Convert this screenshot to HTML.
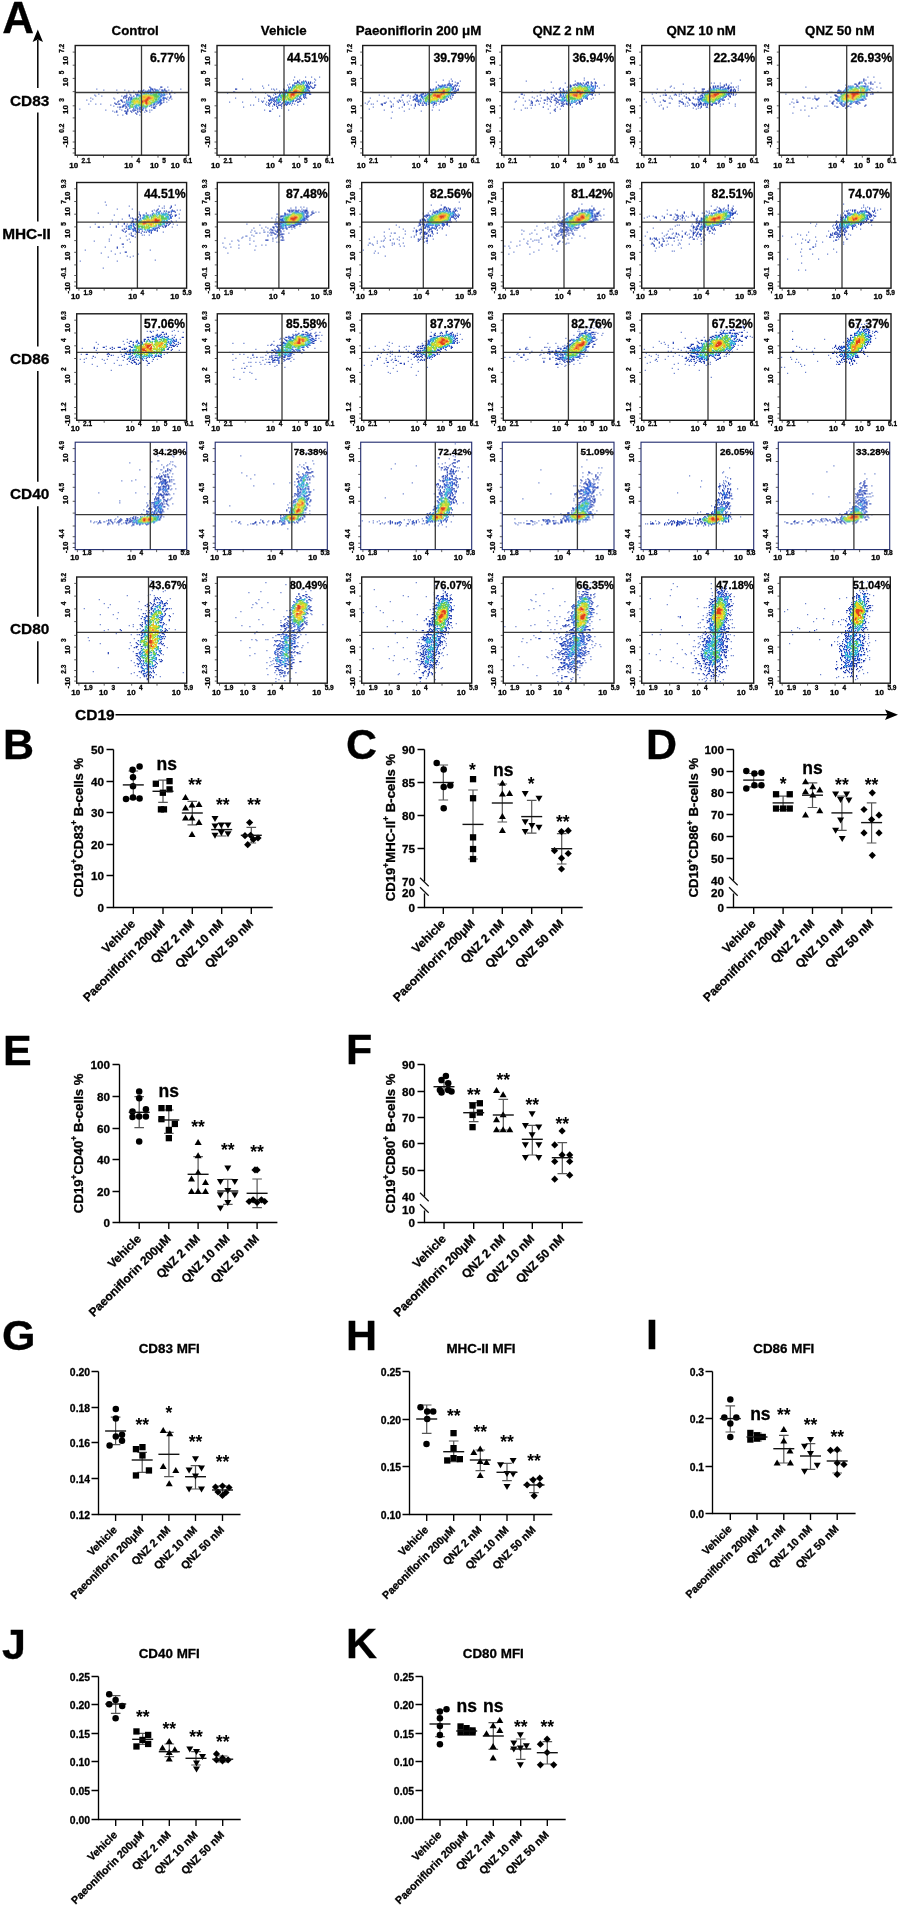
<!DOCTYPE html>
<html><head><meta charset="utf-8"><style>
html,body{margin:0;padding:0;background:#fff;}
svg{display:block;will-change:transform;font-family:"Liberation Sans",sans-serif;}
text{stroke:#000;stroke-width:0.3px;}
</style></head><body>
<svg width="901" height="1907" viewBox="0 0 901 1907">
<rect width="901" height="1907" fill="#fff"/>
<text x="2.3" y="32.8" font-size="44" font-weight="bold">A</text>
<text x="135.2" y="34.7" font-size="13.3" font-weight="bold" text-anchor="middle">Control</text>
<text x="283.7" y="34.7" font-size="13.3" font-weight="bold" text-anchor="middle">Vehicle</text>
<text x="418.5" y="34.7" font-size="13.3" font-weight="bold" text-anchor="middle">Paeoniflorin 200 μM</text>
<text x="563.5" y="34.7" font-size="13.3" font-weight="bold" text-anchor="middle">QNZ 2 nM</text>
<text x="701.2" y="34.7" font-size="13.3" font-weight="bold" text-anchor="middle">QNZ 10 nM</text>
<text x="839.8" y="34.7" font-size="13.3" font-weight="bold" text-anchor="middle">QNZ 50 nM</text>
<path d="M37.8 40.0V88.0M37.8 112.4V221.5M37.8 245.9V346.6M37.8 371.0V481.8M37.8 506.2V616.8M37.8 641.2V683.8" stroke="#000" stroke-width="1.5"/>
<path d="M37.8 29.5L32.6 42L37.8 39.5L43 42Z" fill="#000"/>
<text x="29.6" y="105.6" font-size="15.4" font-weight="bold" text-anchor="middle">CD83</text>
<text x="26.5" y="239.1" font-size="15.4" font-weight="bold" text-anchor="middle">MHC-II</text>
<text x="29.6" y="364.2" font-size="15.4" font-weight="bold" text-anchor="middle">CD86</text>
<text x="29.6" y="499.4" font-size="15.4" font-weight="bold" text-anchor="middle">CD40</text>
<text x="29.6" y="634.4" font-size="15.4" font-weight="bold" text-anchor="middle">CD80</text>
<text x="75" y="720" font-size="15.5" font-weight="bold">CD19</text>
<path d="M115.5 714.8H888" stroke="#000" stroke-width="1.4"/>
<path d="M898 714.8L885 709.6L887.5 714.8L885 720Z" fill="#000"/>
<g transform="translate(75.2 46.1)" stroke-width="1.2"><path stroke="#6b82cf" d="M92 41h1.2M21 43h1.2M84 43h1.2M105 43h1.2M28 44h1.2M41 44h1.2M49 44h1.2M93 44h1.2M53 45h1.2M58 45h1.2M96 45h1.2M42 47h1.2M51 47h1.2M99 47h1.2M23 48h1.2M54 48h1.2M91 48h1.2M19 49h1.2M20 50h1.2M26 50h1.2M46 50h1.2M92 51h1.2M15 52h1.2M38 52h1.2M17 53h1.2M39 53h1.2M96 53h1.2M11 54h1.2M93 54h1.2M15 55h1.2M91 56h1.2M13 58h1.2M20 58h1.2M25 58h1.2M35 59h1.2M38 60h1.2M42 61h1.2M4 63h1.2M44 63h1.2M30 64h1.2M46 64h1.2M74 64h1.2M76 64h1.2M37 65h1.2M39 66h1.2M69 66h1.2M74 66h1.2M42 69h1.2M47 69h1.2M64 69h1.2"/><path stroke="#1f3bb0" d="M74 41h1.2M85 41h1.2M86 41h1.2M75 42h1.2M76 43h1.2M77 43h1.2M79 43h1.2M89 43h1.2M68 44h1.2M73 44h1.2M77 44h1.2M80 44h1.2M86 44h1.2M87 44h1.2M89 44h1.2M63 45h1.2M65 45h1.2M66 45h1.2M67 45h1.2M78 45h1.2M90 45h1.2M91 45h1.2M63 46h1.2M66 46h1.2M65 47h1.2M94 47h1.2M60 48h1.2M62 48h1.2M94 48h1.2M51 49h1.2M55 49h1.2M61 49h1.2M49 50h1.2M50 50h1.2M58 50h1.2M95 50h1.2M48 51h1.2M51 51h1.2M54 51h1.2M56 51h1.2M95 51h1.2M48 52h1.2M50 52h1.2M53 52h1.2M90 52h1.2M94 52h1.2M53 53h1.2M91 53h1.2M45 54h1.2M46 54h1.2M51 54h1.2M53 54h1.2M86 54h1.2M88 54h1.2M43 55h1.2M46 55h1.2M42 56h1.2M47 56h1.2M49 56h1.2M88 56h1.2M39 57h1.2M85 57h1.2M86 57h1.2M40 58h1.2M41 58h1.2M43 58h1.2M44 58h1.2M50 58h1.2M79 58h1.2M81 58h1.2M85 58h1.2M48 59h1.2M78 59h1.2M84 59h1.2M47 60h1.2M48 60h1.2M50 60h1.2M74 60h1.2M80 60h1.2M44 61h1.2M45 61h1.2M47 61h1.2M51 61h1.2M76 61h1.2M78 61h1.2M50 62h1.2M54 62h1.2M78 62h1.2M79 62h1.2M52 63h1.2M62 63h1.2M64 63h1.2M52 64h1.2M57 64h1.2M59 64h1.2M60 64h1.2M66 64h1.2M67 64h1.2M70 64h1.2M41 65h1.2M49 65h1.2M50 65h1.2M52 65h1.2M55 65h1.2M58 65h1.2M62 65h1.2M64 65h1.2M71 65h1.2M41 66h1.2M51 66h1.2M56 66h1.2M62 66h1.2M65 66h1.2M50 67h1.2M51 67h1.2M60 67h1.2M51 68h1.2M61 68h1.2"/><path stroke="#2a60d8" d="M75 43h1.2M75 44h1.2M81 44h1.2M82 44h1.2M70 45h1.2M72 45h1.2M74 45h1.2M75 45h1.2M80 45h1.2M83 45h1.2M87 45h1.2M88 45h1.2M69 46h1.2M71 46h1.2M72 46h1.2M73 46h1.2M75 46h1.2M77 46h1.2M79 46h1.2M85 46h1.2M86 46h1.2M66 47h1.2M68 47h1.2M69 47h1.2M73 47h1.2M75 47h1.2M76 47h1.2M85 47h1.2M86 48h1.2M89 48h1.2M62 49h1.2M63 49h1.2M85 49h1.2M87 49h1.2M88 49h1.2M89 49h1.2M61 50h1.2M85 50h1.2M86 50h1.2M85 51h1.2M88 51h1.2M55 52h1.2M56 52h1.2M87 52h1.2M88 52h1.2M89 52h1.2M55 53h1.2M56 53h1.2M85 53h1.2M88 53h1.2M55 54h1.2M84 54h1.2M85 54h1.2M51 55h1.2M82 55h1.2M84 55h1.2M85 55h1.2M53 56h1.2M81 56h1.2M83 56h1.2M84 56h1.2M85 56h1.2M51 57h1.2M79 57h1.2M82 57h1.2M83 57h1.2M52 58h1.2M53 58h1.2M78 58h1.2M49 59h1.2M52 59h1.2M75 59h1.2M76 59h1.2M53 60h1.2M59 60h1.2M60 61h1.2M64 61h1.2M65 61h1.2M67 61h1.2M79 61h1.2M58 62h1.2M60 62h1.2M62 62h1.2M64 62h1.2M68 62h1.2M70 62h1.2M58 63h1.2M65 63h1.2M66 63h1.2M67 63h1.2"/><path stroke="#35b5d5" d="M81 45h1.2M82 45h1.2M80 46h1.2M83 46h1.2M88 46h1.2M71 47h1.2M72 47h1.2M78 47h1.2M80 47h1.2M82 47h1.2M83 47h1.2M84 47h1.2M88 47h1.2M66 48h1.2M68 48h1.2M69 48h1.2M73 48h1.2M75 48h1.2M77 48h1.2M83 48h1.2M84 48h1.2M88 48h1.2M64 49h1.2M65 49h1.2M82 49h1.2M83 49h1.2M84 49h1.2M63 50h1.2M64 50h1.2M61 51h1.2M83 51h1.2M84 51h1.2M58 52h1.2M59 52h1.2M83 52h1.2M84 52h1.2M57 53h1.2M82 53h1.2M83 53h1.2M83 54h1.2M55 55h1.2M80 55h1.2M81 55h1.2M51 56h1.2M52 56h1.2M54 56h1.2M55 56h1.2M79 56h1.2M80 56h1.2M54 57h1.2M55 57h1.2M78 57h1.2M54 58h1.2M76 58h1.2M54 59h1.2M60 59h1.2M61 59h1.2M62 59h1.2M63 59h1.2M54 60h1.2M60 60h1.2M61 60h1.2M63 60h1.2M66 60h1.2M69 60h1.2M72 60h1.2M54 61h1.2M58 61h1.2M61 61h1.2M69 61h1.2M71 61h1.2M61 62h1.2"/><path stroke="#5ac85c" d="M81 46h1.2M82 46h1.2M81 47h1.2M70 48h1.2M71 48h1.2M78 48h1.2M79 48h1.2M80 48h1.2M81 48h1.2M66 49h1.2M74 49h1.2M75 49h1.2M76 49h1.2M77 49h1.2M78 49h1.2M79 49h1.2M80 49h1.2M81 49h1.2M65 50h1.2M78 50h1.2M79 50h1.2M80 50h1.2M81 50h1.2M82 50h1.2M83 50h1.2M64 51h1.2M65 51h1.2M79 51h1.2M80 51h1.2M81 51h1.2M82 51h1.2M60 52h1.2M61 52h1.2M63 52h1.2M79 52h1.2M81 52h1.2M58 53h1.2M59 53h1.2M60 53h1.2M61 53h1.2M62 53h1.2M63 53h1.2M79 53h1.2M80 53h1.2M81 53h1.2M57 54h1.2M64 54h1.2M80 54h1.2M81 54h1.2M56 55h1.2M64 55h1.2M79 55h1.2M56 56h1.2M57 56h1.2M76 56h1.2M77 56h1.2M78 56h1.2M76 57h1.2M56 58h1.2M57 58h1.2M58 58h1.2M61 58h1.2M63 58h1.2M64 58h1.2M75 58h1.2M55 59h1.2M57 59h1.2M64 59h1.2M65 59h1.2M66 59h1.2M68 59h1.2M72 59h1.2M55 60h1.2M57 60h1.2M67 60h1.2M68 60h1.2M70 60h1.2M71 60h1.2M55 61h1.2M56 61h1.2M57 61h1.2M70 61h1.2"/><path stroke="#b5d935" d="M68 49h1.2M69 49h1.2M70 49h1.2M71 49h1.2M72 49h1.2M73 49h1.2M66 50h1.2M75 50h1.2M76 50h1.2M77 50h1.2M66 51h1.2M78 51h1.2M64 52h1.2M65 52h1.2M66 52h1.2M78 52h1.2M80 52h1.2M65 53h1.2M67 53h1.2M78 53h1.2M58 54h1.2M59 54h1.2M61 54h1.2M62 54h1.2M65 54h1.2M75 54h1.2M76 54h1.2M77 54h1.2M78 54h1.2M57 55h1.2M58 55h1.2M59 55h1.2M60 55h1.2M63 55h1.2M73 55h1.2M74 55h1.2M77 55h1.2M78 55h1.2M58 56h1.2M63 56h1.2M64 56h1.2M73 56h1.2M74 56h1.2M75 56h1.2M58 57h1.2M60 57h1.2M62 57h1.2M63 57h1.2M64 57h1.2M75 57h1.2M59 58h1.2M65 58h1.2M67 58h1.2M68 58h1.2M73 58h1.2M74 58h1.2M67 59h1.2M71 59h1.2M56 60h1.2"/><path stroke="#f2d21e" d="M67 50h1.2M68 50h1.2M69 50h1.2M70 50h1.2M71 50h1.2M72 50h1.2M73 50h1.2M74 50h1.2M67 51h1.2M70 51h1.2M71 51h1.2M75 51h1.2M76 51h1.2M77 51h1.2M67 52h1.2M68 52h1.2M69 52h1.2M70 52h1.2M77 52h1.2M68 53h1.2M69 53h1.2M75 53h1.2M76 53h1.2M77 53h1.2M66 54h1.2M67 54h1.2M73 54h1.2M61 55h1.2M62 55h1.2M65 55h1.2M72 55h1.2M59 56h1.2M60 56h1.2M61 56h1.2M62 56h1.2M65 56h1.2M68 56h1.2M69 56h1.2M72 56h1.2M59 57h1.2M65 57h1.2M67 57h1.2M68 57h1.2M69 57h1.2M73 57h1.2M74 57h1.2M66 58h1.2M70 58h1.2M72 58h1.2"/><path stroke="#f0862a" d="M68 51h1.2M69 51h1.2M72 51h1.2M74 51h1.2M71 52h1.2M75 52h1.2M76 52h1.2M70 53h1.2M73 53h1.2M74 53h1.2M68 54h1.2M69 54h1.2M68 55h1.2M66 57h1.2M72 57h1.2"/><path stroke="#e0401a" d="M73 51h1.2M72 52h1.2M73 52h1.2M74 52h1.2M71 53h1.2M72 53h1.2M70 54h1.2M71 54h1.2M72 54h1.2M66 55h1.2M67 55h1.2M69 55h1.2M70 55h1.2M71 55h1.2M66 56h1.2M67 56h1.2M70 56h1.2M71 56h1.2M70 57h1.2M71 57h1.2M71 58h1.2"/></g>
<g transform="translate(217.0 46.1)" stroke-width="1.2"><path stroke="#6b82cf" d="M77 31h1.2M88 31h1.2M94 31h1.2M102 31h1.2M25 33h1.2M97 33h1.2M76 34h1.2M82 34h1.2M98 34h1.2M97 36h1.2M95 37h1.2M72 38h1.2M51 39h1.2M70 39h1.2M45 40h1.2M46 42h1.2M33 43h1.2M54 43h1.2M56 43h1.2M59 43h1.2M57 44h1.2M62 45h1.2M35 46h1.2M10 47h1.2M48 47h1.2M57 47h1.2M60 47h1.2M50 49h1.2M56 49h1.2M38 51h1.2M18 52h1.2M47 52h1.2M89 52h1.2M41 53h1.2M41 55h1.2M44 55h1.2M46 55h1.2M12 56h1.2M25 56h1.2M49 56h1.2M48 58h1.2M77 58h1.2M86 58h1.2M33 59h1.2M36 59h1.2M49 59h1.2M74 59h1.2M80 59h1.2M52 60h1.2M55 60h1.2M26 61h1.2M64 62h1.2M55 63h1.2M47 64h1.2M71 64h1.2M62 70h1.2"/><path stroke="#1f3bb0" d="M80 35h1.2M86 35h1.2M88 35h1.2M80 36h1.2M81 36h1.2M84 36h1.2M91 36h1.2M93 36h1.2M77 37h1.2M78 37h1.2M79 37h1.2M82 37h1.2M91 37h1.2M93 37h1.2M90 38h1.2M92 38h1.2M75 39h1.2M97 39h1.2M98 39h1.2M93 40h1.2M71 41h1.2M73 41h1.2M94 41h1.2M97 41h1.2M92 42h1.2M95 42h1.2M96 42h1.2M18 43h1.2M19 43h1.2M66 43h1.2M67 44h1.2M69 44h1.2M91 44h1.2M68 45h1.2M92 45h1.2M16 46h1.2M17 46h1.2M64 46h1.2M63 47h1.2M58 48h1.2M62 48h1.2M92 48h1.2M93 48h1.2M88 49h1.2M51 50h1.2M52 50h1.2M53 51h1.2M58 51h1.2M59 51h1.2M82 51h1.2M86 51h1.2M88 51h1.2M55 52h1.2M57 52h1.2M83 52h1.2M87 52h1.2M53 53h1.2M56 53h1.2M80 53h1.2M81 53h1.2M82 53h1.2M84 53h1.2M51 54h1.2M52 54h1.2M57 54h1.2M79 54h1.2M52 55h1.2M56 55h1.2M58 55h1.2M76 55h1.2M78 55h1.2M82 55h1.2M83 55h1.2M45 56h1.2M54 56h1.2M57 56h1.2M80 56h1.2M81 56h1.2M51 57h1.2M53 57h1.2M61 57h1.2M65 57h1.2M75 57h1.2M52 58h1.2M56 58h1.2M57 58h1.2M59 58h1.2M64 58h1.2M68 58h1.2M70 58h1.2M72 58h1.2M51 59h1.2M57 59h1.2M61 59h1.2M62 59h1.2M63 59h1.2M67 59h1.2M69 59h1.2M59 60h1.2M64 60h1.2M60 61h1.2M60 62h1.2M52 65h1.2M53 65h1.2"/><path stroke="#2a60d8" d="M85 36h1.2M87 36h1.2M89 36h1.2M89 37h1.2M83 38h1.2M84 38h1.2M76 39h1.2M77 39h1.2M88 39h1.2M89 39h1.2M90 39h1.2M75 40h1.2M89 40h1.2M90 40h1.2M91 40h1.2M89 41h1.2M90 41h1.2M91 41h1.2M92 41h1.2M72 42h1.2M89 42h1.2M91 42h1.2M71 43h1.2M90 43h1.2M89 44h1.2M90 44h1.2M69 45h1.2M69 46h1.2M89 46h1.2M90 46h1.2M91 46h1.2M65 47h1.2M67 47h1.2M88 47h1.2M89 47h1.2M90 47h1.2M91 47h1.2M92 47h1.2M86 48h1.2M87 48h1.2M88 48h1.2M62 49h1.2M86 49h1.2M61 50h1.2M62 50h1.2M83 50h1.2M86 50h1.2M87 50h1.2M60 51h1.2M63 51h1.2M54 53h1.2M59 53h1.2M53 54h1.2M54 54h1.2M55 54h1.2M59 54h1.2M76 54h1.2M75 55h1.2M59 56h1.2M61 56h1.2M62 56h1.2M63 56h1.2M69 56h1.2M70 56h1.2M71 56h1.2M60 57h1.2M68 57h1.2M70 57h1.2M71 57h1.2M73 57h1.2M69 58h1.2"/><path stroke="#35b5d5" d="M86 36h1.2M85 37h1.2M86 37h1.2M87 37h1.2M80 38h1.2M81 38h1.2M86 38h1.2M76 40h1.2M77 40h1.2M87 40h1.2M75 41h1.2M74 42h1.2M75 42h1.2M88 42h1.2M72 43h1.2M74 43h1.2M87 43h1.2M88 43h1.2M71 44h1.2M74 44h1.2M88 44h1.2M71 45h1.2M87 45h1.2M88 45h1.2M89 45h1.2M70 46h1.2M87 46h1.2M88 46h1.2M68 47h1.2M69 47h1.2M65 48h1.2M66 48h1.2M67 48h1.2M68 48h1.2M85 48h1.2M63 49h1.2M68 49h1.2M83 49h1.2M84 49h1.2M63 50h1.2M81 50h1.2M61 51h1.2M64 51h1.2M80 51h1.2M61 52h1.2M64 52h1.2M78 52h1.2M79 52h1.2M60 53h1.2M63 53h1.2M60 54h1.2M62 54h1.2M64 54h1.2M75 54h1.2M60 55h1.2M61 55h1.2M62 55h1.2M68 55h1.2M69 55h1.2M73 55h1.2M74 55h1.2M66 56h1.2M67 56h1.2M68 56h1.2M72 56h1.2M73 56h1.2"/><path stroke="#5ac85c" d="M79 39h1.2M80 39h1.2M81 39h1.2M82 39h1.2M83 39h1.2M85 39h1.2M86 39h1.2M78 40h1.2M77 41h1.2M78 41h1.2M87 41h1.2M76 42h1.2M77 42h1.2M87 42h1.2M86 43h1.2M72 44h1.2M73 44h1.2M75 44h1.2M85 44h1.2M86 44h1.2M72 45h1.2M73 45h1.2M85 45h1.2M86 45h1.2M71 46h1.2M85 46h1.2M86 46h1.2M70 47h1.2M84 47h1.2M85 47h1.2M70 48h1.2M83 48h1.2M84 48h1.2M64 49h1.2M65 49h1.2M66 49h1.2M67 49h1.2M70 49h1.2M80 49h1.2M81 49h1.2M64 50h1.2M65 50h1.2M67 50h1.2M68 50h1.2M69 50h1.2M70 50h1.2M79 50h1.2M80 50h1.2M65 51h1.2M68 51h1.2M78 51h1.2M68 52h1.2M71 52h1.2M77 52h1.2M61 53h1.2M62 53h1.2M71 53h1.2M72 53h1.2M73 53h1.2M76 53h1.2M61 54h1.2M69 54h1.2M71 54h1.2M72 54h1.2M73 54h1.2M74 54h1.2M66 55h1.2M67 55h1.2"/><path stroke="#b5d935" d="M79 40h1.2M81 40h1.2M82 40h1.2M83 40h1.2M84 40h1.2M85 40h1.2M86 40h1.2M79 41h1.2M80 41h1.2M81 41h1.2M82 41h1.2M83 41h1.2M84 41h1.2M86 41h1.2M79 42h1.2M80 42h1.2M81 42h1.2M82 42h1.2M84 42h1.2M85 42h1.2M86 42h1.2M76 43h1.2M77 43h1.2M79 43h1.2M82 43h1.2M83 43h1.2M84 43h1.2M85 43h1.2M83 44h1.2M84 44h1.2M84 45h1.2M72 46h1.2M73 46h1.2M74 46h1.2M84 46h1.2M71 47h1.2M83 47h1.2M71 48h1.2M81 48h1.2M82 48h1.2M71 49h1.2M78 49h1.2M79 49h1.2M66 50h1.2M71 50h1.2M66 51h1.2M67 51h1.2M69 51h1.2M70 51h1.2M72 51h1.2M77 51h1.2M65 52h1.2M70 52h1.2M72 52h1.2M73 52h1.2M75 52h1.2M76 52h1.2M65 53h1.2M67 53h1.2M68 53h1.2M69 53h1.2M70 53h1.2M74 53h1.2M75 53h1.2M65 54h1.2M66 54h1.2"/><path stroke="#f2d21e" d="M78 43h1.2M76 44h1.2M77 44h1.2M80 44h1.2M81 44h1.2M76 45h1.2M83 45h1.2M75 46h1.2M80 46h1.2M81 46h1.2M83 46h1.2M72 47h1.2M73 47h1.2M79 47h1.2M80 47h1.2M81 47h1.2M82 47h1.2M72 48h1.2M78 48h1.2M79 48h1.2M72 49h1.2M72 50h1.2M77 50h1.2M75 51h1.2M76 51h1.2M66 52h1.2M74 52h1.2M66 53h1.2"/><path stroke="#f0862a" d="M78 44h1.2M79 44h1.2M80 45h1.2M81 45h1.2M82 45h1.2M82 46h1.2M74 47h1.2M78 47h1.2M73 48h1.2M77 48h1.2M73 49h1.2M77 49h1.2M73 50h1.2M74 50h1.2M76 50h1.2M73 51h1.2M74 51h1.2"/><path stroke="#e0401a" d="M77 45h1.2M78 45h1.2M79 45h1.2M76 46h1.2M77 46h1.2M78 46h1.2M79 46h1.2M75 47h1.2M76 47h1.2M77 47h1.2M74 48h1.2M75 48h1.2M76 48h1.2M74 49h1.2M75 49h1.2M76 49h1.2"/></g>
<g transform="translate(362.7 46.1)" stroke-width="1.2"><path stroke="#6b82cf" d="M88 33h1.2M80 34h1.2M86 35h1.2M97 35h1.2M73 36h1.2M92 36h1.2M96 40h1.2M16 49h1.2M45 49h1.2M21 50h1.2M44 50h1.2M47 50h1.2M38 51h1.2M89 51h1.2M7 52h1.2M25 52h1.2M31 52h1.2M47 52h1.2M88 53h1.2M39 54h1.2M6 55h1.2M14 55h1.2M27 55h1.2M34 55h1.2M46 55h1.2M5 56h1.2M23 56h1.2M28 56h1.2M40 56h1.2M44 56h1.2M2 57h1.2M4 58h1.2M8 58h1.2M10 58h1.2M30 58h1.2M45 58h1.2M76 58h1.2M48 59h1.2M73 59h1.2M30 60h1.2M10 61h1.2M39 61h1.2M70 61h1.2M36 62h1.2M51 62h1.2M6 63h1.2M46 63h1.2M21 64h1.2M69 64h1.2M76 64h1.2M41 65h1.2M58 65h1.2M29 66h1.2M28 72h1.2"/><path stroke="#1f3bb0" d="M89 35h1.2M86 37h1.2M94 37h1.2M95 37h1.2M85 38h1.2M87 38h1.2M89 38h1.2M75 39h1.2M79 39h1.2M82 39h1.2M84 39h1.2M92 39h1.2M94 39h1.2M76 40h1.2M91 40h1.2M93 40h1.2M73 41h1.2M90 41h1.2M90 42h1.2M92 42h1.2M67 43h1.2M70 43h1.2M90 43h1.2M92 43h1.2M95 43h1.2M67 44h1.2M68 44h1.2M94 44h1.2M95 44h1.2M91 45h1.2M93 45h1.2M66 46h1.2M92 46h1.2M60 47h1.2M62 47h1.2M91 47h1.2M92 47h1.2M52 48h1.2M58 48h1.2M59 48h1.2M60 48h1.2M39 49h1.2M40 49h1.2M53 49h1.2M54 49h1.2M62 49h1.2M89 49h1.2M90 49h1.2M51 50h1.2M54 50h1.2M56 50h1.2M87 50h1.2M50 51h1.2M85 51h1.2M87 52h1.2M51 53h1.2M52 53h1.2M57 53h1.2M84 53h1.2M36 54h1.2M50 54h1.2M52 54h1.2M55 54h1.2M83 54h1.2M84 54h1.2M37 55h1.2M53 55h1.2M54 55h1.2M77 55h1.2M81 55h1.2M35 56h1.2M55 56h1.2M77 56h1.2M79 56h1.2M80 56h1.2M21 57h1.2M22 57h1.2M57 57h1.2M59 57h1.2M61 57h1.2M71 57h1.2M73 57h1.2M18 58h1.2M19 58h1.2M41 58h1.2M52 58h1.2M55 58h1.2M66 58h1.2M71 58h1.2M19 59h1.2M41 59h1.2M52 59h1.2M56 59h1.2M59 59h1.2M60 59h1.2M63 59h1.2M70 59h1.2M28 60h1.2M52 60h1.2M28 61h1.2"/><path stroke="#2a60d8" d="M81 39h1.2M85 39h1.2M86 39h1.2M87 39h1.2M88 39h1.2M77 40h1.2M78 40h1.2M79 40h1.2M80 40h1.2M81 40h1.2M87 40h1.2M88 40h1.2M77 41h1.2M78 41h1.2M82 41h1.2M83 41h1.2M84 41h1.2M89 41h1.2M73 42h1.2M75 42h1.2M72 43h1.2M89 43h1.2M69 44h1.2M70 44h1.2M89 44h1.2M92 45h1.2M68 46h1.2M90 46h1.2M65 47h1.2M66 47h1.2M88 47h1.2M89 47h1.2M90 47h1.2M64 48h1.2M88 48h1.2M57 49h1.2M58 49h1.2M63 49h1.2M58 50h1.2M59 50h1.2M61 50h1.2M62 50h1.2M53 51h1.2M54 51h1.2M58 51h1.2M59 51h1.2M53 52h1.2M54 52h1.2M59 52h1.2M53 53h1.2M54 53h1.2M60 53h1.2M83 53h1.2M57 54h1.2M58 54h1.2M55 55h1.2M56 55h1.2M60 55h1.2M75 55h1.2M78 55h1.2M57 56h1.2M61 56h1.2M65 56h1.2M70 56h1.2M71 56h1.2M62 57h1.2M63 57h1.2M68 57h1.2M69 57h1.2M72 57h1.2M63 58h1.2M65 58h1.2"/><path stroke="#35b5d5" d="M80 41h1.2M81 41h1.2M86 41h1.2M87 41h1.2M76 42h1.2M77 42h1.2M79 42h1.2M88 42h1.2M73 43h1.2M74 43h1.2M88 43h1.2M72 44h1.2M88 44h1.2M87 45h1.2M69 46h1.2M86 46h1.2M87 46h1.2M87 47h1.2M65 48h1.2M66 48h1.2M67 48h1.2M68 48h1.2M86 49h1.2M87 49h1.2M83 50h1.2M84 50h1.2M85 50h1.2M60 51h1.2M83 51h1.2M61 52h1.2M82 52h1.2M80 53h1.2M81 53h1.2M65 54h1.2M78 54h1.2M57 55h1.2M58 55h1.2M64 55h1.2M69 55h1.2M71 55h1.2M72 55h1.2M74 55h1.2M63 56h1.2M66 56h1.2M68 56h1.2M69 56h1.2"/><path stroke="#5ac85c" d="M80 42h1.2M84 42h1.2M85 42h1.2M86 42h1.2M75 43h1.2M78 43h1.2M79 43h1.2M87 43h1.2M74 44h1.2M86 44h1.2M72 45h1.2M85 45h1.2M70 46h1.2M85 46h1.2M69 47h1.2M85 47h1.2M86 47h1.2M69 48h1.2M85 48h1.2M86 48h1.2M65 49h1.2M66 49h1.2M67 49h1.2M68 49h1.2M84 49h1.2M64 50h1.2M65 50h1.2M67 50h1.2M81 50h1.2M82 50h1.2M63 51h1.2M64 51h1.2M80 51h1.2M81 51h1.2M82 51h1.2M62 52h1.2M63 52h1.2M64 52h1.2M80 52h1.2M81 52h1.2M62 53h1.2M63 53h1.2M64 53h1.2M65 53h1.2M75 53h1.2M77 53h1.2M78 53h1.2M79 53h1.2M62 54h1.2M66 54h1.2M74 54h1.2M62 55h1.2M63 55h1.2M66 55h1.2M68 55h1.2M73 55h1.2M67 56h1.2"/><path stroke="#b5d935" d="M76 43h1.2M80 43h1.2M81 43h1.2M82 43h1.2M83 43h1.2M84 43h1.2M85 43h1.2M86 43h1.2M77 44h1.2M78 44h1.2M79 44h1.2M83 44h1.2M84 44h1.2M85 44h1.2M73 45h1.2M74 45h1.2M75 45h1.2M83 45h1.2M84 45h1.2M71 46h1.2M72 46h1.2M73 46h1.2M74 46h1.2M75 46h1.2M76 46h1.2M84 46h1.2M70 47h1.2M75 47h1.2M76 47h1.2M83 48h1.2M84 48h1.2M69 49h1.2M81 49h1.2M66 50h1.2M68 50h1.2M79 50h1.2M80 50h1.2M65 51h1.2M66 51h1.2M67 51h1.2M68 51h1.2M69 51h1.2M79 51h1.2M65 52h1.2M66 52h1.2M67 52h1.2M69 52h1.2M76 52h1.2M79 52h1.2M67 53h1.2M74 53h1.2M63 54h1.2M67 54h1.2M68 54h1.2M69 54h1.2M70 54h1.2M71 54h1.2M73 54h1.2M67 55h1.2"/><path stroke="#f2d21e" d="M76 44h1.2M82 44h1.2M76 45h1.2M77 45h1.2M78 45h1.2M79 45h1.2M82 45h1.2M77 46h1.2M78 46h1.2M82 46h1.2M83 46h1.2M71 47h1.2M72 47h1.2M73 47h1.2M74 47h1.2M77 47h1.2M82 47h1.2M83 47h1.2M84 47h1.2M70 48h1.2M73 48h1.2M74 48h1.2M75 48h1.2M76 48h1.2M82 48h1.2M79 49h1.2M80 49h1.2M69 50h1.2M78 50h1.2M71 51h1.2M72 51h1.2M73 51h1.2M78 51h1.2M70 52h1.2M71 52h1.2M72 52h1.2M73 52h1.2M74 52h1.2M77 52h1.2M78 52h1.2M68 53h1.2M69 53h1.2M70 53h1.2M71 53h1.2M72 53h1.2M73 53h1.2"/><path stroke="#f0862a" d="M80 44h1.2M81 44h1.2M79 46h1.2M81 46h1.2M78 47h1.2M81 47h1.2M71 48h1.2M72 48h1.2M77 48h1.2M79 48h1.2M80 48h1.2M81 48h1.2M70 49h1.2M73 49h1.2M77 49h1.2M78 49h1.2M70 50h1.2M71 50h1.2M72 50h1.2M77 50h1.2M77 51h1.2"/><path stroke="#e0401a" d="M80 45h1.2M81 45h1.2M80 46h1.2M79 47h1.2M80 47h1.2M78 48h1.2M71 49h1.2M72 49h1.2M74 49h1.2M75 49h1.2M76 49h1.2M73 50h1.2M74 50h1.2M75 50h1.2M76 50h1.2M74 51h1.2M75 51h1.2M76 51h1.2"/></g>
<g transform="translate(501.7 46.1)" stroke-width="1.2"><path stroke="#6b82cf" d="M82 32h1.2M92 33h1.2M82 34h1.2M24 35h1.2M73 35h1.2M49 36h1.2M63 37h1.2M102 39h1.2M65 41h1.2M51 42h1.2M97 42h1.2M42 44h1.2M30 46h1.2M52 46h1.2M45 47h1.2M49 48h1.2M97 48h1.2M22 49h1.2M38 49h1.2M93 49h1.2M35 50h1.2M17 51h1.2M30 51h1.2M21 52h1.2M32 52h1.2M39 52h1.2M91 52h1.2M89 53h1.2M27 54h1.2M14 55h1.2M23 55h1.2M38 55h1.2M45 55h1.2M13 56h1.2M37 58h1.2M45 58h1.2M21 59h1.2M28 59h1.2M33 59h1.2M53 59h1.2M48 60h1.2M55 61h1.2M70 61h1.2M23 62h1.2M25 62h1.2M29 62h1.2M12 63h1.2M46 63h1.2M58 63h1.2M19 64h1.2M48 67h1.2"/><path stroke="#1f3bb0" d="M85 36h1.2M86 36h1.2M89 36h1.2M93 36h1.2M75 37h1.2M76 37h1.2M78 37h1.2M81 37h1.2M84 37h1.2M86 37h1.2M90 37h1.2M93 37h1.2M94 37h1.2M73 38h1.2M79 38h1.2M84 38h1.2M89 38h1.2M68 39h1.2M71 39h1.2M72 39h1.2M74 39h1.2M75 39h1.2M80 39h1.2M93 39h1.2M68 40h1.2M69 40h1.2M95 40h1.2M68 41h1.2M58 42h1.2M57 43h1.2M61 43h1.2M61 44h1.2M58 45h1.2M62 45h1.2M64 45h1.2M92 45h1.2M38 46h1.2M39 46h1.2M59 46h1.2M92 46h1.2M54 47h1.2M58 47h1.2M91 47h1.2M19 48h1.2M20 48h1.2M54 48h1.2M89 48h1.2M90 48h1.2M51 49h1.2M90 49h1.2M52 50h1.2M45 51h1.2M49 51h1.2M50 51h1.2M57 51h1.2M46 52h1.2M53 52h1.2M54 52h1.2M85 52h1.2M45 53h1.2M47 53h1.2M49 53h1.2M55 53h1.2M85 53h1.2M35 54h1.2M42 54h1.2M43 54h1.2M52 54h1.2M53 54h1.2M56 54h1.2M57 54h1.2M80 54h1.2M29 55h1.2M34 55h1.2M36 55h1.2M48 55h1.2M54 55h1.2M77 55h1.2M79 55h1.2M80 55h1.2M30 56h1.2M49 56h1.2M55 56h1.2M56 56h1.2M61 56h1.2M77 56h1.2M78 56h1.2M29 57h1.2M30 57h1.2M42 57h1.2M54 57h1.2M59 57h1.2M60 57h1.2M64 57h1.2M75 57h1.2M77 57h1.2M57 58h1.2M61 58h1.2M62 58h1.2M64 58h1.2M65 58h1.2M68 58h1.2M74 58h1.2M78 58h1.2M30 59h1.2M60 59h1.2M66 59h1.2M68 59h1.2M59 60h1.2M61 60h1.2M41 61h1.2M53 63h1.2M52 64h1.2M53 65h1.2"/><path stroke="#2a60d8" d="M76 38h1.2M77 38h1.2M78 38h1.2M83 38h1.2M82 39h1.2M85 39h1.2M86 39h1.2M89 39h1.2M83 40h1.2M85 40h1.2M89 40h1.2M90 40h1.2M91 40h1.2M93 40h1.2M91 41h1.2M93 41h1.2M90 42h1.2M93 42h1.2M88 43h1.2M89 43h1.2M92 43h1.2M66 44h1.2M90 44h1.2M91 44h1.2M89 45h1.2M90 45h1.2M60 46h1.2M61 46h1.2M91 46h1.2M60 47h1.2M62 47h1.2M64 47h1.2M58 48h1.2M87 48h1.2M88 48h1.2M58 49h1.2M59 49h1.2M61 49h1.2M63 49h1.2M86 49h1.2M58 50h1.2M61 50h1.2M85 50h1.2M59 51h1.2M60 51h1.2M62 51h1.2M63 51h1.2M84 51h1.2M62 52h1.2M81 52h1.2M83 52h1.2M84 52h1.2M79 53h1.2M58 54h1.2M62 54h1.2M63 54h1.2M76 54h1.2M59 55h1.2M60 55h1.2M62 55h1.2M64 55h1.2M74 55h1.2M72 56h1.2M73 56h1.2M66 57h1.2M67 57h1.2M69 57h1.2M70 57h1.2"/><path stroke="#35b5d5" d="M77 39h1.2M78 39h1.2M76 40h1.2M79 40h1.2M81 40h1.2M82 40h1.2M87 40h1.2M80 41h1.2M85 41h1.2M86 41h1.2M87 41h1.2M88 41h1.2M69 42h1.2M87 42h1.2M91 42h1.2M68 43h1.2M86 43h1.2M90 43h1.2M67 44h1.2M68 44h1.2M69 44h1.2M86 44h1.2M87 44h1.2M66 45h1.2M88 45h1.2M65 46h1.2M84 46h1.2M88 46h1.2M61 47h1.2M65 47h1.2M84 47h1.2M85 47h1.2M88 47h1.2M61 48h1.2M85 48h1.2M64 49h1.2M83 49h1.2M84 49h1.2M82 50h1.2M83 50h1.2M84 50h1.2M81 51h1.2M82 51h1.2M83 51h1.2M60 52h1.2M61 52h1.2M64 52h1.2M60 53h1.2M61 53h1.2M64 53h1.2M78 53h1.2M59 54h1.2M60 54h1.2M61 54h1.2M64 54h1.2M70 54h1.2M72 54h1.2M73 54h1.2M74 54h1.2M75 54h1.2M65 55h1.2M69 55h1.2M70 55h1.2M72 55h1.2M66 56h1.2M67 56h1.2M69 56h1.2M71 56h1.2"/><path stroke="#5ac85c" d="M77 40h1.2M78 40h1.2M72 41h1.2M73 41h1.2M75 41h1.2M76 41h1.2M79 41h1.2M82 41h1.2M83 41h1.2M84 41h1.2M70 42h1.2M84 42h1.2M85 42h1.2M70 43h1.2M85 43h1.2M82 44h1.2M83 44h1.2M84 44h1.2M85 44h1.2M67 45h1.2M69 45h1.2M82 45h1.2M83 45h1.2M84 45h1.2M85 45h1.2M86 45h1.2M87 45h1.2M83 46h1.2M86 46h1.2M87 46h1.2M83 47h1.2M87 47h1.2M82 48h1.2M81 49h1.2M64 50h1.2M67 50h1.2M80 50h1.2M81 50h1.2M64 51h1.2M67 51h1.2M68 51h1.2M69 51h1.2M70 51h1.2M68 52h1.2M69 52h1.2M70 52h1.2M71 52h1.2M72 52h1.2M73 52h1.2M79 52h1.2M67 53h1.2M68 53h1.2M69 53h1.2M70 53h1.2M71 53h1.2M72 53h1.2M73 53h1.2M75 53h1.2M77 53h1.2M65 54h1.2M67 54h1.2M66 55h1.2M67 55h1.2"/><path stroke="#b5d935" d="M77 41h1.2M78 41h1.2M71 42h1.2M73 42h1.2M74 42h1.2M75 42h1.2M76 42h1.2M77 42h1.2M79 42h1.2M80 42h1.2M81 42h1.2M82 42h1.2M83 42h1.2M73 43h1.2M74 43h1.2M76 43h1.2M77 43h1.2M78 43h1.2M79 43h1.2M81 43h1.2M82 43h1.2M83 43h1.2M84 43h1.2M73 44h1.2M79 44h1.2M81 44h1.2M70 45h1.2M72 45h1.2M73 45h1.2M66 46h1.2M68 46h1.2M69 46h1.2M70 46h1.2M72 46h1.2M73 46h1.2M82 46h1.2M66 47h1.2M82 47h1.2M66 48h1.2M65 49h1.2M66 49h1.2M67 49h1.2M68 49h1.2M80 49h1.2M65 50h1.2M68 50h1.2M69 50h1.2M65 51h1.2M66 51h1.2M71 51h1.2M72 51h1.2M79 51h1.2M65 52h1.2M66 52h1.2M74 52h1.2M75 52h1.2M77 52h1.2M78 52h1.2M66 53h1.2M66 54h1.2"/><path stroke="#f2d21e" d="M78 42h1.2M71 43h1.2M72 43h1.2M75 43h1.2M80 43h1.2M71 44h1.2M72 44h1.2M74 44h1.2M76 44h1.2M77 44h1.2M78 44h1.2M80 44h1.2M71 45h1.2M74 45h1.2M81 45h1.2M67 46h1.2M71 46h1.2M74 46h1.2M81 46h1.2M67 47h1.2M68 47h1.2M69 47h1.2M70 47h1.2M71 47h1.2M72 47h1.2M73 47h1.2M81 47h1.2M67 48h1.2M68 48h1.2M69 48h1.2M70 48h1.2M76 48h1.2M80 48h1.2M69 49h1.2M76 49h1.2M77 49h1.2M79 49h1.2M71 50h1.2M76 50h1.2M77 50h1.2M79 50h1.2M74 51h1.2M75 51h1.2M76 51h1.2M77 51h1.2M78 51h1.2M76 52h1.2"/><path stroke="#f0862a" d="M75 44h1.2M78 45h1.2M80 45h1.2M74 47h1.2M75 47h1.2M77 47h1.2M80 47h1.2M71 48h1.2M72 48h1.2M73 48h1.2M74 48h1.2M75 48h1.2M77 48h1.2M79 48h1.2M70 49h1.2M71 49h1.2M75 49h1.2M78 49h1.2M72 50h1.2M73 50h1.2M75 50h1.2M78 50h1.2"/><path stroke="#e0401a" d="M75 45h1.2M76 45h1.2M77 45h1.2M75 46h1.2M76 46h1.2M77 46h1.2M78 46h1.2M79 46h1.2M80 46h1.2M78 47h1.2M79 47h1.2M78 48h1.2M72 49h1.2M73 49h1.2M74 49h1.2M74 50h1.2"/></g>
<g transform="translate(641.7 46.1)" stroke-width="1.2"><path stroke="#6b82cf" d="M98 34h1.2M69 37h1.2M72 37h1.2M78 37h1.2M89 37h1.2M41 38h1.2M78 39h1.2M87 39h1.2M29 40h1.2M96 40h1.2M28 41h1.2M94 41h1.2M32 42h1.2M52 42h1.2M96 42h1.2M15 43h1.2M23 44h1.2M96 44h1.2M39 45h1.2M53 45h1.2M54 45h1.2M30 46h1.2M14 47h1.2M23 47h1.2M41 47h1.2M47 47h1.2M56 47h1.2M57 47h1.2M10 48h1.2M37 48h1.2M39 48h1.2M44 48h1.2M53 48h1.2M94 48h1.2M21 49h1.2M32 49h1.2M93 49h1.2M18 50h1.2M28 50h1.2M37 50h1.2M42 50h1.2M51 51h1.2M11 52h1.2M27 52h1.2M29 52h1.2M2 53h1.2M30 53h1.2M40 53h1.2M53 53h1.2M86 53h1.2M12 54h1.2M4 56h1.2M13 56h1.2M18 56h1.2M45 56h1.2M27 57h1.2M28 57h1.2M37 57h1.2M46 57h1.2M87 57h1.2M43 58h1.2M78 58h1.2M81 58h1.2M93 58h1.2M19 59h1.2M47 59h1.2M17 60h1.2M37 60h1.2M43 60h1.2M45 60h1.2M78 60h1.2M93 60h1.2M25 61h1.2M21 62h1.2M51 62h1.2M56 62h1.2M58 62h1.2M67 62h1.2M21 63h1.2M54 63h1.2"/><path stroke="#1f3bb0" d="M84 38h1.2M82 39h1.2M84 39h1.2M71 40h1.2M73 40h1.2M75 40h1.2M76 40h1.2M82 40h1.2M86 40h1.2M68 41h1.2M71 41h1.2M73 41h1.2M78 41h1.2M79 41h1.2M80 41h1.2M81 41h1.2M86 41h1.2M88 41h1.2M89 41h1.2M91 41h1.2M68 42h1.2M71 42h1.2M83 42h1.2M85 42h1.2M86 42h1.2M87 42h1.2M60 43h1.2M61 43h1.2M62 43h1.2M67 43h1.2M86 43h1.2M89 43h1.2M92 43h1.2M88 44h1.2M89 44h1.2M91 44h1.2M93 44h1.2M60 45h1.2M61 45h1.2M65 45h1.2M66 45h1.2M88 45h1.2M89 45h1.2M91 45h1.2M93 45h1.2M63 46h1.2M88 46h1.2M92 46h1.2M93 46h1.2M60 47h1.2M61 47h1.2M89 47h1.2M91 47h1.2M33 48h1.2M89 48h1.2M91 48h1.2M23 49h1.2M24 49h1.2M34 49h1.2M59 49h1.2M60 49h1.2M86 49h1.2M91 49h1.2M58 50h1.2M60 50h1.2M84 50h1.2M87 50h1.2M88 50h1.2M44 51h1.2M56 51h1.2M83 51h1.2M88 51h1.2M44 52h1.2M46 52h1.2M51 52h1.2M47 53h1.2M55 53h1.2M21 54h1.2M47 54h1.2M48 54h1.2M80 54h1.2M81 54h1.2M82 54h1.2M22 55h1.2M23 55h1.2M37 55h1.2M38 55h1.2M39 56h1.2M40 56h1.2M56 56h1.2M58 56h1.2M77 56h1.2M41 57h1.2M50 57h1.2M58 57h1.2M59 57h1.2M62 57h1.2M73 57h1.2M74 57h1.2M76 57h1.2M41 58h1.2M51 58h1.2M52 58h1.2M54 58h1.2M56 58h1.2M57 58h1.2M58 58h1.2M59 58h1.2M61 58h1.2M65 58h1.2M68 58h1.2M70 58h1.2M74 58h1.2M52 59h1.2M54 59h1.2M57 59h1.2M61 59h1.2M63 59h1.2M65 59h1.2M69 59h1.2M70 59h1.2M53 60h1.2M56 60h1.2M59 60h1.2M59 61h1.2M64 61h1.2M65 61h1.2"/><path stroke="#2a60d8" d="M72 42h1.2M74 42h1.2M75 42h1.2M76 42h1.2M78 42h1.2M69 43h1.2M71 43h1.2M78 43h1.2M80 43h1.2M81 43h1.2M82 43h1.2M83 43h1.2M84 43h1.2M68 44h1.2M67 45h1.2M86 45h1.2M64 46h1.2M66 46h1.2M86 46h1.2M63 47h1.2M65 47h1.2M86 47h1.2M87 47h1.2M88 47h1.2M62 48h1.2M85 48h1.2M86 48h1.2M87 48h1.2M62 49h1.2M60 51h1.2M61 51h1.2M82 51h1.2M58 52h1.2M59 52h1.2M60 52h1.2M81 52h1.2M56 53h1.2M57 53h1.2M58 53h1.2M59 53h1.2M78 53h1.2M79 53h1.2M80 53h1.2M56 54h1.2M57 54h1.2M59 54h1.2M77 54h1.2M57 55h1.2M76 55h1.2M77 55h1.2M78 55h1.2M63 57h1.2M64 57h1.2M65 57h1.2M71 57h1.2M72 57h1.2M63 58h1.2M67 58h1.2"/><path stroke="#35b5d5" d="M72 43h1.2M74 43h1.2M76 43h1.2M77 43h1.2M69 44h1.2M70 44h1.2M71 44h1.2M72 44h1.2M73 44h1.2M78 44h1.2M79 44h1.2M80 44h1.2M81 44h1.2M82 44h1.2M83 44h1.2M84 44h1.2M85 44h1.2M68 45h1.2M67 46h1.2M68 46h1.2M84 46h1.2M85 46h1.2M66 47h1.2M67 47h1.2M84 47h1.2M63 48h1.2M64 48h1.2M65 48h1.2M84 48h1.2M83 49h1.2M84 49h1.2M82 50h1.2M62 51h1.2M81 51h1.2M62 52h1.2M78 52h1.2M80 52h1.2M60 53h1.2M61 53h1.2M77 53h1.2M60 54h1.2M63 54h1.2M74 54h1.2M75 54h1.2M60 55h1.2M61 55h1.2M62 55h1.2M63 55h1.2M64 55h1.2M73 55h1.2M63 56h1.2M64 56h1.2M65 56h1.2M68 56h1.2M72 56h1.2M66 57h1.2M67 57h1.2"/><path stroke="#5ac85c" d="M74 44h1.2M75 44h1.2M76 44h1.2M77 44h1.2M69 45h1.2M70 45h1.2M71 45h1.2M72 45h1.2M74 45h1.2M78 45h1.2M79 45h1.2M80 45h1.2M81 45h1.2M82 45h1.2M83 45h1.2M84 45h1.2M69 46h1.2M81 46h1.2M83 46h1.2M68 47h1.2M82 47h1.2M66 48h1.2M67 48h1.2M82 48h1.2M83 48h1.2M63 49h1.2M64 49h1.2M65 49h1.2M81 49h1.2M82 49h1.2M63 50h1.2M79 50h1.2M80 50h1.2M81 50h1.2M63 51h1.2M64 51h1.2M78 51h1.2M64 52h1.2M74 52h1.2M76 52h1.2M77 52h1.2M62 53h1.2M63 53h1.2M64 53h1.2M73 53h1.2M74 53h1.2M75 53h1.2M76 53h1.2M61 54h1.2M62 54h1.2M64 54h1.2M73 54h1.2M65 55h1.2M68 55h1.2M69 55h1.2M70 55h1.2M72 55h1.2M66 56h1.2M67 56h1.2M70 56h1.2M71 56h1.2"/><path stroke="#b5d935" d="M75 45h1.2M76 45h1.2M77 45h1.2M70 46h1.2M71 46h1.2M73 46h1.2M74 46h1.2M78 46h1.2M79 46h1.2M69 47h1.2M80 47h1.2M81 47h1.2M68 48h1.2M80 48h1.2M81 48h1.2M66 49h1.2M77 49h1.2M78 49h1.2M79 49h1.2M80 49h1.2M64 50h1.2M65 50h1.2M75 50h1.2M76 50h1.2M77 50h1.2M78 50h1.2M65 51h1.2M74 51h1.2M75 51h1.2M76 51h1.2M77 51h1.2M65 52h1.2M69 52h1.2M73 52h1.2M75 52h1.2M65 53h1.2M68 53h1.2M69 53h1.2M70 53h1.2M71 53h1.2M72 53h1.2M65 54h1.2M67 54h1.2M68 54h1.2M70 54h1.2M71 54h1.2M72 54h1.2M66 55h1.2M67 55h1.2M71 55h1.2"/><path stroke="#f2d21e" d="M75 46h1.2M76 46h1.2M77 46h1.2M70 47h1.2M71 47h1.2M72 47h1.2M78 47h1.2M79 47h1.2M69 48h1.2M70 48h1.2M77 48h1.2M78 48h1.2M79 48h1.2M67 49h1.2M76 49h1.2M66 50h1.2M74 50h1.2M66 51h1.2M69 51h1.2M66 52h1.2M67 52h1.2M68 52h1.2M70 52h1.2M71 52h1.2M72 52h1.2M66 53h1.2M67 53h1.2M66 54h1.2"/><path stroke="#f0862a" d="M73 47h1.2M74 47h1.2M77 47h1.2M71 48h1.2M68 49h1.2M69 49h1.2M70 49h1.2M71 49h1.2M75 49h1.2M67 50h1.2M69 50h1.2M70 50h1.2M71 50h1.2M72 50h1.2M67 51h1.2M68 51h1.2M70 51h1.2M71 51h1.2M72 51h1.2"/><path stroke="#e0401a" d="M75 47h1.2M76 47h1.2M72 48h1.2M73 48h1.2M74 48h1.2M75 48h1.2M76 48h1.2M72 49h1.2M73 49h1.2M74 49h1.2M68 50h1.2M73 50h1.2"/></g>
<g transform="translate(779.3 46.1)" stroke-width="1.2"><path stroke="#6b82cf" d="M88 31h1.2M94 31h1.2M86 34h1.2M95 36h1.2M89 37h1.2M100 37h1.2M66 39h1.2M26 41h1.2M97 41h1.2M101 42h1.2M93 43h1.2M50 46h1.2M52 46h1.2M98 46h1.2M6 48h1.2M47 48h1.2M35 50h1.2M51 51h1.2M28 52h1.2M30 52h1.2M13 53h1.2M33 53h1.2M17 54h1.2M50 55h1.2M12 56h1.2M14 57h1.2M57 57h1.2M10 58h1.2M25 60h1.2M38 60h1.2M45 60h1.2M47 60h1.2M55 60h1.2M14 61h1.2M71 61h1.2M36 62h1.2M21 64h1.2M25 64h1.2M13 67h1.2M29 70h1.2"/><path stroke="#1f3bb0" d="M84 33h1.2M84 34h1.2M84 35h1.2M80 36h1.2M91 36h1.2M79 37h1.2M80 37h1.2M85 37h1.2M91 37h1.2M75 38h1.2M76 38h1.2M79 38h1.2M86 38h1.2M91 38h1.2M93 38h1.2M77 39h1.2M69 40h1.2M71 40h1.2M77 40h1.2M78 40h1.2M86 40h1.2M67 41h1.2M66 42h1.2M91 42h1.2M59 44h1.2M58 45h1.2M60 45h1.2M61 45h1.2M64 45h1.2M63 46h1.2M92 46h1.2M58 47h1.2M87 47h1.2M93 47h1.2M87 48h1.2M91 48h1.2M93 48h1.2M55 49h1.2M56 49h1.2M87 49h1.2M56 50h1.2M57 50h1.2M87 50h1.2M23 51h1.2M58 51h1.2M24 52h1.2M35 52h1.2M39 52h1.2M36 53h1.2M37 53h1.2M38 53h1.2M56 53h1.2M57 53h1.2M86 53h1.2M37 54h1.2M57 54h1.2M84 54h1.2M54 55h1.2M17 56h1.2M18 56h1.2M53 56h1.2M74 56h1.2M79 56h1.2M52 57h1.2M53 57h1.2M60 57h1.2M76 57h1.2M77 57h1.2M80 57h1.2M53 58h1.2M61 58h1.2M64 58h1.2M70 58h1.2M71 58h1.2M78 58h1.2M62 59h1.2M65 59h1.2M86 59h1.2M63 60h1.2M64 60h1.2M68 60h1.2M69 60h1.2M85 60h1.2M57 61h1.2M58 61h1.2M67 61h1.2M32 62h1.2M66 62h1.2"/><path stroke="#2a60d8" d="M82 36h1.2M73 40h1.2M83 40h1.2M84 40h1.2M85 40h1.2M88 40h1.2M69 41h1.2M76 41h1.2M79 41h1.2M85 41h1.2M88 41h1.2M66 43h1.2M68 43h1.2M89 43h1.2M65 44h1.2M90 44h1.2M59 46h1.2M59 47h1.2M60 47h1.2M62 47h1.2M61 48h1.2M62 48h1.2M59 51h1.2M85 52h1.2M58 53h1.2M82 53h1.2M83 53h1.2M58 54h1.2M80 54h1.2M81 54h1.2M82 54h1.2M83 54h1.2M58 55h1.2M59 55h1.2M75 55h1.2M77 55h1.2M78 55h1.2M61 56h1.2M62 56h1.2M68 56h1.2M76 56h1.2M77 56h1.2M62 57h1.2M66 57h1.2M71 57h1.2M72 57h1.2M62 58h1.2M65 58h1.2"/><path stroke="#35b5d5" d="M82 37h1.2M81 40h1.2M82 40h1.2M70 41h1.2M71 41h1.2M72 41h1.2M73 41h1.2M74 41h1.2M87 41h1.2M70 42h1.2M71 42h1.2M72 42h1.2M77 42h1.2M79 42h1.2M85 42h1.2M87 42h1.2M69 43h1.2M71 43h1.2M87 43h1.2M88 43h1.2M66 44h1.2M68 44h1.2M86 44h1.2M87 44h1.2M88 44h1.2M66 45h1.2M67 45h1.2M86 45h1.2M87 45h1.2M65 46h1.2M66 46h1.2M68 46h1.2M64 47h1.2M65 47h1.2M85 47h1.2M85 48h1.2M85 49h1.2M61 50h1.2M82 50h1.2M83 50h1.2M84 50h1.2M85 50h1.2M60 51h1.2M82 51h1.2M84 51h1.2M85 51h1.2M59 52h1.2M60 52h1.2M84 52h1.2M60 53h1.2M78 53h1.2M80 53h1.2M81 53h1.2M59 54h1.2M60 54h1.2M62 54h1.2M78 54h1.2M79 54h1.2M60 55h1.2M62 55h1.2M63 55h1.2M69 55h1.2M70 55h1.2M71 55h1.2M72 55h1.2M73 55h1.2M65 56h1.2M66 56h1.2M71 56h1.2M72 56h1.2"/><path stroke="#5ac85c" d="M80 41h1.2M82 41h1.2M75 42h1.2M76 42h1.2M80 42h1.2M82 42h1.2M83 42h1.2M84 42h1.2M72 43h1.2M73 43h1.2M77 43h1.2M78 43h1.2M81 43h1.2M85 43h1.2M69 44h1.2M71 44h1.2M81 44h1.2M81 45h1.2M85 45h1.2M69 46h1.2M81 46h1.2M85 46h1.2M67 47h1.2M68 47h1.2M82 47h1.2M64 48h1.2M65 48h1.2M81 48h1.2M82 48h1.2M62 49h1.2M63 49h1.2M64 49h1.2M81 49h1.2M82 49h1.2M84 49h1.2M62 50h1.2M81 50h1.2M61 51h1.2M63 51h1.2M80 51h1.2M81 51h1.2M62 52h1.2M77 52h1.2M79 52h1.2M62 53h1.2M76 53h1.2M77 53h1.2M68 54h1.2M69 54h1.2M71 54h1.2M64 55h1.2M67 55h1.2M68 55h1.2"/><path stroke="#b5d935" d="M81 42h1.2M74 43h1.2M75 43h1.2M76 43h1.2M84 43h1.2M73 44h1.2M74 44h1.2M75 44h1.2M76 44h1.2M79 44h1.2M82 44h1.2M70 45h1.2M71 45h1.2M72 45h1.2M73 45h1.2M74 45h1.2M75 45h1.2M82 45h1.2M70 46h1.2M82 46h1.2M83 46h1.2M84 46h1.2M69 47h1.2M80 47h1.2M81 47h1.2M83 47h1.2M84 47h1.2M66 48h1.2M67 48h1.2M80 48h1.2M83 48h1.2M84 48h1.2M65 49h1.2M80 49h1.2M63 50h1.2M64 50h1.2M78 50h1.2M79 50h1.2M77 51h1.2M78 51h1.2M79 51h1.2M63 52h1.2M64 52h1.2M76 52h1.2M63 53h1.2M68 53h1.2M69 53h1.2M71 53h1.2M75 53h1.2M64 54h1.2M66 54h1.2M67 54h1.2M73 54h1.2M74 54h1.2"/><path stroke="#f2d21e" d="M83 43h1.2M77 44h1.2M78 44h1.2M84 44h1.2M76 45h1.2M77 45h1.2M79 45h1.2M83 45h1.2M84 45h1.2M71 46h1.2M72 46h1.2M74 46h1.2M75 46h1.2M70 47h1.2M68 48h1.2M70 48h1.2M70 49h1.2M71 49h1.2M77 49h1.2M78 49h1.2M79 49h1.2M65 50h1.2M70 50h1.2M71 50h1.2M76 50h1.2M77 50h1.2M65 51h1.2M70 51h1.2M71 51h1.2M75 51h1.2M76 51h1.2M65 52h1.2M66 52h1.2M67 52h1.2M68 52h1.2M69 52h1.2M70 52h1.2M71 52h1.2M75 52h1.2M64 53h1.2M65 53h1.2M66 53h1.2M67 53h1.2M72 53h1.2"/><path stroke="#f0862a" d="M83 44h1.2M78 45h1.2M73 46h1.2M76 46h1.2M79 46h1.2M71 47h1.2M79 47h1.2M71 48h1.2M79 48h1.2M66 49h1.2M69 49h1.2M72 49h1.2M76 49h1.2M66 50h1.2M69 50h1.2M72 50h1.2M75 50h1.2M66 51h1.2M68 51h1.2M69 51h1.2M72 51h1.2M74 51h1.2M72 52h1.2M73 53h1.2M74 53h1.2"/><path stroke="#e0401a" d="M77 46h1.2M78 46h1.2M72 47h1.2M73 47h1.2M74 47h1.2M75 47h1.2M76 47h1.2M77 47h1.2M78 47h1.2M72 48h1.2M73 48h1.2M74 48h1.2M75 48h1.2M76 48h1.2M77 48h1.2M78 48h1.2M67 49h1.2M68 49h1.2M73 49h1.2M74 49h1.2M75 49h1.2M67 50h1.2M68 50h1.2M73 50h1.2M74 50h1.2M67 51h1.2M73 51h1.2M73 52h1.2"/></g>
<g transform="translate(76.7 183.1)" stroke-width="1.2"><path stroke="#6b82cf" d="M28 19h1.2M29 22h1.2M98 22h1.2M52 23h1.2M82 23h1.2M87 23h1.2M85 25h1.2M87 25h1.2M40 26h1.2M55 26h1.2M77 27h1.2M100 27h1.2M103 27h1.2M62 29h1.2M21 30h1.2M102 31h1.2M37 32h1.2M53 35h1.2M102 35h1.2M45 36h1.2M35 37h1.2M99 38h1.2M41 39h1.2M18 41h1.2M33 41h1.2M41 41h1.2M50 41h1.2M96 41h1.2M100 42h1.2M45 43h1.2M13 44h1.2M26 44h1.2M95 44h1.2M86 49h1.2M52 51h1.2M58 51h1.2M34 52h1.2M65 52h1.2M67 52h1.2M72 52h1.2M49 53h1.2M58 54h1.2M43 55h1.2M32 56h1.2M52 56h1.2M50 57h1.2M17 58h1.2M32 58h1.2M53 59h1.2M28 64h1.2M46 64h1.2M8 67h1.2M73 67h1.2M34 68h1.2M24 70h1.2M43 70h1.2M38 71h1.2M61 71h1.2M50 73h1.2M56 73h1.2M31 74h1.2M53 74h1.2M78 77h1.2M3 78h1.2M40 78h1.2M26 85h1.2"/><path stroke="#1f3bb0" d="M94 23h1.2M94 24h1.2M93 25h1.2M81 26h1.2M80 27h1.2M95 27h1.2M75 28h1.2M79 28h1.2M83 28h1.2M87 28h1.2M89 28h1.2M96 28h1.2M97 28h1.2M91 29h1.2M92 29h1.2M94 29h1.2M98 29h1.2M69 30h1.2M62 31h1.2M94 31h1.2M52 32h1.2M63 32h1.2M66 32h1.2M93 32h1.2M98 32h1.2M99 32h1.2M52 33h1.2M63 33h1.2M95 33h1.2M98 33h1.2M61 34h1.2M55 35h1.2M63 35h1.2M94 35h1.2M56 36h1.2M58 36h1.2M59 36h1.2M55 38h1.2M56 38h1.2M59 38h1.2M94 38h1.2M55 39h1.2M91 39h1.2M92 39h1.2M95 39h1.2M47 40h1.2M54 40h1.2M89 40h1.2M90 40h1.2M93 40h1.2M47 41h1.2M92 41h1.2M89 42h1.2M91 42h1.2M39 43h1.2M49 43h1.2M56 43h1.2M85 43h1.2M88 43h1.2M89 43h1.2M21 44h1.2M22 44h1.2M39 44h1.2M57 44h1.2M81 44h1.2M86 44h1.2M88 44h1.2M49 45h1.2M57 45h1.2M58 45h1.2M79 45h1.2M80 45h1.2M82 45h1.2M47 46h1.2M51 46h1.2M52 46h1.2M58 46h1.2M45 47h1.2M62 47h1.2M75 47h1.2M77 47h1.2M78 47h1.2M80 47h1.2M46 48h1.2M49 48h1.2M56 48h1.2M65 48h1.2M80 48h1.2M48 49h1.2M59 49h1.2M60 49h1.2M61 49h1.2M62 49h1.2M67 49h1.2M69 49h1.2M72 49h1.2M74 49h1.2M54 50h1.2M64 50h1.2M74 50h1.2M54 52h1.2M55 53h1.2M56 53h1.2M45 61h1.2M46 61h1.2M40 64h1.2M40 65h1.2M48 69h1.2M49 69h1.2"/><path stroke="#2a60d8" d="M94 28h1.2M95 28h1.2M81 29h1.2M82 29h1.2M76 30h1.2M79 30h1.2M84 30h1.2M86 30h1.2M88 30h1.2M75 31h1.2M91 31h1.2M67 32h1.2M70 32h1.2M71 32h1.2M73 32h1.2M75 32h1.2M92 32h1.2M93 33h1.2M66 34h1.2M93 34h1.2M94 34h1.2M65 35h1.2M93 35h1.2M63 36h1.2M92 36h1.2M62 37h1.2M61 38h1.2M90 38h1.2M60 39h1.2M88 39h1.2M56 40h1.2M56 41h1.2M57 41h1.2M53 42h1.2M54 42h1.2M56 42h1.2M58 42h1.2M81 42h1.2M87 42h1.2M51 43h1.2M52 43h1.2M54 43h1.2M82 43h1.2M83 43h1.2M51 44h1.2M52 45h1.2M60 45h1.2M76 45h1.2M78 45h1.2M53 46h1.2M55 46h1.2M56 46h1.2M61 46h1.2M63 46h1.2M64 46h1.2M76 46h1.2M77 46h1.2M78 46h1.2M56 47h1.2M57 47h1.2M58 47h1.2M70 47h1.2M72 47h1.2M73 47h1.2M74 47h1.2M58 48h1.2M59 48h1.2M71 48h1.2M72 48h1.2M74 48h1.2"/><path stroke="#35b5d5" d="M80 29h1.2M81 30h1.2M82 30h1.2M89 30h1.2M77 31h1.2M79 31h1.2M81 31h1.2M82 31h1.2M85 31h1.2M86 31h1.2M87 31h1.2M88 31h1.2M89 31h1.2M90 31h1.2M69 32h1.2M80 32h1.2M84 32h1.2M85 32h1.2M86 32h1.2M87 32h1.2M88 32h1.2M67 33h1.2M68 33h1.2M73 33h1.2M74 33h1.2M89 33h1.2M90 33h1.2M91 33h1.2M67 34h1.2M72 34h1.2M88 34h1.2M89 34h1.2M90 34h1.2M91 34h1.2M66 35h1.2M67 35h1.2M68 35h1.2M90 35h1.2M91 35h1.2M66 36h1.2M91 36h1.2M64 37h1.2M85 37h1.2M87 37h1.2M89 37h1.2M90 37h1.2M62 38h1.2M63 38h1.2M86 38h1.2M87 38h1.2M89 38h1.2M61 39h1.2M85 39h1.2M86 39h1.2M87 39h1.2M59 40h1.2M86 40h1.2M87 40h1.2M85 41h1.2M86 41h1.2M87 41h1.2M82 42h1.2M84 42h1.2M60 43h1.2M79 43h1.2M52 44h1.2M53 44h1.2M54 44h1.2M77 44h1.2M54 45h1.2M61 45h1.2M62 45h1.2M75 45h1.2M65 46h1.2M67 46h1.2M70 46h1.2M71 46h1.2M72 46h1.2M68 47h1.2"/><path stroke="#5ac85c" d="M76 32h1.2M77 32h1.2M78 32h1.2M82 32h1.2M83 32h1.2M90 32h1.2M69 33h1.2M70 33h1.2M76 33h1.2M79 33h1.2M84 33h1.2M85 33h1.2M86 33h1.2M69 34h1.2M70 34h1.2M71 34h1.2M74 34h1.2M75 34h1.2M76 34h1.2M80 34h1.2M81 34h1.2M84 34h1.2M85 34h1.2M86 34h1.2M70 35h1.2M74 35h1.2M84 35h1.2M85 35h1.2M86 35h1.2M87 35h1.2M88 35h1.2M89 35h1.2M67 36h1.2M68 36h1.2M69 36h1.2M72 36h1.2M74 36h1.2M84 36h1.2M85 36h1.2M86 36h1.2M87 36h1.2M88 36h1.2M89 36h1.2M64 38h1.2M84 38h1.2M62 39h1.2M63 39h1.2M84 39h1.2M83 40h1.2M59 41h1.2M60 41h1.2M81 41h1.2M82 41h1.2M83 41h1.2M84 41h1.2M60 42h1.2M61 42h1.2M69 42h1.2M71 42h1.2M79 42h1.2M83 42h1.2M61 43h1.2M62 43h1.2M63 43h1.2M64 43h1.2M65 43h1.2M67 43h1.2M71 43h1.2M78 43h1.2M61 44h1.2M62 44h1.2M64 44h1.2M65 44h1.2M66 44h1.2M67 44h1.2M72 44h1.2M73 44h1.2M74 44h1.2M65 45h1.2M67 45h1.2M71 45h1.2M72 45h1.2M68 46h1.2"/><path stroke="#b5d935" d="M77 33h1.2M78 33h1.2M82 33h1.2M83 33h1.2M77 34h1.2M78 34h1.2M82 34h1.2M71 35h1.2M76 35h1.2M80 35h1.2M81 35h1.2M82 35h1.2M83 35h1.2M70 36h1.2M71 36h1.2M75 36h1.2M76 36h1.2M67 37h1.2M69 37h1.2M73 37h1.2M84 37h1.2M65 38h1.2M64 39h1.2M82 39h1.2M83 39h1.2M62 40h1.2M63 40h1.2M64 40h1.2M76 40h1.2M77 40h1.2M81 40h1.2M82 40h1.2M61 41h1.2M62 41h1.2M63 41h1.2M64 41h1.2M69 41h1.2M70 41h1.2M71 41h1.2M76 41h1.2M79 41h1.2M65 42h1.2M66 42h1.2M67 42h1.2M72 42h1.2M78 42h1.2M69 43h1.2M70 43h1.2M73 43h1.2M76 43h1.2M77 43h1.2M68 44h1.2M69 44h1.2M70 44h1.2M71 44h1.2M68 45h1.2M69 45h1.2M70 45h1.2"/><path stroke="#f2d21e" d="M77 35h1.2M78 35h1.2M79 35h1.2M77 36h1.2M80 36h1.2M81 36h1.2M82 36h1.2M83 36h1.2M70 37h1.2M71 37h1.2M72 37h1.2M74 37h1.2M75 37h1.2M76 37h1.2M83 37h1.2M66 38h1.2M67 38h1.2M68 38h1.2M69 38h1.2M73 38h1.2M74 38h1.2M83 38h1.2M65 39h1.2M73 39h1.2M74 39h1.2M76 39h1.2M81 39h1.2M65 40h1.2M70 40h1.2M71 40h1.2M72 40h1.2M73 40h1.2M74 40h1.2M75 40h1.2M78 40h1.2M79 40h1.2M80 40h1.2M65 41h1.2M68 41h1.2M72 41h1.2M75 41h1.2M78 41h1.2M73 42h1.2M76 42h1.2M74 43h1.2M75 43h1.2"/><path stroke="#f0862a" d="M77 37h1.2M70 38h1.2M71 38h1.2M72 38h1.2M75 38h1.2M76 38h1.2M77 38h1.2M82 38h1.2M66 39h1.2M69 39h1.2M70 39h1.2M71 39h1.2M72 39h1.2M75 39h1.2M77 39h1.2M69 40h1.2M66 41h1.2M67 41h1.2M73 41h1.2M74 41h1.2M74 42h1.2"/><path stroke="#e0401a" d="M78 36h1.2M79 36h1.2M78 37h1.2M79 37h1.2M80 37h1.2M81 37h1.2M82 37h1.2M78 38h1.2M79 38h1.2M80 38h1.2M81 38h1.2M67 39h1.2M68 39h1.2M78 39h1.2M79 39h1.2M80 39h1.2M66 40h1.2M67 40h1.2M68 40h1.2"/></g>
<g transform="translate(217.3 183.1)" stroke-width="1.2"><path stroke="#6b82cf" d="M78 24h1.2M83 24h1.2M86 24h1.2M73 25h1.2M78 25h1.2M89 25h1.2M84 26h1.2M95 28h1.2M98 29h1.2M101 29h1.2M59 31h1.2M60 31h1.2M59 34h1.2M54 35h1.2M58 36h1.2M90 37h1.2M58 38h1.2M88 40h1.2M29 41h1.2M42 42h1.2M82 43h1.2M48 44h1.2M36 45h1.2M44 45h1.2M50 45h1.2M77 45h1.2M74 46h1.2M34 47h1.2M46 47h1.2M52 47h1.2M57 47h1.2M37 48h1.2M66 48h1.2M33 49h1.2M46 49h1.2M47 49h1.2M50 49h1.2M38 50h1.2M39 50h1.2M42 50h1.2M52 50h1.2M71 50h1.2M66 51h1.2M34 52h1.2M50 52h1.2M53 52h1.2M54 52h1.2M28 53h1.2M29 53h1.2M36 53h1.2M50 53h1.2M25 54h1.2M59 54h1.2M63 54h1.2M7 55h1.2M24 55h1.2M32 55h1.2M55 55h1.2M58 55h1.2M55 56h1.2M20 57h1.2M32 57h1.2M63 57h1.2M66 57h1.2M14 58h1.2M21 58h1.2M36 58h1.2M55 58h1.2M59 59h1.2M61 59h1.2M5 60h1.2M12 61h1.2M32 61h1.2M21 62h1.2M44 62h1.2M48 62h1.2M38 63h1.2M6 64h1.2M13 64h1.2M8 65h1.2M21 65h1.2M37 67h1.2M10 70h1.2"/><path stroke="#1f3bb0" d="M70 27h1.2M72 27h1.2M74 27h1.2M76 27h1.2M78 27h1.2M81 27h1.2M86 27h1.2M88 27h1.2M89 27h1.2M71 28h1.2M72 28h1.2M74 28h1.2M75 28h1.2M78 28h1.2M79 28h1.2M80 28h1.2M83 28h1.2M87 28h1.2M88 28h1.2M89 28h1.2M72 29h1.2M87 29h1.2M90 29h1.2M94 29h1.2M67 30h1.2M88 30h1.2M90 30h1.2M95 30h1.2M96 30h1.2M67 31h1.2M68 31h1.2M70 31h1.2M89 31h1.2M94 31h1.2M93 32h1.2M63 33h1.2M64 33h1.2M65 33h1.2M88 33h1.2M89 33h1.2M91 33h1.2M63 34h1.2M89 34h1.2M90 34h1.2M61 35h1.2M88 35h1.2M89 36h1.2M87 37h1.2M61 38h1.2M86 38h1.2M83 39h1.2M84 39h1.2M86 39h1.2M59 40h1.2M61 40h1.2M57 41h1.2M58 41h1.2M60 41h1.2M61 41h1.2M62 41h1.2M80 41h1.2M81 41h1.2M82 41h1.2M83 41h1.2M61 42h1.2M74 42h1.2M75 42h1.2M76 42h1.2M79 42h1.2M58 43h1.2M61 43h1.2M63 43h1.2M73 43h1.2M76 43h1.2M77 43h1.2M55 44h1.2M56 44h1.2M59 44h1.2M60 44h1.2M62 44h1.2M71 44h1.2M72 44h1.2M74 44h1.2M76 44h1.2M56 45h1.2M63 45h1.2M69 45h1.2M53 46h1.2M60 46h1.2M61 46h1.2M62 46h1.2M65 46h1.2M69 46h1.2M54 47h1.2M55 47h1.2M60 47h1.2M61 47h1.2M62 47h1.2M58 48h1.2M60 48h1.2M63 48h1.2M53 49h1.2M55 49h1.2M59 49h1.2M60 49h1.2M63 49h1.2M54 50h1.2M56 50h1.2M61 50h1.2M57 51h1.2M58 51h1.2M63 51h1.2M64 51h1.2M65 51h1.2M60 52h1.2M62 52h1.2M60 53h1.2M64 53h1.2M65 54h1.2M65 55h1.2M48 57h1.2M49 57h1.2M50 57h1.2M64 57h1.2M65 57h1.2"/><path stroke="#2a60d8" d="M85 28h1.2M74 29h1.2M77 29h1.2M78 29h1.2M79 29h1.2M80 29h1.2M81 29h1.2M84 29h1.2M85 29h1.2M88 29h1.2M86 30h1.2M72 31h1.2M86 31h1.2M67 32h1.2M68 32h1.2M70 32h1.2M86 32h1.2M89 32h1.2M90 32h1.2M66 33h1.2M86 33h1.2M86 34h1.2M65 35h1.2M86 35h1.2M87 35h1.2M62 36h1.2M63 36h1.2M64 36h1.2M65 36h1.2M85 36h1.2M86 36h1.2M87 36h1.2M62 37h1.2M63 37h1.2M64 37h1.2M65 37h1.2M83 37h1.2M84 37h1.2M85 37h1.2M86 37h1.2M64 38h1.2M65 38h1.2M66 38h1.2M83 38h1.2M63 39h1.2M66 39h1.2M63 40h1.2M64 40h1.2M65 40h1.2M80 40h1.2M81 40h1.2M82 40h1.2M63 41h1.2M77 41h1.2M78 41h1.2M79 41h1.2M63 42h1.2M67 42h1.2M68 42h1.2M72 42h1.2M78 42h1.2M64 43h1.2M68 43h1.2M64 44h1.2M68 44h1.2M64 45h1.2M65 45h1.2M66 45h1.2M68 45h1.2M61 51h1.2"/><path stroke="#35b5d5" d="M76 29h1.2M77 30h1.2M78 30h1.2M79 30h1.2M81 30h1.2M82 30h1.2M83 30h1.2M84 30h1.2M85 30h1.2M84 31h1.2M85 31h1.2M71 32h1.2M72 32h1.2M85 32h1.2M67 33h1.2M68 33h1.2M70 33h1.2M85 33h1.2M66 34h1.2M66 35h1.2M84 35h1.2M85 35h1.2M66 36h1.2M67 36h1.2M83 36h1.2M67 37h1.2M82 37h1.2M81 38h1.2M67 39h1.2M80 39h1.2M81 39h1.2M67 40h1.2M68 40h1.2M78 40h1.2M79 40h1.2M65 41h1.2M66 41h1.2M68 41h1.2M73 41h1.2M64 42h1.2M65 42h1.2M66 42h1.2M69 42h1.2M70 42h1.2M71 42h1.2M65 43h1.2M66 43h1.2M65 44h1.2"/><path stroke="#5ac85c" d="M75 30h1.2M76 30h1.2M74 31h1.2M77 31h1.2M79 31h1.2M80 31h1.2M81 31h1.2M82 31h1.2M83 31h1.2M73 32h1.2M84 32h1.2M71 33h1.2M84 33h1.2M68 34h1.2M69 34h1.2M70 34h1.2M71 34h1.2M83 34h1.2M84 34h1.2M67 35h1.2M68 35h1.2M69 35h1.2M70 35h1.2M82 35h1.2M83 35h1.2M68 36h1.2M69 36h1.2M82 36h1.2M68 37h1.2M69 37h1.2M81 37h1.2M68 38h1.2M80 38h1.2M68 39h1.2M69 39h1.2M78 39h1.2M79 39h1.2M74 40h1.2M77 40h1.2M69 41h1.2M70 41h1.2M71 41h1.2M72 41h1.2"/><path stroke="#b5d935" d="M75 31h1.2M76 31h1.2M74 32h1.2M77 32h1.2M78 32h1.2M79 32h1.2M80 32h1.2M81 32h1.2M82 32h1.2M83 32h1.2M73 33h1.2M81 33h1.2M82 33h1.2M83 33h1.2M72 34h1.2M81 34h1.2M82 34h1.2M71 35h1.2M81 35h1.2M70 36h1.2M71 36h1.2M80 36h1.2M81 36h1.2M70 37h1.2M79 37h1.2M80 37h1.2M69 38h1.2M70 38h1.2M79 38h1.2M70 39h1.2M73 39h1.2M74 39h1.2M77 39h1.2M70 40h1.2M71 40h1.2M72 40h1.2M75 40h1.2M76 40h1.2"/><path stroke="#f2d21e" d="M75 32h1.2M76 32h1.2M74 33h1.2M75 33h1.2M76 33h1.2M78 33h1.2M79 33h1.2M73 34h1.2M80 34h1.2M72 35h1.2M80 35h1.2M72 36h1.2M79 36h1.2M71 37h1.2M72 37h1.2M73 37h1.2M78 37h1.2M71 38h1.2M72 38h1.2M73 38h1.2M74 38h1.2M75 38h1.2M77 38h1.2M78 38h1.2M71 39h1.2M72 39h1.2M75 39h1.2M76 39h1.2"/><path stroke="#f0862a" d="M77 33h1.2M74 34h1.2M75 34h1.2M76 34h1.2M79 35h1.2M78 36h1.2M74 37h1.2M77 37h1.2M76 38h1.2"/><path stroke="#e0401a" d="M77 34h1.2M78 34h1.2M79 34h1.2M73 35h1.2M74 35h1.2M75 35h1.2M76 35h1.2M77 35h1.2M78 35h1.2M73 36h1.2M74 36h1.2M75 36h1.2M76 36h1.2M77 36h1.2M75 37h1.2M76 37h1.2"/></g>
<g transform="translate(361.7 183.1)" stroke-width="1.2"><path stroke="#6b82cf" d="M97 19h1.2M69 22h1.2M79 22h1.2M93 25h1.2M96 25h1.2M98 25h1.2M98 26h1.2M71 27h1.2M68 28h1.2M95 28h1.2M61 30h1.2M66 30h1.2M61 31h1.2M96 31h1.2M94 38h1.2M34 42h1.2M56 43h1.2M87 43h1.2M37 44h1.2M59 44h1.2M78 44h1.2M52 45h1.2M77 45h1.2M27 46h1.2M41 46h1.2M65 46h1.2M80 46h1.2M43 48h1.2M51 48h1.2M22 49h1.2M67 49h1.2M29 50h1.2M32 50h1.2M33 50h1.2M43 51h1.2M54 51h1.2M58 51h1.2M71 51h1.2M54 52h1.2M84 52h1.2M22 53h1.2M28 53h1.2M52 53h1.2M70 53h1.2M12 54h1.2M37 54h1.2M49 54h1.2M52 54h1.2M59 54h1.2M23 55h1.2M41 55h1.2M7 56h1.2M31 56h1.2M35 56h1.2M60 56h1.2M71 56h1.2M22 57h1.2M37 57h1.2M15 58h1.2M19 58h1.2M21 58h1.2M62 59h1.2M7 60h1.2M8 60h1.2M15 60h1.2M30 60h1.2M32 60h1.2M41 60h1.2M65 60h1.2M10 61h1.2M32 61h1.2M37 61h1.2M6 62h1.2M11 62h1.2M30 62h1.2M21 63h1.2M38 63h1.2M42 63h1.2M18 64h1.2M22 64h1.2M1 67h1.2M13 68h1.2M12 70h1.2M16 70h1.2M23 73h1.2"/><path stroke="#1f3bb0" d="M82 24h1.2M83 24h1.2M82 25h1.2M84 25h1.2M86 25h1.2M78 26h1.2M79 26h1.2M81 26h1.2M84 26h1.2M87 26h1.2M88 26h1.2M92 26h1.2M77 27h1.2M82 27h1.2M85 27h1.2M87 27h1.2M93 27h1.2M94 27h1.2M74 28h1.2M75 28h1.2M91 28h1.2M93 28h1.2M71 29h1.2M72 29h1.2M73 29h1.2M75 29h1.2M92 29h1.2M70 31h1.2M93 31h1.2M64 32h1.2M65 32h1.2M66 32h1.2M67 32h1.2M94 32h1.2M97 32h1.2M62 33h1.2M63 33h1.2M65 33h1.2M91 33h1.2M93 33h1.2M95 33h1.2M96 33h1.2M64 34h1.2M89 34h1.2M90 34h1.2M91 34h1.2M96 34h1.2M92 35h1.2M94 35h1.2M60 36h1.2M61 36h1.2M62 36h1.2M93 36h1.2M58 37h1.2M60 37h1.2M61 37h1.2M62 37h1.2M63 37h1.2M88 37h1.2M58 38h1.2M63 38h1.2M65 38h1.2M58 39h1.2M60 39h1.2M83 39h1.2M84 39h1.2M85 39h1.2M86 39h1.2M87 39h1.2M88 39h1.2M89 39h1.2M57 40h1.2M61 40h1.2M85 40h1.2M58 41h1.2M60 41h1.2M61 41h1.2M62 41h1.2M82 41h1.2M84 41h1.2M85 41h1.2M57 42h1.2M58 42h1.2M62 42h1.2M77 42h1.2M80 42h1.2M82 42h1.2M85 42h1.2M61 43h1.2M75 43h1.2M81 43h1.2M63 44h1.2M67 44h1.2M74 44h1.2M62 45h1.2M63 45h1.2M72 45h1.2M74 45h1.2M80 45h1.2M58 46h1.2M59 46h1.2M67 46h1.2M68 46h1.2M69 46h1.2M73 46h1.2M54 47h1.2M57 47h1.2M59 47h1.2M67 47h1.2M75 47h1.2M54 48h1.2M55 48h1.2M66 48h1.2M69 48h1.2M70 48h1.2M54 49h1.2M59 49h1.2M62 49h1.2M63 49h1.2M70 49h1.2M58 50h1.2M62 50h1.2M64 50h1.2M65 50h1.2M70 50h1.2M75 50h1.2M62 51h1.2M63 51h1.2M64 51h1.2M66 52h1.2M68 52h1.2M62 53h1.2M66 53h1.2M68 53h1.2M61 54h1.2M62 55h1.2M64 55h1.2M65 55h1.2M56 56h1.2M58 56h1.2M28 57h1.2M57 57h1.2M65 57h1.2M56 58h1.2M64 58h1.2M65 58h1.2"/><path stroke="#2a60d8" d="M84 27h1.2M77 28h1.2M78 28h1.2M80 28h1.2M81 28h1.2M84 28h1.2M85 28h1.2M87 28h1.2M88 28h1.2M76 29h1.2M86 29h1.2M88 29h1.2M90 29h1.2M91 29h1.2M72 30h1.2M73 30h1.2M75 30h1.2M92 30h1.2M91 31h1.2M91 32h1.2M92 32h1.2M68 33h1.2M89 33h1.2M90 33h1.2M67 34h1.2M88 35h1.2M65 36h1.2M88 36h1.2M87 37h1.2M66 38h1.2M85 38h1.2M66 39h1.2M66 40h1.2M80 40h1.2M81 40h1.2M64 41h1.2M65 41h1.2M80 41h1.2M81 41h1.2M64 42h1.2M66 42h1.2M67 42h1.2M68 42h1.2M69 42h1.2M70 42h1.2M71 42h1.2M73 42h1.2M76 42h1.2M81 42h1.2M63 43h1.2M64 43h1.2M65 43h1.2M66 43h1.2M73 43h1.2M74 43h1.2M65 44h1.2M66 44h1.2M70 44h1.2M69 45h1.2M70 45h1.2M71 45h1.2"/><path stroke="#35b5d5" d="M83 28h1.2M77 29h1.2M78 29h1.2M79 29h1.2M80 29h1.2M81 29h1.2M82 29h1.2M83 29h1.2M87 29h1.2M77 30h1.2M85 30h1.2M86 30h1.2M88 30h1.2M89 30h1.2M90 30h1.2M91 30h1.2M74 31h1.2M75 31h1.2M76 31h1.2M88 31h1.2M90 31h1.2M71 32h1.2M72 32h1.2M88 32h1.2M89 32h1.2M69 33h1.2M70 33h1.2M68 34h1.2M87 34h1.2M67 35h1.2M68 35h1.2M66 36h1.2M67 36h1.2M87 36h1.2M66 37h1.2M86 37h1.2M67 38h1.2M82 38h1.2M67 39h1.2M68 39h1.2M67 40h1.2M68 40h1.2M69 40h1.2M78 40h1.2M79 40h1.2M66 41h1.2M67 41h1.2M68 41h1.2M70 41h1.2M71 41h1.2M73 41h1.2M74 41h1.2M75 41h1.2M76 41h1.2M74 42h1.2"/><path stroke="#5ac85c" d="M78 30h1.2M79 30h1.2M82 30h1.2M83 30h1.2M84 30h1.2M77 31h1.2M78 31h1.2M86 31h1.2M87 31h1.2M73 32h1.2M74 32h1.2M87 32h1.2M71 33h1.2M72 33h1.2M87 33h1.2M69 34h1.2M70 34h1.2M71 34h1.2M86 34h1.2M69 35h1.2M70 35h1.2M86 35h1.2M68 36h1.2M69 36h1.2M70 36h1.2M71 36h1.2M86 36h1.2M67 37h1.2M68 37h1.2M69 37h1.2M70 37h1.2M71 37h1.2M82 37h1.2M83 37h1.2M84 37h1.2M85 37h1.2M68 38h1.2M69 38h1.2M70 38h1.2M71 38h1.2M80 38h1.2M81 38h1.2M69 39h1.2M74 39h1.2M75 39h1.2M79 39h1.2M70 40h1.2M71 40h1.2M72 40h1.2M73 40h1.2M74 40h1.2M75 40h1.2M76 40h1.2M77 40h1.2"/><path stroke="#b5d935" d="M80 30h1.2M81 30h1.2M79 31h1.2M81 31h1.2M85 31h1.2M76 32h1.2M86 32h1.2M73 33h1.2M74 33h1.2M75 33h1.2M85 33h1.2M86 33h1.2M72 34h1.2M73 34h1.2M74 34h1.2M75 34h1.2M85 34h1.2M71 35h1.2M72 35h1.2M73 35h1.2M74 35h1.2M75 35h1.2M85 35h1.2M72 36h1.2M73 36h1.2M83 36h1.2M84 36h1.2M85 36h1.2M72 37h1.2M80 37h1.2M81 37h1.2M72 38h1.2M73 38h1.2M75 38h1.2M76 38h1.2M78 38h1.2M79 38h1.2M70 39h1.2M71 39h1.2M72 39h1.2M73 39h1.2M76 39h1.2M77 39h1.2M78 39h1.2"/><path stroke="#f2d21e" d="M80 31h1.2M82 31h1.2M83 31h1.2M84 31h1.2M77 32h1.2M78 32h1.2M84 32h1.2M85 32h1.2M76 33h1.2M84 33h1.2M76 34h1.2M83 34h1.2M84 34h1.2M76 35h1.2M77 35h1.2M82 35h1.2M83 35h1.2M84 35h1.2M74 36h1.2M75 36h1.2M76 36h1.2M77 36h1.2M79 36h1.2M80 36h1.2M81 36h1.2M82 36h1.2M73 37h1.2M74 37h1.2M75 37h1.2M76 37h1.2M77 37h1.2M78 37h1.2M79 37h1.2M74 38h1.2M77 38h1.2"/><path stroke="#f0862a" d="M79 32h1.2M80 32h1.2M81 32h1.2M82 32h1.2M83 32h1.2M77 33h1.2M82 33h1.2M83 33h1.2M77 34h1.2M82 34h1.2M78 35h1.2M80 35h1.2M81 35h1.2M78 36h1.2"/><path stroke="#e0401a" d="M78 33h1.2M79 33h1.2M80 33h1.2M81 33h1.2M78 34h1.2M79 34h1.2M80 34h1.2M81 34h1.2M79 35h1.2"/></g>
<g transform="translate(503.3 183.1)" stroke-width="1.2"><path stroke="#6b82cf" d="M78 21h1.2M88 23h1.2M75 25h1.2M100 26h1.2M70 28h1.2M96 28h1.2M100 32h1.2M55 33h1.2M61 33h1.2M97 33h1.2M59 34h1.2M56 35h1.2M53 36h1.2M97 36h1.2M94 37h1.2M55 38h1.2M49 39h1.2M54 39h1.2M41 40h1.2M54 41h1.2M33 43h1.2M51 43h1.2M44 44h1.2M49 44h1.2M42 45h1.2M51 45h1.2M80 45h1.2M44 46h1.2M18 47h1.2M31 47h1.2M39 47h1.2M73 47h1.2M20 48h1.2M28 50h1.2M51 50h1.2M67 50h1.2M18 51h1.2M26 51h1.2M33 51h1.2M48 51h1.2M48 52h1.2M70 52h1.2M45 53h1.2M55 53h1.2M76 53h1.2M45 54h1.2M50 54h1.2M68 55h1.2M81 55h1.2M20 56h1.2M27 56h1.2M52 56h1.2M64 56h1.2M31 57h1.2M33 57h1.2M35 57h1.2M16 58h1.2M24 58h1.2M29 58h1.2M7 59h1.2M35 59h1.2M59 59h1.2M23 60h1.2M63 60h1.2M65 60h1.2M24 61h1.2M38 61h1.2M62 61h1.2M16 62h1.2M48 62h1.2M1 63h1.2M5 63h1.2M13 63h1.2M26 64h1.2M6 65h1.2M49 66h1.2M35 67h1.2M53 68h1.2M10 69h1.2M30 69h1.2M5 71h1.2M26 71h1.2"/><path stroke="#1f3bb0" d="M90 25h1.2M75 26h1.2M86 26h1.2M90 26h1.2M78 27h1.2M79 27h1.2M81 27h1.2M83 27h1.2M89 27h1.2M91 27h1.2M74 28h1.2M76 28h1.2M78 28h1.2M73 29h1.2M95 29h1.2M64 30h1.2M68 30h1.2M69 30h1.2M71 30h1.2M72 30h1.2M93 30h1.2M94 30h1.2M95 30h1.2M63 31h1.2M70 31h1.2M71 31h1.2M91 31h1.2M93 31h1.2M94 31h1.2M63 32h1.2M68 32h1.2M91 32h1.2M96 32h1.2M66 33h1.2M91 33h1.2M92 33h1.2M93 33h1.2M94 33h1.2M89 34h1.2M91 34h1.2M92 35h1.2M61 36h1.2M89 36h1.2M91 36h1.2M93 36h1.2M59 37h1.2M90 37h1.2M92 37h1.2M58 38h1.2M86 38h1.2M87 38h1.2M88 38h1.2M89 38h1.2M90 38h1.2M59 39h1.2M85 39h1.2M87 39h1.2M88 39h1.2M56 40h1.2M57 40h1.2M58 40h1.2M61 40h1.2M58 41h1.2M59 41h1.2M60 41h1.2M61 41h1.2M81 41h1.2M82 41h1.2M55 42h1.2M57 42h1.2M60 42h1.2M78 42h1.2M80 42h1.2M56 43h1.2M58 43h1.2M59 43h1.2M61 43h1.2M79 43h1.2M60 44h1.2M62 44h1.2M63 44h1.2M71 44h1.2M75 44h1.2M57 45h1.2M63 45h1.2M66 45h1.2M72 45h1.2M73 45h1.2M74 45h1.2M57 46h1.2M59 46h1.2M62 46h1.2M64 46h1.2M47 47h1.2M56 47h1.2M58 47h1.2M59 47h1.2M61 47h1.2M62 47h1.2M63 47h1.2M65 47h1.2M67 47h1.2M71 47h1.2M47 48h1.2M55 48h1.2M60 48h1.2M64 48h1.2M68 48h1.2M57 49h1.2M58 49h1.2M59 49h1.2M61 49h1.2M63 49h1.2M55 50h1.2M65 50h1.2M69 50h1.2M53 51h1.2M54 51h1.2M58 51h1.2M63 51h1.2M69 51h1.2M52 52h1.2M57 52h1.2M61 52h1.2M65 52h1.2M53 53h1.2M59 53h1.2M62 53h1.2M59 54h1.2M37 55h1.2M51 55h1.2M59 55h1.2M56 58h1.2M55 59h1.2M54 60h1.2M54 61h1.2"/><path stroke="#2a60d8" d="M85 27h1.2M86 27h1.2M87 27h1.2M88 27h1.2M82 28h1.2M83 28h1.2M85 28h1.2M86 28h1.2M88 28h1.2M89 28h1.2M78 29h1.2M79 29h1.2M81 29h1.2M86 29h1.2M88 29h1.2M87 30h1.2M88 30h1.2M89 30h1.2M88 31h1.2M69 32h1.2M88 32h1.2M89 32h1.2M67 33h1.2M69 33h1.2M88 33h1.2M89 33h1.2M65 34h1.2M66 34h1.2M88 34h1.2M63 35h1.2M87 35h1.2M62 36h1.2M90 36h1.2M61 37h1.2M84 39h1.2M80 40h1.2M63 41h1.2M78 41h1.2M79 41h1.2M80 41h1.2M64 42h1.2M73 42h1.2M75 42h1.2M64 44h1.2M65 44h1.2M67 45h1.2M70 45h1.2M67 46h1.2M69 46h1.2M57 48h1.2M58 48h1.2"/><path stroke="#35b5d5" d="M83 29h1.2M84 29h1.2M85 29h1.2M75 30h1.2M84 30h1.2M85 30h1.2M86 30h1.2M87 31h1.2M72 32h1.2M73 32h1.2M87 33h1.2M67 34h1.2M68 34h1.2M69 34h1.2M86 34h1.2M64 35h1.2M66 35h1.2M67 35h1.2M68 35h1.2M86 35h1.2M63 36h1.2M64 36h1.2M66 36h1.2M67 36h1.2M68 36h1.2M86 36h1.2M63 37h1.2M64 37h1.2M85 37h1.2M62 38h1.2M65 38h1.2M62 39h1.2M63 39h1.2M64 39h1.2M80 39h1.2M81 39h1.2M82 39h1.2M83 39h1.2M63 40h1.2M64 40h1.2M77 40h1.2M79 40h1.2M64 41h1.2M66 41h1.2M74 41h1.2M75 41h1.2M76 41h1.2M65 42h1.2M68 42h1.2M69 42h1.2M72 42h1.2M65 43h1.2M67 43h1.2M68 43h1.2M69 43h1.2M70 43h1.2M68 44h1.2M69 44h1.2M68 46h1.2"/><path stroke="#5ac85c" d="M76 30h1.2M77 30h1.2M78 30h1.2M79 30h1.2M80 30h1.2M81 30h1.2M75 31h1.2M82 31h1.2M84 31h1.2M85 31h1.2M74 32h1.2M83 32h1.2M84 32h1.2M86 32h1.2M71 33h1.2M82 33h1.2M83 33h1.2M86 33h1.2M69 35h1.2M69 36h1.2M85 36h1.2M66 37h1.2M67 37h1.2M68 37h1.2M84 37h1.2M80 38h1.2M81 38h1.2M82 38h1.2M83 38h1.2M65 39h1.2M77 39h1.2M78 39h1.2M79 39h1.2M65 40h1.2M66 40h1.2M67 40h1.2M75 40h1.2M76 40h1.2M67 41h1.2M68 41h1.2M69 41h1.2M70 41h1.2M71 41h1.2M72 41h1.2M73 41h1.2M66 42h1.2M70 42h1.2M71 42h1.2M66 43h1.2"/><path stroke="#b5d935" d="M76 31h1.2M77 31h1.2M81 31h1.2M75 32h1.2M76 32h1.2M81 32h1.2M85 32h1.2M72 33h1.2M73 33h1.2M75 33h1.2M81 33h1.2M84 33h1.2M85 33h1.2M71 34h1.2M82 34h1.2M83 34h1.2M84 34h1.2M70 35h1.2M71 35h1.2M82 35h1.2M85 35h1.2M70 36h1.2M82 36h1.2M83 36h1.2M84 36h1.2M69 37h1.2M70 37h1.2M81 37h1.2M82 37h1.2M66 38h1.2M67 38h1.2M69 38h1.2M70 38h1.2M78 38h1.2M79 38h1.2M66 39h1.2M67 39h1.2M69 39h1.2M70 39h1.2M71 39h1.2M72 39h1.2M76 39h1.2M68 40h1.2M69 40h1.2M70 40h1.2M71 40h1.2M72 40h1.2M73 40h1.2M74 40h1.2"/><path stroke="#f2d21e" d="M78 31h1.2M79 31h1.2M80 31h1.2M77 32h1.2M80 32h1.2M76 33h1.2M72 34h1.2M73 34h1.2M74 34h1.2M75 34h1.2M76 34h1.2M81 34h1.2M72 35h1.2M81 35h1.2M83 35h1.2M84 35h1.2M71 36h1.2M72 36h1.2M80 36h1.2M81 36h1.2M71 37h1.2M78 37h1.2M79 37h1.2M68 38h1.2M71 38h1.2M72 38h1.2M76 38h1.2M77 38h1.2M68 39h1.2M73 39h1.2M74 39h1.2M75 39h1.2"/><path stroke="#f0862a" d="M78 32h1.2M79 32h1.2M77 33h1.2M80 33h1.2M73 35h1.2M74 35h1.2M75 35h1.2M76 35h1.2M77 35h1.2M73 36h1.2M77 36h1.2M78 36h1.2M79 36h1.2M72 37h1.2M73 37h1.2M77 37h1.2M73 38h1.2M74 38h1.2M75 38h1.2"/><path stroke="#e0401a" d="M78 33h1.2M79 33h1.2M77 34h1.2M78 34h1.2M79 34h1.2M80 34h1.2M78 35h1.2M79 35h1.2M80 35h1.2M74 36h1.2M75 36h1.2M76 36h1.2M74 37h1.2M75 37h1.2M76 37h1.2"/></g>
<g transform="translate(641.7 183.1)" stroke-width="1.2"><path stroke="#6b82cf" d="M69 23h1.2M91 23h1.2M75 24h1.2M82 25h1.2M74 26h1.2M25 27h1.2M35 27h1.2M64 28h1.2M67 28h1.2M94 28h1.2M50 29h1.2M65 29h1.2M60 30h1.2M25 31h1.2M33 31h1.2M95 31h1.2M7 33h1.2M11 33h1.2M20 33h1.2M38 33h1.2M44 33h1.2M49 33h1.2M56 33h1.2M5 34h1.2M32 34h1.2M46 34h1.2M2 35h1.2M42 35h1.2M31 36h1.2M38 36h1.2M18 37h1.2M40 37h1.2M43 37h1.2M88 37h1.2M89 39h1.2M50 41h1.2M87 41h1.2M35 42h1.2M37 42h1.2M33 43h1.2M49 43h1.2M11 45h1.2M28 46h1.2M30 46h1.2M48 47h1.2M51 47h1.2M26 48h1.2M40 48h1.2M49 48h1.2M5 49h1.2M44 49h1.2M20 50h1.2M31 50h1.2M67 50h1.2M25 51h1.2M30 51h1.2M47 51h1.2M62 51h1.2M72 51h1.2M24 52h1.2M37 52h1.2M45 52h1.2M63 52h1.2M3 53h1.2M22 53h1.2M33 53h1.2M35 54h1.2M56 54h1.2M61 54h1.2M20 55h1.2M24 55h1.2M47 55h1.2M59 55h1.2M10 56h1.2M17 56h1.2M55 56h1.2M36 57h1.2M39 57h1.2M12 58h1.2M25 58h1.2M32 58h1.2M59 58h1.2M37 60h1.2M9 61h1.2M26 61h1.2M38 61h1.2M47 61h1.2M59 61h1.2M1 62h1.2M24 62h1.2M30 62h1.2M36 62h1.2M17 64h1.2M14 65h1.2M39 65h1.2M13 68h1.2M30 68h1.2M32 68h1.2"/><path stroke="#1f3bb0" d="M86 22h1.2M86 23h1.2M77 25h1.2M86 25h1.2M90 25h1.2M78 26h1.2M81 26h1.2M91 26h1.2M72 27h1.2M73 27h1.2M78 27h1.2M79 27h1.2M86 27h1.2M89 27h1.2M90 27h1.2M76 28h1.2M90 28h1.2M42 29h1.2M93 29h1.2M42 30h1.2M62 30h1.2M67 30h1.2M69 30h1.2M90 30h1.2M91 30h1.2M92 30h1.2M93 30h1.2M50 31h1.2M90 31h1.2M91 31h1.2M28 32h1.2M29 32h1.2M34 32h1.2M35 32h1.2M40 32h1.2M51 32h1.2M52 32h1.2M90 32h1.2M36 33h1.2M41 33h1.2M52 33h1.2M13 34h1.2M14 34h1.2M22 34h1.2M35 34h1.2M40 34h1.2M88 34h1.2M14 35h1.2M22 35h1.2M36 35h1.2M40 35h1.2M55 35h1.2M59 35h1.2M91 35h1.2M35 36h1.2M54 36h1.2M59 36h1.2M85 36h1.2M86 36h1.2M87 36h1.2M33 37h1.2M34 37h1.2M55 37h1.2M54 38h1.2M57 38h1.2M55 39h1.2M57 39h1.2M82 39h1.2M54 40h1.2M56 40h1.2M57 40h1.2M81 40h1.2M57 41h1.2M59 41h1.2M83 41h1.2M56 42h1.2M76 42h1.2M79 42h1.2M51 43h1.2M55 43h1.2M56 43h1.2M78 43h1.2M79 43h1.2M51 44h1.2M52 44h1.2M54 44h1.2M58 44h1.2M63 44h1.2M65 44h1.2M66 44h1.2M51 45h1.2M55 45h1.2M66 45h1.2M69 45h1.2M72 45h1.2M53 46h1.2M54 46h1.2M55 46h1.2M57 46h1.2M65 46h1.2M66 46h1.2M70 46h1.2M72 46h1.2M54 47h1.2M65 47h1.2M71 47h1.2M73 47h1.2M59 48h1.2M62 48h1.2M67 48h1.2M68 48h1.2M51 49h1.2M53 49h1.2M56 49h1.2M34 50h1.2M43 50h1.2M51 50h1.2M52 50h1.2M55 50h1.2M70 50h1.2M34 51h1.2M36 51h1.2M43 51h1.2M51 51h1.2M55 51h1.2M57 51h1.2M58 51h1.2M59 51h1.2M51 52h1.2M54 52h1.2M58 52h1.2M40 53h1.2M54 53h1.2M58 53h1.2M27 54h1.2M40 54h1.2M48 54h1.2M50 54h1.2M8 55h1.2M12 55h1.2M14 55h1.2M26 55h1.2M28 55h1.2M29 55h1.2M31 55h1.2M32 55h1.2M8 56h1.2M13 56h1.2M14 56h1.2M21 56h1.2M51 56h1.2M52 56h1.2M62 56h1.2M15 57h1.2M62 57h1.2M21 58h1.2M22 58h1.2M17 59h1.2M10 60h1.2M17 60h1.2M11 61h1.2M20 61h1.2M12 62h1.2M19 62h1.2M12 63h1.2M20 63h1.2"/><path stroke="#2a60d8" d="M83 27h1.2M84 27h1.2M77 28h1.2M78 28h1.2M79 28h1.2M81 28h1.2M74 29h1.2M76 29h1.2M77 29h1.2M79 29h1.2M86 29h1.2M87 29h1.2M88 29h1.2M71 30h1.2M72 30h1.2M87 30h1.2M88 30h1.2M89 30h1.2M70 31h1.2M88 31h1.2M64 32h1.2M66 32h1.2M88 32h1.2M89 32h1.2M62 33h1.2M88 33h1.2M87 34h1.2M61 35h1.2M60 36h1.2M84 36h1.2M59 37h1.2M83 37h1.2M58 38h1.2M59 38h1.2M80 38h1.2M81 38h1.2M59 39h1.2M80 40h1.2M61 41h1.2M77 41h1.2M78 41h1.2M62 42h1.2M72 42h1.2M73 42h1.2M74 42h1.2M75 42h1.2M59 43h1.2M60 43h1.2M62 43h1.2M63 43h1.2M67 43h1.2M68 43h1.2M71 43h1.2M59 44h1.2M62 44h1.2M69 44h1.2M70 44h1.2M61 45h1.2M58 46h1.2M60 46h1.2M58 47h1.2M59 47h1.2"/><path stroke="#35b5d5" d="M83 28h1.2M85 28h1.2M80 29h1.2M81 29h1.2M82 29h1.2M84 29h1.2M85 29h1.2M73 30h1.2M74 30h1.2M76 30h1.2M77 30h1.2M78 30h1.2M85 30h1.2M68 32h1.2M69 32h1.2M70 32h1.2M85 32h1.2M86 32h1.2M87 32h1.2M63 33h1.2M64 33h1.2M65 33h1.2M85 33h1.2M86 33h1.2M87 33h1.2M63 34h1.2M84 34h1.2M85 34h1.2M86 34h1.2M63 35h1.2M84 35h1.2M61 36h1.2M62 36h1.2M83 36h1.2M61 37h1.2M80 37h1.2M82 37h1.2M60 38h1.2M61 39h1.2M79 39h1.2M61 40h1.2M62 40h1.2M77 40h1.2M78 40h1.2M79 40h1.2M63 41h1.2M70 41h1.2M72 41h1.2M74 41h1.2M75 41h1.2M63 42h1.2M64 42h1.2M68 42h1.2M70 42h1.2M71 42h1.2M61 43h1.2M69 43h1.2M60 44h1.2M61 44h1.2M60 45h1.2M59 46h1.2"/><path stroke="#5ac85c" d="M81 30h1.2M82 30h1.2M83 30h1.2M84 30h1.2M73 31h1.2M74 31h1.2M83 31h1.2M84 31h1.2M72 32h1.2M83 32h1.2M84 32h1.2M69 33h1.2M70 33h1.2M82 33h1.2M83 33h1.2M84 33h1.2M64 34h1.2M65 34h1.2M81 34h1.2M64 35h1.2M65 35h1.2M82 35h1.2M83 35h1.2M63 36h1.2M82 36h1.2M62 37h1.2M64 37h1.2M78 37h1.2M79 37h1.2M61 38h1.2M62 38h1.2M63 38h1.2M64 38h1.2M78 38h1.2M62 39h1.2M64 39h1.2M78 39h1.2M63 40h1.2M64 40h1.2M70 40h1.2M74 40h1.2M75 40h1.2M76 40h1.2M64 41h1.2M71 41h1.2M65 42h1.2M66 42h1.2M67 42h1.2"/><path stroke="#b5d935" d="M75 31h1.2M76 31h1.2M77 31h1.2M78 31h1.2M79 31h1.2M80 31h1.2M81 31h1.2M82 31h1.2M73 32h1.2M74 32h1.2M75 32h1.2M81 32h1.2M82 32h1.2M67 33h1.2M68 33h1.2M71 33h1.2M72 33h1.2M74 33h1.2M80 33h1.2M81 33h1.2M69 34h1.2M70 34h1.2M80 34h1.2M66 35h1.2M80 35h1.2M81 35h1.2M64 36h1.2M65 36h1.2M79 36h1.2M80 36h1.2M81 36h1.2M65 37h1.2M66 37h1.2M67 37h1.2M77 37h1.2M65 38h1.2M66 38h1.2M67 38h1.2M75 38h1.2M76 38h1.2M77 38h1.2M65 39h1.2M66 39h1.2M67 39h1.2M70 39h1.2M74 39h1.2M75 39h1.2M76 39h1.2M65 40h1.2M66 40h1.2M67 40h1.2M68 40h1.2M69 40h1.2M71 40h1.2M72 40h1.2M73 40h1.2M65 41h1.2M66 41h1.2M67 41h1.2M68 41h1.2"/><path stroke="#f2d21e" d="M76 32h1.2M77 32h1.2M78 32h1.2M79 32h1.2M80 32h1.2M75 33h1.2M76 33h1.2M78 33h1.2M79 33h1.2M67 34h1.2M68 34h1.2M71 34h1.2M72 34h1.2M73 34h1.2M74 34h1.2M79 34h1.2M67 35h1.2M68 35h1.2M69 35h1.2M70 35h1.2M79 35h1.2M66 36h1.2M67 36h1.2M68 36h1.2M78 36h1.2M68 37h1.2M74 37h1.2M75 37h1.2M76 37h1.2M68 38h1.2M69 38h1.2M70 38h1.2M71 38h1.2M74 38h1.2M68 39h1.2M69 39h1.2M71 39h1.2M73 39h1.2"/><path stroke="#f0862a" d="M77 33h1.2M75 34h1.2M78 34h1.2M78 35h1.2M69 36h1.2M74 36h1.2M75 36h1.2M76 36h1.2M77 36h1.2M69 37h1.2M70 37h1.2M71 37h1.2M73 37h1.2M73 38h1.2M72 39h1.2"/><path stroke="#e0401a" d="M76 34h1.2M77 34h1.2M71 35h1.2M72 35h1.2M73 35h1.2M74 35h1.2M75 35h1.2M76 35h1.2M77 35h1.2M70 36h1.2M71 36h1.2M72 36h1.2M73 36h1.2M72 37h1.2M72 38h1.2"/></g>
<g transform="translate(780.0 183.1)" stroke-width="1.2"><path stroke="#6b82cf" d="M63 21h1.2M83 22h1.2M83 24h1.2M87 24h1.2M81 25h1.2M85 25h1.2M94 25h1.2M89 26h1.2M100 26h1.2M68 27h1.2M70 27h1.2M97 27h1.2M64 28h1.2M63 30h1.2M95 30h1.2M57 32h1.2M60 32h1.2M93 35h1.2M30 40h1.2M88 40h1.2M36 41h1.2M53 42h1.2M91 42h1.2M35 43h1.2M52 43h1.2M76 44h1.2M53 45h1.2M54 46h1.2M80 46h1.2M48 48h1.2M28 49h1.2M17 51h1.2M68 51h1.2M20 52h1.2M26 52h1.2M70 52h1.2M2 53h1.2M46 53h1.2M11 54h1.2M35 54h1.2M53 54h1.2M65 54h1.2M22 56h1.2M58 56h1.2M67 56h1.2M25 57h1.2M29 57h1.2M36 58h1.2M53 58h1.2M27 59h1.2M42 59h1.2M63 59h1.2M21 60h1.2M15 61h1.2M35 61h1.2M63 61h1.2M35 63h1.2M32 64h1.2M21 66h1.2M29 66h1.2M30 66h1.2M53 66h1.2M20 69h1.2M56 69h1.2M32 71h1.2M47 71h1.2M21 73h1.2M7 76h1.2M38 76h1.2M21 80h1.2M18 87h1.2M25 87h1.2"/><path stroke="#1f3bb0" d="M89 25h1.2M72 27h1.2M74 27h1.2M75 27h1.2M85 27h1.2M94 27h1.2M66 28h1.2M67 28h1.2M72 28h1.2M74 28h1.2M80 28h1.2M81 28h1.2M82 28h1.2M86 28h1.2M92 28h1.2M94 28h1.2M77 29h1.2M79 29h1.2M86 29h1.2M87 29h1.2M88 29h1.2M93 29h1.2M67 30h1.2M68 30h1.2M69 30h1.2M88 30h1.2M89 30h1.2M89 31h1.2M90 31h1.2M64 32h1.2M65 32h1.2M88 32h1.2M90 32h1.2M91 32h1.2M93 32h1.2M65 33h1.2M89 33h1.2M91 33h1.2M94 33h1.2M95 33h1.2M60 34h1.2M61 34h1.2M63 34h1.2M89 34h1.2M90 34h1.2M61 35h1.2M62 35h1.2M60 36h1.2M61 36h1.2M88 36h1.2M86 37h1.2M90 37h1.2M91 37h1.2M92 37h1.2M56 38h1.2M60 38h1.2M86 38h1.2M91 38h1.2M55 39h1.2M57 39h1.2M58 39h1.2M85 39h1.2M90 39h1.2M56 40h1.2M81 40h1.2M83 40h1.2M56 41h1.2M78 41h1.2M80 41h1.2M81 41h1.2M55 42h1.2M75 42h1.2M80 42h1.2M57 43h1.2M73 43h1.2M74 43h1.2M56 44h1.2M57 44h1.2M72 44h1.2M56 45h1.2M58 45h1.2M72 45h1.2M57 46h1.2M72 46h1.2M57 47h1.2M58 47h1.2M60 47h1.2M63 47h1.2M65 47h1.2M59 48h1.2M62 48h1.2M63 48h1.2M66 48h1.2M55 49h1.2M56 49h1.2M60 49h1.2M64 49h1.2M65 49h1.2M52 50h1.2M54 50h1.2M57 50h1.2M50 51h1.2M54 51h1.2M55 51h1.2M56 51h1.2M58 51h1.2M59 51h1.2M61 51h1.2M62 51h1.2M64 51h1.2M50 52h1.2M51 52h1.2M52 52h1.2M57 52h1.2M60 52h1.2M62 52h1.2M64 52h1.2M58 53h1.2M60 53h1.2M49 54h1.2M50 54h1.2M56 54h1.2M57 54h1.2M59 54h1.2M66 56h1.2M55 57h1.2M56 57h1.2M28 59h1.2M33 64h1.2"/><path stroke="#2a60d8" d="M83 28h1.2M84 28h1.2M85 28h1.2M74 29h1.2M75 29h1.2M81 29h1.2M82 29h1.2M77 30h1.2M78 30h1.2M68 31h1.2M70 31h1.2M71 31h1.2M67 32h1.2M69 32h1.2M86 32h1.2M87 32h1.2M66 33h1.2M87 33h1.2M65 34h1.2M66 34h1.2M87 34h1.2M65 35h1.2M86 35h1.2M87 35h1.2M85 36h1.2M87 36h1.2M61 37h1.2M62 37h1.2M61 38h1.2M83 38h1.2M84 38h1.2M81 39h1.2M82 39h1.2M78 40h1.2M80 40h1.2M59 41h1.2M74 41h1.2M59 42h1.2M66 42h1.2M68 42h1.2M72 42h1.2M73 42h1.2M59 43h1.2M67 43h1.2M71 43h1.2M72 43h1.2M60 44h1.2M62 44h1.2M63 44h1.2M66 44h1.2M67 44h1.2M68 44h1.2M59 45h1.2M60 45h1.2M61 45h1.2M64 45h1.2M65 45h1.2M67 45h1.2M61 46h1.2M63 46h1.2M64 46h1.2M59 49h1.2"/><path stroke="#35b5d5" d="M84 29h1.2M85 29h1.2M74 30h1.2M80 30h1.2M81 30h1.2M82 30h1.2M83 30h1.2M84 30h1.2M72 31h1.2M78 31h1.2M79 31h1.2M84 31h1.2M70 32h1.2M85 32h1.2M67 33h1.2M68 33h1.2M86 33h1.2M85 34h1.2M86 34h1.2M85 35h1.2M63 36h1.2M64 36h1.2M65 36h1.2M84 36h1.2M65 37h1.2M82 37h1.2M83 37h1.2M62 38h1.2M66 38h1.2M81 38h1.2M82 38h1.2M61 39h1.2M79 39h1.2M60 40h1.2M63 40h1.2M68 40h1.2M69 40h1.2M75 40h1.2M76 40h1.2M77 40h1.2M60 41h1.2M63 41h1.2M64 41h1.2M66 41h1.2M67 41h1.2M68 41h1.2M69 41h1.2M60 42h1.2M61 42h1.2M62 42h1.2M64 42h1.2M69 42h1.2M70 42h1.2M71 42h1.2M60 43h1.2M61 43h1.2M62 43h1.2M63 43h1.2M64 43h1.2M65 43h1.2M66 43h1.2M61 44h1.2M65 44h1.2"/><path stroke="#5ac85c" d="M75 30h1.2M73 31h1.2M76 31h1.2M81 31h1.2M82 31h1.2M83 31h1.2M72 32h1.2M73 32h1.2M78 32h1.2M79 32h1.2M82 32h1.2M83 32h1.2M84 32h1.2M83 33h1.2M84 33h1.2M67 34h1.2M84 34h1.2M67 35h1.2M82 35h1.2M83 35h1.2M84 35h1.2M67 36h1.2M81 36h1.2M82 36h1.2M83 36h1.2M64 37h1.2M67 37h1.2M80 37h1.2M81 37h1.2M63 38h1.2M64 38h1.2M65 38h1.2M68 38h1.2M79 38h1.2M80 38h1.2M62 39h1.2M63 39h1.2M64 39h1.2M65 39h1.2M66 39h1.2M67 39h1.2M68 39h1.2M69 39h1.2M70 39h1.2M75 39h1.2M76 39h1.2M77 39h1.2M78 39h1.2M61 40h1.2M62 40h1.2M64 40h1.2M65 40h1.2M66 40h1.2M67 40h1.2M71 40h1.2M72 40h1.2M73 40h1.2M74 40h1.2M61 41h1.2M62 41h1.2M70 41h1.2M71 41h1.2"/><path stroke="#b5d935" d="M74 31h1.2M75 31h1.2M74 32h1.2M77 32h1.2M80 32h1.2M81 32h1.2M71 33h1.2M73 33h1.2M74 33h1.2M78 33h1.2M79 33h1.2M81 33h1.2M82 33h1.2M68 34h1.2M69 34h1.2M70 34h1.2M81 34h1.2M82 34h1.2M83 34h1.2M68 35h1.2M80 35h1.2M81 35h1.2M68 36h1.2M78 36h1.2M79 36h1.2M80 36h1.2M68 37h1.2M71 37h1.2M77 37h1.2M78 37h1.2M69 38h1.2M70 38h1.2M71 38h1.2M76 38h1.2M77 38h1.2M78 38h1.2M71 39h1.2M72 39h1.2M73 39h1.2M74 39h1.2"/><path stroke="#f2d21e" d="M75 32h1.2M76 32h1.2M72 33h1.2M75 33h1.2M76 33h1.2M77 33h1.2M80 33h1.2M71 34h1.2M73 34h1.2M74 34h1.2M75 34h1.2M77 34h1.2M78 34h1.2M79 34h1.2M80 34h1.2M69 35h1.2M70 35h1.2M71 35h1.2M78 35h1.2M79 35h1.2M69 36h1.2M70 36h1.2M71 36h1.2M77 36h1.2M69 37h1.2M70 37h1.2M72 37h1.2M76 37h1.2M72 38h1.2M73 38h1.2M74 38h1.2"/><path stroke="#f0862a" d="M72 34h1.2M76 34h1.2M72 35h1.2M73 35h1.2M74 35h1.2M77 35h1.2M72 36h1.2M74 37h1.2M75 37h1.2"/><path stroke="#e0401a" d="M75 35h1.2M76 35h1.2M73 36h1.2M74 36h1.2M75 36h1.2M76 36h1.2M73 37h1.2"/></g>
<g transform="translate(76.7 314.4)" stroke-width="1.2"><path stroke="#6b82cf" d="M80 16h1.2M97 16h1.2M70 17h1.2M76 17h1.2M95 17h1.2M101 17h1.2M106 18h1.2M95 21h1.2M98 21h1.2M50 25h1.2M103 25h1.2M46 27h1.2M19 28h1.2M50 28h1.2M21 30h1.2M47 30h1.2M29 32h1.2M5 34h1.2M20 34h1.2M29 35h1.2M19 36h1.2M102 36h1.2M43 37h1.2M20 39h1.2M90 39h1.2M4 40h1.2M44 40h1.2M87 40h1.2M36 41h1.2M18 43h1.2M41 43h1.2M9 44h1.2M15 44h1.2M3 45h1.2M7 45h1.2M25 45h1.2M30 45h1.2M80 45h1.2M27 46h1.2M40 46h1.2M46 46h1.2M75 47h1.2M7 48h1.2M28 49h1.2M37 49h1.2M15 50h1.2M50 50h1.2M42 51h1.2M44 51h1.2M70 51h1.2M20 52h1.2M34 56h1.2"/><path stroke="#1f3bb0" d="M73 17h1.2M74 18h1.2M85 18h1.2M86 18h1.2M89 19h1.2M80 20h1.2M84 20h1.2M87 20h1.2M89 20h1.2M79 21h1.2M83 21h1.2M75 22h1.2M76 22h1.2M87 22h1.2M91 22h1.2M70 23h1.2M71 23h1.2M73 23h1.2M97 23h1.2M105 23h1.2M106 23h1.2M95 24h1.2M67 25h1.2M68 25h1.2M71 25h1.2M99 25h1.2M60 26h1.2M67 26h1.2M53 27h1.2M54 27h1.2M64 27h1.2M67 27h1.2M56 28h1.2M59 28h1.2M64 28h1.2M96 28h1.2M101 28h1.2M52 29h1.2M97 29h1.2M103 29h1.2M56 30h1.2M99 30h1.2M101 30h1.2M93 31h1.2M95 31h1.2M96 31h1.2M98 31h1.2M52 32h1.2M53 32h1.2M96 32h1.2M97 32h1.2M100 32h1.2M17 33h1.2M26 33h1.2M27 33h1.2M35 33h1.2M41 33h1.2M42 33h1.2M43 33h1.2M54 33h1.2M55 33h1.2M92 33h1.2M94 33h1.2M17 34h1.2M33 34h1.2M37 34h1.2M47 34h1.2M49 34h1.2M91 34h1.2M35 35h1.2M45 35h1.2M47 35h1.2M48 35h1.2M53 35h1.2M90 35h1.2M91 35h1.2M95 35h1.2M94 36h1.2M50 37h1.2M47 38h1.2M31 39h1.2M53 39h1.2M55 39h1.2M9 40h1.2M10 40h1.2M30 40h1.2M32 40h1.2M51 40h1.2M34 41h1.2M47 41h1.2M55 41h1.2M81 41h1.2M16 42h1.2M31 42h1.2M45 42h1.2M81 42h1.2M82 42h1.2M83 42h1.2M47 43h1.2M56 43h1.2M72 43h1.2M77 43h1.2M84 43h1.2M51 44h1.2M69 44h1.2M50 45h1.2M53 45h1.2M57 45h1.2M59 45h1.2M76 45h1.2M55 46h1.2M56 46h1.2M61 46h1.2M66 46h1.2M69 46h1.2M52 47h1.2M57 47h1.2M70 47h1.2M54 48h1.2M57 48h1.2M58 48h1.2M63 48h1.2M55 49h1.2M59 49h1.2M63 49h1.2M71 49h1.2M72 49h1.2M59 50h1.2M61 50h1.2"/><path stroke="#2a60d8" d="M80 21h1.2M82 21h1.2M80 22h1.2M81 22h1.2M82 22h1.2M85 22h1.2M78 23h1.2M79 23h1.2M81 23h1.2M83 23h1.2M84 23h1.2M88 23h1.2M89 23h1.2M90 23h1.2M75 24h1.2M76 24h1.2M91 24h1.2M75 25h1.2M76 25h1.2M77 25h1.2M82 25h1.2M96 25h1.2M72 26h1.2M96 26h1.2M97 26h1.2M99 26h1.2M59 27h1.2M60 27h1.2M91 27h1.2M93 27h1.2M95 27h1.2M97 27h1.2M98 27h1.2M99 27h1.2M61 28h1.2M65 28h1.2M91 28h1.2M61 29h1.2M62 29h1.2M65 29h1.2M92 29h1.2M94 29h1.2M90 30h1.2M93 30h1.2M56 31h1.2M94 31h1.2M90 32h1.2M52 36h1.2M53 36h1.2M55 36h1.2M87 36h1.2M52 37h1.2M53 37h1.2M56 37h1.2M48 38h1.2M48 39h1.2M49 39h1.2M49 40h1.2M52 40h1.2M53 40h1.2M75 41h1.2M78 41h1.2M84 41h1.2M54 42h1.2M58 42h1.2M74 42h1.2M78 42h1.2M79 42h1.2M58 43h1.2M70 43h1.2M53 44h1.2M55 44h1.2M65 44h1.2M65 45h1.2M62 49h1.2"/><path stroke="#35b5d5" d="M85 23h1.2M78 24h1.2M79 24h1.2M85 24h1.2M86 24h1.2M87 24h1.2M90 24h1.2M78 25h1.2M90 25h1.2M91 25h1.2M92 25h1.2M93 25h1.2M94 25h1.2M70 26h1.2M80 26h1.2M90 26h1.2M94 26h1.2M69 27h1.2M72 27h1.2M73 27h1.2M75 27h1.2M77 27h1.2M82 27h1.2M90 28h1.2M93 28h1.2M94 28h1.2M93 29h1.2M60 30h1.2M64 30h1.2M65 30h1.2M89 30h1.2M60 31h1.2M62 31h1.2M89 31h1.2M57 32h1.2M57 33h1.2M58 33h1.2M89 33h1.2M56 35h1.2M57 35h1.2M58 35h1.2M56 36h1.2M57 36h1.2M86 36h1.2M85 38h1.2M56 39h1.2M72 39h1.2M73 39h1.2M82 39h1.2M59 40h1.2M72 40h1.2M74 40h1.2M79 40h1.2M83 40h1.2M84 40h1.2M59 41h1.2M60 41h1.2M61 41h1.2M63 41h1.2M64 41h1.2M71 41h1.2M72 41h1.2M73 41h1.2M74 41h1.2M79 41h1.2M52 42h1.2M53 42h1.2M59 42h1.2M62 42h1.2M65 42h1.2M66 42h1.2M67 42h1.2M68 42h1.2M69 42h1.2M71 42h1.2M72 42h1.2M52 43h1.2M53 43h1.2M60 43h1.2M62 43h1.2M63 43h1.2M66 43h1.2M75 43h1.2M63 44h1.2M64 44h1.2M67 44h1.2"/><path stroke="#5ac85c" d="M79 25h1.2M83 25h1.2M84 25h1.2M86 25h1.2M87 25h1.2M88 25h1.2M89 25h1.2M78 26h1.2M79 26h1.2M84 26h1.2M86 26h1.2M87 26h1.2M89 26h1.2M70 27h1.2M78 27h1.2M79 27h1.2M80 27h1.2M83 27h1.2M85 27h1.2M86 27h1.2M69 28h1.2M73 28h1.2M75 28h1.2M78 28h1.2M89 28h1.2M89 29h1.2M66 30h1.2M77 30h1.2M87 30h1.2M88 30h1.2M58 31h1.2M63 31h1.2M58 32h1.2M59 32h1.2M60 32h1.2M61 32h1.2M89 32h1.2M59 33h1.2M59 34h1.2M82 34h1.2M84 34h1.2M86 34h1.2M87 34h1.2M59 35h1.2M61 35h1.2M84 35h1.2M85 35h1.2M86 35h1.2M87 35h1.2M58 36h1.2M59 36h1.2M61 36h1.2M62 36h1.2M79 36h1.2M84 36h1.2M85 36h1.2M58 37h1.2M60 37h1.2M61 37h1.2M77 37h1.2M79 37h1.2M84 37h1.2M57 38h1.2M58 38h1.2M59 38h1.2M60 38h1.2M72 38h1.2M78 38h1.2M84 38h1.2M57 39h1.2M58 39h1.2M60 39h1.2M61 39h1.2M71 39h1.2M74 39h1.2M75 39h1.2M77 39h1.2M79 39h1.2M80 39h1.2M83 39h1.2M84 39h1.2M57 40h1.2M61 40h1.2M62 40h1.2M63 40h1.2M64 40h1.2M65 40h1.2M67 40h1.2M67 41h1.2M69 41h1.2M70 41h1.2"/><path stroke="#b5d935" d="M88 26h1.2M87 27h1.2M88 27h1.2M89 27h1.2M74 28h1.2M79 28h1.2M80 28h1.2M81 28h1.2M82 28h1.2M83 28h1.2M87 28h1.2M88 28h1.2M68 29h1.2M69 29h1.2M71 29h1.2M72 29h1.2M75 29h1.2M78 29h1.2M79 29h1.2M81 29h1.2M82 29h1.2M67 30h1.2M78 30h1.2M79 30h1.2M80 30h1.2M81 30h1.2M64 31h1.2M66 31h1.2M76 31h1.2M78 31h1.2M79 31h1.2M80 31h1.2M85 31h1.2M87 31h1.2M88 31h1.2M62 32h1.2M63 32h1.2M65 32h1.2M66 32h1.2M76 32h1.2M77 32h1.2M79 32h1.2M86 32h1.2M88 32h1.2M60 33h1.2M61 33h1.2M62 33h1.2M77 33h1.2M82 33h1.2M83 33h1.2M84 33h1.2M85 33h1.2M86 33h1.2M88 33h1.2M60 34h1.2M61 34h1.2M62 34h1.2M63 34h1.2M76 34h1.2M77 34h1.2M78 34h1.2M80 34h1.2M62 35h1.2M63 35h1.2M76 35h1.2M77 35h1.2M78 35h1.2M79 35h1.2M80 35h1.2M81 35h1.2M82 35h1.2M83 35h1.2M63 36h1.2M75 36h1.2M80 36h1.2M82 36h1.2M62 37h1.2M63 37h1.2M71 37h1.2M72 37h1.2M76 37h1.2M80 37h1.2M81 37h1.2M82 37h1.2M83 37h1.2M61 38h1.2M62 38h1.2M67 38h1.2M73 38h1.2M77 38h1.2M79 38h1.2M80 38h1.2M81 38h1.2M82 38h1.2M83 38h1.2M63 39h1.2M66 39h1.2M67 39h1.2M70 39h1.2M76 39h1.2M68 40h1.2M69 40h1.2M70 40h1.2"/><path stroke="#f2d21e" d="M84 28h1.2M85 28h1.2M70 29h1.2M80 29h1.2M83 29h1.2M86 29h1.2M70 30h1.2M71 30h1.2M72 30h1.2M75 30h1.2M82 30h1.2M83 30h1.2M85 30h1.2M75 31h1.2M81 31h1.2M84 31h1.2M64 32h1.2M67 32h1.2M68 32h1.2M80 32h1.2M81 32h1.2M83 32h1.2M84 32h1.2M87 32h1.2M63 33h1.2M64 33h1.2M65 33h1.2M66 33h1.2M67 33h1.2M68 33h1.2M79 33h1.2M80 33h1.2M87 33h1.2M64 34h1.2M69 34h1.2M75 34h1.2M79 34h1.2M64 35h1.2M69 35h1.2M70 35h1.2M71 35h1.2M70 36h1.2M71 36h1.2M72 36h1.2M64 37h1.2M65 37h1.2M66 37h1.2M70 37h1.2M73 37h1.2M75 37h1.2M63 38h1.2M64 38h1.2M65 38h1.2M66 38h1.2M68 38h1.2M69 38h1.2M75 38h1.2M76 38h1.2M64 39h1.2M65 39h1.2M69 39h1.2"/><path stroke="#f0862a" d="M84 29h1.2M85 29h1.2M68 30h1.2M69 30h1.2M73 30h1.2M74 30h1.2M84 30h1.2M68 31h1.2M69 31h1.2M82 31h1.2M83 31h1.2M69 32h1.2M82 32h1.2M69 33h1.2M73 33h1.2M65 34h1.2M66 34h1.2M67 34h1.2M68 34h1.2M70 34h1.2M71 34h1.2M72 34h1.2M72 35h1.2M74 35h1.2M65 36h1.2M69 36h1.2M73 36h1.2M74 36h1.2M68 37h1.2M69 37h1.2M74 37h1.2"/><path stroke="#e0401a" d="M70 31h1.2M71 31h1.2M72 31h1.2M73 31h1.2M70 32h1.2M71 32h1.2M72 32h1.2M74 32h1.2M70 33h1.2M71 33h1.2M74 33h1.2M73 34h1.2M74 34h1.2M65 35h1.2M66 35h1.2M67 35h1.2M73 35h1.2M66 36h1.2M67 36h1.2M68 36h1.2"/></g>
<g transform="translate(217.3 314.4)" stroke-width="1.2"><path stroke="#6b82cf" d="M94 15h1.2M92 16h1.2M78 17h1.2M98 18h1.2M102 18h1.2M97 19h1.2M75 20h1.2M101 21h1.2M104 21h1.2M63 24h1.2M66 24h1.2M101 24h1.2M62 25h1.2M56 27h1.2M103 27h1.2M63 28h1.2M15 29h1.2M26 29h1.2M50 31h1.2M56 31h1.2M97 34h1.2M38 35h1.2M49 37h1.2M12 38h1.2M52 38h1.2M50 39h1.2M54 39h1.2M84 39h1.2M15 40h1.2M22 40h1.2M26 40h1.2M35 40h1.2M76 40h1.2M48 41h1.2M56 41h1.2M30 43h1.2M36 43h1.2M43 43h1.2M45 43h1.2M74 43h1.2M18 44h1.2M33 44h1.2M48 45h1.2M51 45h1.2M76 45h1.2M15 46h1.2M45 46h1.2M66 47h1.2M73 47h1.2M31 48h1.2M33 48h1.2M38 48h1.2M42 48h1.2M49 48h1.2M57 48h1.2M26 49h1.2M64 49h1.2M43 50h1.2M47 50h1.2M52 50h1.2M59 51h1.2M29 52h1.2M33 52h1.2M57 52h1.2M67 53h1.2M24 54h1.2M16 55h1.2M26 58h1.2M32 58h1.2M34 59h1.2M16 63h1.2M22 65h1.2M38 65h1.2"/><path stroke="#1f3bb0" d="M85 17h1.2M88 18h1.2M89 18h1.2M81 19h1.2M90 19h1.2M93 19h1.2M78 20h1.2M80 20h1.2M85 20h1.2M86 20h1.2M88 20h1.2M92 20h1.2M76 21h1.2M93 21h1.2M98 21h1.2M99 21h1.2M71 22h1.2M75 22h1.2M94 22h1.2M98 22h1.2M68 23h1.2M69 23h1.2M74 23h1.2M75 23h1.2M92 23h1.2M71 24h1.2M94 24h1.2M95 24h1.2M98 24h1.2M67 25h1.2M68 26h1.2M69 26h1.2M97 26h1.2M98 26h1.2M95 27h1.2M96 27h1.2M65 28h1.2M66 28h1.2M94 28h1.2M65 29h1.2M95 29h1.2M96 29h1.2M54 30h1.2M64 30h1.2M53 31h1.2M60 31h1.2M62 31h1.2M63 31h1.2M92 31h1.2M59 32h1.2M89 32h1.2M60 33h1.2M90 33h1.2M61 34h1.2M57 35h1.2M61 35h1.2M85 35h1.2M54 36h1.2M55 36h1.2M58 36h1.2M76 36h1.2M82 36h1.2M86 36h1.2M56 37h1.2M75 37h1.2M77 37h1.2M82 37h1.2M57 38h1.2M58 38h1.2M74 38h1.2M76 38h1.2M77 38h1.2M79 38h1.2M80 38h1.2M58 39h1.2M74 39h1.2M73 40h1.2M35 41h1.2M54 41h1.2M58 41h1.2M73 41h1.2M52 42h1.2M54 42h1.2M67 42h1.2M72 42h1.2M39 43h1.2M52 43h1.2M54 43h1.2M57 43h1.2M58 43h1.2M59 43h1.2M62 43h1.2M66 43h1.2M67 43h1.2M55 44h1.2M61 44h1.2M64 44h1.2M70 44h1.2M72 44h1.2M54 45h1.2M57 45h1.2M66 45h1.2M69 45h1.2M71 45h1.2M55 46h1.2M56 46h1.2M57 46h1.2M59 46h1.2M61 46h1.2M67 46h1.2M55 47h1.2M61 47h1.2M51 48h1.2M52 48h1.2M55 48h1.2M61 48h1.2M61 49h1.2M27 54h1.2"/><path stroke="#2a60d8" d="M84 20h1.2M90 20h1.2M78 21h1.2M79 21h1.2M85 21h1.2M89 21h1.2M90 21h1.2M91 21h1.2M92 21h1.2M87 22h1.2M91 22h1.2M71 23h1.2M72 23h1.2M73 23h1.2M91 23h1.2M73 24h1.2M75 24h1.2M76 24h1.2M72 25h1.2M73 25h1.2M92 25h1.2M93 25h1.2M95 25h1.2M96 25h1.2M93 26h1.2M94 26h1.2M69 27h1.2M93 28h1.2M66 29h1.2M67 29h1.2M68 29h1.2M93 29h1.2M90 30h1.2M91 30h1.2M66 31h1.2M90 31h1.2M75 33h1.2M84 33h1.2M85 33h1.2M86 33h1.2M74 35h1.2M75 35h1.2M78 35h1.2M60 36h1.2M61 36h1.2M62 36h1.2M79 36h1.2M81 36h1.2M59 37h1.2M80 37h1.2M73 38h1.2M59 39h1.2M72 39h1.2M73 39h1.2M66 40h1.2M71 40h1.2M60 41h1.2M64 41h1.2M67 41h1.2M68 41h1.2M70 41h1.2M72 41h1.2M62 42h1.2M64 42h1.2M65 42h1.2M70 42h1.2M71 42h1.2M60 43h1.2M60 44h1.2M60 45h1.2M60 46h1.2"/><path stroke="#35b5d5" d="M82 21h1.2M83 21h1.2M84 21h1.2M78 22h1.2M85 22h1.2M88 22h1.2M89 22h1.2M90 22h1.2M78 23h1.2M90 23h1.2M90 24h1.2M91 25h1.2M71 26h1.2M72 26h1.2M73 26h1.2M74 26h1.2M75 26h1.2M91 26h1.2M70 27h1.2M90 27h1.2M91 27h1.2M92 27h1.2M70 28h1.2M88 28h1.2M90 28h1.2M92 28h1.2M69 29h1.2M88 29h1.2M90 29h1.2M91 29h1.2M92 29h1.2M67 30h1.2M68 30h1.2M88 30h1.2M89 30h1.2M65 31h1.2M67 31h1.2M68 31h1.2M87 31h1.2M88 31h1.2M89 31h1.2M64 32h1.2M65 32h1.2M74 32h1.2M76 32h1.2M83 32h1.2M85 32h1.2M86 32h1.2M64 33h1.2M66 33h1.2M67 33h1.2M77 33h1.2M82 33h1.2M68 34h1.2M70 34h1.2M71 34h1.2M74 34h1.2M82 34h1.2M63 35h1.2M66 35h1.2M68 35h1.2M70 35h1.2M72 35h1.2M79 35h1.2M80 35h1.2M81 35h1.2M63 36h1.2M66 36h1.2M67 36h1.2M68 36h1.2M70 36h1.2M72 36h1.2M73 36h1.2M60 37h1.2M61 37h1.2M62 37h1.2M63 37h1.2M64 37h1.2M68 37h1.2M69 37h1.2M70 37h1.2M71 37h1.2M72 37h1.2M73 37h1.2M60 38h1.2M61 38h1.2M62 38h1.2M63 38h1.2M65 38h1.2M66 38h1.2M67 38h1.2M68 38h1.2M69 38h1.2M70 38h1.2M72 38h1.2M60 39h1.2M64 39h1.2M65 39h1.2M67 39h1.2M68 39h1.2M70 39h1.2M67 40h1.2M68 40h1.2M69 40h1.2M63 41h1.2"/><path stroke="#5ac85c" d="M79 22h1.2M83 22h1.2M84 23h1.2M85 23h1.2M86 23h1.2M87 23h1.2M88 23h1.2M78 24h1.2M89 24h1.2M76 25h1.2M77 25h1.2M78 25h1.2M90 25h1.2M76 26h1.2M89 26h1.2M90 26h1.2M71 27h1.2M72 27h1.2M73 27h1.2M74 27h1.2M75 27h1.2M88 27h1.2M71 28h1.2M75 28h1.2M91 28h1.2M70 29h1.2M71 29h1.2M72 29h1.2M69 30h1.2M70 30h1.2M71 30h1.2M72 30h1.2M73 30h1.2M87 30h1.2M69 31h1.2M70 31h1.2M71 31h1.2M72 31h1.2M73 31h1.2M74 31h1.2M83 31h1.2M84 31h1.2M85 31h1.2M86 31h1.2M68 32h1.2M69 32h1.2M70 32h1.2M72 32h1.2M73 32h1.2M77 32h1.2M80 32h1.2M81 32h1.2M82 32h1.2M65 33h1.2M68 33h1.2M69 33h1.2M70 33h1.2M71 33h1.2M72 33h1.2M73 33h1.2M78 33h1.2M80 33h1.2M81 33h1.2M64 34h1.2M65 34h1.2M72 34h1.2M73 34h1.2M80 34h1.2M81 34h1.2M64 35h1.2M65 35h1.2M69 35h1.2M64 36h1.2M65 36h1.2M69 36h1.2M65 37h1.2M66 37h1.2M71 38h1.2M61 39h1.2M62 39h1.2M61 40h1.2M62 40h1.2M61 41h1.2M62 41h1.2"/><path stroke="#b5d935" d="M80 22h1.2M81 22h1.2M82 22h1.2M79 23h1.2M79 24h1.2M87 24h1.2M88 24h1.2M79 25h1.2M88 25h1.2M89 25h1.2M77 26h1.2M78 26h1.2M79 26h1.2M88 26h1.2M77 27h1.2M87 27h1.2M72 28h1.2M73 28h1.2M74 28h1.2M76 28h1.2M84 28h1.2M86 28h1.2M73 29h1.2M74 29h1.2M75 29h1.2M84 29h1.2M86 29h1.2M74 30h1.2M75 30h1.2M79 30h1.2M83 30h1.2M84 30h1.2M85 30h1.2M86 30h1.2M76 31h1.2M77 31h1.2M78 31h1.2M79 31h1.2M80 31h1.2M81 31h1.2M82 31h1.2M78 32h1.2M79 32h1.2"/><path stroke="#f2d21e" d="M80 23h1.2M81 23h1.2M82 23h1.2M80 24h1.2M83 24h1.2M84 24h1.2M85 24h1.2M86 24h1.2M80 25h1.2M87 25h1.2M80 26h1.2M83 26h1.2M87 26h1.2M78 27h1.2M79 27h1.2M84 27h1.2M77 28h1.2M78 28h1.2M83 28h1.2M85 28h1.2M76 29h1.2M78 29h1.2M83 29h1.2M85 29h1.2M76 30h1.2M77 30h1.2M78 30h1.2M80 30h1.2M81 30h1.2M82 30h1.2"/><path stroke="#f0862a" d="M81 24h1.2M82 24h1.2M83 25h1.2M84 25h1.2M86 25h1.2M84 26h1.2M86 26h1.2M80 27h1.2M86 27h1.2M79 28h1.2M77 29h1.2M79 29h1.2"/><path stroke="#e0401a" d="M81 25h1.2M82 25h1.2M85 25h1.2M81 26h1.2M82 26h1.2M85 26h1.2M81 27h1.2M82 27h1.2M85 27h1.2M80 28h1.2M81 28h1.2M82 28h1.2M80 29h1.2M81 29h1.2M82 29h1.2"/></g>
<g transform="translate(361.7 314.4)" stroke-width="1.2"><path stroke="#6b82cf" d="M69 18h1.2M95 19h1.2M98 20h1.2M100 25h1.2M63 27h1.2M27 28h1.2M97 28h1.2M30 29h1.2M60 29h1.2M25 31h1.2M13 32h1.2M27 32h1.2M37 32h1.2M44 32h1.2M47 32h1.2M42 33h1.2M7 34h1.2M21 35h1.2M26 35h1.2M44 35h1.2M22 36h1.2M84 36h1.2M28 37h1.2M30 37h1.2M46 37h1.2M51 37h1.2M3 38h1.2M12 38h1.2M21 38h1.2M26 38h1.2M39 38h1.2M41 38h1.2M19 39h1.2M28 39h1.2M25 40h1.2M30 40h1.2M77 40h1.2M16 41h1.2M28 42h1.2M33 42h1.2M36 42h1.2M38 42h1.2M18 43h1.2M46 43h1.2M24 44h1.2M33 44h1.2M30 45h1.2M49 45h1.2M69 45h1.2M24 46h1.2M29 46h1.2M55 46h1.2M10 47h1.2M36 47h1.2M46 47h1.2M64 47h1.2M31 48h1.2M56 48h1.2M22 49h1.2M50 50h1.2M2 51h1.2M9 51h1.2M34 51h1.2M25 52h1.2M49 53h1.2M65 53h1.2M31 54h1.2M35 57h1.2M56 57h1.2M26 58h1.2M28 59h1.2M54 61h1.2"/><path stroke="#1f3bb0" d="M84 17h1.2M85 17h1.2M79 18h1.2M84 18h1.2M90 18h1.2M73 19h1.2M78 19h1.2M80 19h1.2M88 19h1.2M89 19h1.2M72 20h1.2M91 20h1.2M72 21h1.2M73 21h1.2M78 21h1.2M80 21h1.2M93 21h1.2M95 21h1.2M68 22h1.2M69 22h1.2M75 22h1.2M93 22h1.2M94 24h1.2M95 24h1.2M93 25h1.2M66 26h1.2M95 26h1.2M66 27h1.2M93 27h1.2M92 28h1.2M95 28h1.2M64 29h1.2M92 29h1.2M95 29h1.2M60 31h1.2M61 31h1.2M63 31h1.2M56 32h1.2M58 32h1.2M60 32h1.2M89 32h1.2M55 33h1.2M62 33h1.2M89 33h1.2M90 33h1.2M56 34h1.2M58 34h1.2M59 34h1.2M60 34h1.2M81 34h1.2M89 34h1.2M79 35h1.2M83 35h1.2M37 36h1.2M54 36h1.2M56 36h1.2M58 36h1.2M76 36h1.2M77 36h1.2M37 37h1.2M55 37h1.2M78 37h1.2M49 38h1.2M56 38h1.2M49 39h1.2M52 39h1.2M55 39h1.2M57 39h1.2M75 39h1.2M51 40h1.2M52 40h1.2M55 40h1.2M56 40h1.2M59 40h1.2M75 40h1.2M54 41h1.2M60 41h1.2M73 41h1.2M53 42h1.2M54 42h1.2M56 42h1.2M58 42h1.2M59 42h1.2M72 42h1.2M52 43h1.2M55 43h1.2M57 43h1.2M60 43h1.2M64 43h1.2M70 43h1.2M15 44h1.2M65 44h1.2M67 44h1.2M15 45h1.2M56 45h1.2M59 45h1.2M62 45h1.2M64 45h1.2M33 46h1.2M34 46h1.2M58 46h1.2M60 46h1.2M62 46h1.2M25 48h1.2M26 48h1.2M38 49h1.2M39 49h1.2M42 49h1.2M42 50h1.2"/><path stroke="#2a60d8" d="M84 19h1.2M86 20h1.2M87 20h1.2M89 20h1.2M82 21h1.2M88 21h1.2M89 21h1.2M91 21h1.2M76 22h1.2M77 22h1.2M81 22h1.2M91 22h1.2M71 23h1.2M72 23h1.2M73 23h1.2M92 23h1.2M69 24h1.2M92 24h1.2M68 25h1.2M68 26h1.2M71 26h1.2M91 26h1.2M92 26h1.2M67 27h1.2M68 27h1.2M91 27h1.2M66 28h1.2M67 28h1.2M91 28h1.2M66 29h1.2M67 29h1.2M90 29h1.2M91 29h1.2M65 30h1.2M66 30h1.2M67 30h1.2M64 31h1.2M87 31h1.2M64 32h1.2M85 32h1.2M87 32h1.2M63 33h1.2M81 33h1.2M83 33h1.2M84 33h1.2M62 34h1.2M63 34h1.2M78 34h1.2M79 34h1.2M62 35h1.2M75 35h1.2M76 35h1.2M78 35h1.2M60 36h1.2M61 36h1.2M75 36h1.2M57 37h1.2M58 37h1.2M74 37h1.2M57 38h1.2M59 38h1.2M73 38h1.2M58 39h1.2M61 40h1.2M62 40h1.2M64 40h1.2M71 40h1.2M72 40h1.2M63 41h1.2M64 41h1.2M70 41h1.2M72 41h1.2M63 42h1.2M64 42h1.2M69 42h1.2M65 43h1.2M67 43h1.2M68 43h1.2"/><path stroke="#35b5d5" d="M84 20h1.2M85 20h1.2M83 21h1.2M84 21h1.2M85 21h1.2M86 21h1.2M79 22h1.2M80 22h1.2M83 22h1.2M86 22h1.2M87 22h1.2M88 22h1.2M89 22h1.2M90 22h1.2M74 23h1.2M75 23h1.2M88 23h1.2M90 23h1.2M70 24h1.2M71 24h1.2M72 24h1.2M73 24h1.2M88 24h1.2M89 24h1.2M91 24h1.2M69 25h1.2M70 25h1.2M71 25h1.2M72 25h1.2M89 25h1.2M90 25h1.2M69 26h1.2M70 26h1.2M70 27h1.2M71 27h1.2M90 27h1.2M69 28h1.2M90 28h1.2M88 29h1.2M89 29h1.2M68 30h1.2M65 31h1.2M67 31h1.2M68 31h1.2M85 31h1.2M86 31h1.2M81 32h1.2M82 32h1.2M83 32h1.2M84 32h1.2M64 33h1.2M80 33h1.2M64 35h1.2M62 36h1.2M63 36h1.2M64 36h1.2M70 36h1.2M70 37h1.2M71 37h1.2M72 37h1.2M73 37h1.2M60 38h1.2M70 38h1.2M60 39h1.2M64 39h1.2M63 40h1.2M70 40h1.2M66 41h1.2M66 42h1.2M67 42h1.2M68 42h1.2"/><path stroke="#5ac85c" d="M82 23h1.2M83 23h1.2M84 23h1.2M86 23h1.2M87 23h1.2M74 24h1.2M75 24h1.2M86 24h1.2M87 24h1.2M73 25h1.2M87 25h1.2M88 25h1.2M73 26h1.2M88 26h1.2M89 26h1.2M73 27h1.2M88 27h1.2M89 27h1.2M70 28h1.2M72 28h1.2M88 28h1.2M89 28h1.2M69 29h1.2M87 29h1.2M69 30h1.2M84 30h1.2M85 30h1.2M86 30h1.2M69 31h1.2M82 31h1.2M83 31h1.2M66 32h1.2M69 32h1.2M71 32h1.2M80 32h1.2M65 33h1.2M70 33h1.2M71 33h1.2M74 33h1.2M76 33h1.2M77 33h1.2M78 33h1.2M79 33h1.2M64 34h1.2M71 34h1.2M74 34h1.2M65 35h1.2M65 36h1.2M68 36h1.2M69 36h1.2M72 36h1.2M73 36h1.2M62 37h1.2M63 37h1.2M64 37h1.2M65 37h1.2M66 37h1.2M67 37h1.2M68 37h1.2M69 37h1.2M61 38h1.2M62 38h1.2M63 38h1.2M64 38h1.2M66 38h1.2M67 38h1.2M69 38h1.2M61 39h1.2M66 39h1.2M68 39h1.2M69 39h1.2M67 40h1.2M68 40h1.2M69 40h1.2M67 41h1.2"/><path stroke="#b5d935" d="M78 23h1.2M79 23h1.2M80 23h1.2M76 24h1.2M83 24h1.2M84 24h1.2M85 24h1.2M75 25h1.2M76 25h1.2M86 25h1.2M74 26h1.2M75 26h1.2M87 26h1.2M74 27h1.2M87 27h1.2M73 28h1.2M74 28h1.2M70 29h1.2M71 29h1.2M72 29h1.2M74 29h1.2M85 29h1.2M86 29h1.2M72 30h1.2M73 30h1.2M74 30h1.2M83 30h1.2M70 31h1.2M71 31h1.2M72 31h1.2M73 31h1.2M74 31h1.2M73 32h1.2M74 32h1.2M75 32h1.2M77 32h1.2M78 32h1.2M79 32h1.2M66 33h1.2M67 33h1.2M68 33h1.2M69 33h1.2M72 33h1.2M73 33h1.2M65 34h1.2M66 34h1.2M68 34h1.2M69 34h1.2M72 34h1.2M73 34h1.2M66 35h1.2M67 35h1.2M68 35h1.2M69 35h1.2M72 35h1.2M73 35h1.2M66 36h1.2M67 36h1.2M67 39h1.2"/><path stroke="#f2d21e" d="M77 24h1.2M78 24h1.2M82 24h1.2M77 25h1.2M78 25h1.2M83 25h1.2M84 25h1.2M85 25h1.2M76 26h1.2M77 26h1.2M78 26h1.2M75 27h1.2M76 27h1.2M75 28h1.2M85 28h1.2M86 28h1.2M75 29h1.2M76 29h1.2M77 29h1.2M83 29h1.2M70 30h1.2M71 30h1.2M75 30h1.2M76 30h1.2M77 30h1.2M78 30h1.2M75 31h1.2M76 31h1.2M78 31h1.2M79 31h1.2M80 31h1.2M76 32h1.2M67 34h1.2"/><path stroke="#f0862a" d="M79 24h1.2M80 24h1.2M81 24h1.2M79 25h1.2M79 26h1.2M83 26h1.2M84 26h1.2M85 26h1.2M77 27h1.2M78 27h1.2M81 27h1.2M82 27h1.2M83 27h1.2M86 27h1.2M76 28h1.2M77 28h1.2M81 28h1.2M82 28h1.2M83 28h1.2M84 28h1.2M78 29h1.2M79 30h1.2M82 30h1.2"/><path stroke="#e0401a" d="M80 25h1.2M81 25h1.2M82 25h1.2M80 26h1.2M81 26h1.2M82 26h1.2M79 27h1.2M80 27h1.2M84 27h1.2M85 27h1.2M78 28h1.2M79 28h1.2M80 28h1.2M79 29h1.2M80 29h1.2M81 29h1.2M82 29h1.2M80 30h1.2M81 30h1.2"/></g>
<g transform="translate(503.3 314.4)" stroke-width="1.2"><path stroke="#6b82cf" d="M91 5h1.2M91 8h1.2M82 12h1.2M92 12h1.2M94 12h1.2M84 13h1.2M88 13h1.2M86 14h1.2M90 14h1.2M95 14h1.2M97 14h1.2M75 15h1.2M74 17h1.2M76 17h1.2M92 18h1.2M94 19h1.2M99 19h1.2M70 21h1.2M98 21h1.2M26 23h1.2M62 24h1.2M93 25h1.2M92 26h1.2M44 29h1.2M52 29h1.2M61 31h1.2M54 32h1.2M59 32h1.2M23 33h1.2M43 33h1.2M46 33h1.2M24 35h1.2M38 36h1.2M28 37h1.2M84 37h1.2M14 39h1.2M26 39h1.2M40 39h1.2M13 40h1.2M37 40h1.2M15 41h1.2M36 41h1.2M80 42h1.2M83 42h1.2M1 43h1.2M6 43h1.2M49 43h1.2M39 44h1.2M41 44h1.2M78 44h1.2M24 45h1.2M22 46h1.2M52 46h1.2M74 46h1.2M10 47h1.2M56 47h1.2M56 49h1.2M76 49h1.2M58 50h1.2M65 50h1.2M70 50h1.2M62 51h1.2M61 52h1.2M54 53h1.2"/><path stroke="#1f3bb0" d="M93 11h1.2M82 16h1.2M85 16h1.2M86 16h1.2M81 17h1.2M83 18h1.2M88 18h1.2M89 18h1.2M90 18h1.2M76 19h1.2M78 19h1.2M79 19h1.2M87 19h1.2M76 20h1.2M89 20h1.2M91 20h1.2M75 21h1.2M90 22h1.2M73 23h1.2M74 23h1.2M91 23h1.2M91 24h1.2M68 25h1.2M66 26h1.2M67 26h1.2M66 27h1.2M89 27h1.2M90 27h1.2M88 28h1.2M64 29h1.2M85 29h1.2M86 29h1.2M84 30h1.2M85 30h1.2M90 30h1.2M91 30h1.2M64 31h1.2M63 32h1.2M64 32h1.2M84 32h1.2M85 32h1.2M89 32h1.2M41 33h1.2M61 33h1.2M84 33h1.2M89 33h1.2M22 34h1.2M54 34h1.2M55 34h1.2M57 34h1.2M60 34h1.2M61 34h1.2M16 35h1.2M22 35h1.2M45 35h1.2M57 35h1.2M52 36h1.2M82 36h1.2M45 37h1.2M46 37h1.2M48 37h1.2M49 37h1.2M52 37h1.2M53 37h1.2M81 37h1.2M44 38h1.2M51 38h1.2M58 38h1.2M82 38h1.2M44 39h1.2M46 39h1.2M51 39h1.2M20 40h1.2M46 40h1.2M51 40h1.2M56 40h1.2M58 40h1.2M59 40h1.2M61 40h1.2M76 40h1.2M80 40h1.2M20 41h1.2M52 41h1.2M57 41h1.2M59 41h1.2M76 41h1.2M76 42h1.2M17 43h1.2M18 43h1.2M56 43h1.2M57 43h1.2M75 43h1.2M46 44h1.2M52 44h1.2M53 44h1.2M55 44h1.2M57 44h1.2M69 44h1.2M76 44h1.2M46 45h1.2M54 45h1.2M55 45h1.2M56 45h1.2M58 45h1.2M63 45h1.2M69 45h1.2M70 45h1.2M59 46h1.2M61 46h1.2M68 46h1.2M70 46h1.2M40 47h1.2M60 47h1.2M63 47h1.2M64 47h1.2M65 47h1.2M66 47h1.2M68 47h1.2M40 48h1.2M61 48h1.2M64 48h1.2M66 48h1.2M53 49h1.2M52 50h1.2M53 50h1.2M54 50h1.2"/><path stroke="#2a60d8" d="M81 18h1.2M82 18h1.2M80 19h1.2M81 19h1.2M82 19h1.2M85 19h1.2M86 19h1.2M78 20h1.2M82 20h1.2M84 20h1.2M86 20h1.2M87 20h1.2M77 21h1.2M87 21h1.2M76 22h1.2M87 22h1.2M75 23h1.2M88 23h1.2M89 23h1.2M75 24h1.2M88 24h1.2M89 24h1.2M90 24h1.2M70 25h1.2M73 25h1.2M88 25h1.2M69 26h1.2M87 26h1.2M88 26h1.2M70 27h1.2M87 27h1.2M69 28h1.2M85 28h1.2M86 28h1.2M68 29h1.2M66 30h1.2M67 30h1.2M65 31h1.2M66 31h1.2M82 32h1.2M83 32h1.2M63 33h1.2M82 33h1.2M83 33h1.2M62 34h1.2M63 34h1.2M82 34h1.2M82 35h1.2M59 36h1.2M60 36h1.2M62 36h1.2M55 37h1.2M56 37h1.2M59 37h1.2M54 38h1.2M55 38h1.2M56 38h1.2M78 38h1.2M79 38h1.2M52 39h1.2M53 39h1.2M57 39h1.2M61 39h1.2M76 39h1.2M77 39h1.2M54 40h1.2M62 40h1.2M78 40h1.2M79 40h1.2M53 41h1.2M54 41h1.2M54 42h1.2M59 42h1.2M74 42h1.2M75 42h1.2M58 43h1.2M59 43h1.2M60 43h1.2M70 43h1.2M72 43h1.2M73 43h1.2M74 43h1.2M59 44h1.2M63 44h1.2M64 44h1.2M59 45h1.2M61 45h1.2M65 45h1.2M66 45h1.2M67 45h1.2"/><path stroke="#35b5d5" d="M85 20h1.2M78 21h1.2M79 21h1.2M83 21h1.2M84 21h1.2M85 21h1.2M79 22h1.2M84 22h1.2M85 22h1.2M86 22h1.2M85 23h1.2M86 23h1.2M87 23h1.2M83 24h1.2M84 24h1.2M74 25h1.2M75 25h1.2M84 25h1.2M85 25h1.2M86 25h1.2M87 25h1.2M70 26h1.2M71 26h1.2M72 26h1.2M75 26h1.2M76 26h1.2M83 26h1.2M84 26h1.2M85 26h1.2M71 27h1.2M84 27h1.2M86 27h1.2M69 29h1.2M83 29h1.2M83 30h1.2M66 32h1.2M66 33h1.2M80 33h1.2M81 34h1.2M63 35h1.2M64 35h1.2M80 35h1.2M81 35h1.2M79 36h1.2M80 36h1.2M60 37h1.2M61 37h1.2M62 37h1.2M63 37h1.2M77 37h1.2M78 37h1.2M61 38h1.2M62 38h1.2M63 38h1.2M54 39h1.2M62 39h1.2M75 39h1.2M63 40h1.2M73 40h1.2M62 41h1.2M73 41h1.2M62 42h1.2M64 42h1.2M68 42h1.2M69 42h1.2M70 42h1.2M72 42h1.2M61 43h1.2M62 43h1.2M65 43h1.2M66 43h1.2M67 43h1.2M68 43h1.2M60 44h1.2M61 44h1.2M62 44h1.2M65 44h1.2M66 44h1.2"/><path stroke="#5ac85c" d="M80 21h1.2M82 21h1.2M80 22h1.2M82 22h1.2M83 22h1.2M78 23h1.2M79 23h1.2M82 23h1.2M83 23h1.2M76 24h1.2M80 24h1.2M81 24h1.2M82 24h1.2M86 24h1.2M76 25h1.2M81 25h1.2M82 25h1.2M73 26h1.2M74 26h1.2M77 26h1.2M82 26h1.2M73 27h1.2M74 27h1.2M83 27h1.2M83 28h1.2M70 29h1.2M71 29h1.2M69 30h1.2M70 30h1.2M82 30h1.2M68 31h1.2M69 31h1.2M81 31h1.2M67 32h1.2M69 32h1.2M80 32h1.2M79 33h1.2M66 34h1.2M79 34h1.2M65 35h1.2M66 35h1.2M78 35h1.2M64 36h1.2M65 36h1.2M77 36h1.2M78 36h1.2M64 37h1.2M76 37h1.2M64 38h1.2M68 38h1.2M69 38h1.2M70 38h1.2M64 39h1.2M68 39h1.2M70 39h1.2M72 39h1.2M73 39h1.2M74 39h1.2M64 40h1.2M68 40h1.2M69 40h1.2M70 40h1.2M72 40h1.2M63 41h1.2M64 41h1.2M65 41h1.2M66 41h1.2M67 41h1.2M68 41h1.2M69 41h1.2M70 41h1.2M71 41h1.2M72 41h1.2M66 42h1.2"/><path stroke="#b5d935" d="M81 22h1.2M77 24h1.2M79 24h1.2M77 25h1.2M80 25h1.2M82 27h1.2M72 28h1.2M73 28h1.2M74 28h1.2M75 28h1.2M76 28h1.2M72 29h1.2M82 29h1.2M71 30h1.2M70 31h1.2M71 31h1.2M68 32h1.2M67 33h1.2M68 33h1.2M69 33h1.2M70 33h1.2M67 34h1.2M69 34h1.2M78 34h1.2M67 35h1.2M68 35h1.2M77 35h1.2M66 36h1.2M67 36h1.2M68 36h1.2M69 36h1.2M72 36h1.2M73 36h1.2M76 36h1.2M65 37h1.2M66 37h1.2M68 37h1.2M69 37h1.2M70 37h1.2M71 37h1.2M72 37h1.2M73 37h1.2M75 37h1.2M65 38h1.2M66 38h1.2M67 38h1.2M71 38h1.2M72 38h1.2M73 38h1.2M74 38h1.2M75 38h1.2M65 39h1.2M67 39h1.2M71 39h1.2M66 40h1.2M67 40h1.2M71 40h1.2"/><path stroke="#f2d21e" d="M78 24h1.2M78 25h1.2M79 25h1.2M78 26h1.2M79 26h1.2M78 27h1.2M81 27h1.2M77 28h1.2M82 28h1.2M73 29h1.2M74 29h1.2M75 29h1.2M76 29h1.2M81 29h1.2M72 30h1.2M81 30h1.2M72 31h1.2M80 31h1.2M71 32h1.2M79 32h1.2M71 33h1.2M76 33h1.2M77 33h1.2M78 33h1.2M70 34h1.2M76 34h1.2M77 34h1.2M69 35h1.2M72 35h1.2M73 35h1.2M76 35h1.2M70 36h1.2M71 36h1.2M74 36h1.2M75 36h1.2M74 37h1.2M66 39h1.2"/><path stroke="#f0862a" d="M79 27h1.2M80 27h1.2M78 28h1.2M81 28h1.2M77 29h1.2M73 30h1.2M74 30h1.2M73 31h1.2M74 31h1.2M72 32h1.2M74 32h1.2M75 32h1.2M76 32h1.2M77 32h1.2M78 32h1.2M72 33h1.2M74 33h1.2M75 33h1.2M71 34h1.2M74 34h1.2M75 34h1.2M70 35h1.2M71 35h1.2M74 35h1.2M75 35h1.2"/><path stroke="#e0401a" d="M79 28h1.2M80 28h1.2M78 29h1.2M79 29h1.2M80 29h1.2M75 30h1.2M76 30h1.2M77 30h1.2M78 30h1.2M79 30h1.2M80 30h1.2M75 31h1.2M76 31h1.2M77 31h1.2M78 31h1.2M79 31h1.2M73 32h1.2M73 33h1.2M72 34h1.2M73 34h1.2"/></g>
<g transform="translate(641.7 314.4)" stroke-width="1.2"><path stroke="#6b82cf" d="M98 12h1.2M84 13h1.2M79 16h1.2M85 16h1.2M102 16h1.2M39 18h1.2M74 18h1.2M97 18h1.2M105 18h1.2M108 22h1.2M62 23h1.2M110 23h1.2M43 24h1.2M54 24h1.2M17 27h1.2M55 27h1.2M22 28h1.2M19 29h1.2M23 30h1.2M26 31h1.2M96 31h1.2M100 31h1.2M11 33h1.2M26 33h1.2M42 33h1.2M31 34h1.2M2 35h1.2M36 35h1.2M95 35h1.2M39 36h1.2M26 37h1.2M29 37h1.2M44 37h1.2M90 37h1.2M28 38h1.2M4 39h1.2M33 39h1.2M14 40h1.2M87 40h1.2M7 41h1.2M16 41h1.2M37 41h1.2M9 42h1.2M26 42h1.2M31 42h1.2M40 42h1.2M82 42h1.2M84 42h1.2M3 43h1.2M16 43h1.2M47 43h1.2M23 45h1.2M13 46h1.2M55 46h1.2M15 47h1.2M44 47h1.2M8 48h1.2M68 48h1.2M5 49h1.2M36 49h1.2M32 50h1.2M43 50h1.2M68 50h1.2M47 51h1.2M52 51h1.2M64 51h1.2M30 54h1.2M36 55h1.2M3 56h1.2M57 56h1.2M32 59h1.2M69 63h1.2"/><path stroke="#1f3bb0" d="M101 12h1.2M99 13h1.2M101 13h1.2M102 14h1.2M91 15h1.2M82 16h1.2M88 16h1.2M89 16h1.2M91 16h1.2M92 16h1.2M81 17h1.2M78 18h1.2M81 18h1.2M87 18h1.2M88 18h1.2M99 18h1.2M100 18h1.2M79 19h1.2M90 19h1.2M92 19h1.2M93 19h1.2M94 19h1.2M95 19h1.2M78 20h1.2M79 20h1.2M96 20h1.2M73 21h1.2M74 21h1.2M76 21h1.2M77 21h1.2M80 21h1.2M94 21h1.2M100 21h1.2M70 22h1.2M71 22h1.2M94 22h1.2M99 22h1.2M100 22h1.2M105 22h1.2M68 23h1.2M69 23h1.2M72 23h1.2M94 23h1.2M103 23h1.2M104 23h1.2M70 24h1.2M104 24h1.2M67 25h1.2M92 25h1.2M95 25h1.2M97 25h1.2M59 26h1.2M60 26h1.2M63 26h1.2M97 26h1.2M98 26h1.2M63 27h1.2M96 27h1.2M99 27h1.2M100 27h1.2M31 28h1.2M56 28h1.2M31 29h1.2M57 29h1.2M59 29h1.2M49 30h1.2M50 30h1.2M51 30h1.2M49 31h1.2M55 31h1.2M91 31h1.2M48 32h1.2M56 32h1.2M92 32h1.2M45 33h1.2M46 33h1.2M52 33h1.2M91 33h1.2M46 34h1.2M47 34h1.2M49 34h1.2M50 34h1.2M52 34h1.2M48 36h1.2M86 36h1.2M87 37h1.2M46 38h1.2M48 38h1.2M84 38h1.2M85 38h1.2M46 39h1.2M53 39h1.2M78 39h1.2M85 39h1.2M77 40h1.2M84 40h1.2M48 41h1.2M49 41h1.2M73 41h1.2M75 41h1.2M76 41h1.2M77 41h1.2M49 42h1.2M50 42h1.2M51 42h1.2M52 42h1.2M54 42h1.2M67 42h1.2M70 42h1.2M44 43h1.2M50 43h1.2M52 43h1.2M72 43h1.2M78 43h1.2M43 44h1.2M44 44h1.2M54 44h1.2M73 44h1.2M77 44h1.2M78 44h1.2M14 45h1.2M46 45h1.2M49 45h1.2M51 45h1.2M52 45h1.2M57 45h1.2M60 45h1.2M62 45h1.2M66 45h1.2M75 45h1.2M76 45h1.2M45 46h1.2M74 46h1.2M47 47h1.2M49 47h1.2M52 47h1.2M57 47h1.2M58 47h1.2M61 47h1.2M62 47h1.2M54 48h1.2M59 48h1.2M62 48h1.2M53 49h1.2M62 49h1.2M66 49h1.2M66 50h1.2"/><path stroke="#2a60d8" d="M80 19h1.2M81 19h1.2M82 19h1.2M83 19h1.2M84 19h1.2M85 19h1.2M87 19h1.2M88 19h1.2M93 20h1.2M89 21h1.2M90 21h1.2M76 22h1.2M77 22h1.2M89 22h1.2M90 22h1.2M91 22h1.2M93 22h1.2M73 23h1.2M78 23h1.2M89 23h1.2M92 24h1.2M93 24h1.2M69 25h1.2M66 26h1.2M67 26h1.2M90 26h1.2M64 27h1.2M65 27h1.2M66 27h1.2M68 27h1.2M91 27h1.2M92 27h1.2M93 27h1.2M94 27h1.2M67 29h1.2M93 29h1.2M60 30h1.2M89 30h1.2M93 30h1.2M60 31h1.2M89 31h1.2M55 32h1.2M60 32h1.2M55 33h1.2M56 33h1.2M57 33h1.2M58 33h1.2M59 33h1.2M90 33h1.2M54 34h1.2M56 34h1.2M57 34h1.2M90 34h1.2M50 35h1.2M51 35h1.2M52 35h1.2M53 35h1.2M58 35h1.2M84 35h1.2M89 35h1.2M50 36h1.2M53 36h1.2M57 36h1.2M83 36h1.2M88 36h1.2M52 37h1.2M55 37h1.2M56 37h1.2M57 38h1.2M83 38h1.2M49 39h1.2M51 39h1.2M52 39h1.2M55 39h1.2M76 39h1.2M54 40h1.2M55 40h1.2M56 40h1.2M73 40h1.2M67 41h1.2M68 41h1.2M69 41h1.2M55 42h1.2M71 42h1.2M55 43h1.2M56 43h1.2M59 43h1.2M60 43h1.2M57 44h1.2M58 44h1.2M59 44h1.2M60 44h1.2M66 44h1.2M59 45h1.2M64 45h1.2M65 45h1.2M48 46h1.2M58 46h1.2M64 46h1.2M65 46h1.2"/><path stroke="#35b5d5" d="M83 20h1.2M83 21h1.2M86 21h1.2M92 21h1.2M74 22h1.2M75 22h1.2M80 22h1.2M92 22h1.2M74 23h1.2M75 23h1.2M76 23h1.2M87 23h1.2M74 24h1.2M78 24h1.2M79 24h1.2M84 24h1.2M85 24h1.2M70 25h1.2M71 25h1.2M72 25h1.2M69 26h1.2M88 26h1.2M89 26h1.2M94 26h1.2M87 27h1.2M89 27h1.2M90 27h1.2M64 28h1.2M88 28h1.2M89 28h1.2M90 28h1.2M92 28h1.2M61 29h1.2M62 29h1.2M68 29h1.2M69 29h1.2M88 29h1.2M89 29h1.2M90 29h1.2M91 29h1.2M92 29h1.2M61 30h1.2M66 30h1.2M67 30h1.2M88 30h1.2M91 30h1.2M92 30h1.2M88 31h1.2M61 32h1.2M60 33h1.2M61 33h1.2M85 33h1.2M89 33h1.2M59 34h1.2M60 34h1.2M84 34h1.2M85 34h1.2M86 34h1.2M89 34h1.2M55 35h1.2M60 35h1.2M85 35h1.2M87 35h1.2M88 35h1.2M51 36h1.2M52 36h1.2M54 36h1.2M55 36h1.2M56 36h1.2M59 36h1.2M62 36h1.2M70 36h1.2M71 36h1.2M82 36h1.2M50 37h1.2M51 37h1.2M59 37h1.2M64 37h1.2M74 37h1.2M76 37h1.2M79 37h1.2M81 37h1.2M82 37h1.2M49 38h1.2M50 38h1.2M51 38h1.2M58 38h1.2M60 38h1.2M73 38h1.2M75 38h1.2M78 38h1.2M50 39h1.2M58 39h1.2M59 39h1.2M61 39h1.2M74 39h1.2M60 40h1.2M62 40h1.2M66 40h1.2M68 40h1.2M70 40h1.2M71 40h1.2M74 40h1.2M57 41h1.2M60 41h1.2M62 41h1.2M71 41h1.2M56 42h1.2M57 42h1.2M58 42h1.2M59 42h1.2M60 42h1.2M61 42h1.2M62 42h1.2M64 42h1.2M65 42h1.2M61 43h1.2M62 43h1.2M64 43h1.2M65 43h1.2M62 44h1.2M63 44h1.2M64 44h1.2M65 44h1.2"/><path stroke="#5ac85c" d="M84 21h1.2M85 21h1.2M82 22h1.2M83 22h1.2M84 22h1.2M85 22h1.2M80 23h1.2M83 23h1.2M84 23h1.2M85 23h1.2M75 24h1.2M80 24h1.2M82 24h1.2M83 24h1.2M86 24h1.2M88 24h1.2M74 25h1.2M75 25h1.2M77 25h1.2M78 25h1.2M79 25h1.2M80 25h1.2M82 25h1.2M83 25h1.2M85 25h1.2M86 25h1.2M88 25h1.2M70 26h1.2M81 26h1.2M83 26h1.2M84 26h1.2M85 26h1.2M86 26h1.2M69 27h1.2M82 27h1.2M83 27h1.2M86 27h1.2M69 28h1.2M82 28h1.2M83 28h1.2M84 28h1.2M85 28h1.2M64 29h1.2M70 29h1.2M83 29h1.2M85 29h1.2M86 29h1.2M87 29h1.2M62 30h1.2M64 30h1.2M65 30h1.2M68 30h1.2M69 30h1.2M84 30h1.2M87 30h1.2M62 31h1.2M64 31h1.2M65 31h1.2M67 31h1.2M70 31h1.2M84 31h1.2M85 31h1.2M87 31h1.2M62 32h1.2M63 32h1.2M64 32h1.2M65 32h1.2M66 32h1.2M67 32h1.2M85 32h1.2M86 32h1.2M87 32h1.2M88 32h1.2M62 33h1.2M63 33h1.2M65 33h1.2M66 33h1.2M80 33h1.2M84 33h1.2M87 33h1.2M88 33h1.2M61 34h1.2M62 34h1.2M63 34h1.2M65 34h1.2M81 34h1.2M87 34h1.2M88 34h1.2M61 35h1.2M62 35h1.2M63 35h1.2M64 35h1.2M76 35h1.2M80 35h1.2M81 35h1.2M82 35h1.2M60 36h1.2M61 36h1.2M73 36h1.2M74 36h1.2M75 36h1.2M77 36h1.2M78 36h1.2M79 36h1.2M80 36h1.2M81 36h1.2M60 37h1.2M61 37h1.2M62 37h1.2M65 37h1.2M71 37h1.2M72 37h1.2M75 37h1.2M77 37h1.2M78 37h1.2M61 38h1.2M62 38h1.2M63 38h1.2M64 38h1.2M65 38h1.2M66 38h1.2M70 38h1.2M71 38h1.2M72 38h1.2M63 39h1.2M65 39h1.2M66 39h1.2M68 39h1.2M69 39h1.2M70 39h1.2M71 39h1.2M58 40h1.2M63 40h1.2M58 41h1.2M59 41h1.2M63 41h1.2M64 41h1.2M65 41h1.2"/><path stroke="#b5d935" d="M81 23h1.2M82 23h1.2M81 24h1.2M87 24h1.2M87 25h1.2M71 26h1.2M72 26h1.2M73 26h1.2M74 26h1.2M75 26h1.2M80 26h1.2M70 27h1.2M74 27h1.2M81 27h1.2M84 27h1.2M85 27h1.2M70 28h1.2M81 28h1.2M71 29h1.2M81 29h1.2M82 29h1.2M71 30h1.2M72 30h1.2M81 30h1.2M83 30h1.2M85 30h1.2M86 30h1.2M68 31h1.2M69 31h1.2M71 31h1.2M80 31h1.2M83 31h1.2M86 31h1.2M68 32h1.2M69 32h1.2M70 32h1.2M71 32h1.2M79 32h1.2M83 32h1.2M68 33h1.2M70 33h1.2M77 33h1.2M78 33h1.2M81 33h1.2M83 33h1.2M66 34h1.2M67 34h1.2M69 34h1.2M71 34h1.2M76 34h1.2M77 34h1.2M78 34h1.2M79 34h1.2M82 34h1.2M65 35h1.2M69 35h1.2M72 35h1.2M73 35h1.2M75 35h1.2M78 35h1.2M79 35h1.2M65 36h1.2M69 36h1.2M69 37h1.2M67 38h1.2M68 38h1.2M69 38h1.2M64 40h1.2"/><path stroke="#f2d21e" d="M76 26h1.2M77 26h1.2M78 26h1.2M79 26h1.2M71 27h1.2M73 27h1.2M75 27h1.2M79 27h1.2M80 27h1.2M71 28h1.2M72 28h1.2M73 28h1.2M74 28h1.2M80 28h1.2M72 29h1.2M73 29h1.2M74 29h1.2M80 29h1.2M73 30h1.2M80 30h1.2M82 30h1.2M72 31h1.2M79 31h1.2M81 31h1.2M72 32h1.2M77 32h1.2M78 32h1.2M81 32h1.2M69 33h1.2M71 33h1.2M72 33h1.2M73 33h1.2M74 33h1.2M75 33h1.2M76 33h1.2M82 33h1.2M68 34h1.2M72 34h1.2M73 34h1.2M74 34h1.2M66 35h1.2M67 35h1.2M68 35h1.2M74 35h1.2M66 36h1.2M68 36h1.2M67 37h1.2M68 37h1.2"/><path stroke="#f0862a" d="M76 27h1.2M77 27h1.2M78 27h1.2M75 28h1.2M79 28h1.2M79 30h1.2M73 31h1.2M78 31h1.2M82 31h1.2M73 32h1.2M76 32h1.2M82 32h1.2M67 36h1.2"/><path stroke="#e0401a" d="M76 28h1.2M77 28h1.2M78 28h1.2M75 29h1.2M76 29h1.2M77 29h1.2M78 29h1.2M79 29h1.2M74 30h1.2M76 30h1.2M77 30h1.2M78 30h1.2M74 31h1.2M75 31h1.2M76 31h1.2M77 31h1.2M74 32h1.2M75 32h1.2"/></g>
<g transform="translate(780.0 314.4)" stroke-width="1.2"><path stroke="#6b82cf" d="M76 9h1.2M86 9h1.2M81 10h1.2M84 10h1.2M90 11h1.2M84 13h1.2M75 14h1.2M12 17h1.2M92 17h1.2M97 18h1.2M92 19h1.2M94 21h1.2M65 24h1.2M95 24h1.2M44 25h1.2M63 28h1.2M89 30h1.2M16 32h1.2M19 33h1.2M34 34h1.2M52 34h1.2M21 35h1.2M26 35h1.2M32 37h1.2M54 37h1.2M31 38h1.2M87 38h1.2M33 40h1.2M48 41h1.2M56 42h1.2M87 42h1.2M1 43h1.2M10 43h1.2M57 43h1.2M50 44h1.2M11 45h1.2M16 45h1.2M37 47h1.2M56 47h1.2M15 48h1.2M18 48h1.2M62 48h1.2M76 49h1.2M20 50h1.2M56 50h1.2M24 51h1.2M70 51h1.2M21 52h1.2M1 53h1.2M4 53h1.2M25 58h1.2M7 59h1.2"/><path stroke="#1f3bb0" d="M80 13h1.2M79 14h1.2M86 14h1.2M79 15h1.2M82 15h1.2M84 15h1.2M85 15h1.2M88 15h1.2M78 16h1.2M83 16h1.2M89 16h1.2M88 17h1.2M95 17h1.2M96 17h1.2M88 18h1.2M89 18h1.2M94 18h1.2M74 19h1.2M74 20h1.2M70 21h1.2M71 21h1.2M90 21h1.2M90 22h1.2M91 22h1.2M70 23h1.2M89 23h1.2M67 24h1.2M70 24h1.2M90 24h1.2M12 25h1.2M68 25h1.2M70 25h1.2M67 26h1.2M90 27h1.2M66 28h1.2M88 28h1.2M90 28h1.2M87 29h1.2M66 30h1.2M87 30h1.2M55 31h1.2M86 31h1.2M55 32h1.2M59 32h1.2M61 32h1.2M63 32h1.2M64 32h1.2M54 33h1.2M58 33h1.2M60 33h1.2M65 33h1.2M85 33h1.2M56 34h1.2M58 34h1.2M85 34h1.2M57 35h1.2M59 35h1.2M60 35h1.2M61 36h1.2M81 36h1.2M12 37h1.2M13 37h1.2M80 37h1.2M83 37h1.2M56 38h1.2M83 38h1.2M84 38h1.2M52 39h1.2M53 39h1.2M56 39h1.2M64 39h1.2M83 39h1.2M64 40h1.2M84 40h1.2M59 41h1.2M77 41h1.2M60 42h1.2M61 42h1.2M77 42h1.2M75 43h1.2M76 43h1.2M77 43h1.2M78 43h1.2M62 44h1.2M72 44h1.2M61 45h1.2M63 45h1.2M64 45h1.2M65 45h1.2M68 45h1.2M71 45h1.2M61 46h1.2M71 46h1.2M73 46h1.2M74 46h1.2M59 47h1.2M64 47h1.2M66 47h1.2M71 47h1.2M74 47h1.2M57 48h1.2M60 48h1.2M66 48h1.2M69 48h1.2M69 49h1.2M72 49h1.2M58 50h1.2M59 50h1.2M72 50h1.2"/><path stroke="#2a60d8" d="M86 15h1.2M87 15h1.2M84 16h1.2M87 16h1.2M77 17h1.2M78 17h1.2M81 17h1.2M83 17h1.2M85 17h1.2M86 17h1.2M79 18h1.2M80 18h1.2M84 18h1.2M75 19h1.2M76 19h1.2M85 19h1.2M86 19h1.2M88 19h1.2M88 20h1.2M74 21h1.2M75 21h1.2M76 21h1.2M89 21h1.2M86 22h1.2M87 22h1.2M88 22h1.2M72 23h1.2M88 23h1.2M90 25h1.2M69 26h1.2M70 26h1.2M71 26h1.2M67 27h1.2M68 27h1.2M69 27h1.2M87 27h1.2M88 27h1.2M85 28h1.2M86 28h1.2M68 29h1.2M67 30h1.2M69 30h1.2M67 31h1.2M68 31h1.2M67 32h1.2M84 32h1.2M61 33h1.2M62 33h1.2M63 33h1.2M64 33h1.2M61 34h1.2M62 34h1.2M65 34h1.2M66 34h1.2M68 34h1.2M82 34h1.2M67 35h1.2M81 35h1.2M63 36h1.2M69 36h1.2M59 37h1.2M60 37h1.2M62 37h1.2M79 37h1.2M59 38h1.2M63 38h1.2M60 40h1.2M62 40h1.2M65 40h1.2M66 40h1.2M62 41h1.2M64 41h1.2M67 41h1.2M68 41h1.2M75 41h1.2M76 41h1.2M63 42h1.2M64 42h1.2M65 42h1.2M66 42h1.2M73 42h1.2M75 42h1.2M63 43h1.2M65 43h1.2M72 43h1.2M65 44h1.2M66 44h1.2M67 44h1.2M69 44h1.2M70 44h1.2M70 45h1.2"/><path stroke="#35b5d5" d="M76 18h1.2M77 18h1.2M81 18h1.2M82 18h1.2M77 19h1.2M79 19h1.2M80 19h1.2M78 20h1.2M79 20h1.2M80 20h1.2M84 20h1.2M85 20h1.2M86 20h1.2M77 21h1.2M85 21h1.2M87 21h1.2M88 21h1.2M74 22h1.2M85 22h1.2M73 23h1.2M85 23h1.2M86 24h1.2M87 24h1.2M73 25h1.2M88 25h1.2M89 25h1.2M72 26h1.2M88 26h1.2M89 26h1.2M72 27h1.2M86 27h1.2M68 28h1.2M69 28h1.2M70 28h1.2M70 29h1.2M85 30h1.2M84 31h1.2M68 32h1.2M68 33h1.2M69 33h1.2M82 33h1.2M69 34h1.2M81 34h1.2M65 35h1.2M66 35h1.2M64 36h1.2M65 36h1.2M68 36h1.2M64 37h1.2M65 37h1.2M67 37h1.2M68 37h1.2M70 37h1.2M78 37h1.2M66 38h1.2M67 38h1.2M68 38h1.2M75 38h1.2M76 38h1.2M61 39h1.2M66 39h1.2M67 39h1.2M69 39h1.2M74 39h1.2M75 39h1.2M76 39h1.2M61 40h1.2M67 40h1.2M68 40h1.2M70 40h1.2M71 40h1.2M74 40h1.2M75 40h1.2M71 41h1.2M73 41h1.2M67 42h1.2M68 42h1.2M69 42h1.2M70 42h1.2M72 42h1.2M67 43h1.2M68 43h1.2M70 43h1.2"/><path stroke="#5ac85c" d="M82 19h1.2M83 19h1.2M81 20h1.2M78 21h1.2M79 21h1.2M81 21h1.2M83 21h1.2M84 21h1.2M77 22h1.2M74 23h1.2M84 23h1.2M84 24h1.2M74 25h1.2M85 25h1.2M86 25h1.2M87 25h1.2M73 26h1.2M85 26h1.2M86 26h1.2M73 27h1.2M84 27h1.2M71 28h1.2M72 28h1.2M73 28h1.2M84 28h1.2M71 29h1.2M72 29h1.2M84 29h1.2M70 30h1.2M82 30h1.2M84 30h1.2M70 31h1.2M82 31h1.2M70 32h1.2M82 32h1.2M70 33h1.2M81 33h1.2M70 34h1.2M78 34h1.2M79 34h1.2M80 34h1.2M78 35h1.2M78 36h1.2M75 37h1.2M76 37h1.2M77 37h1.2M70 38h1.2M74 38h1.2M70 39h1.2M71 39h1.2M72 39h1.2M73 39h1.2M73 40h1.2M72 41h1.2"/><path stroke="#b5d935" d="M82 20h1.2M82 21h1.2M78 22h1.2M79 22h1.2M80 22h1.2M81 22h1.2M82 22h1.2M83 22h1.2M75 23h1.2M77 23h1.2M80 23h1.2M81 23h1.2M82 23h1.2M83 23h1.2M74 24h1.2M75 24h1.2M75 25h1.2M84 25h1.2M74 26h1.2M84 26h1.2M83 27h1.2M74 28h1.2M83 28h1.2M74 29h1.2M81 29h1.2M82 29h1.2M83 29h1.2M71 30h1.2M72 30h1.2M73 30h1.2M74 30h1.2M80 30h1.2M71 31h1.2M80 31h1.2M81 31h1.2M71 32h1.2M81 32h1.2M77 33h1.2M78 33h1.2M79 33h1.2M80 33h1.2M71 34h1.2M77 34h1.2M71 35h1.2M77 35h1.2M71 36h1.2M75 36h1.2M76 36h1.2M77 36h1.2M71 37h1.2M74 37h1.2M71 38h1.2M72 38h1.2"/><path stroke="#f2d21e" d="M79 23h1.2M76 24h1.2M77 24h1.2M80 24h1.2M81 24h1.2M82 24h1.2M83 24h1.2M76 25h1.2M77 25h1.2M80 25h1.2M81 25h1.2M83 25h1.2M75 26h1.2M80 26h1.2M81 26h1.2M83 26h1.2M75 27h1.2M80 27h1.2M81 27h1.2M82 27h1.2M75 28h1.2M80 28h1.2M81 28h1.2M82 28h1.2M75 29h1.2M79 29h1.2M80 29h1.2M78 30h1.2M79 30h1.2M72 31h1.2M73 31h1.2M74 31h1.2M77 31h1.2M78 31h1.2M79 31h1.2M76 32h1.2M77 32h1.2M78 32h1.2M79 32h1.2M80 32h1.2M71 33h1.2M76 33h1.2M72 34h1.2M76 34h1.2M72 35h1.2M75 35h1.2M76 35h1.2M74 36h1.2M72 37h1.2M73 37h1.2"/><path stroke="#f0862a" d="M78 24h1.2M79 24h1.2M78 25h1.2M82 25h1.2M76 26h1.2M77 26h1.2M82 26h1.2M75 30h1.2M76 30h1.2M77 30h1.2M75 31h1.2M76 31h1.2M72 32h1.2M73 32h1.2M74 32h1.2M75 32h1.2M72 33h1.2M73 33h1.2M74 33h1.2M75 33h1.2M74 34h1.2M75 34h1.2M73 35h1.2M74 35h1.2M72 36h1.2M73 36h1.2"/><path stroke="#e0401a" d="M79 25h1.2M78 26h1.2M79 26h1.2M76 27h1.2M77 27h1.2M78 27h1.2M79 27h1.2M76 28h1.2M77 28h1.2M78 28h1.2M79 28h1.2M76 29h1.2M77 29h1.2"/></g>
<g transform="translate(75.2 442.8)" stroke-width="1.2"><path stroke="#6b82cf" d="M90 7h1.2M82 13h1.2M97 13h1.2M98 14h1.2M82 18h1.2M83 18h1.2M76 19h1.2M95 19h1.2M97 19h1.2M54 20h1.2M94 21h1.2M86 22h1.2M92 22h1.2M97 22h1.2M91 23h1.2M99 23h1.2M88 24h1.2M100 24h1.2M88 25h1.2M81 26h1.2M96 26h1.2M64 27h1.2M85 27h1.2M86 27h1.2M88 29h1.2M87 30h1.2M94 30h1.2M84 31h1.2M92 31h1.2M97 31h1.2M76 34h1.2M96 34h1.2M79 35h1.2M60 37h1.2M98 37h1.2M46 38h1.2M56 38h1.2M96 39h1.2M80 40h1.2M79 41h1.2M98 41h1.2M99 41h1.2M95 43h1.2M69 44h1.2M81 44h1.2M75 45h1.2M75 46h1.2M96 46h1.2M100 46h1.2M95 47h1.2M23 50h1.2M60 50h1.2M72 51h1.2M77 51h1.2M98 51h1.2M94 52h1.2M96 55h1.2M92 56h1.2M95 56h1.2M94 57h1.2M44 58h1.2M44 60h1.2M71 60h1.2M74 60h1.2M89 61h1.2M97 61h1.2M72 62h1.2M76 62h1.2M93 63h1.2M71 64h1.2M76 64h1.2M92 66h1.2M68 67h1.2M88 69h1.2M66 71h1.2M42 74h1.2M88 74h1.2M55 75h1.2M40 76h1.2M39 77h1.2M15 78h1.2M31 78h1.2M15 79h1.2M19 79h1.2M21 79h1.2M28 79h1.2M29 79h1.2M39 79h1.2M18 80h1.2M41 80h1.2M48 80h1.2M22 81h1.2M34 81h1.2M37 81h1.2M46 81h1.2M32 82h1.2M43 82h1.2M56 83h1.2"/><path stroke="#1f3bb0" d="M92 26h1.2M92 27h1.2M94 27h1.2M90 28h1.2M92 28h1.2M95 28h1.2M90 29h1.2M88 32h1.2M90 32h1.2M92 32h1.2M83 33h1.2M86 33h1.2M89 33h1.2M81 34h1.2M83 34h1.2M85 34h1.2M86 34h1.2M89 34h1.2M90 34h1.2M92 34h1.2M93 34h1.2M81 35h1.2M82 35h1.2M84 35h1.2M93 35h1.2M84 36h1.2M85 36h1.2M87 36h1.2M85 37h1.2M88 37h1.2M89 37h1.2M90 37h1.2M94 37h1.2M96 37h1.2M87 38h1.2M89 38h1.2M90 38h1.2M94 38h1.2M85 39h1.2M86 39h1.2M88 39h1.2M90 39h1.2M92 39h1.2M94 39h1.2M84 40h1.2M90 40h1.2M91 40h1.2M83 41h1.2M89 41h1.2M90 41h1.2M86 42h1.2M90 42h1.2M92 42h1.2M88 43h1.2M91 43h1.2M93 43h1.2M83 44h1.2M85 44h1.2M87 44h1.2M88 44h1.2M89 44h1.2M90 44h1.2M93 44h1.2M83 45h1.2M84 45h1.2M93 45h1.2M92 46h1.2M93 46h1.2M83 47h1.2M84 47h1.2M85 47h1.2M83 48h1.2M83 49h1.2M87 49h1.2M90 49h1.2M92 49h1.2M82 50h1.2M88 50h1.2M81 51h1.2M83 51h1.2M85 51h1.2M89 51h1.2M91 51h1.2M93 51h1.2M81 52h1.2M84 52h1.2M85 52h1.2M86 52h1.2M88 52h1.2M90 52h1.2M91 52h1.2M92 52h1.2M83 53h1.2M86 53h1.2M87 53h1.2M80 54h1.2M88 54h1.2M80 55h1.2M82 55h1.2M83 55h1.2M87 55h1.2M88 55h1.2M79 56h1.2M81 56h1.2M83 56h1.2M79 57h1.2M81 57h1.2M88 57h1.2M89 57h1.2M92 57h1.2M74 58h1.2M90 58h1.2M91 58h1.2M88 59h1.2M91 59h1.2M76 60h1.2M77 60h1.2M78 60h1.2M86 60h1.2M85 61h1.2M87 61h1.2M91 61h1.2M78 62h1.2M87 62h1.2M92 62h1.2M72 63h1.2M78 64h1.2M88 64h1.2M89 64h1.2M74 65h1.2M79 65h1.2M73 66h1.2M74 66h1.2M75 66h1.2M76 66h1.2M75 67h1.2M83 67h1.2M87 67h1.2M71 68h1.2M75 68h1.2M79 68h1.2M83 68h1.2M87 68h1.2M71 69h1.2M72 69h1.2M73 69h1.2M75 69h1.2M77 69h1.2M79 69h1.2M86 69h1.2M81 70h1.2M86 70h1.2M71 71h1.2M72 71h1.2M81 71h1.2M85 71h1.2M69 72h1.2M82 72h1.2M85 72h1.2M86 73h1.2M58 74h1.2M60 74h1.2M65 74h1.2M85 74h1.2M57 75h1.2M60 75h1.2M62 75h1.2M85 75h1.2M45 76h1.2M51 76h1.2M52 76h1.2M54 76h1.2M57 76h1.2M58 76h1.2M60 76h1.2M33 77h1.2M35 77h1.2M44 77h1.2M46 77h1.2M52 77h1.2M55 77h1.2M84 77h1.2M24 78h1.2M33 78h1.2M35 78h1.2M43 78h1.2M45 78h1.2M50 78h1.2M51 78h1.2M52 78h1.2M54 78h1.2M56 78h1.2M24 79h1.2M36 79h1.2M42 79h1.2M44 79h1.2M54 79h1.2M55 79h1.2M23 80h1.2M25 80h1.2M33 80h1.2M37 80h1.2M43 80h1.2M50 80h1.2M51 80h1.2M53 80h1.2M57 80h1.2M32 81h1.2M51 81h1.2M61 81h1.2M67 81h1.2M70 81h1.2M72 81h1.2M57 82h1.2M58 82h1.2M64 82h1.2M71 82h1.2"/><path stroke="#2a60d8" d="M89 39h1.2M86 40h1.2M87 40h1.2M88 40h1.2M86 41h1.2M87 41h1.2M88 45h1.2M90 45h1.2M84 46h1.2M85 46h1.2M87 46h1.2M88 46h1.2M90 46h1.2M87 47h1.2M89 47h1.2M91 47h1.2M88 48h1.2M90 48h1.2M91 48h1.2M82 56h1.2M83 57h1.2M85 57h1.2M82 58h1.2M83 58h1.2M79 59h1.2M80 59h1.2M81 59h1.2M83 59h1.2M84 59h1.2M79 60h1.2M83 60h1.2M79 61h1.2M82 61h1.2M83 61h1.2M79 62h1.2M81 62h1.2M84 62h1.2M85 62h1.2M79 63h1.2M80 63h1.2M81 63h1.2M82 63h1.2M83 63h1.2M84 63h1.2M86 63h1.2M79 64h1.2M80 64h1.2M83 64h1.2M86 64h1.2M80 65h1.2M82 65h1.2M83 65h1.2M84 65h1.2M80 66h1.2M81 66h1.2M84 66h1.2M85 66h1.2M86 66h1.2M80 67h1.2M85 67h1.2M80 68h1.2M85 68h1.2M82 69h1.2M83 69h1.2M84 69h1.2M85 69h1.2M75 70h1.2M76 70h1.2M78 70h1.2M79 70h1.2M84 70h1.2M85 70h1.2M74 71h1.2M75 71h1.2M78 71h1.2M79 71h1.2M72 72h1.2M73 72h1.2M76 72h1.2M77 72h1.2M78 73h1.2M80 73h1.2M82 73h1.2M83 73h1.2M83 74h1.2M83 75h1.2M84 76h1.2M59 77h1.2M60 77h1.2M83 77h1.2M57 78h1.2M61 78h1.2M60 79h1.2M79 79h1.2M58 80h1.2M59 80h1.2M61 80h1.2M78 80h1.2M62 81h1.2M64 81h1.2M65 81h1.2M73 81h1.2"/><path stroke="#35b5d5" d="M90 47h1.2M84 58h1.2M85 58h1.2M82 59h1.2M80 60h1.2M81 60h1.2M82 60h1.2M80 61h1.2M81 61h1.2M84 64h1.2M85 64h1.2M85 65h1.2M81 67h1.2M81 68h1.2M75 72h1.2M72 73h1.2M74 73h1.2M76 73h1.2M77 73h1.2M67 74h1.2M78 74h1.2M79 74h1.2M80 74h1.2M81 74h1.2M82 74h1.2M65 75h1.2M81 75h1.2M82 75h1.2M64 76h1.2M81 76h1.2M82 76h1.2M62 77h1.2M63 77h1.2M81 77h1.2M82 77h1.2M58 78h1.2M59 78h1.2M62 78h1.2M78 78h1.2M80 78h1.2M81 78h1.2M58 79h1.2M62 79h1.2M77 79h1.2M78 79h1.2M62 80h1.2M63 80h1.2M64 80h1.2M65 80h1.2M66 80h1.2M67 80h1.2M68 80h1.2M69 80h1.2M70 80h1.2M72 80h1.2M73 80h1.2M74 80h1.2M75 80h1.2"/><path stroke="#5ac85c" d="M75 73h1.2M69 74h1.2M71 74h1.2M72 74h1.2M76 74h1.2M66 75h1.2M78 75h1.2M79 75h1.2M80 75h1.2M65 76h1.2M78 76h1.2M79 76h1.2M80 76h1.2M64 77h1.2M65 77h1.2M78 77h1.2M79 77h1.2M80 77h1.2M63 78h1.2M77 78h1.2M63 79h1.2M64 79h1.2M65 79h1.2M66 79h1.2M71 79h1.2M72 79h1.2M73 79h1.2M75 79h1.2M76 79h1.2"/><path stroke="#b5d935" d="M74 74h1.2M75 74h1.2M67 75h1.2M71 75h1.2M72 75h1.2M77 75h1.2M66 76h1.2M77 76h1.2M66 77h1.2M77 77h1.2M64 78h1.2M65 78h1.2M66 78h1.2M76 78h1.2M67 79h1.2M70 79h1.2"/><path stroke="#f2d21e" d="M68 75h1.2M69 75h1.2M70 75h1.2M73 75h1.2M76 75h1.2M67 76h1.2M71 76h1.2M72 76h1.2M76 76h1.2M71 77h1.2M76 77h1.2M67 78h1.2M70 78h1.2M71 78h1.2M72 78h1.2M74 78h1.2M68 79h1.2M69 79h1.2"/><path stroke="#f0862a" d="M74 75h1.2M75 75h1.2M70 76h1.2M67 77h1.2M70 77h1.2M72 77h1.2M73 78h1.2"/><path stroke="#e0401a" d="M68 76h1.2M69 76h1.2M73 76h1.2M74 76h1.2M75 76h1.2M68 77h1.2M69 77h1.2M73 77h1.2M74 77h1.2M75 77h1.2M68 78h1.2M69 78h1.2"/></g>
<g transform="translate(215.2 442.8)" stroke-width="1.2"><path stroke="#6b82cf" d="M91 10h1.2M25 13h1.2M97 18h1.2M90 20h1.2M98 21h1.2M84 22h1.2M88 22h1.2M82 24h1.2M86 24h1.2M95 26h1.2M83 29h1.2M26 30h1.2M39 32h1.2M31 33h1.2M95 34h1.2M98 34h1.2M35 36h1.2M79 39h1.2M74 40h1.2M94 40h1.2M58 41h1.2M79 42h1.2M38 43h1.2M98 47h1.2M77 54h1.2M74 60h1.2M72 62h1.2M14 63h1.2M94 63h1.2M94 68h1.2M90 70h1.2M94 71h1.2M45 77h1.2M20 78h1.2M53 78h1.2M16 79h1.2M52 79h1.2M89 79h1.2M62 80h1.2M25 81h1.2M35 81h1.2M32 82h1.2M41 82h1.2M51 82h1.2M76 82h1.2M72 86h1.2"/><path stroke="#1f3bb0" d="M91 24h1.2M92 24h1.2M88 25h1.2M92 25h1.2M89 26h1.2M92 26h1.2M93 27h1.2M91 29h1.2M96 29h1.2M97 29h1.2M90 30h1.2M92 30h1.2M93 30h1.2M94 30h1.2M95 30h1.2M81 31h1.2M87 31h1.2M82 32h1.2M83 32h1.2M92 32h1.2M97 33h1.2M83 34h1.2M85 34h1.2M93 34h1.2M84 35h1.2M81 36h1.2M82 36h1.2M94 36h1.2M92 37h1.2M94 37h1.2M83 38h1.2M82 39h1.2M83 39h1.2M91 40h1.2M81 44h1.2M82 44h1.2M93 44h1.2M84 45h1.2M90 45h1.2M82 46h1.2M85 46h1.2M92 46h1.2M93 46h1.2M85 47h1.2M82 49h1.2M83 49h1.2M85 49h1.2M95 49h1.2M84 50h1.2M94 50h1.2M79 51h1.2M80 51h1.2M82 51h1.2M83 51h1.2M81 52h1.2M93 52h1.2M94 52h1.2M79 53h1.2M82 53h1.2M91 53h1.2M92 53h1.2M91 56h1.2M79 57h1.2M80 57h1.2M92 57h1.2M95 57h1.2M78 58h1.2M95 58h1.2M76 59h1.2M80 59h1.2M94 59h1.2M78 60h1.2M76 61h1.2M92 62h1.2M76 63h1.2M73 65h1.2M91 65h1.2M71 67h1.2M90 67h1.2M71 68h1.2M74 69h1.2M65 72h1.2M89 72h1.2M65 73h1.2M68 73h1.2M88 73h1.2M89 74h1.2M65 75h1.2M87 75h1.2M87 76h1.2M85 77h1.2M47 78h1.2M58 78h1.2M64 78h1.2M83 78h1.2M24 79h1.2M40 79h1.2M47 79h1.2M57 79h1.2M58 79h1.2M64 79h1.2M66 79h1.2M69 79h1.2M81 79h1.2M23 80h1.2M39 80h1.2M40 80h1.2M44 80h1.2M48 80h1.2M57 80h1.2M59 80h1.2M73 80h1.2M74 80h1.2M76 80h1.2M79 80h1.2M82 80h1.2M37 81h1.2M38 81h1.2M57 81h1.2M67 81h1.2M69 81h1.2M66 82h1.2"/><path stroke="#2a60d8" d="M91 30h1.2M88 32h1.2M90 32h1.2M88 33h1.2M87 34h1.2M86 35h1.2M91 35h1.2M92 35h1.2M86 36h1.2M85 37h1.2M90 37h1.2M85 38h1.2M86 38h1.2M83 40h1.2M88 41h1.2M92 41h1.2M86 42h1.2M88 42h1.2M82 43h1.2M86 43h1.2M92 44h1.2M87 46h1.2M89 46h1.2M90 46h1.2M82 47h1.2M83 47h1.2M86 47h1.2M88 47h1.2M93 47h1.2M82 48h1.2M91 49h1.2M93 49h1.2M94 49h1.2M85 50h1.2M91 50h1.2M83 52h1.2M85 52h1.2M88 52h1.2M84 53h1.2M88 53h1.2M89 53h1.2M82 54h1.2M83 54h1.2M89 54h1.2M90 54h1.2M91 54h1.2M93 55h1.2M81 56h1.2M92 56h1.2M93 56h1.2M90 57h1.2M91 58h1.2M78 59h1.2M79 59h1.2M91 60h1.2M91 61h1.2M92 61h1.2M75 65h1.2M90 66h1.2M89 67h1.2M75 68h1.2M76 69h1.2M74 70h1.2M88 70h1.2M71 72h1.2M88 72h1.2M70 73h1.2M69 74h1.2M67 75h1.2M85 75h1.2M65 76h1.2M84 76h1.2M69 77h1.2M83 77h1.2M84 77h1.2M65 78h1.2M68 78h1.2M72 78h1.2M73 79h1.2M78 79h1.2M67 80h1.2M68 80h1.2M68 81h1.2"/><path stroke="#35b5d5" d="M89 33h1.2M90 33h1.2M91 33h1.2M90 34h1.2M87 35h1.2M88 35h1.2M89 35h1.2M87 36h1.2M88 36h1.2M87 38h1.2M89 38h1.2M87 39h1.2M88 39h1.2M86 40h1.2M87 40h1.2M88 40h1.2M83 41h1.2M84 41h1.2M86 41h1.2M87 41h1.2M91 41h1.2M83 42h1.2M84 42h1.2M85 42h1.2M90 42h1.2M92 42h1.2M84 43h1.2M88 43h1.2M90 43h1.2M91 43h1.2M85 44h1.2M86 44h1.2M87 44h1.2M88 44h1.2M87 45h1.2M90 47h1.2M87 48h1.2M88 48h1.2M89 48h1.2M87 49h1.2M88 49h1.2M89 49h1.2M87 50h1.2M88 50h1.2M90 50h1.2M86 51h1.2M89 51h1.2M90 51h1.2M87 52h1.2M84 54h1.2M85 54h1.2M86 54h1.2M88 55h1.2M89 55h1.2M83 56h1.2M89 56h1.2M82 57h1.2M89 57h1.2M82 58h1.2M90 59h1.2M91 59h1.2M80 61h1.2M78 62h1.2M79 62h1.2M78 63h1.2M90 63h1.2M90 64h1.2M77 65h1.2M75 66h1.2M89 66h1.2M75 67h1.2M76 67h1.2M77 68h1.2M88 68h1.2M78 69h1.2M75 70h1.2M76 70h1.2M77 70h1.2M87 70h1.2M87 71h1.2M87 72h1.2M86 73h1.2M70 74h1.2M68 75h1.2M69 75h1.2M66 76h1.2M68 76h1.2M69 76h1.2M83 76h1.2M66 77h1.2M67 77h1.2M71 77h1.2M81 77h1.2M82 77h1.2M67 78h1.2M74 79h1.2M76 79h1.2M77 79h1.2"/><path stroke="#5ac85c" d="M88 37h1.2M89 37h1.2M88 38h1.2M91 42h1.2M86 55h1.2M87 55h1.2M84 56h1.2M85 56h1.2M86 56h1.2M88 56h1.2M83 57h1.2M87 57h1.2M88 57h1.2M89 58h1.2M89 59h1.2M89 60h1.2M80 62h1.2M89 62h1.2M79 63h1.2M80 63h1.2M89 63h1.2M79 64h1.2M88 64h1.2M89 64h1.2M79 65h1.2M87 65h1.2M88 65h1.2M77 66h1.2M78 66h1.2M79 66h1.2M88 66h1.2M77 67h1.2M78 67h1.2M78 68h1.2M87 68h1.2M79 69h1.2M87 69h1.2M79 70h1.2M85 70h1.2M75 71h1.2M76 71h1.2M77 71h1.2M78 71h1.2M83 71h1.2M84 71h1.2M85 71h1.2M86 71h1.2M73 72h1.2M74 72h1.2M82 72h1.2M83 72h1.2M85 72h1.2M86 72h1.2M71 73h1.2M72 73h1.2M82 73h1.2M83 73h1.2M85 73h1.2M71 74h1.2M82 74h1.2M83 74h1.2M70 75h1.2M82 75h1.2M70 76h1.2M71 76h1.2M72 76h1.2M81 76h1.2M82 76h1.2M79 77h1.2M73 78h1.2M74 78h1.2M76 78h1.2M77 78h1.2"/><path stroke="#b5d935" d="M84 57h1.2M85 57h1.2M86 57h1.2M83 58h1.2M87 58h1.2M88 58h1.2M83 59h1.2M82 60h1.2M84 60h1.2M81 61h1.2M81 62h1.2M88 62h1.2M88 63h1.2M80 64h1.2M81 64h1.2M86 64h1.2M87 64h1.2M80 65h1.2M81 65h1.2M85 65h1.2M86 65h1.2M86 66h1.2M87 66h1.2M79 67h1.2M80 67h1.2M87 67h1.2M79 68h1.2M86 68h1.2M85 69h1.2M86 69h1.2M84 70h1.2M79 71h1.2M80 71h1.2M81 71h1.2M82 71h1.2M75 72h1.2M77 72h1.2M81 72h1.2M84 72h1.2M73 73h1.2M74 73h1.2M75 73h1.2M76 73h1.2M81 73h1.2M84 73h1.2M72 74h1.2M72 75h1.2M81 75h1.2M80 76h1.2"/><path stroke="#f2d21e" d="M84 58h1.2M85 58h1.2M86 58h1.2M84 59h1.2M85 59h1.2M87 59h1.2M85 60h1.2M88 60h1.2M83 61h1.2M84 61h1.2M88 61h1.2M87 62h1.2M82 63h1.2M83 63h1.2M85 63h1.2M86 63h1.2M87 63h1.2M82 64h1.2M83 64h1.2M84 64h1.2M82 65h1.2M83 65h1.2M84 65h1.2M82 66h1.2M85 66h1.2M81 67h1.2M85 67h1.2M80 68h1.2M85 68h1.2M80 69h1.2M84 69h1.2M80 70h1.2M82 70h1.2M79 72h1.2M80 72h1.2M77 73h1.2M78 73h1.2M79 73h1.2M80 73h1.2M73 74h1.2M74 74h1.2M75 74h1.2M76 74h1.2M77 74h1.2M79 74h1.2M73 75h1.2M80 75h1.2M74 77h1.2M75 77h1.2M76 77h1.2M77 77h1.2M78 77h1.2"/><path stroke="#f0862a" d="M86 59h1.2M86 60h1.2M82 61h1.2M86 61h1.2M82 62h1.2M83 62h1.2M84 62h1.2M85 62h1.2M86 62h1.2M84 63h1.2M84 68h1.2M83 69h1.2M81 70h1.2M78 74h1.2M74 75h1.2M76 75h1.2M77 75h1.2M79 75h1.2M74 76h1.2M76 76h1.2M79 76h1.2"/><path stroke="#e0401a" d="M87 60h1.2M87 61h1.2M83 66h1.2M82 67h1.2M83 67h1.2M84 67h1.2M81 68h1.2M82 68h1.2M83 68h1.2M81 69h1.2M82 69h1.2M75 75h1.2M78 75h1.2M75 76h1.2M77 76h1.2M78 76h1.2"/></g>
<g transform="translate(360.7 442.8)" stroke-width="1.2"><path stroke="#6b82cf" d="M94 1h1.2M80 10h1.2M93 10h1.2M92 13h1.2M94 14h1.2M88 16h1.2M84 20h1.2M34 21h1.2M77 21h1.2M81 21h1.2M89 22h1.2M55 23h1.2M88 23h1.2M78 24h1.2M83 24h1.2M107 24h1.2M96 25h1.2M98 25h1.2M30 26h1.2M80 27h1.2M97 28h1.2M101 29h1.2M95 33h1.2M107 35h1.2M78 37h1.2M51 40h1.2M97 42h1.2M76 44h1.2M96 45h1.2M77 47h1.2M42 51h1.2M73 51h1.2M94 51h1.2M24 55h1.2M74 59h1.2M102 60h1.2M96 61h1.2M89 72h1.2M92 73h1.2M61 76h1.2M43 77h1.2M47 77h1.2M49 77h1.2M57 77h1.2M1 78h1.2M12 78h1.2M18 78h1.2M8 79h1.2M16 79h1.2M27 79h1.2M48 79h1.2M58 79h1.2M90 79h1.2M12 80h1.2M21 80h1.2M24 80h1.2M23 81h1.2M61 81h1.2M63 81h1.2M78 81h1.2M53 82h1.2M68 82h1.2M81 82h1.2M38 83h1.2M45 83h1.2M77 83h1.2M85 84h1.2"/><path stroke="#1f3bb0" d="M77 15h1.2M78 15h1.2M93 17h1.2M94 17h1.2M97 18h1.2M98 18h1.2M96 19h1.2M92 20h1.2M93 20h1.2M94 20h1.2M91 21h1.2M92 23h1.2M85 24h1.2M93 24h1.2M94 24h1.2M80 25h1.2M81 25h1.2M86 25h1.2M87 25h1.2M84 26h1.2M90 26h1.2M83 27h1.2M85 27h1.2M86 27h1.2M90 27h1.2M92 27h1.2M89 28h1.2M92 28h1.2M95 28h1.2M86 29h1.2M89 29h1.2M91 29h1.2M92 29h1.2M94 29h1.2M86 30h1.2M88 31h1.2M89 31h1.2M90 31h1.2M92 31h1.2M93 31h1.2M86 32h1.2M82 33h1.2M84 33h1.2M86 33h1.2M90 33h1.2M91 33h1.2M81 34h1.2M82 34h1.2M85 34h1.2M91 34h1.2M84 35h1.2M94 35h1.2M95 35h1.2M82 36h1.2M91 36h1.2M96 36h1.2M98 36h1.2M99 36h1.2M92 37h1.2M93 37h1.2M94 37h1.2M79 38h1.2M81 38h1.2M82 38h1.2M83 38h1.2M95 38h1.2M82 39h1.2M96 39h1.2M88 40h1.2M93 40h1.2M95 40h1.2M76 41h1.2M77 41h1.2M83 41h1.2M93 41h1.2M75 42h1.2M77 42h1.2M83 42h1.2M94 42h1.2M95 42h1.2M79 43h1.2M95 43h1.2M79 44h1.2M81 44h1.2M83 44h1.2M97 44h1.2M78 45h1.2M81 45h1.2M90 45h1.2M91 45h1.2M92 46h1.2M93 46h1.2M79 47h1.2M83 47h1.2M91 47h1.2M79 48h1.2M93 48h1.2M95 48h1.2M79 49h1.2M82 49h1.2M83 49h1.2M94 49h1.2M95 49h1.2M78 50h1.2M80 50h1.2M91 50h1.2M78 51h1.2M81 51h1.2M87 51h1.2M91 51h1.2M79 52h1.2M83 52h1.2M89 52h1.2M92 52h1.2M80 53h1.2M81 53h1.2M89 53h1.2M91 53h1.2M76 54h1.2M77 54h1.2M88 54h1.2M93 54h1.2M94 54h1.2M87 55h1.2M88 55h1.2M89 55h1.2M93 55h1.2M89 56h1.2M90 56h1.2M92 56h1.2M78 57h1.2M91 57h1.2M92 57h1.2M94 57h1.2M76 58h1.2M95 58h1.2M77 59h1.2M90 59h1.2M92 59h1.2M95 59h1.2M92 60h1.2M93 60h1.2M74 63h1.2M73 64h1.2M74 64h1.2M75 65h1.2M73 66h1.2M75 66h1.2M72 67h1.2M74 67h1.2M91 67h1.2M69 70h1.2M90 70h1.2M66 71h1.2M68 71h1.2M66 72h1.2M67 73h1.2M65 74h1.2M65 75h1.2M66 75h1.2M86 77h1.2M29 78h1.2M52 78h1.2M55 78h1.2M62 78h1.2M65 78h1.2M82 78h1.2M85 78h1.2M29 79h1.2M31 79h1.2M39 79h1.2M51 79h1.2M55 79h1.2M69 79h1.2M71 79h1.2M80 79h1.2M85 79h1.2M29 80h1.2M31 80h1.2M34 80h1.2M36 80h1.2M40 80h1.2M52 80h1.2M53 80h1.2M55 80h1.2M65 80h1.2M66 80h1.2M80 80h1.2M19 81h1.2M29 81h1.2M34 81h1.2M36 81h1.2M46 81h1.2M47 81h1.2M51 81h1.2M39 82h1.2M74 82h1.2M74 83h1.2"/><path stroke="#2a60d8" d="M90 29h1.2M92 30h1.2M86 35h1.2M88 35h1.2M84 36h1.2M86 36h1.2M88 36h1.2M89 36h1.2M90 36h1.2M84 37h1.2M88 37h1.2M89 37h1.2M85 38h1.2M86 38h1.2M90 39h1.2M91 39h1.2M85 40h1.2M86 40h1.2M89 40h1.2M91 40h1.2M89 41h1.2M91 41h1.2M92 41h1.2M84 42h1.2M85 42h1.2M86 42h1.2M87 42h1.2M91 42h1.2M84 43h1.2M85 43h1.2M90 43h1.2M91 43h1.2M86 44h1.2M88 44h1.2M84 45h1.2M87 45h1.2M88 45h1.2M89 46h1.2M90 47h1.2M90 48h1.2M87 49h1.2M89 49h1.2M90 49h1.2M86 50h1.2M88 50h1.2M90 50h1.2M79 51h1.2M80 51h1.2M89 51h1.2M86 52h1.2M86 53h1.2M80 54h1.2M82 55h1.2M78 56h1.2M79 57h1.2M88 58h1.2M89 59h1.2M77 60h1.2M78 60h1.2M90 60h1.2M90 61h1.2M89 62h1.2M76 63h1.2M76 65h1.2M90 65h1.2M90 66h1.2M74 68h1.2M75 69h1.2M88 69h1.2M72 70h1.2M88 70h1.2M71 71h1.2M87 71h1.2M68 74h1.2M87 74h1.2M68 75h1.2M85 75h1.2M86 75h1.2M66 76h1.2M67 76h1.2M84 76h1.2M83 77h1.2M84 77h1.2M66 78h1.2M68 78h1.2M70 78h1.2M71 78h1.2M77 78h1.2M79 78h1.2M80 78h1.2M38 79h1.2M52 79h1.2M66 79h1.2M67 79h1.2M73 79h1.2M37 80h1.2M38 80h1.2"/><path stroke="#35b5d5" d="M85 37h1.2M86 37h1.2M87 37h1.2M89 42h1.2M87 43h1.2M89 43h1.2M85 46h1.2M86 46h1.2M88 46h1.2M85 47h1.2M87 47h1.2M88 47h1.2M89 47h1.2M86 48h1.2M88 48h1.2M89 48h1.2M85 49h1.2M86 49h1.2M84 50h1.2M85 50h1.2M84 51h1.2M85 51h1.2M84 52h1.2M85 52h1.2M85 53h1.2M84 54h1.2M85 54h1.2M80 55h1.2M81 55h1.2M79 56h1.2M81 56h1.2M86 56h1.2M80 57h1.2M87 57h1.2M80 58h1.2M81 58h1.2M82 58h1.2M80 59h1.2M81 59h1.2M87 59h1.2M88 59h1.2M88 60h1.2M77 62h1.2M78 62h1.2M77 63h1.2M77 64h1.2M77 65h1.2M78 65h1.2M88 65h1.2M89 65h1.2M77 66h1.2M76 68h1.2M86 68h1.2M88 68h1.2M86 69h1.2M74 70h1.2M85 70h1.2M86 70h1.2M87 70h1.2M72 71h1.2M70 72h1.2M71 72h1.2M86 72h1.2M69 73h1.2M70 73h1.2M84 73h1.2M85 73h1.2M86 73h1.2M69 74h1.2M70 74h1.2M85 74h1.2M69 75h1.2M70 75h1.2M68 76h1.2M69 76h1.2M70 76h1.2M67 77h1.2M68 77h1.2M69 77h1.2M79 77h1.2M67 78h1.2M73 78h1.2M75 78h1.2"/><path stroke="#5ac85c" d="M84 55h1.2M80 56h1.2M83 56h1.2M84 56h1.2M85 56h1.2M86 57h1.2M83 58h1.2M82 59h1.2M83 59h1.2M86 59h1.2M80 60h1.2M81 60h1.2M83 60h1.2M87 60h1.2M79 61h1.2M80 61h1.2M88 61h1.2M79 62h1.2M80 62h1.2M88 62h1.2M80 63h1.2M87 63h1.2M79 64h1.2M87 64h1.2M87 65h1.2M78 66h1.2M86 66h1.2M87 66h1.2M88 66h1.2M89 66h1.2M77 67h1.2M86 67h1.2M87 67h1.2M88 67h1.2M77 68h1.2M85 68h1.2M87 68h1.2M77 69h1.2M83 70h1.2M74 71h1.2M83 71h1.2M84 71h1.2M85 71h1.2M73 72h1.2M83 72h1.2M84 72h1.2M85 72h1.2M71 73h1.2M82 73h1.2M83 73h1.2M71 74h1.2M82 75h1.2M71 76h1.2M78 76h1.2M81 76h1.2M72 77h1.2M73 77h1.2M76 77h1.2"/><path stroke="#b5d935" d="M84 57h1.2M85 57h1.2M85 58h1.2M84 59h1.2M85 59h1.2M84 60h1.2M85 60h1.2M81 61h1.2M82 61h1.2M83 61h1.2M84 61h1.2M85 61h1.2M86 61h1.2M87 61h1.2M81 62h1.2M84 62h1.2M85 62h1.2M86 62h1.2M87 62h1.2M81 63h1.2M82 63h1.2M83 63h1.2M84 63h1.2M85 63h1.2M86 63h1.2M80 64h1.2M86 64h1.2M79 65h1.2M86 65h1.2M85 66h1.2M78 67h1.2M85 67h1.2M78 68h1.2M84 68h1.2M78 69h1.2M82 69h1.2M83 69h1.2M77 70h1.2M82 70h1.2M75 71h1.2M76 71h1.2M77 71h1.2M76 72h1.2M72 73h1.2M72 74h1.2M81 74h1.2M72 75h1.2M72 76h1.2M73 76h1.2M77 76h1.2M80 76h1.2M74 77h1.2M75 77h1.2"/><path stroke="#f2d21e" d="M82 62h1.2M83 62h1.2M81 64h1.2M82 64h1.2M84 64h1.2M85 64h1.2M85 65h1.2M79 66h1.2M84 66h1.2M79 67h1.2M84 67h1.2M79 68h1.2M80 68h1.2M82 68h1.2M83 68h1.2M79 69h1.2M81 69h1.2M78 70h1.2M81 70h1.2M78 71h1.2M82 71h1.2M74 72h1.2M75 72h1.2M78 72h1.2M81 72h1.2M73 73h1.2M76 73h1.2M77 73h1.2M78 73h1.2M73 74h1.2M77 74h1.2M78 74h1.2M79 74h1.2M73 75h1.2M77 75h1.2M78 75h1.2M79 75h1.2M81 75h1.2M75 76h1.2M76 76h1.2"/><path stroke="#f0862a" d="M84 65h1.2M80 67h1.2M83 67h1.2M81 68h1.2M80 69h1.2M79 70h1.2M80 70h1.2M79 71h1.2M81 71h1.2M79 72h1.2M74 73h1.2M75 73h1.2M79 73h1.2M80 73h1.2M80 74h1.2M80 75h1.2"/><path stroke="#e0401a" d="M80 65h1.2M81 65h1.2M82 65h1.2M83 65h1.2M80 66h1.2M81 66h1.2M82 66h1.2M83 66h1.2M81 67h1.2M82 67h1.2M80 71h1.2M80 72h1.2M74 74h1.2M75 74h1.2M76 74h1.2M74 75h1.2M75 75h1.2M76 75h1.2"/></g>
<g transform="translate(502.3 442.8)" stroke-width="1.2"><path stroke="#6b82cf" d="M84 17h1.2M79 24h1.2M96 25h1.2M99 25h1.2M38 27h1.2M80 30h1.2M95 30h1.2M98 30h1.2M89 31h1.2M85 32h1.2M97 32h1.2M80 34h1.2M90 36h1.2M83 37h1.2M93 37h1.2M96 37h1.2M91 39h1.2M36 40h1.2M78 40h1.2M95 40h1.2M71 43h1.2M73 43h1.2M77 43h1.2M79 44h1.2M100 47h1.2M97 50h1.2M48 51h1.2M94 52h1.2M98 52h1.2M73 54h1.2M20 56h1.2M71 56h1.2M71 58h1.2M75 58h1.2M73 62h1.2M91 63h1.2M90 67h1.2M94 68h1.2M58 71h1.2M92 71h1.2M59 72h1.2M51 74h1.2M90 75h1.2M12 76h1.2M87 77h1.2M24 78h1.2M36 78h1.2M53 78h1.2M32 79h1.2M80 79h1.2M83 79h1.2M12 80h1.2M16 80h1.2M18 80h1.2M21 80h1.2M34 80h1.2M55 80h1.2M13 81h1.2M32 81h1.2M56 81h1.2M76 81h1.2M15 82h1.2M30 82h1.2M39 82h1.2"/><path stroke="#1f3bb0" d="M86 29h1.2M86 30h1.2M87 30h1.2M93 32h1.2M93 33h1.2M93 34h1.2M95 34h1.2M95 35h1.2M85 36h1.2M94 36h1.2M78 37h1.2M86 37h1.2M91 37h1.2M79 38h1.2M87 38h1.2M83 39h1.2M86 39h1.2M82 40h1.2M86 40h1.2M88 40h1.2M81 41h1.2M83 41h1.2M84 41h1.2M90 41h1.2M92 41h1.2M84 42h1.2M85 42h1.2M91 42h1.2M85 43h1.2M81 44h1.2M92 44h1.2M95 44h1.2M82 45h1.2M90 45h1.2M91 45h1.2M93 45h1.2M94 45h1.2M95 45h1.2M75 47h1.2M78 47h1.2M79 47h1.2M81 47h1.2M83 47h1.2M90 47h1.2M92 47h1.2M76 48h1.2M78 48h1.2M91 48h1.2M76 49h1.2M77 49h1.2M90 49h1.2M91 49h1.2M74 50h1.2M90 50h1.2M72 51h1.2M73 51h1.2M77 51h1.2M78 51h1.2M79 51h1.2M89 51h1.2M72 52h1.2M74 52h1.2M81 52h1.2M80 53h1.2M86 53h1.2M88 53h1.2M91 53h1.2M78 54h1.2M84 54h1.2M89 54h1.2M91 54h1.2M76 55h1.2M77 55h1.2M79 55h1.2M81 55h1.2M87 55h1.2M75 56h1.2M85 56h1.2M90 56h1.2M92 56h1.2M80 57h1.2M87 57h1.2M91 57h1.2M92 57h1.2M79 58h1.2M88 58h1.2M89 58h1.2M92 58h1.2M78 59h1.2M90 59h1.2M92 59h1.2M76 60h1.2M77 60h1.2M88 60h1.2M91 60h1.2M75 62h1.2M88 62h1.2M89 62h1.2M90 62h1.2M88 64h1.2M89 64h1.2M70 65h1.2M87 65h1.2M70 66h1.2M71 66h1.2M86 66h1.2M69 68h1.2M87 69h1.2M88 69h1.2M65 70h1.2M66 70h1.2M69 70h1.2M65 71h1.2M89 71h1.2M65 72h1.2M90 72h1.2M61 73h1.2M62 73h1.2M63 73h1.2M90 73h1.2M61 75h1.2M86 75h1.2M60 76h1.2M40 77h1.2M41 77h1.2M43 77h1.2M45 77h1.2M46 77h1.2M58 77h1.2M62 77h1.2M64 77h1.2M66 77h1.2M81 77h1.2M84 77h1.2M85 77h1.2M28 78h1.2M29 78h1.2M41 78h1.2M44 78h1.2M47 78h1.2M50 78h1.2M51 78h1.2M59 78h1.2M62 78h1.2M63 78h1.2M30 79h1.2M43 79h1.2M47 79h1.2M58 79h1.2M59 79h1.2M63 79h1.2M66 79h1.2M69 79h1.2M76 79h1.2M77 79h1.2M45 80h1.2M51 80h1.2M53 80h1.2M58 80h1.2M59 80h1.2M74 80h1.2M24 81h1.2M25 81h1.2M26 81h1.2M27 81h1.2M44 81h1.2M45 81h1.2M51 81h1.2M52 81h1.2"/><path stroke="#2a60d8" d="M87 39h1.2M87 40h1.2M87 41h1.2M88 41h1.2M87 42h1.2M88 42h1.2M87 43h1.2M88 43h1.2M90 43h1.2M85 44h1.2M86 44h1.2M87 44h1.2M89 44h1.2M91 44h1.2M83 45h1.2M84 45h1.2M85 45h1.2M83 46h1.2M84 46h1.2M85 46h1.2M86 46h1.2M85 47h1.2M86 47h1.2M87 47h1.2M79 48h1.2M80 48h1.2M83 48h1.2M86 48h1.2M87 48h1.2M81 49h1.2M83 49h1.2M84 49h1.2M87 49h1.2M88 49h1.2M81 50h1.2M83 50h1.2M85 50h1.2M86 50h1.2M88 50h1.2M83 51h1.2M84 51h1.2M85 51h1.2M86 51h1.2M82 52h1.2M85 52h1.2M84 53h1.2M82 55h1.2M83 55h1.2M82 56h1.2M83 56h1.2M86 56h1.2M87 56h1.2M81 57h1.2M82 57h1.2M84 57h1.2M85 57h1.2M80 58h1.2M82 58h1.2M80 59h1.2M85 59h1.2M87 59h1.2M87 61h1.2M76 62h1.2M77 62h1.2M87 63h1.2M74 64h1.2M85 64h1.2M87 64h1.2M73 65h1.2M85 66h1.2M71 67h1.2M85 67h1.2M71 68h1.2M84 68h1.2M85 69h1.2M86 70h1.2M88 70h1.2M66 71h1.2M86 71h1.2M87 71h1.2M88 71h1.2M86 72h1.2M89 72h1.2M65 73h1.2M66 73h1.2M63 74h1.2M64 74h1.2M85 74h1.2M86 74h1.2M64 75h1.2M66 75h1.2M84 75h1.2M64 76h1.2M65 76h1.2M83 76h1.2M65 77h1.2M68 77h1.2M74 77h1.2M80 77h1.2M82 77h1.2M83 77h1.2M45 78h1.2M66 78h1.2M69 78h1.2M70 78h1.2M77 78h1.2M45 79h1.2M74 79h1.2"/><path stroke="#35b5d5" d="M82 49h1.2M82 50h1.2M83 58h1.2M84 58h1.2M82 59h1.2M83 59h1.2M80 60h1.2M81 60h1.2M82 60h1.2M84 60h1.2M85 60h1.2M86 60h1.2M79 61h1.2M80 61h1.2M82 61h1.2M86 61h1.2M81 62h1.2M83 62h1.2M85 62h1.2M76 63h1.2M77 63h1.2M81 63h1.2M82 63h1.2M83 63h1.2M84 63h1.2M85 63h1.2M76 64h1.2M77 64h1.2M79 64h1.2M81 64h1.2M82 64h1.2M83 64h1.2M84 64h1.2M74 65h1.2M75 65h1.2M76 65h1.2M77 65h1.2M78 65h1.2M79 65h1.2M80 65h1.2M81 65h1.2M82 65h1.2M84 65h1.2M73 66h1.2M74 66h1.2M76 66h1.2M77 66h1.2M79 66h1.2M80 66h1.2M81 66h1.2M82 66h1.2M84 66h1.2M76 67h1.2M78 67h1.2M80 67h1.2M81 67h1.2M83 67h1.2M84 67h1.2M76 68h1.2M78 68h1.2M79 68h1.2M81 68h1.2M82 69h1.2M83 69h1.2M71 70h1.2M83 70h1.2M69 71h1.2M84 71h1.2M67 72h1.2M85 72h1.2M67 73h1.2M84 73h1.2M85 73h1.2M67 75h1.2M68 75h1.2M82 75h1.2M83 75h1.2M69 76h1.2M69 77h1.2M70 77h1.2M71 77h1.2M72 77h1.2M73 77h1.2M76 77h1.2M78 77h1.2"/><path stroke="#5ac85c" d="M83 60h1.2M83 61h1.2M84 61h1.2M85 61h1.2M79 62h1.2M80 62h1.2M78 63h1.2M79 63h1.2M80 63h1.2M78 64h1.2M73 67h1.2M74 67h1.2M75 67h1.2M73 68h1.2M75 68h1.2M80 68h1.2M73 69h1.2M75 69h1.2M79 69h1.2M80 69h1.2M81 69h1.2M72 70h1.2M73 70h1.2M75 70h1.2M76 70h1.2M77 70h1.2M78 70h1.2M82 70h1.2M71 71h1.2M82 71h1.2M83 71h1.2M68 72h1.2M83 72h1.2M84 72h1.2M68 74h1.2M70 75h1.2M80 75h1.2M72 76h1.2M73 76h1.2M75 76h1.2M77 76h1.2M78 76h1.2M79 76h1.2"/><path stroke="#b5d935" d="M74 68h1.2M74 69h1.2M79 70h1.2M80 70h1.2M81 70h1.2M72 71h1.2M75 71h1.2M77 71h1.2M78 71h1.2M80 71h1.2M81 71h1.2M69 72h1.2M70 72h1.2M71 72h1.2M79 72h1.2M82 72h1.2M69 73h1.2M70 73h1.2M71 73h1.2M82 73h1.2M69 74h1.2M70 74h1.2M71 74h1.2M72 74h1.2M81 74h1.2M82 74h1.2M71 75h1.2M72 75h1.2M73 75h1.2M74 75h1.2M78 75h1.2M79 75h1.2M76 76h1.2"/><path stroke="#f2d21e" d="M76 71h1.2M72 72h1.2M73 72h1.2M74 72h1.2M80 72h1.2M81 72h1.2M72 73h1.2M73 73h1.2M80 73h1.2M81 73h1.2M73 74h1.2M74 74h1.2M79 74h1.2M80 74h1.2M77 75h1.2"/><path stroke="#f0862a" d="M75 72h1.2M77 72h1.2M74 73h1.2M78 73h1.2M79 73h1.2M78 74h1.2M75 75h1.2"/><path stroke="#e0401a" d="M76 72h1.2M75 73h1.2M76 73h1.2M77 73h1.2M75 74h1.2M76 74h1.2M77 74h1.2M76 75h1.2"/></g>
<g transform="translate(641.0 442.8)" stroke-width="1.2"><path stroke="#6b82cf" d="M88 25h1.2M82 29h1.2M81 30h1.2M48 33h1.2M84 34h1.2M86 35h1.2M60 38h1.2M82 38h1.2M84 38h1.2M85 39h1.2M82 40h1.2M78 41h1.2M83 41h1.2M89 41h1.2M81 42h1.2M86 43h1.2M59 44h1.2M82 45h1.2M78 46h1.2M83 46h1.2M96 46h1.2M36 50h1.2M90 51h1.2M78 53h1.2M90 56h1.2M91 56h1.2M74 58h1.2M70 63h1.2M89 63h1.2M59 69h1.2M86 69h1.2M56 70h1.2M89 70h1.2M99 74h1.2M52 75h1.2M44 76h1.2M90 76h1.2M27 77h1.2M47 77h1.2M49 77h1.2M52 77h1.2M54 77h1.2M14 78h1.2M9 79h1.2M17 79h1.2M24 80h1.2M46 80h1.2M4 81h1.2M6 81h1.2M15 81h1.2M17 81h1.2M60 81h1.2M78 81h1.2M81 81h1.2M25 82h1.2M45 82h1.2M55 83h1.2M62 83h1.2M67 83h1.2"/><path stroke="#1f3bb0" d="M89 36h1.2M87 40h1.2M87 41h1.2M88 42h1.2M78 43h1.2M79 43h1.2M82 43h1.2M84 43h1.2M77 44h1.2M78 44h1.2M84 44h1.2M86 46h1.2M87 46h1.2M89 46h1.2M81 47h1.2M89 47h1.2M81 48h1.2M82 48h1.2M86 48h1.2M86 49h1.2M88 49h1.2M77 50h1.2M79 50h1.2M85 50h1.2M87 50h1.2M88 50h1.2M78 51h1.2M80 51h1.2M88 51h1.2M81 52h1.2M86 52h1.2M81 53h1.2M88 53h1.2M89 53h1.2M90 53h1.2M83 54h1.2M83 55h1.2M86 55h1.2M87 55h1.2M88 55h1.2M77 56h1.2M83 56h1.2M76 57h1.2M77 57h1.2M78 57h1.2M81 57h1.2M76 58h1.2M80 59h1.2M82 59h1.2M86 59h1.2M80 60h1.2M85 60h1.2M87 60h1.2M88 60h1.2M75 61h1.2M82 61h1.2M84 61h1.2M86 61h1.2M87 61h1.2M74 62h1.2M76 62h1.2M78 62h1.2M80 62h1.2M81 62h1.2M86 62h1.2M87 62h1.2M75 63h1.2M84 63h1.2M85 63h1.2M73 64h1.2M74 64h1.2M86 64h1.2M88 64h1.2M73 65h1.2M75 65h1.2M76 65h1.2M77 65h1.2M85 65h1.2M87 66h1.2M88 66h1.2M73 67h1.2M71 69h1.2M84 69h1.2M70 70h1.2M85 70h1.2M65 71h1.2M66 71h1.2M70 71h1.2M71 71h1.2M84 71h1.2M87 72h1.2M88 72h1.2M84 73h1.2M85 73h1.2M87 73h1.2M88 73h1.2M63 74h1.2M89 74h1.2M58 76h1.2M59 76h1.2M56 77h1.2M58 77h1.2M59 77h1.2M87 77h1.2M30 78h1.2M32 78h1.2M36 78h1.2M42 78h1.2M43 78h1.2M48 78h1.2M57 78h1.2M87 78h1.2M29 79h1.2M31 79h1.2M33 79h1.2M36 79h1.2M37 79h1.2M40 79h1.2M44 79h1.2M54 79h1.2M59 79h1.2M60 79h1.2M84 79h1.2M85 79h1.2M87 79h1.2M11 80h1.2M18 80h1.2M26 80h1.2M28 80h1.2M33 80h1.2M35 80h1.2M36 80h1.2M41 80h1.2M42 80h1.2M43 80h1.2M48 80h1.2M54 80h1.2M57 80h1.2M61 80h1.2M63 80h1.2M9 81h1.2M10 81h1.2M11 81h1.2M12 81h1.2M23 81h1.2M27 81h1.2M30 81h1.2M31 81h1.2M36 81h1.2M37 81h1.2M40 81h1.2M41 81h1.2M48 81h1.2M49 81h1.2M50 81h1.2M51 81h1.2M56 81h1.2M57 81h1.2M63 81h1.2M23 82h1.2M30 82h1.2M35 82h1.2M36 82h1.2M38 82h1.2M64 82h1.2M70 82h1.2M35 83h1.2"/><path stroke="#2a60d8" d="M82 49h1.2M83 50h1.2M82 51h1.2M83 51h1.2M85 51h1.2M82 52h1.2M83 52h1.2M84 52h1.2M85 52h1.2M84 53h1.2M84 54h1.2M85 54h1.2M80 55h1.2M81 55h1.2M84 55h1.2M85 55h1.2M77 59h1.2M83 59h1.2M76 60h1.2M77 60h1.2M78 60h1.2M83 60h1.2M79 61h1.2M83 61h1.2M75 62h1.2M79 64h1.2M80 64h1.2M81 64h1.2M84 64h1.2M85 64h1.2M78 65h1.2M83 65h1.2M75 66h1.2M76 66h1.2M84 66h1.2M74 67h1.2M77 67h1.2M78 67h1.2M83 67h1.2M73 68h1.2M82 68h1.2M73 69h1.2M73 70h1.2M81 70h1.2M67 71h1.2M72 71h1.2M82 72h1.2M66 73h1.2M82 73h1.2M64 74h1.2M84 74h1.2M87 74h1.2M62 75h1.2M87 75h1.2M83 78h1.2M84 78h1.2M38 79h1.2M39 79h1.2M82 79h1.2M38 80h1.2M39 80h1.2M40 80h1.2M64 80h1.2M76 80h1.2M67 81h1.2M69 81h1.2M71 81h1.2M72 81h1.2M73 81h1.2"/><path stroke="#35b5d5" d="M82 50h1.2M81 65h1.2M82 65h1.2M79 66h1.2M80 66h1.2M81 66h1.2M82 66h1.2M83 66h1.2M75 67h1.2M79 67h1.2M82 67h1.2M74 68h1.2M75 68h1.2M76 68h1.2M77 68h1.2M78 68h1.2M80 68h1.2M81 68h1.2M74 69h1.2M79 69h1.2M80 69h1.2M81 69h1.2M74 70h1.2M80 70h1.2M73 71h1.2M74 71h1.2M79 71h1.2M81 71h1.2M67 72h1.2M68 72h1.2M72 72h1.2M73 72h1.2M81 72h1.2M82 74h1.2M64 75h1.2M65 75h1.2M83 75h1.2M84 75h1.2M85 75h1.2M86 75h1.2M61 76h1.2M62 76h1.2M83 76h1.2M84 76h1.2M85 76h1.2M86 76h1.2M61 77h1.2M83 77h1.2M62 78h1.2M80 78h1.2M82 78h1.2M65 79h1.2M77 79h1.2M66 80h1.2M73 80h1.2M74 80h1.2M75 80h1.2M68 81h1.2"/><path stroke="#5ac85c" d="M80 67h1.2M81 67h1.2M75 69h1.2M76 69h1.2M77 69h1.2M78 69h1.2M75 70h1.2M76 70h1.2M77 70h1.2M78 70h1.2M75 71h1.2M76 71h1.2M77 71h1.2M78 71h1.2M74 72h1.2M75 72h1.2M80 72h1.2M67 73h1.2M68 73h1.2M69 73h1.2M70 73h1.2M72 73h1.2M73 73h1.2M67 74h1.2M82 75h1.2M63 76h1.2M65 76h1.2M66 76h1.2M82 76h1.2M62 77h1.2M63 77h1.2M64 77h1.2M80 77h1.2M82 77h1.2M63 78h1.2M64 78h1.2M65 78h1.2M66 78h1.2M78 78h1.2M81 78h1.2M66 79h1.2M67 80h1.2M68 80h1.2M69 80h1.2M71 80h1.2"/><path stroke="#b5d935" d="M76 72h1.2M77 72h1.2M78 72h1.2M74 73h1.2M75 73h1.2M80 73h1.2M68 74h1.2M69 74h1.2M70 74h1.2M74 74h1.2M67 75h1.2M78 75h1.2M79 75h1.2M80 75h1.2M81 75h1.2M79 76h1.2M80 76h1.2M81 76h1.2M67 77h1.2M79 77h1.2M67 78h1.2M68 78h1.2M69 78h1.2M67 79h1.2M68 79h1.2M69 79h1.2M70 79h1.2M71 79h1.2M72 79h1.2M73 79h1.2M74 79h1.2M75 79h1.2"/><path stroke="#f2d21e" d="M76 73h1.2M77 73h1.2M78 73h1.2M79 73h1.2M71 74h1.2M72 74h1.2M75 74h1.2M76 74h1.2M77 74h1.2M78 74h1.2M79 74h1.2M80 74h1.2M68 75h1.2M69 75h1.2M73 75h1.2M74 75h1.2M75 75h1.2M77 75h1.2M67 76h1.2M74 76h1.2M78 76h1.2M68 77h1.2M69 77h1.2M78 77h1.2M70 78h1.2M74 78h1.2M75 78h1.2M76 78h1.2"/><path stroke="#f0862a" d="M70 75h1.2M76 75h1.2M68 76h1.2M69 76h1.2M73 76h1.2M75 76h1.2M70 77h1.2M73 77h1.2M74 77h1.2M71 78h1.2M72 78h1.2M73 78h1.2"/><path stroke="#e0401a" d="M71 75h1.2M72 75h1.2M70 76h1.2M71 76h1.2M72 76h1.2M76 76h1.2M77 76h1.2M71 77h1.2M72 77h1.2M75 77h1.2M76 77h1.2M77 77h1.2"/></g>
<g transform="translate(778.3 442.8)" stroke-width="1.2"><path stroke="#6b82cf" d="M55 23h1.2M48 29h1.2M86 31h1.2M96 31h1.2M88 36h1.2M93 43h1.2M81 44h1.2M76 46h1.2M88 46h1.2M93 50h1.2M34 51h1.2M89 51h1.2M94 53h1.2M50 54h1.2M90 54h1.2M92 54h1.2M77 56h1.2M90 58h1.2M71 60h1.2M75 60h1.2M92 61h1.2M71 66h1.2M70 68h1.2M61 71h1.2M60 72h1.2M93 72h1.2M57 75h1.2M90 75h1.2M45 76h1.2M37 77h1.2M24 78h1.2M33 78h1.2M39 78h1.2M46 78h1.2M52 78h1.2M6 79h1.2M20 79h1.2M41 79h1.2M44 79h1.2M82 79h1.2M9 80h1.2M53 80h1.2M59 80h1.2M12 81h1.2M16 81h1.2M23 81h1.2M63 81h1.2M67 81h1.2M74 81h1.2M33 82h1.2M47 82h1.2"/><path stroke="#1f3bb0" d="M86 38h1.2M85 39h1.2M82 40h1.2M86 40h1.2M81 41h1.2M85 41h1.2M85 42h1.2M84 43h1.2M86 43h1.2M87 43h1.2M88 43h1.2M86 44h1.2M82 45h1.2M83 45h1.2M86 45h1.2M81 47h1.2M82 47h1.2M80 48h1.2M84 48h1.2M85 48h1.2M86 48h1.2M87 48h1.2M88 48h1.2M81 49h1.2M83 49h1.2M79 50h1.2M81 50h1.2M85 50h1.2M86 50h1.2M77 51h1.2M79 51h1.2M83 51h1.2M86 51h1.2M87 51h1.2M91 51h1.2M78 52h1.2M80 52h1.2M81 52h1.2M82 52h1.2M84 52h1.2M79 53h1.2M84 53h1.2M77 54h1.2M79 54h1.2M88 54h1.2M79 55h1.2M81 55h1.2M80 57h1.2M81 57h1.2M87 57h1.2M77 58h1.2M79 58h1.2M82 58h1.2M78 59h1.2M82 59h1.2M83 59h1.2M88 59h1.2M77 60h1.2M80 60h1.2M88 60h1.2M79 61h1.2M86 61h1.2M88 61h1.2M91 61h1.2M88 62h1.2M77 63h1.2M86 63h1.2M74 64h1.2M87 64h1.2M88 65h1.2M73 66h1.2M86 66h1.2M85 67h1.2M74 68h1.2M87 68h1.2M68 69h1.2M88 69h1.2M68 70h1.2M66 71h1.2M67 71h1.2M68 71h1.2M86 71h1.2M88 72h1.2M89 72h1.2M63 73h1.2M63 74h1.2M87 74h1.2M89 74h1.2M62 75h1.2M86 75h1.2M43 76h1.2M47 76h1.2M58 76h1.2M32 77h1.2M42 77h1.2M48 77h1.2M51 77h1.2M58 77h1.2M60 77h1.2M62 77h1.2M87 77h1.2M88 77h1.2M16 78h1.2M31 78h1.2M43 78h1.2M49 78h1.2M58 78h1.2M63 78h1.2M15 79h1.2M16 79h1.2M29 79h1.2M30 79h1.2M54 79h1.2M55 79h1.2M56 79h1.2M61 79h1.2M62 79h1.2M65 79h1.2M78 79h1.2M8 80h1.2M18 80h1.2M19 80h1.2M34 80h1.2M35 80h1.2M56 80h1.2M62 80h1.2M66 80h1.2M77 80h1.2M13 81h1.2"/><path stroke="#2a60d8" d="M81 48h1.2M82 48h1.2M82 55h1.2M83 55h1.2M84 55h1.2M86 55h1.2M85 56h1.2M83 57h1.2M84 57h1.2M84 58h1.2M85 58h1.2M86 58h1.2M86 59h1.2M81 60h1.2M82 60h1.2M85 60h1.2M86 60h1.2M87 60h1.2M84 61h1.2M80 62h1.2M84 62h1.2M82 63h1.2M83 63h1.2M75 64h1.2M76 64h1.2M77 64h1.2M78 64h1.2M79 64h1.2M84 64h1.2M85 64h1.2M86 64h1.2M74 65h1.2M80 65h1.2M83 65h1.2M85 65h1.2M74 66h1.2M81 66h1.2M82 66h1.2M83 66h1.2M84 66h1.2M84 67h1.2M83 68h1.2M72 69h1.2M73 69h1.2M85 69h1.2M87 69h1.2M86 70h1.2M71 71h1.2M84 71h1.2M69 72h1.2M85 72h1.2M85 74h1.2M62 76h1.2M64 78h1.2M79 78h1.2M74 79h1.2"/><path stroke="#35b5d5" d="M82 61h1.2M81 62h1.2M82 62h1.2M76 65h1.2M77 65h1.2M76 66h1.2M77 66h1.2M78 66h1.2M79 66h1.2M76 67h1.2M77 67h1.2M78 67h1.2M79 67h1.2M80 67h1.2M83 67h1.2M76 68h1.2M77 68h1.2M78 68h1.2M79 68h1.2M80 68h1.2M75 69h1.2M78 69h1.2M82 69h1.2M72 70h1.2M73 70h1.2M83 70h1.2M84 72h1.2M84 73h1.2M65 74h1.2M66 74h1.2M84 74h1.2M64 75h1.2M84 75h1.2M63 76h1.2M64 76h1.2M64 77h1.2M79 77h1.2M66 78h1.2M77 78h1.2M68 79h1.2M69 79h1.2M70 79h1.2M71 79h1.2"/><path stroke="#5ac85c" d="M76 69h1.2M77 69h1.2M79 69h1.2M80 69h1.2M74 70h1.2M75 70h1.2M77 70h1.2M82 70h1.2M72 71h1.2M73 71h1.2M82 71h1.2M83 71h1.2M81 72h1.2M82 72h1.2M83 72h1.2M69 73h1.2M81 73h1.2M82 73h1.2M83 73h1.2M81 74h1.2M82 74h1.2M83 74h1.2M65 75h1.2M67 75h1.2M82 75h1.2M83 75h1.2M65 76h1.2M80 76h1.2M66 77h1.2M77 77h1.2M78 77h1.2M67 78h1.2M68 78h1.2M69 78h1.2M70 78h1.2M71 78h1.2M72 78h1.2M73 78h1.2M74 78h1.2M75 78h1.2M76 78h1.2"/><path stroke="#b5d935" d="M76 70h1.2M79 70h1.2M80 70h1.2M81 70h1.2M74 71h1.2M77 71h1.2M78 71h1.2M79 71h1.2M80 71h1.2M81 71h1.2M72 72h1.2M70 73h1.2M80 73h1.2M69 74h1.2M80 74h1.2M66 75h1.2M68 75h1.2M80 75h1.2M66 76h1.2M67 76h1.2M68 76h1.2M78 76h1.2M79 76h1.2M67 77h1.2M68 77h1.2M69 77h1.2M70 77h1.2M71 77h1.2M75 77h1.2M76 77h1.2"/><path stroke="#f2d21e" d="M75 71h1.2M76 71h1.2M73 72h1.2M76 72h1.2M77 72h1.2M78 72h1.2M79 72h1.2M72 73h1.2M79 73h1.2M70 74h1.2M71 74h1.2M69 75h1.2M79 75h1.2M69 76h1.2M70 76h1.2M71 76h1.2M75 76h1.2M76 76h1.2M77 76h1.2M72 77h1.2M73 77h1.2M74 77h1.2"/><path stroke="#f0862a" d="M74 72h1.2M75 72h1.2M76 73h1.2M77 73h1.2M78 73h1.2M72 74h1.2M79 74h1.2M70 75h1.2M71 75h1.2M75 75h1.2M76 75h1.2M77 75h1.2M78 75h1.2M72 76h1.2M73 76h1.2M74 76h1.2"/><path stroke="#e0401a" d="M73 73h1.2M74 73h1.2M75 73h1.2M73 74h1.2M74 74h1.2M75 74h1.2M76 74h1.2M77 74h1.2M78 74h1.2M72 75h1.2M73 75h1.2M74 75h1.2"/></g>
<g transform="translate(76.7 577.6)" stroke-width="1.2"><path stroke="#6b82cf" d="M74 3h1.2M81 12h1.2M75 13h1.2M88 13h1.2M86 14h1.2M73 17h1.2M50 18h1.2M71 18h1.2M77 18h1.2M93 21h1.2M22 22h1.2M90 23h1.2M62 24h1.2M27 26h1.2M33 27h1.2M31 30h1.2M7 31h1.2M61 31h1.2M94 31h1.2M64 32h1.2M69 33h1.2M41 35h1.2M96 36h1.2M23 37h1.2M36 37h1.2M62 38h1.2M40 41h1.2M23 47h1.2M56 47h1.2M89 47h1.2M52 48h1.2M56 49h1.2M63 51h1.2M92 51h1.2M31 52h1.2M60 52h1.2M98 52h1.2M27 53h1.2M39 56h1.2M54 57h1.2M60 57h1.2M11 60h1.2M57 61h1.2M12 63h1.2M53 65h1.2M23 66h1.2M54 68h1.2M90 70h1.2M52 71h1.2M61 72h1.2M56 74h1.2M86 77h1.2M54 83h1.2M57 85h1.2M58 88h1.2M41 90h1.2M16 94h1.2M57 95h1.2M106 95h1.2M54 96h1.2M79 97h1.2M60 98h1.2M83 99h1.2M63 100h1.2"/><path stroke="#1f3bb0" d="M78 20h1.2M80 20h1.2M83 20h1.2M78 21h1.2M81 21h1.2M77 22h1.2M79 22h1.2M82 22h1.2M77 23h1.2M84 23h1.2M77 24h1.2M85 24h1.2M73 25h1.2M80 25h1.2M85 25h1.2M89 25h1.2M71 26h1.2M74 26h1.2M77 26h1.2M85 26h1.2M87 26h1.2M88 26h1.2M90 26h1.2M70 27h1.2M76 27h1.2M78 27h1.2M68 28h1.2M72 28h1.2M76 28h1.2M87 28h1.2M88 28h1.2M70 29h1.2M75 29h1.2M86 29h1.2M74 30h1.2M74 31h1.2M75 31h1.2M85 31h1.2M86 31h1.2M90 31h1.2M92 31h1.2M74 32h1.2M85 32h1.2M89 32h1.2M72 33h1.2M76 33h1.2M88 33h1.2M76 34h1.2M87 34h1.2M71 35h1.2M74 35h1.2M66 36h1.2M68 36h1.2M88 36h1.2M88 37h1.2M69 38h1.2M71 38h1.2M87 38h1.2M92 38h1.2M65 39h1.2M69 39h1.2M70 39h1.2M93 39h1.2M64 41h1.2M67 42h1.2M92 42h1.2M92 43h1.2M68 44h1.2M65 45h1.2M68 45h1.2M83 45h1.2M84 45h1.2M86 45h1.2M68 46h1.2M87 46h1.2M63 47h1.2M65 47h1.2M86 47h1.2M64 48h1.2M65 49h1.2M88 51h1.2M43 52h1.2M66 52h1.2M89 52h1.2M44 53h1.2M65 53h1.2M85 53h1.2M88 53h1.2M90 53h1.2M64 54h1.2M87 54h1.2M88 54h1.2M64 55h1.2M87 55h1.2M65 56h1.2M85 56h1.2M86 56h1.2M62 57h1.2M65 57h1.2M87 57h1.2M64 58h1.2M83 58h1.2M86 59h1.2M88 59h1.2M64 60h1.2M65 60h1.2M85 61h1.2M87 61h1.2M61 63h1.2M84 64h1.2M59 65h1.2M83 65h1.2M60 66h1.2M84 66h1.2M86 66h1.2M61 67h1.2M63 67h1.2M85 67h1.2M87 68h1.2M59 69h1.2M60 69h1.2M64 69h1.2M57 70h1.2M59 70h1.2M64 71h1.2M83 71h1.2M84 73h1.2M31 75h1.2M83 75h1.2M31 76h1.2M59 76h1.2M60 76h1.2M84 76h1.2M59 78h1.2M60 78h1.2M82 78h1.2M61 79h1.2M62 80h1.2M60 81h1.2M63 81h1.2M82 82h1.2M84 82h1.2M64 83h1.2M66 83h1.2M85 83h1.2M63 84h1.2M83 84h1.2M84 84h1.2M79 85h1.2M60 86h1.2M62 86h1.2M80 86h1.2M61 87h1.2M78 87h1.2M67 88h1.2M61 89h1.2M79 89h1.2M64 90h1.2M78 90h1.2M74 91h1.2M76 91h1.2M65 93h1.2M76 93h1.2M62 94h1.2M64 94h1.2M67 94h1.2M76 94h1.2M64 95h1.2M74 95h1.2M77 95h1.2M66 96h1.2M66 97h1.2M70 97h1.2M73 97h1.2M67 98h1.2M69 98h1.2M72 98h1.2M74 98h1.2M67 99h1.2M69 99h1.2M76 99h1.2M73 100h1.2M76 100h1.2M70 101h1.2M70 102h1.2"/><path stroke="#2a60d8" d="M84 24h1.2M82 25h1.2M83 25h1.2M83 26h1.2M82 27h1.2M87 27h1.2M80 28h1.2M83 28h1.2M78 29h1.2M79 29h1.2M80 30h1.2M89 31h1.2M77 32h1.2M81 32h1.2M72 35h1.2M74 36h1.2M74 37h1.2M85 37h1.2M83 38h1.2M72 39h1.2M84 39h1.2M85 39h1.2M86 39h1.2M67 40h1.2M68 40h1.2M82 40h1.2M83 40h1.2M85 40h1.2M68 41h1.2M71 41h1.2M84 41h1.2M85 41h1.2M71 42h1.2M84 42h1.2M85 42h1.2M68 43h1.2M69 43h1.2M70 43h1.2M83 43h1.2M84 43h1.2M70 44h1.2M82 44h1.2M71 46h1.2M69 47h1.2M83 48h1.2M85 48h1.2M85 49h1.2M85 50h1.2M66 53h1.2M84 54h1.2M83 55h1.2M84 55h1.2M67 56h1.2M67 57h1.2M81 58h1.2M66 59h1.2M82 59h1.2M84 59h1.2M85 59h1.2M84 60h1.2M64 61h1.2M83 62h1.2M84 62h1.2M82 66h1.2M65 69h1.2M81 69h1.2M68 70h1.2M64 73h1.2M79 73h1.2M82 73h1.2M63 74h1.2M82 74h1.2M83 74h1.2M62 75h1.2M63 75h1.2M65 75h1.2M74 75h1.2M79 75h1.2M62 76h1.2M64 76h1.2M63 77h1.2M80 77h1.2M81 77h1.2M63 79h1.2M79 80h1.2M79 81h1.2M61 82h1.2M63 82h1.2M79 82h1.2M62 83h1.2M76 83h1.2M77 83h1.2M66 84h1.2M78 84h1.2M63 85h1.2M64 86h1.2M66 86h1.2M69 86h1.2M66 87h1.2M70 87h1.2M65 88h1.2M69 88h1.2M70 88h1.2M71 88h1.2M77 88h1.2M64 89h1.2M70 89h1.2M72 89h1.2M73 89h1.2M75 89h1.2M76 89h1.2M65 90h1.2M70 90h1.2M73 90h1.2M65 91h1.2M66 91h1.2M70 91h1.2M70 92h1.2M71 92h1.2M66 93h1.2M67 93h1.2M71 93h1.2M70 94h1.2M73 94h1.2M69 95h1.2M70 95h1.2M72 95h1.2M67 96h1.2M68 96h1.2"/><path stroke="#35b5d5" d="M81 28h1.2M80 29h1.2M83 29h1.2M77 31h1.2M78 31h1.2M83 31h1.2M78 32h1.2M79 33h1.2M80 33h1.2M81 33h1.2M82 33h1.2M83 33h1.2M78 34h1.2M84 34h1.2M77 35h1.2M75 36h1.2M85 36h1.2M75 37h1.2M84 37h1.2M81 38h1.2M73 39h1.2M74 39h1.2M79 39h1.2M80 39h1.2M81 39h1.2M80 40h1.2M72 41h1.2M72 43h1.2M71 44h1.2M72 44h1.2M74 44h1.2M71 45h1.2M72 45h1.2M78 45h1.2M73 46h1.2M79 46h1.2M71 47h1.2M72 47h1.2M69 48h1.2M70 48h1.2M71 48h1.2M82 48h1.2M68 49h1.2M83 49h1.2M84 49h1.2M68 50h1.2M70 50h1.2M68 51h1.2M70 51h1.2M81 51h1.2M68 52h1.2M69 52h1.2M83 52h1.2M84 52h1.2M67 53h1.2M70 53h1.2M83 53h1.2M67 54h1.2M69 54h1.2M70 54h1.2M67 55h1.2M68 55h1.2M70 55h1.2M68 56h1.2M82 56h1.2M68 57h1.2M70 57h1.2M67 58h1.2M68 58h1.2M69 58h1.2M70 58h1.2M67 59h1.2M80 59h1.2M82 60h1.2M83 60h1.2M64 62h1.2M65 62h1.2M82 62h1.2M63 63h1.2M81 63h1.2M63 64h1.2M69 64h1.2M81 64h1.2M63 65h1.2M81 66h1.2M66 67h1.2M68 69h1.2M70 69h1.2M70 70h1.2M81 70h1.2M66 71h1.2M78 71h1.2M81 71h1.2M65 72h1.2M79 72h1.2M80 72h1.2M81 72h1.2M65 73h1.2M83 73h1.2M66 74h1.2M77 74h1.2M66 75h1.2M67 75h1.2M73 75h1.2M65 76h1.2M72 76h1.2M79 76h1.2M65 77h1.2M67 77h1.2M74 77h1.2M76 77h1.2M64 78h1.2M65 78h1.2M66 78h1.2M67 78h1.2M68 78h1.2M72 78h1.2M73 78h1.2M74 78h1.2M77 78h1.2M78 78h1.2M64 79h1.2M68 79h1.2M76 79h1.2M77 79h1.2M65 80h1.2M72 80h1.2M74 80h1.2M78 80h1.2M66 81h1.2M76 81h1.2M77 81h1.2M78 81h1.2M74 82h1.2M75 82h1.2M78 82h1.2M75 84h1.2M67 85h1.2M69 85h1.2M68 86h1.2M71 86h1.2M72 86h1.2M73 86h1.2M64 87h1.2M71 87h1.2M72 87h1.2M73 87h1.2M75 87h1.2M75 88h1.2M76 88h1.2M68 91h1.2M69 91h1.2M67 92h1.2M72 94h1.2"/><path stroke="#5ac85c" d="M82 29h1.2M82 30h1.2M83 30h1.2M79 34h1.2M81 34h1.2M82 34h1.2M78 35h1.2M79 35h1.2M81 35h1.2M84 35h1.2M77 36h1.2M81 36h1.2M84 36h1.2M76 37h1.2M80 37h1.2M75 38h1.2M79 38h1.2M80 38h1.2M77 39h1.2M74 40h1.2M78 41h1.2M79 41h1.2M81 41h1.2M73 42h1.2M77 42h1.2M82 42h1.2M73 43h1.2M75 43h1.2M76 43h1.2M73 44h1.2M78 44h1.2M81 44h1.2M73 45h1.2M74 45h1.2M80 45h1.2M81 45h1.2M81 46h1.2M74 47h1.2M79 47h1.2M73 48h1.2M81 48h1.2M69 49h1.2M82 49h1.2M69 50h1.2M81 50h1.2M82 50h1.2M71 51h1.2M79 51h1.2M80 51h1.2M68 53h1.2M69 53h1.2M71 53h1.2M68 54h1.2M72 54h1.2M78 54h1.2M71 55h1.2M72 55h1.2M78 55h1.2M71 57h1.2M80 58h1.2M69 59h1.2M70 59h1.2M71 59h1.2M78 59h1.2M68 60h1.2M70 60h1.2M77 60h1.2M80 60h1.2M68 61h1.2M70 61h1.2M82 61h1.2M67 62h1.2M68 62h1.2M69 62h1.2M71 62h1.2M64 63h1.2M80 63h1.2M67 64h1.2M68 64h1.2M64 65h1.2M66 65h1.2M67 65h1.2M69 65h1.2M67 66h1.2M68 66h1.2M67 67h1.2M68 67h1.2M66 68h1.2M67 68h1.2M68 68h1.2M69 68h1.2M70 68h1.2M80 69h1.2M71 70h1.2M79 70h1.2M80 70h1.2M77 71h1.2M80 71h1.2M66 72h1.2M69 72h1.2M74 73h1.2M76 73h1.2M67 74h1.2M72 74h1.2M73 74h1.2M76 74h1.2M72 75h1.2M76 75h1.2M77 75h1.2M68 76h1.2M76 76h1.2M78 76h1.2M68 77h1.2M69 77h1.2M77 77h1.2M78 77h1.2M70 78h1.2M71 78h1.2M65 79h1.2M70 79h1.2M71 79h1.2M66 80h1.2M67 80h1.2M69 80h1.2M71 80h1.2M75 80h1.2M76 80h1.2M68 81h1.2M69 81h1.2M75 81h1.2M69 82h1.2M73 82h1.2M68 83h1.2M69 83h1.2M68 84h1.2M69 84h1.2M70 84h1.2M72 84h1.2M73 84h1.2M74 84h1.2M71 85h1.2M72 85h1.2M75 85h1.2M75 86h1.2"/><path stroke="#b5d935" d="M83 34h1.2M82 35h1.2M78 36h1.2M79 36h1.2M82 36h1.2M83 36h1.2M77 37h1.2M78 37h1.2M79 37h1.2M76 38h1.2M77 38h1.2M76 39h1.2M75 40h1.2M76 40h1.2M77 40h1.2M77 41h1.2M74 42h1.2M75 42h1.2M79 42h1.2M81 42h1.2M79 43h1.2M80 43h1.2M76 44h1.2M76 45h1.2M74 48h1.2M75 48h1.2M79 48h1.2M72 49h1.2M73 49h1.2M76 49h1.2M81 49h1.2M75 50h1.2M76 50h1.2M77 50h1.2M78 50h1.2M79 50h1.2M80 50h1.2M77 51h1.2M78 51h1.2M72 52h1.2M78 52h1.2M79 52h1.2M72 53h1.2M73 53h1.2M78 53h1.2M81 53h1.2M73 54h1.2M74 54h1.2M77 54h1.2M79 54h1.2M73 55h1.2M75 55h1.2M79 55h1.2M81 55h1.2M71 56h1.2M72 56h1.2M78 56h1.2M81 56h1.2M75 57h1.2M76 57h1.2M77 57h1.2M78 57h1.2M79 57h1.2M80 57h1.2M75 58h1.2M76 58h1.2M77 58h1.2M78 58h1.2M75 59h1.2M76 59h1.2M71 60h1.2M76 60h1.2M71 61h1.2M75 61h1.2M76 61h1.2M80 61h1.2M81 61h1.2M80 62h1.2M65 63h1.2M66 63h1.2M67 63h1.2M71 63h1.2M78 63h1.2M64 64h1.2M65 64h1.2M66 64h1.2M78 64h1.2M80 64h1.2M70 65h1.2M78 65h1.2M79 65h1.2M80 65h1.2M69 66h1.2M69 67h1.2M70 67h1.2M71 67h1.2M75 67h1.2M72 68h1.2M76 68h1.2M79 68h1.2M72 69h1.2M79 69h1.2M72 70h1.2M73 70h1.2M71 71h1.2M72 71h1.2M73 71h1.2M74 71h1.2M67 72h1.2M70 72h1.2M68 73h1.2M69 73h1.2M72 73h1.2M75 73h1.2M68 74h1.2M69 76h1.2M71 76h1.2M77 76h1.2M70 77h1.2M71 77h1.2M70 80h1.2M70 81h1.2M71 81h1.2M71 82h1.2M72 82h1.2M71 83h1.2M72 83h1.2M71 84h1.2"/><path stroke="#f2d21e" d="M83 35h1.2M75 41h1.2M76 41h1.2M80 42h1.2M76 46h1.2M75 47h1.2M76 48h1.2M77 48h1.2M78 48h1.2M77 49h1.2M78 49h1.2M79 49h1.2M80 49h1.2M72 50h1.2M74 50h1.2M72 51h1.2M73 51h1.2M74 51h1.2M75 51h1.2M76 51h1.2M73 52h1.2M77 52h1.2M74 53h1.2M77 53h1.2M79 53h1.2M80 53h1.2M76 54h1.2M81 54h1.2M74 55h1.2M80 55h1.2M73 56h1.2M74 56h1.2M75 56h1.2M80 56h1.2M74 57h1.2M72 58h1.2M72 60h1.2M74 60h1.2M75 60h1.2M72 61h1.2M78 61h1.2M79 61h1.2M72 62h1.2M75 62h1.2M77 62h1.2M79 62h1.2M76 63h1.2M77 63h1.2M71 64h1.2M76 64h1.2M71 65h1.2M77 65h1.2M70 66h1.2M71 66h1.2M75 66h1.2M76 66h1.2M77 66h1.2M79 66h1.2M73 67h1.2M77 67h1.2M79 67h1.2M78 68h1.2M73 69h1.2M77 69h1.2M78 69h1.2M75 70h1.2M76 70h1.2M77 70h1.2M75 71h1.2M76 71h1.2M71 72h1.2M72 72h1.2M75 72h1.2M70 73h1.2M69 74h1.2M71 74h1.2M71 75h1.2M70 76h1.2"/><path stroke="#f0862a" d="M76 47h1.2M73 50h1.2M75 52h1.2M76 52h1.2M75 53h1.2M76 53h1.2M80 54h1.2M73 57h1.2M74 58h1.2M74 59h1.2M73 61h1.2M73 62h1.2M78 62h1.2M72 63h1.2M75 63h1.2M75 64h1.2M75 65h1.2M76 65h1.2M73 66h1.2M74 66h1.2M74 67h1.2M78 67h1.2M73 68h1.2M75 69h1.2M76 69h1.2M70 74h1.2M69 75h1.2M70 75h1.2"/><path stroke="#e0401a" d="M73 58h1.2M73 59h1.2M73 60h1.2M73 63h1.2M74 63h1.2M72 64h1.2M73 64h1.2M74 64h1.2M72 65h1.2M73 65h1.2M74 65h1.2M74 68h1.2M74 69h1.2"/></g>
<g transform="translate(217.3 577.6)" stroke-width="1.2"><path stroke="#6b82cf" d="M48 5h1.2M68 7h1.2M85 11h1.2M84 12h1.2M93 13h1.2M43 14h1.2M88 14h1.2M31 15h1.2M63 15h1.2M94 21h1.2M41 22h1.2M38 25h1.2M50 25h1.2M39 26h1.2M35 27h1.2M34 30h1.2M44 30h1.2M56 32h1.2M69 33h1.2M23 34h1.2M93 36h1.2M94 37h1.2M66 39h1.2M18 40h1.2M89 40h1.2M41 42h1.2M63 43h1.2M89 43h1.2M63 45h1.2M45 47h1.2M105 47h1.2M24 48h1.2M32 49h1.2M63 52h1.2M39 54h1.2M37 56h1.2M79 56h1.2M83 57h1.2M88 57h1.2M58 58h1.2M63 59h1.2M55 60h1.2M34 62h1.2M38 62h1.2M48 62h1.2M50 62h1.2M23 63h1.2M39 63h1.2M80 65h1.2M90 65h1.2M56 68h1.2M85 68h1.2M32 70h1.2M84 70h1.2M49 73h1.2M82 74h1.2M37 76h1.2M32 78h1.2M77 78h1.2M52 80h1.2M56 81h1.2M55 83h1.2M53 84h1.2M49 85h1.2M56 86h1.2M54 87h1.2M52 88h1.2M64 90h1.2M49 91h1.2M57 95h1.2M78 95h1.2M50 97h1.2M59 97h1.2M68 98h1.2M63 99h1.2M58 101h1.2M73 101h1.2M61 102h1.2M67 103h1.2M72 103h1.2M58 104h1.2"/><path stroke="#1f3bb0" d="M81 16h1.2M81 17h1.2M88 17h1.2M89 17h1.2M85 18h1.2M86 18h1.2M79 19h1.2M82 19h1.2M88 19h1.2M91 19h1.2M83 20h1.2M89 20h1.2M92 20h1.2M78 21h1.2M82 21h1.2M91 22h1.2M92 22h1.2M93 23h1.2M76 24h1.2M91 28h1.2M93 29h1.2M92 30h1.2M91 31h1.2M92 32h1.2M72 33h1.2M93 33h1.2M94 33h1.2M73 35h1.2M89 35h1.2M90 36h1.2M73 37h1.2M70 39h1.2M86 39h1.2M71 40h1.2M87 40h1.2M68 41h1.2M67 42h1.2M70 43h1.2M73 43h1.2M71 44h1.2M87 44h1.2M69 45h1.2M87 45h1.2M89 45h1.2M67 46h1.2M70 46h1.2M74 46h1.2M85 46h1.2M88 46h1.2M66 47h1.2M69 47h1.2M76 47h1.2M84 47h1.2M85 47h1.2M89 47h1.2M63 48h1.2M64 48h1.2M66 48h1.2M67 48h1.2M73 48h1.2M84 48h1.2M64 49h1.2M66 49h1.2M67 49h1.2M76 49h1.2M83 49h1.2M69 50h1.2M71 50h1.2M74 50h1.2M86 50h1.2M67 51h1.2M68 51h1.2M73 51h1.2M82 51h1.2M85 51h1.2M68 52h1.2M77 52h1.2M79 52h1.2M81 52h1.2M84 52h1.2M67 53h1.2M71 53h1.2M73 53h1.2M75 53h1.2M76 53h1.2M81 53h1.2M82 53h1.2M66 54h1.2M70 54h1.2M73 54h1.2M80 54h1.2M82 54h1.2M65 55h1.2M66 55h1.2M68 55h1.2M72 55h1.2M82 55h1.2M65 56h1.2M72 56h1.2M60 57h1.2M61 57h1.2M62 57h1.2M64 57h1.2M66 57h1.2M74 57h1.2M77 57h1.2M71 58h1.2M73 58h1.2M76 58h1.2M78 58h1.2M74 59h1.2M81 59h1.2M76 60h1.2M77 60h1.2M80 60h1.2M64 61h1.2M75 61h1.2M78 61h1.2M76 62h1.2M57 63h1.2M59 63h1.2M60 63h1.2M62 63h1.2M58 64h1.2M63 64h1.2M65 64h1.2M62 66h1.2M74 66h1.2M75 66h1.2M57 67h1.2M61 67h1.2M64 67h1.2M59 68h1.2M65 68h1.2M60 69h1.2M62 69h1.2M76 69h1.2M77 69h1.2M78 69h1.2M80 69h1.2M63 70h1.2M77 70h1.2M59 71h1.2M61 71h1.2M62 71h1.2M60 72h1.2M61 72h1.2M76 72h1.2M60 74h1.2M74 74h1.2M77 74h1.2M62 75h1.2M71 75h1.2M73 75h1.2M74 75h1.2M76 75h1.2M79 75h1.2M80 75h1.2M57 76h1.2M60 76h1.2M63 76h1.2M80 76h1.2M82 76h1.2M58 77h1.2M60 77h1.2M73 77h1.2M60 78h1.2M62 78h1.2M60 79h1.2M61 80h1.2M75 80h1.2M62 82h1.2M76 82h1.2M58 83h1.2M70 83h1.2M73 83h1.2M82 84h1.2M83 84h1.2M75 85h1.2M76 85h1.2M59 86h1.2M69 86h1.2M74 86h1.2M61 87h1.2M70 87h1.2M71 87h1.2M73 87h1.2M62 88h1.2M73 88h1.2M57 89h1.2M58 89h1.2M59 89h1.2M60 89h1.2M61 89h1.2M67 89h1.2M68 89h1.2M73 89h1.2M74 89h1.2M59 91h1.2M60 91h1.2M69 91h1.2M70 91h1.2M73 91h1.2M74 91h1.2M61 92h1.2M63 92h1.2M58 93h1.2M61 93h1.2M62 93h1.2M64 93h1.2M65 93h1.2M67 94h1.2M71 94h1.2M62 95h1.2M63 95h1.2M65 95h1.2M67 95h1.2M70 95h1.2M64 96h1.2M67 96h1.2M70 96h1.2M62 97h1.2M66 98h1.2M66 99h1.2"/><path stroke="#2a60d8" d="M83 21h1.2M79 22h1.2M80 22h1.2M81 22h1.2M79 23h1.2M89 23h1.2M89 24h1.2M77 25h1.2M90 25h1.2M76 27h1.2M75 28h1.2M91 29h1.2M74 30h1.2M73 32h1.2M90 32h1.2M89 33h1.2M74 36h1.2M88 37h1.2M71 39h1.2M72 39h1.2M73 40h1.2M87 41h1.2M74 42h1.2M72 45h1.2M75 45h1.2M72 46h1.2M73 46h1.2M75 46h1.2M77 46h1.2M72 47h1.2M79 47h1.2M70 48h1.2M71 48h1.2M77 48h1.2M83 48h1.2M71 49h1.2M72 49h1.2M73 49h1.2M77 49h1.2M80 49h1.2M82 49h1.2M80 50h1.2M81 50h1.2M80 51h1.2M72 54h1.2M75 54h1.2M76 54h1.2M76 55h1.2M68 57h1.2M69 57h1.2M75 57h1.2M68 58h1.2M69 58h1.2M77 58h1.2M66 59h1.2M67 59h1.2M70 59h1.2M71 59h1.2M66 60h1.2M66 61h1.2M70 61h1.2M72 61h1.2M73 61h1.2M67 62h1.2M68 62h1.2M72 62h1.2M73 62h1.2M69 63h1.2M71 63h1.2M74 63h1.2M77 63h1.2M66 64h1.2M74 64h1.2M76 64h1.2M77 64h1.2M65 65h1.2M72 65h1.2M73 65h1.2M77 65h1.2M66 66h1.2M72 66h1.2M76 66h1.2M77 66h1.2M69 67h1.2M74 67h1.2M60 68h1.2M61 68h1.2M63 68h1.2M67 68h1.2M68 68h1.2M73 68h1.2M74 68h1.2M79 68h1.2M65 69h1.2M64 70h1.2M65 70h1.2M66 70h1.2M69 70h1.2M74 70h1.2M65 71h1.2M74 71h1.2M59 72h1.2M64 72h1.2M58 73h1.2M71 73h1.2M72 73h1.2M57 74h1.2M63 74h1.2M64 74h1.2M72 74h1.2M57 75h1.2M58 75h1.2M65 75h1.2M70 76h1.2M64 77h1.2M63 78h1.2M65 78h1.2M74 78h1.2M74 79h1.2M58 80h1.2M60 80h1.2M64 80h1.2M72 80h1.2M73 80h1.2M74 80h1.2M64 81h1.2M66 81h1.2M68 81h1.2M69 81h1.2M70 81h1.2M58 82h1.2M60 82h1.2M70 82h1.2M74 82h1.2M62 83h1.2M63 83h1.2M64 83h1.2M68 83h1.2M74 83h1.2M59 84h1.2M62 84h1.2M68 84h1.2M71 84h1.2M62 85h1.2M63 85h1.2M71 85h1.2M63 86h1.2M67 86h1.2M68 86h1.2M64 87h1.2M65 87h1.2M63 88h1.2M67 88h1.2M68 88h1.2"/><path stroke="#35b5d5" d="M87 21h1.2M84 22h1.2M85 22h1.2M86 22h1.2M87 22h1.2M86 23h1.2M79 24h1.2M80 24h1.2M79 25h1.2M87 25h1.2M89 25h1.2M89 26h1.2M77 27h1.2M76 28h1.2M75 29h1.2M90 29h1.2M75 30h1.2M76 30h1.2M89 30h1.2M75 31h1.2M76 31h1.2M89 31h1.2M74 32h1.2M88 32h1.2M89 32h1.2M74 33h1.2M87 34h1.2M88 36h1.2M87 37h1.2M75 38h1.2M73 39h1.2M74 39h1.2M74 40h1.2M76 40h1.2M76 41h1.2M86 41h1.2M75 42h1.2M86 42h1.2M75 43h1.2M86 43h1.2M75 44h1.2M82 44h1.2M83 44h1.2M77 45h1.2M78 45h1.2M82 45h1.2M83 45h1.2M82 46h1.2M80 47h1.2M82 47h1.2M80 48h1.2M81 48h1.2M81 49h1.2M68 59h1.2M68 60h1.2M69 60h1.2M70 60h1.2M67 61h1.2M68 61h1.2M67 63h1.2M68 63h1.2M72 63h1.2M73 63h1.2M67 64h1.2M69 64h1.2M72 64h1.2M73 64h1.2M67 66h1.2M69 66h1.2M68 67h1.2M70 67h1.2M71 67h1.2M70 68h1.2M71 68h1.2M72 68h1.2M67 69h1.2M71 69h1.2M72 69h1.2M67 70h1.2M70 70h1.2M71 70h1.2M73 70h1.2M67 71h1.2M68 71h1.2M69 71h1.2M71 71h1.2M72 71h1.2M73 71h1.2M65 72h1.2M66 72h1.2M68 72h1.2M69 72h1.2M70 72h1.2M71 72h1.2M66 73h1.2M67 73h1.2M69 73h1.2M68 74h1.2M69 74h1.2M68 75h1.2M69 75h1.2M65 76h1.2M66 76h1.2M66 77h1.2M64 78h1.2M66 78h1.2M70 78h1.2M67 79h1.2M71 79h1.2M59 80h1.2M65 80h1.2M67 80h1.2M70 80h1.2M71 80h1.2M59 81h1.2M67 81h1.2M59 82h1.2M67 82h1.2M60 83h1.2M67 83h1.2M60 84h1.2M61 84h1.2M65 84h1.2M66 84h1.2M65 85h1.2M66 85h1.2M67 87h1.2"/><path stroke="#5ac85c" d="M81 23h1.2M82 23h1.2M83 23h1.2M84 23h1.2M81 24h1.2M85 24h1.2M86 25h1.2M78 26h1.2M79 26h1.2M88 26h1.2M78 27h1.2M89 27h1.2M77 28h1.2M89 28h1.2M76 29h1.2M77 29h1.2M78 30h1.2M77 31h1.2M88 31h1.2M77 32h1.2M86 32h1.2M75 33h1.2M86 33h1.2M75 34h1.2M75 35h1.2M87 35h1.2M75 36h1.2M87 36h1.2M85 37h1.2M86 37h1.2M76 38h1.2M76 39h1.2M84 39h1.2M77 40h1.2M84 40h1.2M77 41h1.2M76 42h1.2M77 42h1.2M78 42h1.2M84 42h1.2M85 42h1.2M76 43h1.2M77 43h1.2M78 43h1.2M79 43h1.2M80 43h1.2M82 43h1.2M84 43h1.2M85 43h1.2M76 44h1.2M77 44h1.2M78 44h1.2M79 44h1.2M81 44h1.2M84 44h1.2M85 44h1.2M79 45h1.2M80 45h1.2M81 45h1.2M80 46h1.2M81 46h1.2M81 47h1.2M68 64h1.2M68 65h1.2M69 65h1.2M72 70h1.2M67 76h1.2M69 76h1.2M67 77h1.2M68 77h1.2M69 77h1.2M68 78h1.2M69 78h1.2M70 79h1.2"/><path stroke="#b5d935" d="M82 24h1.2M83 24h1.2M82 25h1.2M83 25h1.2M84 25h1.2M85 25h1.2M81 26h1.2M82 26h1.2M83 26h1.2M84 26h1.2M85 26h1.2M86 26h1.2M87 26h1.2M79 27h1.2M82 27h1.2M83 27h1.2M84 27h1.2M87 27h1.2M88 27h1.2M79 28h1.2M87 28h1.2M88 28h1.2M87 29h1.2M88 29h1.2M87 30h1.2M88 30h1.2M78 31h1.2M84 31h1.2M85 31h1.2M86 31h1.2M87 31h1.2M84 32h1.2M85 32h1.2M76 33h1.2M77 33h1.2M76 34h1.2M76 35h1.2M77 35h1.2M76 36h1.2M86 36h1.2M77 37h1.2M84 37h1.2M77 38h1.2M77 39h1.2M83 39h1.2M78 40h1.2M83 40h1.2M80 41h1.2M84 41h1.2M80 42h1.2M82 42h1.2M83 42h1.2M81 43h1.2"/><path stroke="#f2d21e" d="M80 27h1.2M81 27h1.2M85 27h1.2M86 27h1.2M84 28h1.2M85 28h1.2M86 28h1.2M84 29h1.2M86 29h1.2M84 30h1.2M85 30h1.2M86 30h1.2M83 31h1.2M78 32h1.2M82 32h1.2M78 33h1.2M82 33h1.2M83 33h1.2M84 33h1.2M77 34h1.2M78 34h1.2M79 34h1.2M80 34h1.2M81 34h1.2M85 34h1.2M79 35h1.2M82 35h1.2M85 35h1.2M86 35h1.2M78 36h1.2M84 36h1.2M78 37h1.2M81 37h1.2M83 37h1.2M78 38h1.2M80 38h1.2M81 38h1.2M82 38h1.2M83 38h1.2M78 39h1.2M80 39h1.2M82 39h1.2M79 40h1.2M80 40h1.2M81 40h1.2M82 40h1.2M81 41h1.2M82 41h1.2M83 41h1.2M81 42h1.2"/><path stroke="#f0862a" d="M82 28h1.2M83 29h1.2M85 29h1.2M79 30h1.2M83 30h1.2M79 31h1.2M79 32h1.2M81 32h1.2M79 33h1.2M80 33h1.2M81 33h1.2M82 34h1.2M83 34h1.2M84 34h1.2M83 35h1.2M84 35h1.2M81 36h1.2M82 36h1.2M83 36h1.2M80 37h1.2M82 37h1.2M79 38h1.2M79 39h1.2"/><path stroke="#e0401a" d="M80 28h1.2M81 28h1.2M80 29h1.2M81 29h1.2M82 29h1.2M80 30h1.2M81 30h1.2M82 30h1.2M80 31h1.2M81 31h1.2M82 31h1.2M80 32h1.2M79 36h1.2M80 36h1.2M79 37h1.2"/></g>
<g transform="translate(361.7 577.6)" stroke-width="1.2"><path stroke="#6b82cf" d="M54 5h1.2M79 5h1.2M73 8h1.2M12 12h1.2M81 13h1.2M72 15h1.2M81 16h1.2M72 17h1.2M89 17h1.2M41 18h1.2M88 18h1.2M46 19h1.2M64 19h1.2M28 24h1.2M71 26h1.2M92 28h1.2M14 29h1.2M71 29h1.2M68 32h1.2M18 33h1.2M1 35h1.2M21 35h1.2M55 37h1.2M66 39h1.2M31 43h1.2M62 43h1.2M40 44h1.2M94 46h1.2M89 48h1.2M25 49h1.2M90 50h1.2M51 52h1.2M54 53h1.2M86 54h1.2M33 55h1.2M62 55h1.2M33 56h1.2M86 56h1.2M62 57h1.2M45 60h1.2M59 60h1.2M84 61h1.2M57 62h1.2M82 63h1.2M83 64h1.2M35 65h1.2M55 65h1.2M57 65h1.2M59 66h1.2M84 66h1.2M80 67h1.2M84 68h1.2M26 69h1.2M41 70h1.2M11 71h1.2M58 72h1.2M78 72h1.2M54 74h1.2M56 75h1.2M80 75h1.2M54 76h1.2M79 76h1.2M85 77h1.2M32 78h1.2M81 78h1.2M27 81h1.2M45 81h1.2M76 81h1.2M42 82h1.2M54 82h1.2M31 83h1.2M57 83h1.2M48 84h1.2M77 85h1.2M56 87h1.2M76 87h1.2M57 89h1.2M74 90h1.2M80 90h1.2M71 91h1.2M79 91h1.2M54 94h1.2M64 94h1.2M73 95h1.2M37 96h1.2M52 96h1.2M36 97h1.2M61 98h1.2M65 99h1.2M72 99h1.2M64 101h1.2M73 102h1.2M58 104h1.2"/><path stroke="#1f3bb0" d="M80 10h1.2M80 11h1.2M82 11h1.2M83 14h1.2M83 15h1.2M85 16h1.2M84 17h1.2M75 18h1.2M76 18h1.2M81 18h1.2M84 18h1.2M85 18h1.2M75 19h1.2M79 19h1.2M80 19h1.2M81 19h1.2M85 19h1.2M74 20h1.2M81 20h1.2M88 20h1.2M74 21h1.2M76 21h1.2M79 21h1.2M83 21h1.2M85 21h1.2M88 21h1.2M89 21h1.2M76 22h1.2M78 22h1.2M88 22h1.2M90 22h1.2M77 23h1.2M87 23h1.2M88 25h1.2M89 25h1.2M74 27h1.2M73 28h1.2M74 28h1.2M71 31h1.2M73 31h1.2M89 31h1.2M71 32h1.2M89 32h1.2M90 32h1.2M91 32h1.2M72 33h1.2M87 33h1.2M88 33h1.2M89 33h1.2M72 34h1.2M89 34h1.2M71 35h1.2M72 36h1.2M70 37h1.2M71 37h1.2M87 38h1.2M88 38h1.2M89 38h1.2M89 39h1.2M70 40h1.2M87 40h1.2M64 41h1.2M69 41h1.2M88 41h1.2M89 41h1.2M64 42h1.2M71 42h1.2M86 42h1.2M67 43h1.2M70 43h1.2M85 43h1.2M67 44h1.2M68 44h1.2M70 44h1.2M86 44h1.2M70 45h1.2M86 45h1.2M88 45h1.2M89 45h1.2M65 46h1.2M67 46h1.2M68 46h1.2M70 46h1.2M86 46h1.2M65 47h1.2M67 47h1.2M87 47h1.2M67 48h1.2M69 48h1.2M85 48h1.2M67 49h1.2M86 50h1.2M68 51h1.2M83 51h1.2M84 51h1.2M87 51h1.2M67 52h1.2M69 52h1.2M71 52h1.2M84 52h1.2M60 53h1.2M61 53h1.2M67 53h1.2M70 53h1.2M84 53h1.2M65 54h1.2M66 54h1.2M68 54h1.2M69 54h1.2M70 54h1.2M71 54h1.2M76 54h1.2M82 54h1.2M83 54h1.2M77 55h1.2M83 55h1.2M66 56h1.2M78 56h1.2M79 56h1.2M80 56h1.2M64 57h1.2M65 57h1.2M66 57h1.2M67 57h1.2M68 57h1.2M69 57h1.2M81 57h1.2M83 57h1.2M64 58h1.2M79 58h1.2M61 59h1.2M65 59h1.2M76 59h1.2M77 59h1.2M80 59h1.2M81 59h1.2M61 60h1.2M62 60h1.2M63 60h1.2M68 60h1.2M82 60h1.2M61 61h1.2M68 61h1.2M60 62h1.2M61 62h1.2M62 63h1.2M78 63h1.2M78 64h1.2M79 64h1.2M80 64h1.2M71 65h1.2M77 65h1.2M78 65h1.2M80 65h1.2M78 66h1.2M77 67h1.2M56 68h1.2M60 68h1.2M61 68h1.2M67 68h1.2M76 68h1.2M78 68h1.2M56 69h1.2M59 69h1.2M64 69h1.2M65 69h1.2M66 69h1.2M76 69h1.2M61 70h1.2M75 70h1.2M82 70h1.2M60 71h1.2M63 71h1.2M81 71h1.2M62 72h1.2M61 73h1.2M61 74h1.2M63 74h1.2M70 74h1.2M71 74h1.2M76 74h1.2M58 75h1.2M61 75h1.2M77 75h1.2M59 76h1.2M61 76h1.2M71 76h1.2M76 76h1.2M77 76h1.2M59 77h1.2M60 77h1.2M61 77h1.2M63 77h1.2M64 77h1.2M74 77h1.2M58 78h1.2M62 78h1.2M71 78h1.2M73 78h1.2M60 79h1.2M61 79h1.2M77 79h1.2M62 80h1.2M71 80h1.2M59 81h1.2M62 81h1.2M73 81h1.2M55 82h1.2M59 82h1.2M61 82h1.2M68 83h1.2M74 83h1.2M75 83h1.2M59 84h1.2M60 84h1.2M61 84h1.2M75 84h1.2M60 85h1.2M68 85h1.2M71 85h1.2M73 85h1.2M74 85h1.2M59 86h1.2M61 86h1.2M73 86h1.2M58 87h1.2M62 87h1.2M67 87h1.2M69 87h1.2M71 87h1.2M72 87h1.2M74 87h1.2M63 88h1.2M70 88h1.2M62 89h1.2M63 89h1.2M65 89h1.2M71 89h1.2M63 90h1.2M64 90h1.2M70 90h1.2M67 91h1.2M57 92h1.2M66 92h1.2M67 92h1.2M63 93h1.2M62 94h1.2M67 94h1.2M60 95h1.2M61 95h1.2M67 95h1.2M69 95h1.2M61 96h1.2M66 96h1.2M70 96h1.2M66 97h1.2M70 97h1.2M66 98h1.2M57 100h1.2M58 100h1.2M59 100h1.2M58 101h1.2"/><path stroke="#2a60d8" d="M80 21h1.2M81 21h1.2M82 21h1.2M80 22h1.2M81 22h1.2M83 22h1.2M84 22h1.2M85 22h1.2M86 23h1.2M77 24h1.2M79 24h1.2M75 25h1.2M77 25h1.2M86 25h1.2M76 27h1.2M75 28h1.2M88 28h1.2M89 29h1.2M74 30h1.2M87 30h1.2M89 30h1.2M74 31h1.2M73 34h1.2M87 36h1.2M73 38h1.2M72 39h1.2M73 39h1.2M71 40h1.2M72 40h1.2M71 41h1.2M86 41h1.2M72 42h1.2M71 44h1.2M84 44h1.2M68 47h1.2M69 47h1.2M70 47h1.2M71 47h1.2M85 47h1.2M71 48h1.2M72 48h1.2M73 48h1.2M71 49h1.2M75 49h1.2M72 50h1.2M73 50h1.2M83 50h1.2M84 50h1.2M72 51h1.2M75 51h1.2M76 51h1.2M77 51h1.2M72 53h1.2M75 53h1.2M78 53h1.2M81 53h1.2M72 54h1.2M79 54h1.2M80 54h1.2M75 55h1.2M79 55h1.2M80 55h1.2M76 56h1.2M71 57h1.2M70 58h1.2M75 58h1.2M72 59h1.2M75 59h1.2M78 59h1.2M65 60h1.2M66 60h1.2M78 60h1.2M62 61h1.2M64 61h1.2M65 61h1.2M76 61h1.2M77 61h1.2M78 61h1.2M63 62h1.2M64 62h1.2M67 62h1.2M69 62h1.2M76 62h1.2M77 62h1.2M63 63h1.2M64 63h1.2M70 63h1.2M72 63h1.2M73 63h1.2M76 63h1.2M77 63h1.2M69 64h1.2M71 64h1.2M73 64h1.2M64 65h1.2M69 65h1.2M72 65h1.2M74 65h1.2M65 66h1.2M67 66h1.2M75 66h1.2M63 67h1.2M65 67h1.2M69 67h1.2M71 67h1.2M76 67h1.2M63 68h1.2M65 68h1.2M74 68h1.2M75 68h1.2M62 69h1.2M67 70h1.2M73 70h1.2M75 71h1.2M64 72h1.2M72 72h1.2M74 72h1.2M75 72h1.2M64 73h1.2M70 73h1.2M74 73h1.2M65 74h1.2M67 74h1.2M68 74h1.2M72 74h1.2M74 74h1.2M63 75h1.2M64 75h1.2M66 75h1.2M68 75h1.2M72 75h1.2M73 75h1.2M74 75h1.2M63 76h1.2M66 76h1.2M66 77h1.2M70 77h1.2M71 77h1.2M64 79h1.2M69 79h1.2M70 79h1.2M64 80h1.2M68 80h1.2M69 80h1.2M64 81h1.2M65 81h1.2M67 81h1.2M70 81h1.2M71 81h1.2M72 81h1.2M65 82h1.2M66 82h1.2M66 83h1.2M69 83h1.2M72 83h1.2M70 84h1.2M72 84h1.2M63 85h1.2M63 86h1.2M65 86h1.2M66 86h1.2M65 87h1.2M68 87h1.2M64 88h1.2M68 88h1.2M69 88h1.2M67 89h1.2M69 89h1.2M68 90h1.2"/><path stroke="#35b5d5" d="M80 23h1.2M81 23h1.2M82 23h1.2M83 23h1.2M85 23h1.2M80 24h1.2M81 24h1.2M84 24h1.2M85 24h1.2M76 25h1.2M79 25h1.2M80 25h1.2M85 25h1.2M76 26h1.2M77 26h1.2M78 26h1.2M84 26h1.2M86 26h1.2M78 27h1.2M85 27h1.2M87 27h1.2M76 28h1.2M77 28h1.2M78 28h1.2M85 28h1.2M76 29h1.2M77 29h1.2M86 29h1.2M87 29h1.2M75 30h1.2M86 31h1.2M75 32h1.2M86 32h1.2M86 34h1.2M86 35h1.2M86 36h1.2M86 37h1.2M86 38h1.2M74 39h1.2M74 40h1.2M74 41h1.2M85 41h1.2M73 42h1.2M84 42h1.2M83 43h1.2M72 44h1.2M72 45h1.2M83 45h1.2M83 46h1.2M73 47h1.2M79 47h1.2M83 47h1.2M75 48h1.2M77 48h1.2M83 49h1.2M82 50h1.2M73 51h1.2M74 51h1.2M78 51h1.2M80 51h1.2M73 52h1.2M74 52h1.2M78 52h1.2M80 52h1.2M73 53h1.2M79 53h1.2M80 53h1.2M73 55h1.2M74 55h1.2M72 56h1.2M74 56h1.2M75 56h1.2M72 57h1.2M73 57h1.2M74 57h1.2M71 58h1.2M70 59h1.2M70 60h1.2M71 60h1.2M72 60h1.2M73 60h1.2M74 60h1.2M66 61h1.2M71 61h1.2M72 61h1.2M73 61h1.2M74 61h1.2M65 62h1.2M66 62h1.2M70 62h1.2M74 62h1.2M65 63h1.2M67 63h1.2M68 63h1.2M74 63h1.2M75 63h1.2M64 64h1.2M65 64h1.2M66 64h1.2M67 64h1.2M68 64h1.2M65 65h1.2M66 65h1.2M67 65h1.2M68 65h1.2M73 66h1.2M74 66h1.2M72 67h1.2M73 67h1.2M74 67h1.2M69 68h1.2M71 68h1.2M72 68h1.2M73 68h1.2M68 69h1.2M69 69h1.2M72 69h1.2M68 70h1.2M69 70h1.2M70 70h1.2M71 70h1.2M72 70h1.2M66 71h1.2M68 71h1.2M70 71h1.2M71 71h1.2M72 71h1.2M65 72h1.2M68 72h1.2M69 72h1.2M70 72h1.2M71 72h1.2M66 73h1.2M67 73h1.2M68 73h1.2M67 76h1.2M68 76h1.2M69 76h1.2M69 77h1.2M66 78h1.2M68 78h1.2M69 78h1.2M65 79h1.2M67 79h1.2M66 80h1.2M67 80h1.2M69 82h1.2M71 82h1.2M72 82h1.2M63 83h1.2M64 83h1.2M70 83h1.2M71 83h1.2M63 84h1.2M64 84h1.2M65 84h1.2M66 84h1.2M64 85h1.2M65 85h1.2M66 85h1.2"/><path stroke="#5ac85c" d="M82 25h1.2M83 25h1.2M84 25h1.2M79 26h1.2M80 26h1.2M81 26h1.2M82 26h1.2M79 27h1.2M83 27h1.2M84 27h1.2M86 27h1.2M79 28h1.2M80 28h1.2M81 28h1.2M82 28h1.2M83 28h1.2M86 28h1.2M78 29h1.2M79 29h1.2M81 29h1.2M83 29h1.2M84 29h1.2M85 29h1.2M76 30h1.2M77 30h1.2M78 30h1.2M79 30h1.2M81 30h1.2M82 30h1.2M83 30h1.2M85 30h1.2M76 31h1.2M77 31h1.2M78 31h1.2M80 31h1.2M82 31h1.2M85 31h1.2M76 32h1.2M85 32h1.2M85 33h1.2M75 34h1.2M85 34h1.2M74 35h1.2M85 35h1.2M74 36h1.2M75 36h1.2M85 36h1.2M74 37h1.2M75 37h1.2M76 37h1.2M85 37h1.2M75 38h1.2M85 38h1.2M75 39h1.2M85 39h1.2M75 40h1.2M85 40h1.2M75 41h1.2M84 41h1.2M74 42h1.2M82 42h1.2M83 42h1.2M73 43h1.2M82 43h1.2M73 44h1.2M74 44h1.2M75 44h1.2M82 44h1.2M73 45h1.2M74 45h1.2M75 45h1.2M76 45h1.2M81 45h1.2M82 45h1.2M73 46h1.2M74 46h1.2M75 46h1.2M79 46h1.2M80 46h1.2M81 46h1.2M82 46h1.2M74 47h1.2M75 47h1.2M76 47h1.2M77 47h1.2M78 47h1.2M81 47h1.2M82 47h1.2M78 48h1.2M79 48h1.2M81 48h1.2M78 49h1.2M82 49h1.2M79 50h1.2M80 50h1.2M81 50h1.2M79 51h1.2M79 52h1.2M66 72h1.2M67 72h1.2M66 79h1.2"/><path stroke="#b5d935" d="M81 27h1.2M82 27h1.2M80 29h1.2M80 30h1.2M84 30h1.2M81 31h1.2M83 31h1.2M84 31h1.2M77 32h1.2M78 32h1.2M79 32h1.2M80 32h1.2M84 32h1.2M76 33h1.2M77 33h1.2M84 33h1.2M76 34h1.2M75 35h1.2M76 35h1.2M77 35h1.2M77 36h1.2M77 37h1.2M84 37h1.2M76 38h1.2M84 38h1.2M84 39h1.2M84 40h1.2M81 41h1.2M82 41h1.2M83 41h1.2M75 42h1.2M81 42h1.2M75 43h1.2M81 43h1.2M80 44h1.2M77 45h1.2M79 45h1.2M80 45h1.2M76 46h1.2M77 46h1.2M80 49h1.2M81 49h1.2"/><path stroke="#f2d21e" d="M81 32h1.2M82 32h1.2M78 33h1.2M79 33h1.2M78 34h1.2M84 34h1.2M78 35h1.2M84 35h1.2M78 36h1.2M81 36h1.2M83 37h1.2M77 38h1.2M82 38h1.2M83 38h1.2M76 39h1.2M82 39h1.2M83 39h1.2M76 40h1.2M80 40h1.2M81 40h1.2M82 40h1.2M83 40h1.2M76 41h1.2M79 41h1.2M80 41h1.2M76 42h1.2M78 42h1.2M80 42h1.2M76 43h1.2M79 43h1.2M80 43h1.2M77 44h1.2M78 45h1.2"/><path stroke="#f0862a" d="M80 33h1.2M83 33h1.2M79 34h1.2M79 35h1.2M80 35h1.2M81 35h1.2M79 36h1.2M80 36h1.2M78 37h1.2M81 37h1.2M82 37h1.2M81 38h1.2M81 39h1.2M77 41h1.2M78 41h1.2M77 42h1.2M77 43h1.2M78 43h1.2M79 44h1.2"/><path stroke="#e0401a" d="M81 33h1.2M82 33h1.2M80 34h1.2M81 34h1.2M82 34h1.2M83 34h1.2M82 35h1.2M83 35h1.2M82 36h1.2M83 36h1.2M79 37h1.2M80 37h1.2M78 38h1.2M79 38h1.2M80 38h1.2M77 39h1.2M78 39h1.2M79 39h1.2M80 39h1.2M77 40h1.2M78 40h1.2M79 40h1.2M78 44h1.2"/></g>
<g transform="translate(503.3 577.6)" stroke-width="1.2"><path stroke="#6b82cf" d="M87 5h1.2M79 10h1.2M49 11h1.2M75 14h1.2M40 16h1.2M75 16h1.2M91 16h1.2M32 17h1.2M74 19h1.2M91 19h1.2M90 20h1.2M27 22h1.2M72 22h1.2M28 23h1.2M32 24h1.2M61 24h1.2M36 28h1.2M56 28h1.2M94 28h1.2M93 29h1.2M30 31h1.2M25 32h1.2M45 33h1.2M65 34h1.2M64 35h1.2M93 36h1.2M51 39h1.2M56 39h1.2M89 39h1.2M65 40h1.2M61 41h1.2M96 42h1.2M44 43h1.2M53 43h1.2M88 44h1.2M46 45h1.2M53 46h1.2M86 46h1.2M31 47h1.2M27 48h1.2M44 48h1.2M86 48h1.2M1 49h1.2M12 49h1.2M66 49h1.2M57 51h1.2M89 51h1.2M47 52h1.2M51 52h1.2M37 54h1.2M50 56h1.2M55 56h1.2M83 56h1.2M30 58h1.2M57 59h1.2M91 59h1.2M32 60h1.2M53 60h1.2M60 60h1.2M19 61h1.2M46 61h1.2M27 62h1.2M51 62h1.2M88 63h1.2M18 64h1.2M89 64h1.2M23 65h1.2M92 66h1.2M88 67h1.2M96 67h1.2M91 68h1.2M97 69h1.2M89 70h1.2M86 71h1.2M52 72h1.2M48 73h1.2M55 73h1.2M85 76h1.2M48 77h1.2M52 77h1.2M83 77h1.2M15 79h1.2M43 79h1.2M87 79h1.2M44 80h1.2M49 81h1.2M55 82h1.2M87 82h1.2M81 83h1.2M82 85h1.2M19 87h1.2M10 88h1.2M76 88h1.2M78 88h1.2M24 90h1.2M49 90h1.2M76 90h1.2M76 93h1.2M55 94h1.2M64 94h1.2M51 95h1.2M65 95h1.2M49 96h1.2M74 97h1.2M33 98h1.2M53 98h1.2M58 98h1.2M69 100h1.2M76 100h1.2M67 101h1.2M72 102h1.2M54 104h1.2M58 104h1.2M67 104h1.2"/><path stroke="#1f3bb0" d="M80 9h1.2M81 11h1.2M82 11h1.2M82 12h1.2M83 12h1.2M84 12h1.2M85 12h1.2M79 14h1.2M80 14h1.2M82 14h1.2M83 15h1.2M84 15h1.2M81 16h1.2M78 17h1.2M80 17h1.2M82 17h1.2M83 17h1.2M84 17h1.2M87 17h1.2M90 17h1.2M79 18h1.2M87 18h1.2M76 19h1.2M78 19h1.2M84 19h1.2M76 20h1.2M86 20h1.2M87 21h1.2M87 23h1.2M88 24h1.2M89 25h1.2M88 26h1.2M70 27h1.2M88 27h1.2M69 28h1.2M68 29h1.2M87 29h1.2M69 30h1.2M69 31h1.2M86 31h1.2M87 31h1.2M88 31h1.2M89 31h1.2M90 32h1.2M88 33h1.2M69 34h1.2M86 34h1.2M68 35h1.2M88 35h1.2M90 35h1.2M68 36h1.2M67 38h1.2M68 39h1.2M87 39h1.2M86 40h1.2M65 42h1.2M67 42h1.2M86 42h1.2M63 43h1.2M64 43h1.2M65 43h1.2M68 45h1.2M62 47h1.2M65 47h1.2M59 48h1.2M61 48h1.2M62 48h1.2M64 48h1.2M60 49h1.2M62 49h1.2M83 49h1.2M84 49h1.2M70 50h1.2M71 50h1.2M82 50h1.2M69 51h1.2M67 52h1.2M68 52h1.2M69 52h1.2M82 52h1.2M84 52h1.2M85 52h1.2M86 52h1.2M66 53h1.2M68 53h1.2M70 53h1.2M81 53h1.2M86 53h1.2M63 54h1.2M63 55h1.2M65 55h1.2M67 56h1.2M68 56h1.2M69 56h1.2M70 56h1.2M72 56h1.2M78 56h1.2M79 56h1.2M62 57h1.2M64 57h1.2M66 57h1.2M79 57h1.2M85 57h1.2M63 58h1.2M72 58h1.2M76 58h1.2M77 58h1.2M80 58h1.2M83 58h1.2M86 58h1.2M62 59h1.2M66 59h1.2M77 59h1.2M81 59h1.2M87 59h1.2M56 60h1.2M68 60h1.2M80 60h1.2M85 60h1.2M86 60h1.2M35 61h1.2M36 61h1.2M58 61h1.2M62 61h1.2M66 61h1.2M67 61h1.2M80 61h1.2M83 61h1.2M58 62h1.2M65 62h1.2M67 62h1.2M80 62h1.2M83 62h1.2M86 62h1.2M69 63h1.2M84 63h1.2M85 63h1.2M53 64h1.2M60 64h1.2M61 64h1.2M62 64h1.2M67 64h1.2M59 65h1.2M64 65h1.2M66 65h1.2M68 65h1.2M81 65h1.2M56 66h1.2M57 66h1.2M58 66h1.2M61 66h1.2M64 66h1.2M83 66h1.2M57 67h1.2M60 67h1.2M62 67h1.2M82 67h1.2M58 68h1.2M59 68h1.2M60 68h1.2M62 68h1.2M64 68h1.2M58 69h1.2M62 69h1.2M64 69h1.2M81 69h1.2M64 70h1.2M78 70h1.2M80 70h1.2M82 70h1.2M59 71h1.2M60 71h1.2M78 71h1.2M81 71h1.2M60 72h1.2M76 72h1.2M77 72h1.2M58 73h1.2M77 73h1.2M79 73h1.2M82 73h1.2M57 74h1.2M62 74h1.2M80 74h1.2M84 74h1.2M85 74h1.2M54 75h1.2M56 75h1.2M61 75h1.2M78 75h1.2M82 75h1.2M55 76h1.2M58 76h1.2M59 76h1.2M60 76h1.2M79 76h1.2M81 76h1.2M56 77h1.2M59 77h1.2M61 77h1.2M63 77h1.2M80 77h1.2M79 78h1.2M81 78h1.2M51 79h1.2M59 79h1.2M62 79h1.2M63 79h1.2M71 79h1.2M76 79h1.2M77 79h1.2M52 80h1.2M54 80h1.2M55 80h1.2M63 80h1.2M73 80h1.2M77 80h1.2M58 81h1.2M62 81h1.2M65 81h1.2M68 81h1.2M70 81h1.2M72 81h1.2M79 81h1.2M80 81h1.2M57 82h1.2M61 82h1.2M66 82h1.2M71 82h1.2M60 83h1.2M61 83h1.2M65 83h1.2M71 83h1.2M74 83h1.2M76 83h1.2M73 84h1.2M74 84h1.2M76 84h1.2M57 85h1.2M58 85h1.2M60 85h1.2M61 85h1.2M66 85h1.2M74 85h1.2M76 85h1.2M79 85h1.2M58 86h1.2M63 86h1.2M66 86h1.2M71 86h1.2M73 86h1.2M77 86h1.2M78 86h1.2M64 87h1.2M66 87h1.2M60 88h1.2M61 88h1.2M70 88h1.2M56 89h1.2M59 89h1.2M60 89h1.2M64 89h1.2M65 89h1.2M67 89h1.2M69 89h1.2M71 89h1.2M73 89h1.2M55 90h1.2M57 90h1.2M58 90h1.2M61 90h1.2M65 90h1.2M68 90h1.2M74 90h1.2M61 91h1.2M64 91h1.2M67 91h1.2M70 91h1.2M71 91h1.2M54 92h1.2M55 92h1.2M58 92h1.2M59 92h1.2M66 92h1.2M67 92h1.2M72 92h1.2M73 92h1.2M71 93h1.2M68 94h1.2M71 94h1.2M70 95h1.2M61 99h1.2M62 99h1.2M63 99h1.2M58 100h1.2M58 101h1.2M68 102h1.2"/><path stroke="#2a60d8" d="M82 19h1.2M78 20h1.2M84 20h1.2M76 21h1.2M85 21h1.2M86 21h1.2M77 22h1.2M85 22h1.2M75 23h1.2M85 23h1.2M77 24h1.2M86 25h1.2M86 26h1.2M70 28h1.2M72 28h1.2M70 29h1.2M71 29h1.2M86 29h1.2M71 31h1.2M71 32h1.2M89 32h1.2M85 33h1.2M86 35h1.2M87 35h1.2M87 36h1.2M70 37h1.2M85 37h1.2M87 37h1.2M88 37h1.2M69 38h1.2M68 40h1.2M85 40h1.2M68 41h1.2M70 41h1.2M69 42h1.2M69 43h1.2M71 43h1.2M84 43h1.2M70 44h1.2M71 44h1.2M84 44h1.2M69 45h1.2M70 45h1.2M84 45h1.2M70 46h1.2M70 47h1.2M70 48h1.2M82 48h1.2M82 49h1.2M77 50h1.2M81 50h1.2M75 51h1.2M81 51h1.2M72 52h1.2M80 52h1.2M81 52h1.2M72 53h1.2M79 53h1.2M71 54h1.2M79 54h1.2M72 55h1.2M77 55h1.2M78 55h1.2M76 56h1.2M75 57h1.2M69 58h1.2M70 58h1.2M71 58h1.2M79 58h1.2M85 58h1.2M69 59h1.2M73 59h1.2M79 59h1.2M80 59h1.2M84 59h1.2M76 60h1.2M78 60h1.2M77 61h1.2M78 61h1.2M63 62h1.2M78 62h1.2M79 62h1.2M63 63h1.2M64 63h1.2M76 63h1.2M77 63h1.2M78 63h1.2M80 63h1.2M64 64h1.2M70 64h1.2M77 64h1.2M78 64h1.2M79 64h1.2M80 64h1.2M60 65h1.2M67 65h1.2M69 65h1.2M70 65h1.2M73 65h1.2M76 65h1.2M79 65h1.2M66 66h1.2M67 66h1.2M70 66h1.2M73 66h1.2M75 66h1.2M77 66h1.2M80 66h1.2M58 67h1.2M66 67h1.2M69 67h1.2M79 67h1.2M81 67h1.2M65 68h1.2M66 68h1.2M67 68h1.2M68 68h1.2M77 68h1.2M66 69h1.2M67 69h1.2M75 69h1.2M71 70h1.2M62 71h1.2M63 71h1.2M66 71h1.2M75 71h1.2M61 72h1.2M62 72h1.2M63 72h1.2M64 72h1.2M65 72h1.2M71 72h1.2M73 72h1.2M64 73h1.2M71 73h1.2M74 73h1.2M75 73h1.2M65 74h1.2M66 74h1.2M75 74h1.2M81 74h1.2M62 75h1.2M63 75h1.2M66 75h1.2M68 75h1.2M69 75h1.2M74 75h1.2M76 75h1.2M77 75h1.2M81 75h1.2M64 76h1.2M66 76h1.2M68 76h1.2M70 76h1.2M72 76h1.2M75 76h1.2M76 76h1.2M77 76h1.2M64 77h1.2M65 77h1.2M68 77h1.2M69 77h1.2M70 77h1.2M72 77h1.2M73 77h1.2M75 77h1.2M78 77h1.2M68 78h1.2M73 78h1.2M74 78h1.2M75 78h1.2M76 78h1.2M64 79h1.2M65 79h1.2M67 79h1.2M68 79h1.2M73 79h1.2M75 79h1.2M65 80h1.2M64 81h1.2M60 82h1.2M69 83h1.2M68 84h1.2M70 84h1.2M75 84h1.2M67 85h1.2M68 85h1.2M70 85h1.2M60 86h1.2M61 86h1.2M69 86h1.2M62 87h1.2M63 87h1.2M67 87h1.2M68 87h1.2M64 88h1.2M65 88h1.2"/><path stroke="#35b5d5" d="M80 20h1.2M81 20h1.2M82 20h1.2M77 21h1.2M78 21h1.2M79 21h1.2M83 21h1.2M79 22h1.2M84 22h1.2M78 23h1.2M79 23h1.2M80 23h1.2M74 24h1.2M75 24h1.2M78 24h1.2M79 24h1.2M80 24h1.2M81 24h1.2M83 24h1.2M84 24h1.2M85 24h1.2M74 25h1.2M75 25h1.2M77 25h1.2M84 25h1.2M75 26h1.2M76 26h1.2M74 27h1.2M85 27h1.2M73 28h1.2M74 28h1.2M75 28h1.2M85 28h1.2M73 29h1.2M85 29h1.2M73 30h1.2M72 31h1.2M84 31h1.2M84 32h1.2M71 33h1.2M71 34h1.2M71 35h1.2M72 35h1.2M85 35h1.2M71 36h1.2M72 36h1.2M85 36h1.2M71 37h1.2M72 37h1.2M84 37h1.2M70 38h1.2M72 38h1.2M70 39h1.2M71 39h1.2M83 39h1.2M70 40h1.2M71 40h1.2M84 40h1.2M71 41h1.2M84 41h1.2M72 43h1.2M74 43h1.2M74 44h1.2M83 44h1.2M72 45h1.2M72 46h1.2M82 46h1.2M71 48h1.2M81 48h1.2M72 49h1.2M78 49h1.2M79 49h1.2M80 49h1.2M79 50h1.2M80 50h1.2M73 51h1.2M74 51h1.2M78 51h1.2M79 51h1.2M73 52h1.2M74 52h1.2M73 53h1.2M75 53h1.2M78 53h1.2M73 54h1.2M77 54h1.2M78 54h1.2M74 55h1.2M75 55h1.2M75 56h1.2M70 59h1.2M70 60h1.2M71 60h1.2M72 60h1.2M73 60h1.2M74 60h1.2M75 60h1.2M70 61h1.2M74 61h1.2M75 61h1.2M70 62h1.2M75 62h1.2M75 63h1.2M71 64h1.2M72 64h1.2M73 64h1.2M74 64h1.2M75 64h1.2M74 65h1.2M71 66h1.2M72 66h1.2M76 66h1.2M71 67h1.2M72 67h1.2M73 67h1.2M74 67h1.2M75 67h1.2M76 67h1.2M80 67h1.2M69 68h1.2M70 68h1.2M72 68h1.2M73 68h1.2M74 68h1.2M75 68h1.2M76 68h1.2M69 69h1.2M71 69h1.2M73 69h1.2M68 70h1.2M69 70h1.2M73 70h1.2M74 70h1.2M67 71h1.2M68 71h1.2M70 71h1.2M73 71h1.2M74 71h1.2M67 72h1.2M68 72h1.2M74 72h1.2M68 73h1.2M69 73h1.2M69 74h1.2M70 74h1.2M72 74h1.2M67 75h1.2M70 75h1.2M71 75h1.2M72 75h1.2M67 76h1.2M66 77h1.2M65 78h1.2M66 78h1.2M67 78h1.2M69 84h1.2M69 85h1.2"/><path stroke="#5ac85c" d="M80 21h1.2M81 21h1.2M82 21h1.2M80 22h1.2M81 22h1.2M82 22h1.2M83 22h1.2M78 25h1.2M79 25h1.2M81 25h1.2M82 25h1.2M77 26h1.2M75 27h1.2M84 27h1.2M76 28h1.2M81 28h1.2M84 28h1.2M74 30h1.2M84 30h1.2M73 31h1.2M83 31h1.2M82 32h1.2M83 32h1.2M72 33h1.2M82 33h1.2M73 34h1.2M84 34h1.2M73 35h1.2M83 36h1.2M84 36h1.2M73 37h1.2M73 38h1.2M83 38h1.2M72 39h1.2M72 40h1.2M82 40h1.2M83 40h1.2M72 41h1.2M83 41h1.2M72 42h1.2M73 42h1.2M74 42h1.2M75 43h1.2M81 43h1.2M82 43h1.2M83 43h1.2M81 44h1.2M73 45h1.2M74 45h1.2M75 45h1.2M82 45h1.2M73 46h1.2M72 47h1.2M73 47h1.2M80 47h1.2M81 47h1.2M72 48h1.2M73 48h1.2M79 48h1.2M80 48h1.2M75 49h1.2M76 49h1.2M74 50h1.2M77 52h1.2M78 52h1.2M77 53h1.2M76 54h1.2M71 61h1.2M72 61h1.2M73 61h1.2M71 62h1.2M74 62h1.2M71 63h1.2M73 63h1.2M74 63h1.2M70 69h1.2M69 71h1.2M69 72h1.2"/><path stroke="#b5d935" d="M78 26h1.2M79 26h1.2M80 26h1.2M81 26h1.2M83 26h1.2M78 27h1.2M80 27h1.2M81 27h1.2M82 27h1.2M83 27h1.2M78 28h1.2M80 28h1.2M82 28h1.2M83 28h1.2M76 29h1.2M79 29h1.2M80 29h1.2M81 29h1.2M82 29h1.2M83 29h1.2M82 30h1.2M83 30h1.2M74 31h1.2M81 31h1.2M73 32h1.2M81 32h1.2M73 33h1.2M81 33h1.2M75 34h1.2M81 34h1.2M83 34h1.2M74 35h1.2M75 35h1.2M76 35h1.2M77 35h1.2M82 35h1.2M74 36h1.2M75 36h1.2M78 36h1.2M82 36h1.2M74 37h1.2M83 37h1.2M74 38h1.2M75 38h1.2M73 39h1.2M74 39h1.2M75 39h1.2M73 40h1.2M74 40h1.2M75 40h1.2M73 41h1.2M74 41h1.2M75 41h1.2M82 41h1.2M75 42h1.2M81 42h1.2M82 42h1.2M76 43h1.2M77 43h1.2M79 43h1.2M80 43h1.2M76 44h1.2M78 44h1.2M79 44h1.2M80 44h1.2M79 45h1.2M81 45h1.2M74 46h1.2M75 46h1.2M81 46h1.2M74 47h1.2M75 47h1.2M78 47h1.2M74 48h1.2M75 48h1.2M76 48h1.2M77 48h1.2M74 49h1.2M72 62h1.2M73 62h1.2M72 63h1.2"/><path stroke="#f2d21e" d="M82 26h1.2M79 27h1.2M79 28h1.2M77 29h1.2M78 29h1.2M76 30h1.2M80 30h1.2M81 30h1.2M75 31h1.2M80 31h1.2M74 32h1.2M74 33h1.2M75 33h1.2M76 33h1.2M80 33h1.2M76 34h1.2M77 34h1.2M78 34h1.2M79 34h1.2M80 34h1.2M79 35h1.2M80 35h1.2M81 35h1.2M76 36h1.2M79 36h1.2M81 36h1.2M76 37h1.2M77 37h1.2M82 37h1.2M76 38h1.2M82 38h1.2M76 39h1.2M76 40h1.2M81 40h1.2M76 41h1.2M81 41h1.2M76 42h1.2M77 42h1.2M80 42h1.2M77 44h1.2M76 45h1.2M77 45h1.2M78 45h1.2M80 45h1.2M76 46h1.2M77 46h1.2M78 46h1.2M80 46h1.2M76 47h1.2M77 47h1.2"/><path stroke="#f0862a" d="M78 30h1.2M76 31h1.2M79 31h1.2M75 32h1.2M76 32h1.2M80 32h1.2M77 33h1.2M79 33h1.2M80 36h1.2M78 37h1.2M79 37h1.2M77 38h1.2M81 39h1.2M78 42h1.2M79 42h1.2"/><path stroke="#e0401a" d="M77 30h1.2M77 31h1.2M78 31h1.2M77 32h1.2M78 32h1.2M79 32h1.2M80 37h1.2M81 37h1.2M78 38h1.2M79 38h1.2M80 38h1.2M81 38h1.2M77 39h1.2M78 39h1.2M79 39h1.2M80 39h1.2M77 40h1.2M78 40h1.2M79 40h1.2M80 40h1.2M77 41h1.2M78 41h1.2M79 41h1.2M80 41h1.2"/></g>
<g transform="translate(641.7 577.6)" stroke-width="1.2"><path stroke="#6b82cf" d="M83 4h1.2M31 6h1.2M69 6h1.2M35 9h1.2M84 9h1.2M69 11h1.2M74 11h1.2M29 12h1.2M85 14h1.2M70 15h1.2M86 16h1.2M89 16h1.2M28 18h1.2M70 18h1.2M92 19h1.2M8 21h1.2M55 21h1.2M68 21h1.2M67 24h1.2M89 24h1.2M91 26h1.2M25 27h1.2M56 29h1.2M62 30h1.2M64 30h1.2M90 32h1.2M67 33h1.2M88 33h1.2M88 35h1.2M65 36h1.2M89 37h1.2M61 38h1.2M65 38h1.2M36 39h1.2M64 40h1.2M60 42h1.2M61 42h1.2M88 42h1.2M90 42h1.2M58 45h1.2M56 46h1.2M90 46h1.2M86 47h1.2M40 48h1.2M87 48h1.2M62 49h1.2M56 50h1.2M58 50h1.2M90 50h1.2M92 50h1.2M64 51h1.2M19 52h1.2M61 56h1.2M10 57h1.2M18 57h1.2M47 57h1.2M86 57h1.2M88 57h1.2M60 58h1.2M92 58h1.2M56 59h1.2M58 59h1.2M60 60h1.2M58 61h1.2M87 62h1.2M52 63h1.2M89 64h1.2M57 65h1.2M35 66h1.2M56 66h1.2M58 67h1.2M51 69h1.2M53 69h1.2M57 69h1.2M56 70h1.2M89 71h1.2M18 72h1.2M40 72h1.2M52 73h1.2M86 73h1.2M59 74h1.2M49 75h1.2M7 76h1.2M43 76h1.2M49 76h1.2M14 77h1.2M44 77h1.2M56 77h1.2M52 78h1.2M89 78h1.2M91 78h1.2M31 80h1.2M18 83h1.2M85 83h1.2M29 84h1.2M53 84h1.2M35 86h1.2M61 86h1.2M57 88h1.2M86 88h1.2M41 90h1.2M54 90h1.2M62 90h1.2M51 91h1.2M54 91h1.2M78 91h1.2M82 91h1.2M84 91h1.2M50 95h1.2M51 95h1.2M83 95h1.2M56 96h1.2M57 96h1.2M77 97h1.2M76 99h1.2M64 100h1.2M62 101h1.2M65 101h1.2M69 101h1.2M71 101h1.2M57 102h1.2M60 102h1.2M81 102h1.2M64 103h1.2M68 103h1.2M73 103h1.2M75 103h1.2M63 104h1.2M78 104h1.2"/><path stroke="#1f3bb0" d="M80 10h1.2M80 11h1.2M84 11h1.2M75 12h1.2M79 12h1.2M83 12h1.2M74 13h1.2M79 13h1.2M80 13h1.2M82 13h1.2M76 14h1.2M77 14h1.2M82 14h1.2M75 15h1.2M76 15h1.2M81 15h1.2M76 16h1.2M83 16h1.2M84 16h1.2M77 17h1.2M81 17h1.2M84 17h1.2M88 17h1.2M82 18h1.2M84 18h1.2M87 18h1.2M81 19h1.2M88 19h1.2M72 21h1.2M73 21h1.2M69 22h1.2M70 22h1.2M88 22h1.2M89 22h1.2M72 23h1.2M73 23h1.2M70 24h1.2M71 24h1.2M73 24h1.2M68 25h1.2M70 25h1.2M69 26h1.2M87 26h1.2M68 27h1.2M87 27h1.2M67 28h1.2M89 28h1.2M90 28h1.2M69 29h1.2M87 29h1.2M88 29h1.2M67 30h1.2M86 30h1.2M69 32h1.2M86 32h1.2M86 33h1.2M67 35h1.2M68 35h1.2M86 36h1.2M67 37h1.2M87 37h1.2M68 38h1.2M85 38h1.2M88 38h1.2M38 39h1.2M38 40h1.2M84 40h1.2M67 41h1.2M85 41h1.2M65 43h1.2M86 43h1.2M66 44h1.2M67 44h1.2M83 44h1.2M65 45h1.2M84 45h1.2M68 46h1.2M83 49h1.2M66 50h1.2M86 50h1.2M84 51h1.2M86 51h1.2M87 51h1.2M79 52h1.2M80 52h1.2M63 54h1.2M68 54h1.2M84 54h1.2M85 54h1.2M86 54h1.2M62 55h1.2M64 55h1.2M66 55h1.2M67 55h1.2M84 55h1.2M64 56h1.2M81 56h1.2M83 56h1.2M63 57h1.2M68 57h1.2M81 57h1.2M66 58h1.2M81 58h1.2M84 58h1.2M65 59h1.2M81 59h1.2M84 59h1.2M65 60h1.2M67 60h1.2M80 60h1.2M81 60h1.2M84 60h1.2M62 61h1.2M63 61h1.2M66 61h1.2M79 61h1.2M83 61h1.2M85 61h1.2M86 61h1.2M62 62h1.2M80 62h1.2M85 62h1.2M62 63h1.2M64 63h1.2M65 63h1.2M80 63h1.2M82 63h1.2M60 64h1.2M61 64h1.2M64 64h1.2M81 64h1.2M84 64h1.2M85 64h1.2M64 65h1.2M81 65h1.2M64 66h1.2M81 66h1.2M61 67h1.2M63 67h1.2M81 67h1.2M61 68h1.2M80 68h1.2M83 68h1.2M85 68h1.2M81 69h1.2M84 69h1.2M85 69h1.2M79 70h1.2M81 70h1.2M84 70h1.2M85 70h1.2M60 71h1.2M60 72h1.2M82 72h1.2M83 72h1.2M84 72h1.2M61 73h1.2M81 73h1.2M79 74h1.2M82 74h1.2M84 74h1.2M80 75h1.2M82 75h1.2M83 75h1.2M84 75h1.2M59 76h1.2M60 77h1.2M77 77h1.2M79 77h1.2M82 77h1.2M59 78h1.2M60 78h1.2M79 78h1.2M82 78h1.2M84 78h1.2M60 79h1.2M83 79h1.2M60 80h1.2M83 80h1.2M84 80h1.2M53 81h1.2M54 81h1.2M60 81h1.2M61 81h1.2M62 81h1.2M63 82h1.2M65 82h1.2M80 82h1.2M55 83h1.2M61 83h1.2M62 83h1.2M56 84h1.2M57 84h1.2M62 84h1.2M80 84h1.2M55 85h1.2M64 85h1.2M65 85h1.2M67 85h1.2M69 85h1.2M75 85h1.2M80 85h1.2M53 86h1.2M57 86h1.2M58 86h1.2M63 86h1.2M78 86h1.2M63 87h1.2M64 87h1.2M66 87h1.2M78 87h1.2M59 88h1.2M67 88h1.2M77 88h1.2M84 88h1.2M59 89h1.2M63 89h1.2M70 89h1.2M73 89h1.2M75 89h1.2M76 89h1.2M78 89h1.2M81 89h1.2M84 89h1.2M65 90h1.2M67 90h1.2M73 90h1.2M74 90h1.2M80 90h1.2M58 91h1.2M64 91h1.2M67 91h1.2M75 91h1.2M59 92h1.2M68 92h1.2M71 92h1.2M74 92h1.2M75 92h1.2M63 93h1.2M68 93h1.2M71 93h1.2M77 93h1.2M66 94h1.2M67 94h1.2M69 94h1.2M77 94h1.2M78 94h1.2M81 94h1.2M82 94h1.2M70 95h1.2M71 95h1.2M74 95h1.2M79 95h1.2M80 95h1.2M61 96h1.2M66 96h1.2M67 96h1.2M62 97h1.2M65 97h1.2M71 97h1.2M73 97h1.2M64 98h1.2M69 98h1.2M72 98h1.2M73 98h1.2M74 98h1.2M69 99h1.2M71 99h1.2"/><path stroke="#2a60d8" d="M80 14h1.2M78 15h1.2M79 15h1.2M77 16h1.2M78 16h1.2M80 16h1.2M79 17h1.2M80 17h1.2M76 18h1.2M79 18h1.2M74 19h1.2M76 19h1.2M78 19h1.2M79 19h1.2M80 19h1.2M83 19h1.2M84 19h1.2M82 20h1.2M75 21h1.2M83 21h1.2M86 21h1.2M75 22h1.2M82 22h1.2M83 22h1.2M84 22h1.2M85 22h1.2M74 23h1.2M82 23h1.2M85 23h1.2M74 24h1.2M85 24h1.2M85 25h1.2M86 26h1.2M70 27h1.2M71 27h1.2M85 27h1.2M86 27h1.2M84 28h1.2M85 28h1.2M86 28h1.2M70 29h1.2M84 29h1.2M70 31h1.2M70 32h1.2M70 33h1.2M69 35h1.2M69 36h1.2M85 36h1.2M69 38h1.2M68 41h1.2M83 41h1.2M84 41h1.2M67 42h1.2M69 42h1.2M84 42h1.2M67 43h1.2M69 43h1.2M82 43h1.2M84 43h1.2M69 44h1.2M82 45h1.2M70 46h1.2M71 46h1.2M68 47h1.2M69 47h1.2M70 47h1.2M81 47h1.2M82 47h1.2M68 48h1.2M69 48h1.2M70 48h1.2M81 48h1.2M82 48h1.2M68 49h1.2M82 49h1.2M67 50h1.2M69 50h1.2M79 50h1.2M81 50h1.2M82 50h1.2M67 51h1.2M78 51h1.2M79 51h1.2M82 51h1.2M68 52h1.2M69 52h1.2M70 52h1.2M78 52h1.2M81 52h1.2M82 52h1.2M83 52h1.2M69 53h1.2M70 53h1.2M77 53h1.2M82 53h1.2M79 54h1.2M80 54h1.2M69 55h1.2M79 55h1.2M79 56h1.2M78 57h1.2M79 57h1.2M69 58h1.2M69 59h1.2M71 59h1.2M80 59h1.2M73 60h1.2M67 61h1.2M68 61h1.2M77 61h1.2M67 62h1.2M76 62h1.2M77 62h1.2M78 62h1.2M79 62h1.2M67 63h1.2M68 63h1.2M77 63h1.2M78 63h1.2M65 64h1.2M66 64h1.2M67 64h1.2M68 64h1.2M77 64h1.2M79 64h1.2M65 65h1.2M66 65h1.2M67 65h1.2M78 65h1.2M80 65h1.2M68 66h1.2M76 66h1.2M79 66h1.2M80 66h1.2M76 67h1.2M77 67h1.2M78 67h1.2M79 67h1.2M80 67h1.2M64 68h1.2M75 68h1.2M78 68h1.2M62 69h1.2M63 69h1.2M64 69h1.2M65 69h1.2M74 69h1.2M77 69h1.2M78 69h1.2M63 70h1.2M66 70h1.2M76 70h1.2M64 71h1.2M65 71h1.2M70 71h1.2M78 71h1.2M79 71h1.2M62 72h1.2M69 72h1.2M80 72h1.2M81 72h1.2M80 73h1.2M61 76h1.2M77 76h1.2M66 77h1.2M68 77h1.2M66 78h1.2M67 78h1.2M78 78h1.2M62 79h1.2M65 79h1.2M70 79h1.2M71 79h1.2M65 80h1.2M70 80h1.2M72 80h1.2M64 81h1.2M69 81h1.2M72 81h1.2M79 81h1.2M76 82h1.2M78 82h1.2M79 82h1.2M67 83h1.2M68 83h1.2M69 83h1.2M74 83h1.2M75 83h1.2M77 83h1.2M68 84h1.2M69 84h1.2M75 84h1.2M76 84h1.2M77 84h1.2M68 85h1.2M73 85h1.2M68 86h1.2M67 87h1.2M68 87h1.2M70 87h1.2M72 87h1.2M70 88h1.2M67 92h1.2M67 93h1.2"/><path stroke="#35b5d5" d="M85 19h1.2M86 19h1.2M75 20h1.2M76 20h1.2M77 20h1.2M78 20h1.2M79 20h1.2M83 20h1.2M85 20h1.2M86 20h1.2M76 21h1.2M80 21h1.2M84 21h1.2M85 21h1.2M76 22h1.2M76 23h1.2M81 23h1.2M75 24h1.2M81 24h1.2M82 24h1.2M83 24h1.2M84 24h1.2M75 25h1.2M82 25h1.2M83 25h1.2M83 26h1.2M84 26h1.2M72 27h1.2M83 27h1.2M70 28h1.2M71 28h1.2M83 28h1.2M71 29h1.2M83 29h1.2M71 30h1.2M83 30h1.2M71 31h1.2M84 32h1.2M71 33h1.2M72 33h1.2M70 34h1.2M71 34h1.2M84 34h1.2M70 35h1.2M71 35h1.2M84 35h1.2M70 36h1.2M71 36h1.2M84 36h1.2M70 37h1.2M84 37h1.2M83 39h1.2M69 40h1.2M69 41h1.2M82 42h1.2M80 43h1.2M70 44h1.2M71 44h1.2M81 44h1.2M71 45h1.2M81 45h1.2M81 46h1.2M80 47h1.2M72 48h1.2M80 48h1.2M71 49h1.2M72 49h1.2M73 49h1.2M79 49h1.2M68 50h1.2M71 50h1.2M73 50h1.2M78 50h1.2M68 51h1.2M69 51h1.2M71 51h1.2M72 51h1.2M77 51h1.2M71 52h1.2M72 52h1.2M73 52h1.2M76 52h1.2M71 53h1.2M76 53h1.2M70 54h1.2M71 54h1.2M72 54h1.2M73 54h1.2M74 54h1.2M76 54h1.2M77 54h1.2M78 54h1.2M73 55h1.2M77 55h1.2M78 55h1.2M70 56h1.2M75 56h1.2M76 56h1.2M75 57h1.2M71 58h1.2M72 58h1.2M75 58h1.2M77 58h1.2M78 58h1.2M74 59h1.2M75 59h1.2M76 59h1.2M77 59h1.2M78 59h1.2M70 60h1.2M71 60h1.2M74 60h1.2M75 60h1.2M70 61h1.2M72 61h1.2M73 61h1.2M74 61h1.2M75 61h1.2M70 62h1.2M73 62h1.2M70 63h1.2M72 63h1.2M69 64h1.2M70 64h1.2M71 64h1.2M72 64h1.2M76 64h1.2M69 65h1.2M70 65h1.2M71 65h1.2M72 65h1.2M75 65h1.2M76 65h1.2M79 65h1.2M66 66h1.2M69 66h1.2M70 66h1.2M74 66h1.2M65 67h1.2M66 67h1.2M67 67h1.2M69 67h1.2M70 67h1.2M73 67h1.2M74 67h1.2M66 68h1.2M67 68h1.2M68 68h1.2M69 68h1.2M73 68h1.2M74 68h1.2M67 69h1.2M68 69h1.2M69 69h1.2M70 69h1.2M73 69h1.2M67 70h1.2M70 70h1.2M72 70h1.2M73 70h1.2M74 70h1.2M66 71h1.2M67 71h1.2M71 71h1.2M72 71h1.2M73 71h1.2M74 71h1.2M75 71h1.2M63 72h1.2M66 72h1.2M67 72h1.2M71 72h1.2M72 72h1.2M73 72h1.2M77 72h1.2M78 72h1.2M63 73h1.2M64 73h1.2M65 73h1.2M66 73h1.2M67 73h1.2M68 73h1.2M69 73h1.2M70 73h1.2M74 73h1.2M75 73h1.2M76 73h1.2M77 73h1.2M78 73h1.2M62 74h1.2M64 74h1.2M65 74h1.2M67 74h1.2M70 74h1.2M72 74h1.2M77 74h1.2M62 75h1.2M66 75h1.2M67 75h1.2M68 75h1.2M69 75h1.2M70 75h1.2M77 75h1.2M62 76h1.2M65 76h1.2M68 76h1.2M69 76h1.2M70 76h1.2M75 76h1.2M76 76h1.2M63 77h1.2M65 77h1.2M69 77h1.2M70 77h1.2M73 77h1.2M74 77h1.2M62 78h1.2M63 78h1.2M69 78h1.2M76 78h1.2M63 79h1.2M64 79h1.2M67 79h1.2M68 79h1.2M69 79h1.2M73 79h1.2M78 79h1.2M63 80h1.2M66 80h1.2M67 80h1.2M69 80h1.2M73 80h1.2M78 80h1.2M66 81h1.2M67 81h1.2M68 81h1.2M73 81h1.2M77 81h1.2M78 81h1.2M67 82h1.2M70 82h1.2M71 82h1.2M72 82h1.2M73 82h1.2M74 82h1.2M75 82h1.2M70 83h1.2M73 83h1.2M71 85h1.2M72 85h1.2M71 86h1.2M72 86h1.2M71 87h1.2"/><path stroke="#5ac85c" d="M77 21h1.2M78 21h1.2M79 21h1.2M77 22h1.2M78 22h1.2M79 22h1.2M80 22h1.2M77 23h1.2M79 23h1.2M80 23h1.2M76 24h1.2M77 24h1.2M78 24h1.2M76 25h1.2M77 25h1.2M80 25h1.2M73 26h1.2M74 26h1.2M75 26h1.2M76 26h1.2M77 26h1.2M80 26h1.2M81 26h1.2M73 27h1.2M76 27h1.2M82 27h1.2M73 28h1.2M74 28h1.2M76 28h1.2M82 28h1.2M72 29h1.2M73 29h1.2M74 29h1.2M75 29h1.2M81 29h1.2M72 30h1.2M73 30h1.2M81 30h1.2M82 30h1.2M72 31h1.2M73 31h1.2M82 31h1.2M83 31h1.2M73 32h1.2M82 32h1.2M83 32h1.2M73 33h1.2M83 33h1.2M84 33h1.2M72 34h1.2M82 34h1.2M72 35h1.2M83 35h1.2M71 37h1.2M83 37h1.2M82 38h1.2M83 38h1.2M70 39h1.2M82 39h1.2M82 40h1.2M70 41h1.2M82 41h1.2M78 42h1.2M81 42h1.2M78 43h1.2M79 43h1.2M72 44h1.2M78 44h1.2M72 45h1.2M76 45h1.2M79 45h1.2M80 45h1.2M76 46h1.2M79 46h1.2M80 46h1.2M73 47h1.2M79 47h1.2M73 48h1.2M74 48h1.2M77 48h1.2M78 48h1.2M79 48h1.2M74 49h1.2M77 49h1.2M78 49h1.2M74 50h1.2M77 50h1.2M75 51h1.2M76 51h1.2M74 52h1.2M75 52h1.2M74 53h1.2M75 53h1.2M75 54h1.2M70 55h1.2M71 55h1.2M72 55h1.2M75 55h1.2M71 56h1.2M72 56h1.2M73 56h1.2M71 57h1.2M72 57h1.2M71 61h1.2M71 62h1.2M74 63h1.2M75 63h1.2M73 64h1.2M74 64h1.2M73 65h1.2M74 65h1.2M72 66h1.2M73 66h1.2M71 67h1.2M72 67h1.2M70 68h1.2M71 68h1.2M72 68h1.2M71 69h1.2M71 74h1.2M74 74h1.2M75 74h1.2M63 75h1.2M64 75h1.2M71 75h1.2M72 75h1.2M73 75h1.2M74 75h1.2M75 75h1.2M76 75h1.2M63 76h1.2M64 76h1.2M71 76h1.2M72 76h1.2M74 76h1.2M71 77h1.2M72 77h1.2M72 78h1.2M74 78h1.2M75 78h1.2M74 79h1.2M75 79h1.2M76 79h1.2M68 80h1.2M74 80h1.2M75 80h1.2M76 80h1.2M77 80h1.2M74 81h1.2M71 83h1.2M72 84h1.2"/><path stroke="#b5d935" d="M78 25h1.2M79 25h1.2M78 26h1.2M79 26h1.2M74 27h1.2M77 27h1.2M78 27h1.2M79 27h1.2M80 27h1.2M81 27h1.2M77 28h1.2M79 28h1.2M80 28h1.2M81 28h1.2M76 29h1.2M80 29h1.2M75 30h1.2M80 30h1.2M74 31h1.2M81 33h1.2M73 34h1.2M81 34h1.2M73 35h1.2M81 35h1.2M82 35h1.2M73 36h1.2M81 36h1.2M82 36h1.2M72 37h1.2M81 37h1.2M82 37h1.2M71 38h1.2M72 38h1.2M74 38h1.2M75 38h1.2M76 38h1.2M71 39h1.2M81 39h1.2M70 40h1.2M81 40h1.2M71 41h1.2M81 41h1.2M71 42h1.2M72 42h1.2M75 42h1.2M76 42h1.2M77 42h1.2M79 42h1.2M80 42h1.2M72 43h1.2M73 43h1.2M76 43h1.2M77 43h1.2M73 44h1.2M75 44h1.2M76 44h1.2M77 44h1.2M73 45h1.2M74 45h1.2M75 45h1.2M77 45h1.2M78 45h1.2M73 46h1.2M74 46h1.2M75 46h1.2M77 46h1.2M78 46h1.2M74 47h1.2M75 47h1.2M76 47h1.2M77 47h1.2M78 47h1.2M75 48h1.2M76 48h1.2M75 49h1.2M76 49h1.2M75 50h1.2M76 50h1.2"/><path stroke="#f2d21e" d="M78 28h1.2M78 29h1.2M79 29h1.2M76 30h1.2M78 30h1.2M79 30h1.2M75 31h1.2M79 31h1.2M80 31h1.2M74 32h1.2M81 32h1.2M74 34h1.2M79 34h1.2M80 34h1.2M79 35h1.2M80 35h1.2M80 36h1.2M73 37h1.2M74 37h1.2M75 37h1.2M76 37h1.2M77 37h1.2M79 37h1.2M80 37h1.2M73 38h1.2M77 38h1.2M78 38h1.2M79 38h1.2M80 38h1.2M72 39h1.2M73 39h1.2M75 39h1.2M76 39h1.2M77 39h1.2M78 39h1.2M79 39h1.2M80 39h1.2M71 40h1.2M72 40h1.2M73 40h1.2M75 40h1.2M78 40h1.2M79 40h1.2M80 40h1.2M72 41h1.2M73 41h1.2M74 41h1.2M75 41h1.2M76 41h1.2M77 41h1.2M79 41h1.2M80 41h1.2M73 42h1.2M74 42h1.2M74 43h1.2M75 43h1.2M74 44h1.2"/><path stroke="#f0862a" d="M77 30h1.2M78 31h1.2M80 32h1.2M79 33h1.2M80 33h1.2M78 34h1.2M74 35h1.2M74 36h1.2M79 36h1.2M78 37h1.2M74 40h1.2M76 40h1.2M77 40h1.2"/><path stroke="#e0401a" d="M76 31h1.2M77 31h1.2M75 32h1.2M76 32h1.2M77 32h1.2M78 32h1.2M79 32h1.2M75 33h1.2M76 33h1.2M77 33h1.2M78 33h1.2M75 34h1.2M76 34h1.2M77 34h1.2M75 35h1.2M76 35h1.2M77 35h1.2M78 35h1.2M75 36h1.2M76 36h1.2M77 36h1.2M78 36h1.2"/></g>
<g transform="translate(780.0 577.6)" stroke-width="1.2"><path stroke="#6b82cf" d="M87 4h1.2M83 5h1.2M90 5h1.2M79 13h1.2M82 13h1.2M86 13h1.2M73 14h1.2M80 15h1.2M89 17h1.2M93 18h1.2M66 20h1.2M59 21h1.2M71 25h1.2M25 26h1.2M92 28h1.2M44 31h1.2M7 32h1.2M90 33h1.2M92 33h1.2M4 34h1.2M66 35h1.2M27 37h1.2M87 38h1.2M89 39h1.2M36 41h1.2M43 41h1.2M66 41h1.2M86 41h1.2M61 42h1.2M63 42h1.2M53 43h1.2M33 44h1.2M66 44h1.2M52 45h1.2M88 45h1.2M52 47h1.2M60 47h1.2M85 48h1.2M65 49h1.2M17 50h1.2M19 51h1.2M36 52h1.2M87 52h1.2M11 53h1.2M29 54h1.2M61 56h1.2M12 57h1.2M84 57h1.2M88 57h1.2M58 59h1.2M88 59h1.2M57 60h1.2M88 61h1.2M39 62h1.2M95 63h1.2M54 64h1.2M57 64h1.2M85 64h1.2M89 65h1.2M9 66h1.2M59 66h1.2M87 66h1.2M57 67h1.2M88 68h1.2M89 73h1.2M87 74h1.2M87 78h1.2M89 80h1.2M85 81h1.2M89 82h1.2M81 85h1.2M56 87h1.2M82 92h1.2M79 93h1.2M78 94h1.2M87 95h1.2M83 96h1.2M40 97h1.2M58 99h1.2M67 99h1.2M56 100h1.2M63 100h1.2M77 101h1.2M75 102h1.2"/><path stroke="#1f3bb0" d="M74 10h1.2M75 10h1.2M83 14h1.2M76 16h1.2M82 16h1.2M84 16h1.2M85 16h1.2M87 16h1.2M77 17h1.2M76 18h1.2M78 18h1.2M79 18h1.2M74 19h1.2M86 19h1.2M72 20h1.2M73 20h1.2M76 20h1.2M72 21h1.2M73 21h1.2M76 21h1.2M87 21h1.2M88 21h1.2M87 23h1.2M86 24h1.2M88 24h1.2M86 26h1.2M71 27h1.2M72 27h1.2M88 28h1.2M89 28h1.2M90 28h1.2M70 29h1.2M72 29h1.2M87 29h1.2M69 30h1.2M89 30h1.2M90 30h1.2M68 31h1.2M86 31h1.2M88 31h1.2M69 32h1.2M66 33h1.2M67 33h1.2M69 33h1.2M87 34h1.2M69 36h1.2M85 37h1.2M68 39h1.2M69 40h1.2M69 41h1.2M69 42h1.2M65 43h1.2M58 44h1.2M85 44h1.2M85 45h1.2M68 46h1.2M84 46h1.2M67 48h1.2M70 49h1.2M69 50h1.2M70 50h1.2M83 50h1.2M85 50h1.2M86 50h1.2M68 51h1.2M69 51h1.2M84 51h1.2M81 52h1.2M83 52h1.2M34 53h1.2M65 53h1.2M67 53h1.2M82 53h1.2M65 54h1.2M83 54h1.2M78 55h1.2M79 55h1.2M84 55h1.2M65 56h1.2M76 56h1.2M64 57h1.2M68 57h1.2M65 58h1.2M66 58h1.2M68 58h1.2M76 58h1.2M82 58h1.2M65 59h1.2M67 59h1.2M82 59h1.2M84 59h1.2M66 60h1.2M79 60h1.2M83 60h1.2M65 61h1.2M67 61h1.2M77 61h1.2M84 61h1.2M63 62h1.2M67 62h1.2M79 62h1.2M83 62h1.2M82 63h1.2M62 64h1.2M82 65h1.2M62 66h1.2M83 66h1.2M51 67h1.2M64 67h1.2M51 68h1.2M60 68h1.2M61 68h1.2M82 68h1.2M83 68h1.2M59 69h1.2M62 69h1.2M64 69h1.2M80 70h1.2M82 70h1.2M59 71h1.2M80 71h1.2M83 71h1.2M86 71h1.2M60 72h1.2M66 72h1.2M69 72h1.2M80 72h1.2M86 72h1.2M61 73h1.2M66 73h1.2M68 73h1.2M79 73h1.2M83 73h1.2M59 74h1.2M61 74h1.2M81 74h1.2M84 75h1.2M61 76h1.2M78 76h1.2M61 77h1.2M78 77h1.2M83 77h1.2M84 77h1.2M61 78h1.2M62 78h1.2M63 78h1.2M62 79h1.2M75 79h1.2M60 80h1.2M64 80h1.2M60 81h1.2M72 81h1.2M75 81h1.2M77 81h1.2M79 81h1.2M61 82h1.2M77 82h1.2M81 82h1.2M61 83h1.2M75 83h1.2M76 83h1.2M83 83h1.2M84 83h1.2M56 84h1.2M63 84h1.2M71 84h1.2M83 84h1.2M64 85h1.2M68 85h1.2M77 85h1.2M78 85h1.2M79 85h1.2M70 86h1.2M74 86h1.2M75 86h1.2M76 86h1.2M61 87h1.2M68 87h1.2M76 87h1.2M73 88h1.2M74 88h1.2M76 88h1.2M63 89h1.2M74 89h1.2M76 89h1.2M79 89h1.2M81 89h1.2M57 90h1.2M61 90h1.2M63 90h1.2M64 90h1.2M66 90h1.2M80 90h1.2M55 91h1.2M56 91h1.2M60 91h1.2M61 91h1.2M69 91h1.2M71 91h1.2M73 91h1.2M77 91h1.2M56 92h1.2M66 92h1.2M69 92h1.2M71 92h1.2M72 92h1.2M76 92h1.2M65 93h1.2M67 93h1.2M63 94h1.2M68 94h1.2M72 94h1.2M64 95h1.2M65 95h1.2M69 95h1.2M71 95h1.2M71 96h1.2M71 98h1.2M76 98h1.2M70 99h1.2M72 99h1.2M76 99h1.2"/><path stroke="#2a60d8" d="M83 17h1.2M84 17h1.2M76 19h1.2M78 19h1.2M79 19h1.2M83 19h1.2M85 19h1.2M78 20h1.2M79 20h1.2M83 20h1.2M84 20h1.2M84 21h1.2M78 22h1.2M83 22h1.2M84 22h1.2M76 23h1.2M84 23h1.2M74 24h1.2M84 24h1.2M84 25h1.2M73 26h1.2M85 27h1.2M85 29h1.2M70 31h1.2M71 31h1.2M87 31h1.2M70 32h1.2M86 33h1.2M87 33h1.2M70 34h1.2M86 34h1.2M70 35h1.2M85 36h1.2M84 37h1.2M69 39h1.2M84 39h1.2M84 40h1.2M84 42h1.2M70 43h1.2M84 43h1.2M70 44h1.2M71 46h1.2M83 46h1.2M67 47h1.2M68 47h1.2M69 47h1.2M70 47h1.2M82 47h1.2M72 48h1.2M82 48h1.2M72 49h1.2M71 50h1.2M77 50h1.2M82 50h1.2M75 51h1.2M76 51h1.2M71 52h1.2M69 53h1.2M71 53h1.2M73 53h1.2M75 53h1.2M68 54h1.2M69 54h1.2M70 54h1.2M71 54h1.2M74 54h1.2M77 54h1.2M66 55h1.2M67 55h1.2M68 55h1.2M72 55h1.2M73 55h1.2M66 56h1.2M68 56h1.2M72 57h1.2M75 57h1.2M79 57h1.2M80 57h1.2M70 58h1.2M74 58h1.2M75 58h1.2M79 58h1.2M68 59h1.2M69 59h1.2M73 59h1.2M74 59h1.2M80 59h1.2M72 60h1.2M68 61h1.2M70 61h1.2M72 61h1.2M74 61h1.2M78 61h1.2M66 62h1.2M69 62h1.2M71 62h1.2M76 62h1.2M77 62h1.2M78 62h1.2M65 63h1.2M70 63h1.2M79 63h1.2M80 63h1.2M65 64h1.2M66 64h1.2M69 64h1.2M72 64h1.2M80 64h1.2M66 65h1.2M67 65h1.2M72 65h1.2M73 65h1.2M80 65h1.2M82 66h1.2M81 67h1.2M65 68h1.2M66 68h1.2M69 68h1.2M81 68h1.2M66 69h1.2M77 69h1.2M78 69h1.2M64 70h1.2M66 70h1.2M63 71h1.2M67 71h1.2M70 71h1.2M82 71h1.2M63 72h1.2M64 72h1.2M65 72h1.2M60 73h1.2M75 73h1.2M64 74h1.2M66 74h1.2M69 74h1.2M78 74h1.2M64 75h1.2M67 75h1.2M69 75h1.2M67 76h1.2M69 76h1.2M67 77h1.2M69 77h1.2M77 77h1.2M80 77h1.2M81 77h1.2M64 78h1.2M76 78h1.2M78 78h1.2M80 78h1.2M81 78h1.2M71 79h1.2M72 79h1.2M74 79h1.2M77 79h1.2M78 79h1.2M65 80h1.2M67 80h1.2M72 80h1.2M77 80h1.2M65 81h1.2M67 81h1.2M73 81h1.2M74 81h1.2M66 82h1.2M67 82h1.2M70 82h1.2M73 82h1.2M74 82h1.2M78 82h1.2M79 82h1.2M65 83h1.2M67 83h1.2M68 83h1.2M69 83h1.2M74 83h1.2M78 83h1.2M79 83h1.2M66 84h1.2M69 84h1.2M72 84h1.2M73 84h1.2M65 85h1.2M67 85h1.2M71 85h1.2M72 85h1.2M73 85h1.2M65 86h1.2M66 86h1.2M71 86h1.2M72 86h1.2M65 87h1.2M70 87h1.2M72 87h1.2M64 88h1.2M66 88h1.2M67 88h1.2M69 88h1.2M70 88h1.2M71 88h1.2M72 88h1.2M66 89h1.2M68 89h1.2M69 89h1.2M70 89h1.2M71 89h1.2"/><path stroke="#35b5d5" d="M84 18h1.2M84 19h1.2M79 21h1.2M80 21h1.2M79 22h1.2M80 22h1.2M80 23h1.2M81 23h1.2M75 24h1.2M78 24h1.2M79 24h1.2M80 24h1.2M83 24h1.2M74 26h1.2M82 26h1.2M84 26h1.2M73 27h1.2M82 27h1.2M84 27h1.2M74 28h1.2M84 28h1.2M85 28h1.2M74 29h1.2M83 29h1.2M73 30h1.2M83 30h1.2M84 31h1.2M71 32h1.2M85 33h1.2M85 34h1.2M71 35h1.2M83 37h1.2M70 38h1.2M83 39h1.2M72 40h1.2M71 42h1.2M83 43h1.2M83 44h1.2M71 45h1.2M72 45h1.2M72 46h1.2M73 46h1.2M82 46h1.2M73 47h1.2M73 48h1.2M77 48h1.2M79 48h1.2M80 48h1.2M81 48h1.2M74 49h1.2M76 49h1.2M78 49h1.2M80 49h1.2M81 49h1.2M72 50h1.2M73 50h1.2M75 50h1.2M79 50h1.2M80 50h1.2M81 50h1.2M72 51h1.2M73 51h1.2M74 51h1.2M78 51h1.2M79 51h1.2M73 52h1.2M77 52h1.2M78 52h1.2M79 52h1.2M77 53h1.2M78 53h1.2M75 55h1.2M74 56h1.2M73 57h1.2M74 57h1.2M71 58h1.2M80 58h1.2M70 59h1.2M71 59h1.2M70 60h1.2M72 62h1.2M73 62h1.2M72 63h1.2M73 63h1.2M75 63h1.2M76 63h1.2M70 64h1.2M77 64h1.2M68 65h1.2M69 65h1.2M70 65h1.2M77 65h1.2M67 66h1.2M69 66h1.2M70 66h1.2M71 66h1.2M74 66h1.2M67 67h1.2M69 67h1.2M70 67h1.2M72 67h1.2M73 67h1.2M74 67h1.2M78 67h1.2M79 67h1.2M80 67h1.2M67 68h1.2M70 68h1.2M75 68h1.2M76 68h1.2M78 68h1.2M79 68h1.2M80 68h1.2M67 69h1.2M68 69h1.2M67 70h1.2M68 70h1.2M69 70h1.2M70 70h1.2M71 71h1.2M74 71h1.2M76 71h1.2M77 71h1.2M74 72h1.2M77 72h1.2M74 73h1.2M76 73h1.2M77 73h1.2M71 74h1.2M75 74h1.2M77 74h1.2M65 75h1.2M66 75h1.2M70 75h1.2M74 75h1.2M75 75h1.2M76 75h1.2M77 75h1.2M65 76h1.2M70 76h1.2M71 76h1.2M72 76h1.2M73 76h1.2M75 76h1.2M76 76h1.2M65 77h1.2M66 77h1.2M70 77h1.2M71 77h1.2M74 77h1.2M75 77h1.2M76 77h1.2M65 78h1.2M66 78h1.2M67 78h1.2M68 78h1.2M70 78h1.2M74 78h1.2M65 79h1.2M67 79h1.2M68 79h1.2M69 79h1.2M70 79h1.2M68 80h1.2M69 80h1.2M70 80h1.2M70 81h1.2M69 82h1.2M65 88h1.2M65 89h1.2"/><path stroke="#5ac85c" d="M79 23h1.2M76 24h1.2M82 24h1.2M75 25h1.2M79 25h1.2M80 25h1.2M82 25h1.2M75 26h1.2M80 26h1.2M81 26h1.2M74 27h1.2M79 27h1.2M81 27h1.2M75 28h1.2M83 28h1.2M75 29h1.2M82 29h1.2M74 30h1.2M82 30h1.2M83 31h1.2M72 32h1.2M73 32h1.2M84 32h1.2M72 33h1.2M73 33h1.2M84 33h1.2M73 34h1.2M72 35h1.2M84 35h1.2M71 36h1.2M72 36h1.2M83 36h1.2M70 37h1.2M82 37h1.2M71 38h1.2M72 38h1.2M82 38h1.2M73 39h1.2M82 39h1.2M83 40h1.2M72 41h1.2M83 41h1.2M78 42h1.2M71 43h1.2M80 43h1.2M82 43h1.2M72 44h1.2M82 44h1.2M82 45h1.2M74 46h1.2M79 46h1.2M80 46h1.2M74 47h1.2M75 47h1.2M77 47h1.2M78 47h1.2M79 47h1.2M75 48h1.2M75 49h1.2M74 64h1.2M75 64h1.2M76 64h1.2M76 65h1.2M75 66h1.2M76 66h1.2M77 66h1.2M76 67h1.2M71 68h1.2M72 68h1.2M73 68h1.2M71 69h1.2M72 69h1.2M74 69h1.2M72 70h1.2M73 70h1.2M74 70h1.2M75 70h1.2M76 70h1.2M72 71h1.2M75 71h1.2M72 72h1.2M72 73h1.2M72 74h1.2M73 74h1.2M72 77h1.2M73 77h1.2M73 78h1.2"/><path stroke="#b5d935" d="M76 25h1.2M77 25h1.2M78 26h1.2M75 27h1.2M78 27h1.2M79 28h1.2M80 28h1.2M76 29h1.2M81 29h1.2M76 30h1.2M74 31h1.2M75 31h1.2M82 31h1.2M74 32h1.2M83 32h1.2M74 34h1.2M84 34h1.2M73 35h1.2M80 35h1.2M83 35h1.2M73 36h1.2M80 36h1.2M81 36h1.2M82 36h1.2M71 37h1.2M72 37h1.2M73 37h1.2M73 38h1.2M78 40h1.2M82 40h1.2M73 41h1.2M78 41h1.2M79 41h1.2M82 41h1.2M72 42h1.2M77 42h1.2M81 42h1.2M72 43h1.2M79 43h1.2M73 44h1.2M74 44h1.2M80 44h1.2M81 44h1.2M74 45h1.2M80 45h1.2M81 45h1.2M75 46h1.2M78 46h1.2M73 73h1.2"/><path stroke="#f2d21e" d="M76 26h1.2M77 26h1.2M76 27h1.2M77 27h1.2M76 28h1.2M77 28h1.2M78 28h1.2M77 29h1.2M78 29h1.2M79 29h1.2M80 29h1.2M77 30h1.2M78 30h1.2M79 30h1.2M81 30h1.2M76 31h1.2M77 31h1.2M78 31h1.2M79 31h1.2M80 31h1.2M81 31h1.2M75 32h1.2M82 32h1.2M74 33h1.2M83 33h1.2M80 34h1.2M83 34h1.2M74 35h1.2M75 35h1.2M79 35h1.2M81 35h1.2M82 35h1.2M74 36h1.2M75 36h1.2M79 36h1.2M74 37h1.2M75 37h1.2M76 37h1.2M80 37h1.2M74 38h1.2M75 38h1.2M76 38h1.2M77 38h1.2M74 39h1.2M75 39h1.2M76 39h1.2M77 39h1.2M78 39h1.2M81 39h1.2M74 40h1.2M77 40h1.2M79 40h1.2M74 41h1.2M77 41h1.2M80 41h1.2M81 41h1.2M73 42h1.2M76 42h1.2M73 43h1.2M74 43h1.2M75 43h1.2M76 43h1.2M77 43h1.2M78 44h1.2M79 44h1.2M75 45h1.2M78 45h1.2M76 46h1.2M77 46h1.2"/><path stroke="#f0862a" d="M80 30h1.2M79 32h1.2M80 32h1.2M81 32h1.2M75 33h1.2M82 33h1.2M75 34h1.2M79 34h1.2M82 34h1.2M76 36h1.2M77 37h1.2M79 37h1.2M80 38h1.2M80 39h1.2M75 40h1.2M76 40h1.2M80 40h1.2M81 40h1.2M76 41h1.2M74 42h1.2M76 44h1.2M77 44h1.2M76 45h1.2M77 45h1.2"/><path stroke="#e0401a" d="M76 32h1.2M77 32h1.2M78 32h1.2M76 33h1.2M77 33h1.2M78 33h1.2M79 33h1.2M80 33h1.2M81 33h1.2M76 34h1.2M77 34h1.2M78 34h1.2M81 34h1.2M76 35h1.2M77 35h1.2M78 35h1.2M77 36h1.2M78 36h1.2M78 37h1.2M78 38h1.2M79 38h1.2M75 41h1.2M75 42h1.2"/></g>
<path d="M141.5 45.5V155.2M75.2 92.5H188.6" stroke="#3a3a3a" stroke-width="1.3"/>
<rect x="75.2" y="45.5" width="113.4" height="109.7" fill="none" stroke="#1a1a1a" stroke-width="1.4"/>
<path d="M75.2 52.1h-2.5M75.2 65.2h-2.5M75.2 78.4h-2.5M75.2 91.6h-2.5M75.2 105.8h-2.5M75.2 117.9h-2.5M75.2 131.1h-2.5M75.2 142.0h-2.5M75.2 148.6h-2.5M75.2 153.0h-2.5M77.5 155.2v2.5M103.5 155.2v2.5M131.9 155.2v2.5M158.0 155.2v2.5M186.3 155.2v2.5" stroke="#333" stroke-width="0.8"/>
<text x="184.9" y="61.7" font-size="12.3" font-weight="bold" text-anchor="end">6.77%</text>
<text transform="translate(68.2 65.0) rotate(-90)" font-size="8" font-weight="bold">10<tspan font-size="6.5" dx="3.3" dy="-3.8">7.2</tspan></text>
<text transform="translate(68.2 86.5) rotate(-90)" font-size="8" font-weight="bold">10<tspan font-size="6.5" dx="3.3" dy="-3.8">5</tspan></text>
<text transform="translate(68.2 114.0) rotate(-90)" font-size="8" font-weight="bold">10<tspan font-size="6.5" dx="3.3" dy="-3.8">3</tspan></text>
<text transform="translate(68.2 147.5) rotate(-90)" font-size="8" font-weight="bold">-10<tspan font-size="6.5" dx="3.3" dy="-3.8">0.2</tspan></text>
<text x="69.2" y="167.7" font-size="8" font-weight="bold">10<tspan font-size="6.5" dx="3.5" dy="-4.6">2.1</tspan></text>
<text x="124.2" y="167.7" font-size="8" font-weight="bold">10<tspan font-size="6.5" dx="3.5" dy="-4.6">4</tspan></text>
<text x="149.9" y="167.7" font-size="8" font-weight="bold">10<tspan font-size="6.5" dx="3.5" dy="-4.6">5</tspan></text>
<text x="170.8" y="167.7" font-size="8" font-weight="bold">10<tspan font-size="6.5" dx="3.5" dy="-4.6">6.1</tspan></text>
<path d="M284.0 45.5V155.2M217.0 92.5H329.6" stroke="#3a3a3a" stroke-width="1.3"/>
<rect x="217.0" y="45.5" width="112.6" height="109.7" fill="none" stroke="#1a1a1a" stroke-width="1.4"/>
<path d="M217.0 52.1h-2.5M217.0 65.2h-2.5M217.0 78.4h-2.5M217.0 91.6h-2.5M217.0 105.8h-2.5M217.0 117.9h-2.5M217.0 131.1h-2.5M217.0 142.0h-2.5M217.0 148.6h-2.5M217.0 153.0h-2.5M219.3 155.2v2.5M245.2 155.2v2.5M273.3 155.2v2.5M299.2 155.2v2.5M327.3 155.2v2.5" stroke="#333" stroke-width="0.8"/>
<text x="328.7" y="61.7" font-size="12.3" font-weight="bold" text-anchor="end">44.51%</text>
<text transform="translate(210.0 65.0) rotate(-90)" font-size="8" font-weight="bold">10<tspan font-size="6.5" dx="3.3" dy="-3.8">7.2</tspan></text>
<text transform="translate(210.0 86.5) rotate(-90)" font-size="8" font-weight="bold">10<tspan font-size="6.5" dx="3.3" dy="-3.8">5</tspan></text>
<text transform="translate(210.0 114.0) rotate(-90)" font-size="8" font-weight="bold">10<tspan font-size="6.5" dx="3.3" dy="-3.8">3</tspan></text>
<text transform="translate(210.0 147.5) rotate(-90)" font-size="8" font-weight="bold">-10<tspan font-size="6.5" dx="3.3" dy="-3.8">0.2</tspan></text>
<text x="211.0" y="167.7" font-size="8" font-weight="bold">10<tspan font-size="6.5" dx="3.5" dy="-4.6">2.1</tspan></text>
<text x="266.0" y="167.7" font-size="8" font-weight="bold">10<tspan font-size="6.5" dx="3.5" dy="-4.6">4</tspan></text>
<text x="291.7" y="167.7" font-size="8" font-weight="bold">10<tspan font-size="6.5" dx="3.5" dy="-4.6">5</tspan></text>
<text x="312.6" y="167.7" font-size="8" font-weight="bold">10<tspan font-size="6.5" dx="3.5" dy="-4.6">6.1</tspan></text>
<path d="M429.3 45.5V155.2M362.7 92.5H476.0" stroke="#3a3a3a" stroke-width="1.3"/>
<rect x="362.7" y="45.5" width="113.3" height="109.7" fill="none" stroke="#1a1a1a" stroke-width="1.4"/>
<path d="M362.7 52.1h-2.5M362.7 65.2h-2.5M362.7 78.4h-2.5M362.7 91.6h-2.5M362.7 105.8h-2.5M362.7 117.9h-2.5M362.7 131.1h-2.5M362.7 142.0h-2.5M362.7 148.6h-2.5M362.7 153.0h-2.5M365.0 155.2v2.5M391.0 155.2v2.5M419.4 155.2v2.5M445.4 155.2v2.5M473.7 155.2v2.5" stroke="#333" stroke-width="0.8"/>
<text x="475.1" y="61.7" font-size="12.3" font-weight="bold" text-anchor="end">39.79%</text>
<text transform="translate(355.7 65.0) rotate(-90)" font-size="8" font-weight="bold">10<tspan font-size="6.5" dx="3.3" dy="-3.8">7.2</tspan></text>
<text transform="translate(355.7 86.5) rotate(-90)" font-size="8" font-weight="bold">10<tspan font-size="6.5" dx="3.3" dy="-3.8">5</tspan></text>
<text transform="translate(355.7 114.0) rotate(-90)" font-size="8" font-weight="bold">10<tspan font-size="6.5" dx="3.3" dy="-3.8">3</tspan></text>
<text transform="translate(355.7 147.5) rotate(-90)" font-size="8" font-weight="bold">-10<tspan font-size="6.5" dx="3.3" dy="-3.8">0.2</tspan></text>
<text x="356.7" y="167.7" font-size="8" font-weight="bold">10<tspan font-size="6.5" dx="3.5" dy="-4.6">2.1</tspan></text>
<text x="411.7" y="167.7" font-size="8" font-weight="bold">10<tspan font-size="6.5" dx="3.5" dy="-4.6">4</tspan></text>
<text x="437.4" y="167.7" font-size="8" font-weight="bold">10<tspan font-size="6.5" dx="3.5" dy="-4.6">5</tspan></text>
<text x="458.3" y="167.7" font-size="8" font-weight="bold">10<tspan font-size="6.5" dx="3.5" dy="-4.6">6.1</tspan></text>
<path d="M568.7 45.5V155.2M501.7 92.5H615.0" stroke="#3a3a3a" stroke-width="1.3"/>
<rect x="501.7" y="45.5" width="113.3" height="109.7" fill="none" stroke="#1a1a1a" stroke-width="1.4"/>
<path d="M501.7 52.1h-2.5M501.7 65.2h-2.5M501.7 78.4h-2.5M501.7 91.6h-2.5M501.7 105.8h-2.5M501.7 117.9h-2.5M501.7 131.1h-2.5M501.7 142.0h-2.5M501.7 148.6h-2.5M501.7 153.0h-2.5M504.0 155.2v2.5M530.0 155.2v2.5M558.4 155.2v2.5M584.4 155.2v2.5M612.7 155.2v2.5" stroke="#333" stroke-width="0.8"/>
<text x="614.1" y="61.7" font-size="12.3" font-weight="bold" text-anchor="end">36.94%</text>
<text transform="translate(494.7 65.0) rotate(-90)" font-size="8" font-weight="bold">10<tspan font-size="6.5" dx="3.3" dy="-3.8">7.2</tspan></text>
<text transform="translate(494.7 86.5) rotate(-90)" font-size="8" font-weight="bold">10<tspan font-size="6.5" dx="3.3" dy="-3.8">5</tspan></text>
<text transform="translate(494.7 114.0) rotate(-90)" font-size="8" font-weight="bold">10<tspan font-size="6.5" dx="3.3" dy="-3.8">3</tspan></text>
<text transform="translate(494.7 147.5) rotate(-90)" font-size="8" font-weight="bold">-10<tspan font-size="6.5" dx="3.3" dy="-3.8">0.2</tspan></text>
<text x="495.7" y="167.7" font-size="8" font-weight="bold">10<tspan font-size="6.5" dx="3.5" dy="-4.6">2.1</tspan></text>
<text x="550.7" y="167.7" font-size="8" font-weight="bold">10<tspan font-size="6.5" dx="3.5" dy="-4.6">4</tspan></text>
<text x="576.4" y="167.7" font-size="8" font-weight="bold">10<tspan font-size="6.5" dx="3.5" dy="-4.6">5</tspan></text>
<text x="597.3" y="167.7" font-size="8" font-weight="bold">10<tspan font-size="6.5" dx="3.5" dy="-4.6">6.1</tspan></text>
<path d="M709.7 45.5V155.2M641.7 92.5H756.0" stroke="#3a3a3a" stroke-width="1.3"/>
<rect x="641.7" y="45.5" width="114.3" height="109.7" fill="none" stroke="#1a1a1a" stroke-width="1.4"/>
<path d="M641.7 52.1h-2.5M641.7 65.2h-2.5M641.7 78.4h-2.5M641.7 91.6h-2.5M641.7 105.8h-2.5M641.7 117.9h-2.5M641.7 131.1h-2.5M641.7 142.0h-2.5M641.7 148.6h-2.5M641.7 153.0h-2.5M644.0 155.2v2.5M670.3 155.2v2.5M698.9 155.2v2.5M725.1 155.2v2.5M753.7 155.2v2.5" stroke="#333" stroke-width="0.8"/>
<text x="755.1" y="61.7" font-size="12.3" font-weight="bold" text-anchor="end">22.34%</text>
<text transform="translate(634.7 65.0) rotate(-90)" font-size="8" font-weight="bold">10<tspan font-size="6.5" dx="3.3" dy="-3.8">7.2</tspan></text>
<text transform="translate(634.7 86.5) rotate(-90)" font-size="8" font-weight="bold">10<tspan font-size="6.5" dx="3.3" dy="-3.8">5</tspan></text>
<text transform="translate(634.7 114.0) rotate(-90)" font-size="8" font-weight="bold">10<tspan font-size="6.5" dx="3.3" dy="-3.8">3</tspan></text>
<text transform="translate(634.7 147.5) rotate(-90)" font-size="8" font-weight="bold">-10<tspan font-size="6.5" dx="3.3" dy="-3.8">0.2</tspan></text>
<text x="635.7" y="167.7" font-size="8" font-weight="bold">10<tspan font-size="6.5" dx="3.5" dy="-4.6">2.1</tspan></text>
<text x="690.7" y="167.7" font-size="8" font-weight="bold">10<tspan font-size="6.5" dx="3.5" dy="-4.6">4</tspan></text>
<text x="716.4" y="167.7" font-size="8" font-weight="bold">10<tspan font-size="6.5" dx="3.5" dy="-4.6">5</tspan></text>
<text x="737.3" y="167.7" font-size="8" font-weight="bold">10<tspan font-size="6.5" dx="3.5" dy="-4.6">6.1</tspan></text>
<path d="M846.7 45.5V155.2M779.3 92.5H893.0" stroke="#3a3a3a" stroke-width="1.3"/>
<rect x="779.3" y="45.5" width="113.7" height="109.7" fill="none" stroke="#1a1a1a" stroke-width="1.4"/>
<path d="M779.3 52.1h-2.5M779.3 65.2h-2.5M779.3 78.4h-2.5M779.3 91.6h-2.5M779.3 105.8h-2.5M779.3 117.9h-2.5M779.3 131.1h-2.5M779.3 142.0h-2.5M779.3 148.6h-2.5M779.3 153.0h-2.5M781.6 155.2v2.5M807.7 155.2v2.5M836.1 155.2v2.5M862.3 155.2v2.5M890.7 155.2v2.5" stroke="#333" stroke-width="0.8"/>
<text x="892.1" y="61.7" font-size="12.3" font-weight="bold" text-anchor="end">26.93%</text>
<text transform="translate(772.3 65.0) rotate(-90)" font-size="8" font-weight="bold">10<tspan font-size="6.5" dx="3.3" dy="-3.8">7.2</tspan></text>
<text transform="translate(772.3 86.5) rotate(-90)" font-size="8" font-weight="bold">10<tspan font-size="6.5" dx="3.3" dy="-3.8">5</tspan></text>
<text transform="translate(772.3 114.0) rotate(-90)" font-size="8" font-weight="bold">10<tspan font-size="6.5" dx="3.3" dy="-3.8">3</tspan></text>
<text transform="translate(772.3 147.5) rotate(-90)" font-size="8" font-weight="bold">-10<tspan font-size="6.5" dx="3.3" dy="-3.8">0.2</tspan></text>
<text x="773.3" y="167.7" font-size="8" font-weight="bold">10<tspan font-size="6.5" dx="3.5" dy="-4.6">2.1</tspan></text>
<text x="828.3" y="167.7" font-size="8" font-weight="bold">10<tspan font-size="6.5" dx="3.5" dy="-4.6">4</tspan></text>
<text x="854.0" y="167.7" font-size="8" font-weight="bold">10<tspan font-size="6.5" dx="3.5" dy="-4.6">5</tspan></text>
<text x="874.9" y="167.7" font-size="8" font-weight="bold">10<tspan font-size="6.5" dx="3.5" dy="-4.6">6.1</tspan></text>
<path d="M137.4 182.5V288.2M76.7 222.2H186.6" stroke="#3a3a3a" stroke-width="1.3"/>
<rect x="76.7" y="182.5" width="109.9" height="105.7" fill="none" stroke="#1a1a1a" stroke-width="1.4"/>
<path d="M76.7 188.8h-2.5M76.7 201.5h-2.5M76.7 214.2h-2.5M76.7 226.9h-2.5M76.7 240.6h-2.5M76.7 252.3h-2.5M76.7 264.9h-2.5M76.7 275.5h-2.5M76.7 281.9h-2.5M76.7 286.1h-2.5M78.9 288.2v2.5M104.2 288.2v2.5M131.7 288.2v2.5M156.9 288.2v2.5M184.4 288.2v2.5" stroke="#333" stroke-width="0.8"/>
<text x="185.6" y="197.5" font-size="12.3" font-weight="bold" text-anchor="end">44.51%</text>
<text transform="translate(69.7 200.5) rotate(-90)" font-size="8" font-weight="bold">10<tspan font-size="6.5" dx="3.3" dy="-3.8">9.3</tspan></text>
<text transform="translate(69.7 216.0) rotate(-90)" font-size="8" font-weight="bold">10<tspan font-size="6.5" dx="3.3" dy="-3.8">7</tspan></text>
<text transform="translate(69.7 238.0) rotate(-90)" font-size="8" font-weight="bold">10<tspan font-size="6.5" dx="3.3" dy="-3.8">5</tspan></text>
<text transform="translate(69.7 260.5) rotate(-90)" font-size="8" font-weight="bold">10<tspan font-size="6.5" dx="3.3" dy="-3.8">3</tspan></text>
<text transform="translate(69.7 293.5) rotate(-90)" font-size="8" font-weight="bold">-10<tspan font-size="6.5" dx="3.3" dy="-3.8">-0.1</tspan></text>
<text x="71.0" y="299.3" font-size="8" font-weight="bold">10<tspan font-size="6.5" dx="3.5" dy="-4.6">1.9</tspan></text>
<text x="128.2" y="299.3" font-size="8" font-weight="bold">10<tspan font-size="6.5" dx="3.5" dy="-4.6">4</tspan></text>
<text x="170.2" y="299.3" font-size="8" font-weight="bold">10<tspan font-size="6.5" dx="3.5" dy="-4.6">5.9</tspan></text>
<path d="M278.9 182.5V288.2M217.3 222.2H328.7" stroke="#3a3a3a" stroke-width="1.3"/>
<rect x="217.3" y="182.5" width="111.4" height="105.7" fill="none" stroke="#1a1a1a" stroke-width="1.4"/>
<path d="M217.3 188.8h-2.5M217.3 201.5h-2.5M217.3 214.2h-2.5M217.3 226.9h-2.5M217.3 240.6h-2.5M217.3 252.3h-2.5M217.3 264.9h-2.5M217.3 275.5h-2.5M217.3 281.9h-2.5M217.3 286.1h-2.5M219.5 288.2v2.5M245.2 288.2v2.5M273.0 288.2v2.5M298.6 288.2v2.5M326.5 288.2v2.5" stroke="#333" stroke-width="0.8"/>
<text x="327.7" y="197.5" font-size="12.3" font-weight="bold" text-anchor="end">87.48%</text>
<text transform="translate(210.3 200.5) rotate(-90)" font-size="8" font-weight="bold">10<tspan font-size="6.5" dx="3.3" dy="-3.8">9.3</tspan></text>
<text transform="translate(210.3 216.0) rotate(-90)" font-size="8" font-weight="bold">10<tspan font-size="6.5" dx="3.3" dy="-3.8">7</tspan></text>
<text transform="translate(210.3 238.0) rotate(-90)" font-size="8" font-weight="bold">10<tspan font-size="6.5" dx="3.3" dy="-3.8">5</tspan></text>
<text transform="translate(210.3 260.5) rotate(-90)" font-size="8" font-weight="bold">10<tspan font-size="6.5" dx="3.3" dy="-3.8">3</tspan></text>
<text transform="translate(210.3 293.5) rotate(-90)" font-size="8" font-weight="bold">-10<tspan font-size="6.5" dx="3.3" dy="-3.8">-0.1</tspan></text>
<text x="211.6" y="299.3" font-size="8" font-weight="bold">10<tspan font-size="6.5" dx="3.5" dy="-4.6">1.9</tspan></text>
<text x="268.8" y="299.3" font-size="8" font-weight="bold">10<tspan font-size="6.5" dx="3.5" dy="-4.6">4</tspan></text>
<text x="310.8" y="299.3" font-size="8" font-weight="bold">10<tspan font-size="6.5" dx="3.5" dy="-4.6">5.9</tspan></text>
<path d="M423.3 182.5V288.2M361.7 222.2H472.7" stroke="#3a3a3a" stroke-width="1.3"/>
<rect x="361.7" y="182.5" width="111.0" height="105.7" fill="none" stroke="#1a1a1a" stroke-width="1.4"/>
<path d="M361.7 188.8h-2.5M361.7 201.5h-2.5M361.7 214.2h-2.5M361.7 226.9h-2.5M361.7 240.6h-2.5M361.7 252.3h-2.5M361.7 264.9h-2.5M361.7 275.5h-2.5M361.7 281.9h-2.5M361.7 286.1h-2.5M363.9 288.2v2.5M389.4 288.2v2.5M417.2 288.2v2.5M442.7 288.2v2.5M470.5 288.2v2.5" stroke="#333" stroke-width="0.8"/>
<text x="471.7" y="197.5" font-size="12.3" font-weight="bold" text-anchor="end">82.56%</text>
<text transform="translate(354.7 200.5) rotate(-90)" font-size="8" font-weight="bold">10<tspan font-size="6.5" dx="3.3" dy="-3.8">9.3</tspan></text>
<text transform="translate(354.7 216.0) rotate(-90)" font-size="8" font-weight="bold">10<tspan font-size="6.5" dx="3.3" dy="-3.8">7</tspan></text>
<text transform="translate(354.7 238.0) rotate(-90)" font-size="8" font-weight="bold">10<tspan font-size="6.5" dx="3.3" dy="-3.8">5</tspan></text>
<text transform="translate(354.7 260.5) rotate(-90)" font-size="8" font-weight="bold">10<tspan font-size="6.5" dx="3.3" dy="-3.8">3</tspan></text>
<text transform="translate(354.7 293.5) rotate(-90)" font-size="8" font-weight="bold">-10<tspan font-size="6.5" dx="3.3" dy="-3.8">-0.1</tspan></text>
<text x="356.0" y="299.3" font-size="8" font-weight="bold">10<tspan font-size="6.5" dx="3.5" dy="-4.6">1.9</tspan></text>
<text x="413.2" y="299.3" font-size="8" font-weight="bold">10<tspan font-size="6.5" dx="3.5" dy="-4.6">4</tspan></text>
<text x="455.2" y="299.3" font-size="8" font-weight="bold">10<tspan font-size="6.5" dx="3.5" dy="-4.6">5.9</tspan></text>
<path d="M564.0 182.5V288.2M503.3 222.2H614.0" stroke="#3a3a3a" stroke-width="1.3"/>
<rect x="503.3" y="182.5" width="110.7" height="105.7" fill="none" stroke="#1a1a1a" stroke-width="1.4"/>
<path d="M503.3 188.8h-2.5M503.3 201.5h-2.5M503.3 214.2h-2.5M503.3 226.9h-2.5M503.3 240.6h-2.5M503.3 252.3h-2.5M503.3 264.9h-2.5M503.3 275.5h-2.5M503.3 281.9h-2.5M503.3 286.1h-2.5M505.5 288.2v2.5M531.0 288.2v2.5M558.6 288.2v2.5M584.1 288.2v2.5M611.8 288.2v2.5" stroke="#333" stroke-width="0.8"/>
<text x="613.0" y="197.5" font-size="12.3" font-weight="bold" text-anchor="end">81.42%</text>
<text transform="translate(496.3 200.5) rotate(-90)" font-size="8" font-weight="bold">10<tspan font-size="6.5" dx="3.3" dy="-3.8">9.3</tspan></text>
<text transform="translate(496.3 216.0) rotate(-90)" font-size="8" font-weight="bold">10<tspan font-size="6.5" dx="3.3" dy="-3.8">7</tspan></text>
<text transform="translate(496.3 238.0) rotate(-90)" font-size="8" font-weight="bold">10<tspan font-size="6.5" dx="3.3" dy="-3.8">5</tspan></text>
<text transform="translate(496.3 260.5) rotate(-90)" font-size="8" font-weight="bold">10<tspan font-size="6.5" dx="3.3" dy="-3.8">3</tspan></text>
<text transform="translate(496.3 293.5) rotate(-90)" font-size="8" font-weight="bold">-10<tspan font-size="6.5" dx="3.3" dy="-3.8">-0.1</tspan></text>
<text x="497.6" y="299.3" font-size="8" font-weight="bold">10<tspan font-size="6.5" dx="3.5" dy="-4.6">1.9</tspan></text>
<text x="554.8" y="299.3" font-size="8" font-weight="bold">10<tspan font-size="6.5" dx="3.5" dy="-4.6">4</tspan></text>
<text x="596.8" y="299.3" font-size="8" font-weight="bold">10<tspan font-size="6.5" dx="3.5" dy="-4.6">5.9</tspan></text>
<path d="M704.0 182.5V288.2M641.7 222.2H754.3" stroke="#3a3a3a" stroke-width="1.3"/>
<rect x="641.7" y="182.5" width="112.6" height="105.7" fill="none" stroke="#1a1a1a" stroke-width="1.4"/>
<path d="M641.7 188.8h-2.5M641.7 201.5h-2.5M641.7 214.2h-2.5M641.7 226.9h-2.5M641.7 240.6h-2.5M641.7 252.3h-2.5M641.7 264.9h-2.5M641.7 275.5h-2.5M641.7 281.9h-2.5M641.7 286.1h-2.5M644.0 288.2v2.5M669.9 288.2v2.5M698.0 288.2v2.5M723.9 288.2v2.5M752.0 288.2v2.5" stroke="#333" stroke-width="0.8"/>
<text x="753.3" y="197.5" font-size="12.3" font-weight="bold" text-anchor="end">82.51%</text>
<text transform="translate(634.7 200.5) rotate(-90)" font-size="8" font-weight="bold">10<tspan font-size="6.5" dx="3.3" dy="-3.8">9.3</tspan></text>
<text transform="translate(634.7 216.0) rotate(-90)" font-size="8" font-weight="bold">10<tspan font-size="6.5" dx="3.3" dy="-3.8">7</tspan></text>
<text transform="translate(634.7 238.0) rotate(-90)" font-size="8" font-weight="bold">10<tspan font-size="6.5" dx="3.3" dy="-3.8">5</tspan></text>
<text transform="translate(634.7 260.5) rotate(-90)" font-size="8" font-weight="bold">10<tspan font-size="6.5" dx="3.3" dy="-3.8">3</tspan></text>
<text transform="translate(634.7 293.5) rotate(-90)" font-size="8" font-weight="bold">-10<tspan font-size="6.5" dx="3.3" dy="-3.8">-0.1</tspan></text>
<text x="636.0" y="299.3" font-size="8" font-weight="bold">10<tspan font-size="6.5" dx="3.5" dy="-4.6">1.9</tspan></text>
<text x="693.2" y="299.3" font-size="8" font-weight="bold">10<tspan font-size="6.5" dx="3.5" dy="-4.6">4</tspan></text>
<text x="735.2" y="299.3" font-size="8" font-weight="bold">10<tspan font-size="6.5" dx="3.5" dy="-4.6">5.9</tspan></text>
<path d="M842.0 182.5V288.2M780.0 222.2H891.0" stroke="#3a3a3a" stroke-width="1.3"/>
<rect x="780.0" y="182.5" width="111.0" height="105.7" fill="none" stroke="#1a1a1a" stroke-width="1.4"/>
<path d="M780.0 188.8h-2.5M780.0 201.5h-2.5M780.0 214.2h-2.5M780.0 226.9h-2.5M780.0 240.6h-2.5M780.0 252.3h-2.5M780.0 264.9h-2.5M780.0 275.5h-2.5M780.0 281.9h-2.5M780.0 286.1h-2.5M782.2 288.2v2.5M807.8 288.2v2.5M835.5 288.2v2.5M861.0 288.2v2.5M888.8 288.2v2.5" stroke="#333" stroke-width="0.8"/>
<text x="890.0" y="197.5" font-size="12.3" font-weight="bold" text-anchor="end">74.07%</text>
<text transform="translate(773.0 200.5) rotate(-90)" font-size="8" font-weight="bold">10<tspan font-size="6.5" dx="3.3" dy="-3.8">9.3</tspan></text>
<text transform="translate(773.0 216.0) rotate(-90)" font-size="8" font-weight="bold">10<tspan font-size="6.5" dx="3.3" dy="-3.8">7</tspan></text>
<text transform="translate(773.0 238.0) rotate(-90)" font-size="8" font-weight="bold">10<tspan font-size="6.5" dx="3.3" dy="-3.8">5</tspan></text>
<text transform="translate(773.0 260.5) rotate(-90)" font-size="8" font-weight="bold">10<tspan font-size="6.5" dx="3.3" dy="-3.8">3</tspan></text>
<text transform="translate(773.0 293.5) rotate(-90)" font-size="8" font-weight="bold">-10<tspan font-size="6.5" dx="3.3" dy="-3.8">-0.1</tspan></text>
<text x="774.3" y="299.3" font-size="8" font-weight="bold">10<tspan font-size="6.5" dx="3.5" dy="-4.6">1.9</tspan></text>
<text x="831.5" y="299.3" font-size="8" font-weight="bold">10<tspan font-size="6.5" dx="3.5" dy="-4.6">4</tspan></text>
<text x="873.5" y="299.3" font-size="8" font-weight="bold">10<tspan font-size="6.5" dx="3.5" dy="-4.6">5.9</tspan></text>
<path d="M141.0 313.8V420.3M76.7 352.4H186.6" stroke="#3a3a3a" stroke-width="1.3"/>
<rect x="76.7" y="313.8" width="109.9" height="106.5" fill="none" stroke="#1a1a1a" stroke-width="1.4"/>
<path d="M76.7 320.2h-2.5M76.7 333.0h-2.5M76.7 345.8h-2.5M76.7 358.5h-2.5M76.7 372.4h-2.5M76.7 384.1h-2.5M76.7 396.9h-2.5M76.7 407.5h-2.5M76.7 413.9h-2.5M76.7 418.2h-2.5M78.9 420.3v2.5M104.2 420.3v2.5M131.7 420.3v2.5M156.9 420.3v2.5M184.4 420.3v2.5" stroke="#333" stroke-width="0.8"/>
<text x="185.0" y="328.2" font-size="12.1" font-weight="bold" text-anchor="end">57.06%</text>
<text transform="translate(69.7 332.3) rotate(-90)" font-size="8" font-weight="bold">10<tspan font-size="6.5" dx="3.3" dy="-3.8">6.3</tspan></text>
<text transform="translate(69.7 354.3) rotate(-90)" font-size="8" font-weight="bold">10<tspan font-size="6.5" dx="3.3" dy="-3.8">4</tspan></text>
<text transform="translate(69.7 383.3) rotate(-90)" font-size="8" font-weight="bold">10<tspan font-size="6.5" dx="3.3" dy="-3.8">2</tspan></text>
<text transform="translate(69.7 426.3) rotate(-90)" font-size="8" font-weight="bold">-10<tspan font-size="6.5" dx="3.3" dy="-3.8">1.2</tspan></text>
<text x="70.7" y="430.9" font-size="8" font-weight="bold">10<tspan font-size="6.5" dx="3.5" dy="-4.6">2.1</tspan></text>
<text x="125.7" y="430.9" font-size="8" font-weight="bold">10<tspan font-size="6.5" dx="3.5" dy="-4.6">4</tspan></text>
<text x="151.4" y="430.9" font-size="8" font-weight="bold">10<tspan font-size="6.5" dx="3.5" dy="-4.6">5</tspan></text>
<text x="172.3" y="430.9" font-size="8" font-weight="bold">10<tspan font-size="6.5" dx="3.5" dy="-4.6">6.1</tspan></text>
<path d="M282.0 313.8V420.3M217.3 352.4H328.7" stroke="#3a3a3a" stroke-width="1.3"/>
<rect x="217.3" y="313.8" width="111.4" height="106.5" fill="none" stroke="#1a1a1a" stroke-width="1.4"/>
<path d="M217.3 320.2h-2.5M217.3 333.0h-2.5M217.3 345.8h-2.5M217.3 358.5h-2.5M217.3 372.4h-2.5M217.3 384.1h-2.5M217.3 396.9h-2.5M217.3 407.5h-2.5M217.3 413.9h-2.5M217.3 418.2h-2.5M219.5 420.3v2.5M245.2 420.3v2.5M273.0 420.3v2.5M298.6 420.3v2.5M326.5 420.3v2.5" stroke="#333" stroke-width="0.8"/>
<text x="327.1" y="328.2" font-size="12.1" font-weight="bold" text-anchor="end">85.58%</text>
<text transform="translate(210.3 332.3) rotate(-90)" font-size="8" font-weight="bold">10<tspan font-size="6.5" dx="3.3" dy="-3.8">6.3</tspan></text>
<text transform="translate(210.3 354.3) rotate(-90)" font-size="8" font-weight="bold">10<tspan font-size="6.5" dx="3.3" dy="-3.8">4</tspan></text>
<text transform="translate(210.3 383.3) rotate(-90)" font-size="8" font-weight="bold">10<tspan font-size="6.5" dx="3.3" dy="-3.8">2</tspan></text>
<text transform="translate(210.3 426.3) rotate(-90)" font-size="8" font-weight="bold">-10<tspan font-size="6.5" dx="3.3" dy="-3.8">1.2</tspan></text>
<text x="211.3" y="430.9" font-size="8" font-weight="bold">10<tspan font-size="6.5" dx="3.5" dy="-4.6">2.1</tspan></text>
<text x="266.3" y="430.9" font-size="8" font-weight="bold">10<tspan font-size="6.5" dx="3.5" dy="-4.6">4</tspan></text>
<text x="292.0" y="430.9" font-size="8" font-weight="bold">10<tspan font-size="6.5" dx="3.5" dy="-4.6">5</tspan></text>
<text x="312.9" y="430.9" font-size="8" font-weight="bold">10<tspan font-size="6.5" dx="3.5" dy="-4.6">6.1</tspan></text>
<path d="M426.3 313.8V420.3M361.7 352.4H472.7" stroke="#3a3a3a" stroke-width="1.3"/>
<rect x="361.7" y="313.8" width="111.0" height="106.5" fill="none" stroke="#1a1a1a" stroke-width="1.4"/>
<path d="M361.7 320.2h-2.5M361.7 333.0h-2.5M361.7 345.8h-2.5M361.7 358.5h-2.5M361.7 372.4h-2.5M361.7 384.1h-2.5M361.7 396.9h-2.5M361.7 407.5h-2.5M361.7 413.9h-2.5M361.7 418.2h-2.5M363.9 420.3v2.5M389.4 420.3v2.5M417.2 420.3v2.5M442.7 420.3v2.5M470.5 420.3v2.5" stroke="#333" stroke-width="0.8"/>
<text x="471.1" y="328.2" font-size="12.1" font-weight="bold" text-anchor="end">87.37%</text>
<text transform="translate(354.7 332.3) rotate(-90)" font-size="8" font-weight="bold">10<tspan font-size="6.5" dx="3.3" dy="-3.8">6.3</tspan></text>
<text transform="translate(354.7 354.3) rotate(-90)" font-size="8" font-weight="bold">10<tspan font-size="6.5" dx="3.3" dy="-3.8">4</tspan></text>
<text transform="translate(354.7 383.3) rotate(-90)" font-size="8" font-weight="bold">10<tspan font-size="6.5" dx="3.3" dy="-3.8">2</tspan></text>
<text transform="translate(354.7 426.3) rotate(-90)" font-size="8" font-weight="bold">-10<tspan font-size="6.5" dx="3.3" dy="-3.8">1.2</tspan></text>
<text x="355.7" y="430.9" font-size="8" font-weight="bold">10<tspan font-size="6.5" dx="3.5" dy="-4.6">2.1</tspan></text>
<text x="410.7" y="430.9" font-size="8" font-weight="bold">10<tspan font-size="6.5" dx="3.5" dy="-4.6">4</tspan></text>
<text x="436.4" y="430.9" font-size="8" font-weight="bold">10<tspan font-size="6.5" dx="3.5" dy="-4.6">5</tspan></text>
<text x="457.3" y="430.9" font-size="8" font-weight="bold">10<tspan font-size="6.5" dx="3.5" dy="-4.6">6.1</tspan></text>
<path d="M568.4 313.8V420.3M503.3 352.4H614.0" stroke="#3a3a3a" stroke-width="1.3"/>
<rect x="503.3" y="313.8" width="110.7" height="106.5" fill="none" stroke="#1a1a1a" stroke-width="1.4"/>
<path d="M503.3 320.2h-2.5M503.3 333.0h-2.5M503.3 345.8h-2.5M503.3 358.5h-2.5M503.3 372.4h-2.5M503.3 384.1h-2.5M503.3 396.9h-2.5M503.3 407.5h-2.5M503.3 413.9h-2.5M503.3 418.2h-2.5M505.5 420.3v2.5M531.0 420.3v2.5M558.6 420.3v2.5M584.1 420.3v2.5M611.8 420.3v2.5" stroke="#333" stroke-width="0.8"/>
<text x="612.4" y="328.2" font-size="12.1" font-weight="bold" text-anchor="end">82.76%</text>
<text transform="translate(496.3 332.3) rotate(-90)" font-size="8" font-weight="bold">10<tspan font-size="6.5" dx="3.3" dy="-3.8">6.3</tspan></text>
<text transform="translate(496.3 354.3) rotate(-90)" font-size="8" font-weight="bold">10<tspan font-size="6.5" dx="3.3" dy="-3.8">4</tspan></text>
<text transform="translate(496.3 383.3) rotate(-90)" font-size="8" font-weight="bold">10<tspan font-size="6.5" dx="3.3" dy="-3.8">2</tspan></text>
<text transform="translate(496.3 426.3) rotate(-90)" font-size="8" font-weight="bold">-10<tspan font-size="6.5" dx="3.3" dy="-3.8">1.2</tspan></text>
<text x="497.3" y="430.9" font-size="8" font-weight="bold">10<tspan font-size="6.5" dx="3.5" dy="-4.6">2.1</tspan></text>
<text x="552.3" y="430.9" font-size="8" font-weight="bold">10<tspan font-size="6.5" dx="3.5" dy="-4.6">4</tspan></text>
<text x="578.0" y="430.9" font-size="8" font-weight="bold">10<tspan font-size="6.5" dx="3.5" dy="-4.6">5</tspan></text>
<text x="598.9" y="430.9" font-size="8" font-weight="bold">10<tspan font-size="6.5" dx="3.5" dy="-4.6">6.1</tspan></text>
<path d="M708.0 313.8V420.3M641.7 352.4H754.3" stroke="#3a3a3a" stroke-width="1.3"/>
<rect x="641.7" y="313.8" width="112.6" height="106.5" fill="none" stroke="#1a1a1a" stroke-width="1.4"/>
<path d="M641.7 320.2h-2.5M641.7 333.0h-2.5M641.7 345.8h-2.5M641.7 358.5h-2.5M641.7 372.4h-2.5M641.7 384.1h-2.5M641.7 396.9h-2.5M641.7 407.5h-2.5M641.7 413.9h-2.5M641.7 418.2h-2.5M644.0 420.3v2.5M669.9 420.3v2.5M698.0 420.3v2.5M723.9 420.3v2.5M752.0 420.3v2.5" stroke="#333" stroke-width="0.8"/>
<text x="752.7" y="328.2" font-size="12.1" font-weight="bold" text-anchor="end">67.52%</text>
<text transform="translate(634.7 332.3) rotate(-90)" font-size="8" font-weight="bold">10<tspan font-size="6.5" dx="3.3" dy="-3.8">6.3</tspan></text>
<text transform="translate(634.7 354.3) rotate(-90)" font-size="8" font-weight="bold">10<tspan font-size="6.5" dx="3.3" dy="-3.8">4</tspan></text>
<text transform="translate(634.7 383.3) rotate(-90)" font-size="8" font-weight="bold">10<tspan font-size="6.5" dx="3.3" dy="-3.8">2</tspan></text>
<text transform="translate(634.7 426.3) rotate(-90)" font-size="8" font-weight="bold">-10<tspan font-size="6.5" dx="3.3" dy="-3.8">1.2</tspan></text>
<text x="635.7" y="430.9" font-size="8" font-weight="bold">10<tspan font-size="6.5" dx="3.5" dy="-4.6">2.1</tspan></text>
<text x="690.7" y="430.9" font-size="8" font-weight="bold">10<tspan font-size="6.5" dx="3.5" dy="-4.6">4</tspan></text>
<text x="716.4" y="430.9" font-size="8" font-weight="bold">10<tspan font-size="6.5" dx="3.5" dy="-4.6">5</tspan></text>
<text x="737.3" y="430.9" font-size="8" font-weight="bold">10<tspan font-size="6.5" dx="3.5" dy="-4.6">6.1</tspan></text>
<path d="M845.8 313.8V420.3M780.0 352.4H891.0" stroke="#3a3a3a" stroke-width="1.3"/>
<rect x="780.0" y="313.8" width="111.0" height="106.5" fill="none" stroke="#1a1a1a" stroke-width="1.4"/>
<path d="M780.0 320.2h-2.5M780.0 333.0h-2.5M780.0 345.8h-2.5M780.0 358.5h-2.5M780.0 372.4h-2.5M780.0 384.1h-2.5M780.0 396.9h-2.5M780.0 407.5h-2.5M780.0 413.9h-2.5M780.0 418.2h-2.5M782.2 420.3v2.5M807.8 420.3v2.5M835.5 420.3v2.5M861.0 420.3v2.5M888.8 420.3v2.5" stroke="#333" stroke-width="0.8"/>
<text x="889.4" y="328.2" font-size="12.1" font-weight="bold" text-anchor="end">67.37%</text>
<text transform="translate(773.0 332.3) rotate(-90)" font-size="8" font-weight="bold">10<tspan font-size="6.5" dx="3.3" dy="-3.8">6.3</tspan></text>
<text transform="translate(773.0 354.3) rotate(-90)" font-size="8" font-weight="bold">10<tspan font-size="6.5" dx="3.3" dy="-3.8">4</tspan></text>
<text transform="translate(773.0 383.3) rotate(-90)" font-size="8" font-weight="bold">10<tspan font-size="6.5" dx="3.3" dy="-3.8">2</tspan></text>
<text transform="translate(773.0 426.3) rotate(-90)" font-size="8" font-weight="bold">-10<tspan font-size="6.5" dx="3.3" dy="-3.8">1.2</tspan></text>
<text x="774.0" y="430.9" font-size="8" font-weight="bold">10<tspan font-size="6.5" dx="3.5" dy="-4.6">2.1</tspan></text>
<text x="829.0" y="430.9" font-size="8" font-weight="bold">10<tspan font-size="6.5" dx="3.5" dy="-4.6">4</tspan></text>
<text x="854.7" y="430.9" font-size="8" font-weight="bold">10<tspan font-size="6.5" dx="3.5" dy="-4.6">5</tspan></text>
<text x="875.6" y="430.9" font-size="8" font-weight="bold">10<tspan font-size="6.5" dx="3.5" dy="-4.6">6.1</tspan></text>
<path d="M150.3 442.2V549.6M75.2 514.7H186.7" stroke="#3a3a3a" stroke-width="1.3"/>
<rect x="75.2" y="442.2" width="111.5" height="107.4" fill="none" stroke="#1f2a6e" stroke-width="1.1"/>
<path d="M75.2 448.6h-2.5M75.2 461.5h-2.5M75.2 474.4h-2.5M75.2 487.3h-2.5M75.2 501.3h-2.5M75.2 513.1h-2.5M75.2 526.0h-2.5M75.2 536.7h-2.5M75.2 543.2h-2.5M75.2 547.5h-2.5M77.4 549.6v2.5M103.1 549.6v2.5M130.9 549.6v2.5M156.6 549.6v2.5M184.5 549.6v2.5" stroke="#333" stroke-width="0.8"/>
<text x="186.6" y="454.9" font-size="9.9" font-weight="bold" text-anchor="end">34.29%</text>
<text transform="translate(68.2 462.2) rotate(-90)" font-size="8" font-weight="bold">10<tspan font-size="6.5" dx="3.3" dy="-3.8">4.9</tspan></text>
<text transform="translate(68.2 504.2) rotate(-90)" font-size="8" font-weight="bold">10<tspan font-size="6.5" dx="3.3" dy="-3.8">4.5</tspan></text>
<text transform="translate(68.2 553.2) rotate(-90)" font-size="8" font-weight="bold">-10<tspan font-size="6.5" dx="3.3" dy="-3.8">4.4</tspan></text>
<text x="70.2" y="559.8" font-size="8" font-weight="bold">10<tspan font-size="6.5" dx="3.5" dy="-4.6">1.8</tspan></text>
<text x="127.2" y="559.8" font-size="8" font-weight="bold">10<tspan font-size="6.5" dx="3.5" dy="-4.6">4</tspan></text>
<text x="168.2" y="559.8" font-size="8" font-weight="bold">10<tspan font-size="6.5" dx="3.5" dy="-4.6">5.8</tspan></text>
<path d="M291.8 442.2V549.6M215.2 514.7H327.3" stroke="#3a3a3a" stroke-width="1.3"/>
<rect x="215.2" y="442.2" width="112.1" height="107.4" fill="none" stroke="#1f2a6e" stroke-width="1.1"/>
<path d="M215.2 448.6h-2.5M215.2 461.5h-2.5M215.2 474.4h-2.5M215.2 487.3h-2.5M215.2 501.3h-2.5M215.2 513.1h-2.5M215.2 526.0h-2.5M215.2 536.7h-2.5M215.2 543.2h-2.5M215.2 547.5h-2.5M217.4 549.6v2.5M243.2 549.6v2.5M271.2 549.6v2.5M297.0 549.6v2.5M325.1 549.6v2.5" stroke="#333" stroke-width="0.8"/>
<text x="327.2" y="454.9" font-size="9.9" font-weight="bold" text-anchor="end">78.38%</text>
<text transform="translate(208.2 462.2) rotate(-90)" font-size="8" font-weight="bold">10<tspan font-size="6.5" dx="3.3" dy="-3.8">4.9</tspan></text>
<text transform="translate(208.2 504.2) rotate(-90)" font-size="8" font-weight="bold">10<tspan font-size="6.5" dx="3.3" dy="-3.8">4.5</tspan></text>
<text transform="translate(208.2 553.2) rotate(-90)" font-size="8" font-weight="bold">-10<tspan font-size="6.5" dx="3.3" dy="-3.8">4.4</tspan></text>
<text x="210.2" y="559.8" font-size="8" font-weight="bold">10<tspan font-size="6.5" dx="3.5" dy="-4.6">1.8</tspan></text>
<text x="267.2" y="559.8" font-size="8" font-weight="bold">10<tspan font-size="6.5" dx="3.5" dy="-4.6">4</tspan></text>
<text x="308.2" y="559.8" font-size="8" font-weight="bold">10<tspan font-size="6.5" dx="3.5" dy="-4.6">5.8</tspan></text>
<path d="M435.3 442.2V549.6M360.7 514.7H471.7" stroke="#3a3a3a" stroke-width="1.3"/>
<rect x="360.7" y="442.2" width="111.0" height="107.4" fill="none" stroke="#1f2a6e" stroke-width="1.1"/>
<path d="M360.7 448.6h-2.5M360.7 461.5h-2.5M360.7 474.4h-2.5M360.7 487.3h-2.5M360.7 501.3h-2.5M360.7 513.1h-2.5M360.7 526.0h-2.5M360.7 536.7h-2.5M360.7 543.2h-2.5M360.7 547.5h-2.5M362.9 549.6v2.5M388.4 549.6v2.5M416.2 549.6v2.5M441.7 549.6v2.5M469.5 549.6v2.5" stroke="#333" stroke-width="0.8"/>
<text x="471.6" y="454.9" font-size="9.9" font-weight="bold" text-anchor="end">72.42%</text>
<text transform="translate(353.7 462.2) rotate(-90)" font-size="8" font-weight="bold">10<tspan font-size="6.5" dx="3.3" dy="-3.8">4.9</tspan></text>
<text transform="translate(353.7 504.2) rotate(-90)" font-size="8" font-weight="bold">10<tspan font-size="6.5" dx="3.3" dy="-3.8">4.5</tspan></text>
<text transform="translate(353.7 553.2) rotate(-90)" font-size="8" font-weight="bold">-10<tspan font-size="6.5" dx="3.3" dy="-3.8">4.4</tspan></text>
<text x="355.7" y="559.8" font-size="8" font-weight="bold">10<tspan font-size="6.5" dx="3.5" dy="-4.6">1.8</tspan></text>
<text x="412.7" y="559.8" font-size="8" font-weight="bold">10<tspan font-size="6.5" dx="3.5" dy="-4.6">4</tspan></text>
<text x="453.7" y="559.8" font-size="8" font-weight="bold">10<tspan font-size="6.5" dx="3.5" dy="-4.6">5.8</tspan></text>
<path d="M577.4 442.2V549.6M502.3 514.7H614.0" stroke="#3a3a3a" stroke-width="1.3"/>
<rect x="502.3" y="442.2" width="111.7" height="107.4" fill="none" stroke="#1f2a6e" stroke-width="1.1"/>
<path d="M502.3 448.6h-2.5M502.3 461.5h-2.5M502.3 474.4h-2.5M502.3 487.3h-2.5M502.3 501.3h-2.5M502.3 513.1h-2.5M502.3 526.0h-2.5M502.3 536.7h-2.5M502.3 543.2h-2.5M502.3 547.5h-2.5M504.5 549.6v2.5M530.2 549.6v2.5M558.1 549.6v2.5M583.8 549.6v2.5M611.8 549.6v2.5" stroke="#333" stroke-width="0.8"/>
<text x="613.9" y="454.9" font-size="9.9" font-weight="bold" text-anchor="end">51.09%</text>
<text transform="translate(495.3 462.2) rotate(-90)" font-size="8" font-weight="bold">10<tspan font-size="6.5" dx="3.3" dy="-3.8">4.9</tspan></text>
<text transform="translate(495.3 504.2) rotate(-90)" font-size="8" font-weight="bold">10<tspan font-size="6.5" dx="3.3" dy="-3.8">4.5</tspan></text>
<text transform="translate(495.3 553.2) rotate(-90)" font-size="8" font-weight="bold">-10<tspan font-size="6.5" dx="3.3" dy="-3.8">4.4</tspan></text>
<text x="497.3" y="559.8" font-size="8" font-weight="bold">10<tspan font-size="6.5" dx="3.5" dy="-4.6">1.8</tspan></text>
<text x="554.3" y="559.8" font-size="8" font-weight="bold">10<tspan font-size="6.5" dx="3.5" dy="-4.6">4</tspan></text>
<text x="595.3" y="559.8" font-size="8" font-weight="bold">10<tspan font-size="6.5" dx="3.5" dy="-4.6">5.8</tspan></text>
<path d="M716.3 442.2V549.6M641.0 514.7H753.7" stroke="#3a3a3a" stroke-width="1.3"/>
<rect x="641.0" y="442.2" width="112.7" height="107.4" fill="none" stroke="#1f2a6e" stroke-width="1.1"/>
<path d="M641.0 448.6h-2.5M641.0 461.5h-2.5M641.0 474.4h-2.5M641.0 487.3h-2.5M641.0 501.3h-2.5M641.0 513.1h-2.5M641.0 526.0h-2.5M641.0 536.7h-2.5M641.0 543.2h-2.5M641.0 547.5h-2.5M643.3 549.6v2.5M669.2 549.6v2.5M697.4 549.6v2.5M723.3 549.6v2.5M751.4 549.6v2.5" stroke="#333" stroke-width="0.8"/>
<text x="753.6" y="454.9" font-size="9.9" font-weight="bold" text-anchor="end">26.05%</text>
<text transform="translate(634.0 462.2) rotate(-90)" font-size="8" font-weight="bold">10<tspan font-size="6.5" dx="3.3" dy="-3.8">4.9</tspan></text>
<text transform="translate(634.0 504.2) rotate(-90)" font-size="8" font-weight="bold">10<tspan font-size="6.5" dx="3.3" dy="-3.8">4.5</tspan></text>
<text transform="translate(634.0 553.2) rotate(-90)" font-size="8" font-weight="bold">-10<tspan font-size="6.5" dx="3.3" dy="-3.8">4.4</tspan></text>
<text x="636.0" y="559.8" font-size="8" font-weight="bold">10<tspan font-size="6.5" dx="3.5" dy="-4.6">1.8</tspan></text>
<text x="693.0" y="559.8" font-size="8" font-weight="bold">10<tspan font-size="6.5" dx="3.5" dy="-4.6">4</tspan></text>
<text x="734.0" y="559.8" font-size="8" font-weight="bold">10<tspan font-size="6.5" dx="3.5" dy="-4.6">5.8</tspan></text>
<path d="M853.9 442.2V549.6M778.3 514.7H889.7" stroke="#3a3a3a" stroke-width="1.3"/>
<rect x="778.3" y="442.2" width="111.4" height="107.4" fill="none" stroke="#1f2a6e" stroke-width="1.1"/>
<path d="M778.3 448.6h-2.5M778.3 461.5h-2.5M778.3 474.4h-2.5M778.3 487.3h-2.5M778.3 501.3h-2.5M778.3 513.1h-2.5M778.3 526.0h-2.5M778.3 536.7h-2.5M778.3 543.2h-2.5M778.3 547.5h-2.5M780.5 549.6v2.5M806.1 549.6v2.5M834.0 549.6v2.5M859.6 549.6v2.5M887.5 549.6v2.5" stroke="#333" stroke-width="0.8"/>
<text x="889.6" y="454.9" font-size="9.9" font-weight="bold" text-anchor="end">33.28%</text>
<text transform="translate(771.3 462.2) rotate(-90)" font-size="8" font-weight="bold">10<tspan font-size="6.5" dx="3.3" dy="-3.8">4.9</tspan></text>
<text transform="translate(771.3 504.2) rotate(-90)" font-size="8" font-weight="bold">10<tspan font-size="6.5" dx="3.3" dy="-3.8">4.5</tspan></text>
<text transform="translate(771.3 553.2) rotate(-90)" font-size="8" font-weight="bold">-10<tspan font-size="6.5" dx="3.3" dy="-3.8">4.4</tspan></text>
<text x="773.3" y="559.8" font-size="8" font-weight="bold">10<tspan font-size="6.5" dx="3.5" dy="-4.6">1.8</tspan></text>
<text x="830.3" y="559.8" font-size="8" font-weight="bold">10<tspan font-size="6.5" dx="3.5" dy="-4.6">4</tspan></text>
<text x="871.3" y="559.8" font-size="8" font-weight="bold">10<tspan font-size="6.5" dx="3.5" dy="-4.6">5.8</tspan></text>
<path d="M148.5 577.0V683.2M76.7 632.4H186.7" stroke="#3a3a3a" stroke-width="1.3"/>
<rect x="76.7" y="577.0" width="110.0" height="106.2" fill="none" stroke="#1a1a1a" stroke-width="1.4"/>
<path d="M76.7 583.4h-2.5M76.7 596.1h-2.5M76.7 608.9h-2.5M76.7 621.6h-2.5M76.7 635.4h-2.5M76.7 647.1h-2.5M76.7 659.8h-2.5M76.7 670.5h-2.5M76.7 676.8h-2.5M76.7 681.1h-2.5M78.9 683.2v2.5M104.2 683.2v2.5M131.7 683.2v2.5M157.0 683.2v2.5M184.5 683.2v2.5" stroke="#333" stroke-width="0.8"/>
<text x="186.7" y="588.6" font-size="11.1" font-weight="bold" text-anchor="end">43.67%</text>
<text transform="translate(69.7 594.2) rotate(-90)" font-size="8" font-weight="bold">10<tspan font-size="6.5" dx="3.3" dy="-3.8">5.2</tspan></text>
<text transform="translate(69.7 617.5) rotate(-90)" font-size="8" font-weight="bold">10<tspan font-size="6.5" dx="3.3" dy="-3.8">4</tspan></text>
<text transform="translate(69.7 654.1) rotate(-90)" font-size="8" font-weight="bold">10<tspan font-size="6.5" dx="3.3" dy="-3.8">3</tspan></text>
<text transform="translate(69.7 688.5) rotate(-90)" font-size="8" font-weight="bold">-10<tspan font-size="6.5" dx="3.3" dy="-3.8">2.3</tspan></text>
<text x="71.3" y="694.6" font-size="8" font-weight="bold">10<tspan font-size="6.5" dx="3.5" dy="-4.6">1.9</tspan></text>
<text x="99.1" y="694.6" font-size="8" font-weight="bold">10<tspan font-size="6.5" dx="3.5" dy="-4.6">3</tspan></text>
<text x="126.7" y="694.6" font-size="8" font-weight="bold">10<tspan font-size="6.5" dx="3.5" dy="-4.6">4</tspan></text>
<text x="171.7" y="694.6" font-size="8" font-weight="bold">10<tspan font-size="6.5" dx="3.5" dy="-4.6">5.9</tspan></text>
<path d="M290.0 577.0V683.2M217.3 632.4H327.3" stroke="#3a3a3a" stroke-width="1.3"/>
<rect x="217.3" y="577.0" width="110.0" height="106.2" fill="none" stroke="#1a1a1a" stroke-width="1.4"/>
<path d="M217.3 583.4h-2.5M217.3 596.1h-2.5M217.3 608.9h-2.5M217.3 621.6h-2.5M217.3 635.4h-2.5M217.3 647.1h-2.5M217.3 659.8h-2.5M217.3 670.5h-2.5M217.3 676.8h-2.5M217.3 681.1h-2.5M219.5 683.2v2.5M244.8 683.2v2.5M272.3 683.2v2.5M297.6 683.2v2.5M325.1 683.2v2.5" stroke="#333" stroke-width="0.8"/>
<text x="327.3" y="588.6" font-size="11.1" font-weight="bold" text-anchor="end">80.49%</text>
<text transform="translate(210.3 594.2) rotate(-90)" font-size="8" font-weight="bold">10<tspan font-size="6.5" dx="3.3" dy="-3.8">5.2</tspan></text>
<text transform="translate(210.3 617.5) rotate(-90)" font-size="8" font-weight="bold">10<tspan font-size="6.5" dx="3.3" dy="-3.8">4</tspan></text>
<text transform="translate(210.3 654.1) rotate(-90)" font-size="8" font-weight="bold">10<tspan font-size="6.5" dx="3.3" dy="-3.8">3</tspan></text>
<text transform="translate(210.3 688.5) rotate(-90)" font-size="8" font-weight="bold">-10<tspan font-size="6.5" dx="3.3" dy="-3.8">2.3</tspan></text>
<text x="211.9" y="694.6" font-size="8" font-weight="bold">10<tspan font-size="6.5" dx="3.5" dy="-4.6">1.9</tspan></text>
<text x="239.7" y="694.6" font-size="8" font-weight="bold">10<tspan font-size="6.5" dx="3.5" dy="-4.6">3</tspan></text>
<text x="267.3" y="694.6" font-size="8" font-weight="bold">10<tspan font-size="6.5" dx="3.5" dy="-4.6">4</tspan></text>
<text x="312.3" y="694.6" font-size="8" font-weight="bold">10<tspan font-size="6.5" dx="3.5" dy="-4.6">5.9</tspan></text>
<path d="M434.4 577.0V683.2M361.7 632.4H471.7" stroke="#3a3a3a" stroke-width="1.3"/>
<rect x="361.7" y="577.0" width="110.0" height="106.2" fill="none" stroke="#1a1a1a" stroke-width="1.4"/>
<path d="M361.7 583.4h-2.5M361.7 596.1h-2.5M361.7 608.9h-2.5M361.7 621.6h-2.5M361.7 635.4h-2.5M361.7 647.1h-2.5M361.7 659.8h-2.5M361.7 670.5h-2.5M361.7 676.8h-2.5M361.7 681.1h-2.5M363.9 683.2v2.5M389.2 683.2v2.5M416.7 683.2v2.5M442.0 683.2v2.5M469.5 683.2v2.5" stroke="#333" stroke-width="0.8"/>
<text x="471.7" y="588.6" font-size="11.1" font-weight="bold" text-anchor="end">76.07%</text>
<text transform="translate(354.7 594.2) rotate(-90)" font-size="8" font-weight="bold">10<tspan font-size="6.5" dx="3.3" dy="-3.8">5.2</tspan></text>
<text transform="translate(354.7 617.5) rotate(-90)" font-size="8" font-weight="bold">10<tspan font-size="6.5" dx="3.3" dy="-3.8">4</tspan></text>
<text transform="translate(354.7 654.1) rotate(-90)" font-size="8" font-weight="bold">10<tspan font-size="6.5" dx="3.3" dy="-3.8">3</tspan></text>
<text transform="translate(354.7 688.5) rotate(-90)" font-size="8" font-weight="bold">-10<tspan font-size="6.5" dx="3.3" dy="-3.8">2.3</tspan></text>
<text x="356.3" y="694.6" font-size="8" font-weight="bold">10<tspan font-size="6.5" dx="3.5" dy="-4.6">1.9</tspan></text>
<text x="384.1" y="694.6" font-size="8" font-weight="bold">10<tspan font-size="6.5" dx="3.5" dy="-4.6">3</tspan></text>
<text x="411.7" y="694.6" font-size="8" font-weight="bold">10<tspan font-size="6.5" dx="3.5" dy="-4.6">4</tspan></text>
<text x="456.7" y="694.6" font-size="8" font-weight="bold">10<tspan font-size="6.5" dx="3.5" dy="-4.6">5.9</tspan></text>
<path d="M575.9 577.0V683.2M503.3 632.4H614.0" stroke="#3a3a3a" stroke-width="1.3"/>
<rect x="503.3" y="577.0" width="110.7" height="106.2" fill="none" stroke="#1a1a1a" stroke-width="1.4"/>
<path d="M503.3 583.4h-2.5M503.3 596.1h-2.5M503.3 608.9h-2.5M503.3 621.6h-2.5M503.3 635.4h-2.5M503.3 647.1h-2.5M503.3 659.8h-2.5M503.3 670.5h-2.5M503.3 676.8h-2.5M503.3 681.1h-2.5M505.5 683.2v2.5M531.0 683.2v2.5M558.6 683.2v2.5M584.1 683.2v2.5M611.8 683.2v2.5" stroke="#333" stroke-width="0.8"/>
<text x="614.0" y="588.6" font-size="11.1" font-weight="bold" text-anchor="end">66.35%</text>
<text transform="translate(496.3 594.2) rotate(-90)" font-size="8" font-weight="bold">10<tspan font-size="6.5" dx="3.3" dy="-3.8">5.2</tspan></text>
<text transform="translate(496.3 617.5) rotate(-90)" font-size="8" font-weight="bold">10<tspan font-size="6.5" dx="3.3" dy="-3.8">4</tspan></text>
<text transform="translate(496.3 654.1) rotate(-90)" font-size="8" font-weight="bold">10<tspan font-size="6.5" dx="3.3" dy="-3.8">3</tspan></text>
<text transform="translate(496.3 688.5) rotate(-90)" font-size="8" font-weight="bold">-10<tspan font-size="6.5" dx="3.3" dy="-3.8">2.3</tspan></text>
<text x="497.9" y="694.6" font-size="8" font-weight="bold">10<tspan font-size="6.5" dx="3.5" dy="-4.6">1.9</tspan></text>
<text x="525.7" y="694.6" font-size="8" font-weight="bold">10<tspan font-size="6.5" dx="3.5" dy="-4.6">3</tspan></text>
<text x="553.3" y="694.6" font-size="8" font-weight="bold">10<tspan font-size="6.5" dx="3.5" dy="-4.6">4</tspan></text>
<text x="598.3" y="694.6" font-size="8" font-weight="bold">10<tspan font-size="6.5" dx="3.5" dy="-4.6">5.9</tspan></text>
<path d="M715.4 577.0V683.2M641.7 632.4H753.7" stroke="#3a3a3a" stroke-width="1.3"/>
<rect x="641.7" y="577.0" width="112.0" height="106.2" fill="none" stroke="#1a1a1a" stroke-width="1.4"/>
<path d="M641.7 583.4h-2.5M641.7 596.1h-2.5M641.7 608.9h-2.5M641.7 621.6h-2.5M641.7 635.4h-2.5M641.7 647.1h-2.5M641.7 659.8h-2.5M641.7 670.5h-2.5M641.7 676.8h-2.5M641.7 681.1h-2.5M643.9 683.2v2.5M669.7 683.2v2.5M697.7 683.2v2.5M723.5 683.2v2.5M751.5 683.2v2.5" stroke="#333" stroke-width="0.8"/>
<text x="753.7" y="588.6" font-size="11.1" font-weight="bold" text-anchor="end">47.18%</text>
<text transform="translate(634.7 594.2) rotate(-90)" font-size="8" font-weight="bold">10<tspan font-size="6.5" dx="3.3" dy="-3.8">5.2</tspan></text>
<text transform="translate(634.7 617.5) rotate(-90)" font-size="8" font-weight="bold">10<tspan font-size="6.5" dx="3.3" dy="-3.8">4</tspan></text>
<text transform="translate(634.7 654.1) rotate(-90)" font-size="8" font-weight="bold">10<tspan font-size="6.5" dx="3.3" dy="-3.8">3</tspan></text>
<text transform="translate(634.7 688.5) rotate(-90)" font-size="8" font-weight="bold">-10<tspan font-size="6.5" dx="3.3" dy="-3.8">2.3</tspan></text>
<text x="636.3" y="694.6" font-size="8" font-weight="bold">10<tspan font-size="6.5" dx="3.5" dy="-4.6">1.9</tspan></text>
<text x="664.1" y="694.6" font-size="8" font-weight="bold">10<tspan font-size="6.5" dx="3.5" dy="-4.6">3</tspan></text>
<text x="691.7" y="694.6" font-size="8" font-weight="bold">10<tspan font-size="6.5" dx="3.5" dy="-4.6">4</tspan></text>
<text x="736.7" y="694.6" font-size="8" font-weight="bold">10<tspan font-size="6.5" dx="3.5" dy="-4.6">5.9</tspan></text>
<path d="M853.3 577.0V683.2M780.0 632.4H890.3" stroke="#3a3a3a" stroke-width="1.3"/>
<rect x="780.0" y="577.0" width="110.3" height="106.2" fill="none" stroke="#1a1a1a" stroke-width="1.4"/>
<path d="M780.0 583.4h-2.5M780.0 596.1h-2.5M780.0 608.9h-2.5M780.0 621.6h-2.5M780.0 635.4h-2.5M780.0 647.1h-2.5M780.0 659.8h-2.5M780.0 670.5h-2.5M780.0 676.8h-2.5M780.0 681.1h-2.5M782.2 683.2v2.5M807.6 683.2v2.5M835.1 683.2v2.5M860.5 683.2v2.5M888.1 683.2v2.5" stroke="#333" stroke-width="0.8"/>
<text x="890.3" y="588.6" font-size="11.1" font-weight="bold" text-anchor="end">51.04%</text>
<text transform="translate(773.0 594.2) rotate(-90)" font-size="8" font-weight="bold">10<tspan font-size="6.5" dx="3.3" dy="-3.8">5.2</tspan></text>
<text transform="translate(773.0 617.5) rotate(-90)" font-size="8" font-weight="bold">10<tspan font-size="6.5" dx="3.3" dy="-3.8">4</tspan></text>
<text transform="translate(773.0 654.1) rotate(-90)" font-size="8" font-weight="bold">10<tspan font-size="6.5" dx="3.3" dy="-3.8">3</tspan></text>
<text transform="translate(773.0 688.5) rotate(-90)" font-size="8" font-weight="bold">-10<tspan font-size="6.5" dx="3.3" dy="-3.8">2.3</tspan></text>
<text x="774.6" y="694.6" font-size="8" font-weight="bold">10<tspan font-size="6.5" dx="3.5" dy="-4.6">1.9</tspan></text>
<text x="802.4" y="694.6" font-size="8" font-weight="bold">10<tspan font-size="6.5" dx="3.5" dy="-4.6">3</tspan></text>
<text x="830.0" y="694.6" font-size="8" font-weight="bold">10<tspan font-size="6.5" dx="3.5" dy="-4.6">4</tspan></text>
<text x="875.0" y="694.6" font-size="8" font-weight="bold">10<tspan font-size="6.5" dx="3.5" dy="-4.6">5.9</tspan></text>
<text x="3.0" y="759.3" font-size="43" font-weight="bold">B</text>
<path d="M113.5 749.5V907.5" stroke="#000" stroke-width="1.35"/>
<path d="M112.9 907.5H272.7" stroke="#000" stroke-width="1.35"/>
<path d="M113.5 749.5h-7M113.5 781.5h-7M113.5 812.5h-7M113.5 844.5h-7M113.5 875.5h-7M113.5 907.5h-7M133.3 907.5v6.5M163.0 907.5v6.5M192.3 907.5v6.5M221.7 907.5v6.5M251.3 907.5v6.5" stroke="#000" stroke-width="1.35"/>
<text x="104.1" y="753.5" font-size="11.7" font-weight="bold" text-anchor="end">50</text>
<text x="104.1" y="785.5" font-size="11.7" font-weight="bold" text-anchor="end">40</text>
<text x="104.1" y="816.5" font-size="11.7" font-weight="bold" text-anchor="end">30</text>
<text x="104.1" y="848.5" font-size="11.7" font-weight="bold" text-anchor="end">20</text>
<text x="104.1" y="879.5" font-size="11.7" font-weight="bold" text-anchor="end">10</text>
<text x="104.1" y="911.5" font-size="11.7" font-weight="bold" text-anchor="end">0</text>
<text transform="translate(136.0 924.4) rotate(-45)" font-size="12.0" font-weight="bold" text-anchor="end">Vehicle</text>
<text transform="translate(165.7 924.4) rotate(-45)" font-size="12.0" font-weight="bold" text-anchor="end">Paeoniflorin 200μM</text>
<text transform="translate(195.0 924.4) rotate(-45)" font-size="12.0" font-weight="bold" text-anchor="end">QNZ 2 nM</text>
<text transform="translate(224.4 924.4) rotate(-45)" font-size="12.0" font-weight="bold" text-anchor="end">QNZ 10 nM</text>
<text transform="translate(254.0 924.4) rotate(-45)" font-size="12.0" font-weight="bold" text-anchor="end">QNZ 50 nM</text>
<text transform="translate(82.7 827.5) rotate(-90)" font-size="13.2" font-weight="bold" text-anchor="middle"><tspan dy="0.0">CD19</tspan><tspan font-size="8.5" dy="-5.5">+</tspan><tspan dy="5.5">CD83</tspan><tspan font-size="8.5" dy="-5.5">+</tspan><tspan dy="5.5"> B-cells %</tspan></text>
<path d="M133.3 771.0V798.8M128.5 771.0h9.6M128.5 798.8h9.6" stroke="#555" stroke-width="1.2" fill="none"/>
<g fill="#000"><circle cx="139.6" cy="766.4" r="3.25"/><circle cx="132.6" cy="769.8" r="3.25"/><circle cx="133.0" cy="777.2" r="3.25"/><circle cx="133.0" cy="786.2" r="3.25"/><circle cx="126.0" cy="798.9" r="3.25"/><circle cx="133.0" cy="797.5" r="3.25"/><circle cx="139.6" cy="798.5" r="3.25"/></g>
<path d="M122.8 784.9h21" stroke="#111" stroke-width="1.4"/>
<path d="M163.0 780.2V802.3M158.2 780.2h9.6M158.2 802.3h9.6" stroke="#555" stroke-width="1.2" fill="none"/>
<g fill="#000"><rect x="152.7" y="780.6" width="6.3" height="6.3"/><rect x="166.4" y="778.0" width="6.3" height="6.3"/><rect x="166.4" y="786.2" width="6.3" height="6.3"/><rect x="159.7" y="789.6" width="6.3" height="6.3"/><rect x="157.8" y="806.2" width="6.3" height="6.3"/><rect x="160.8" y="806.2" width="6.3" height="6.3"/></g>
<path d="M152.5 791.3h21" stroke="#111" stroke-width="1.4"/>
<path d="M192.3 801.3V824.9M187.5 801.3h9.6M187.5 824.9h9.6" stroke="#555" stroke-width="1.2" fill="none"/>
<g fill="#000"><path d="M185.5 793.9l3.5 6h-7z"/><path d="M192.0 801.4l3.5 6h-7z"/><path d="M199.0 801.1l3.5 6h-7z"/><path d="M185.5 804.4l3.5 6h-7z"/><path d="M185.5 814.4l3.5 6h-7z"/><path d="M192.0 814.4l3.5 6h-7z"/><path d="M199.0 818.9l3.5 6h-7z"/><path d="M192.0 831.1l3.5 6h-7z"/></g>
<path d="M181.8 813.0h21" stroke="#111" stroke-width="1.4"/>
<path d="M221.7 823.5V836.0M216.9 823.5h9.6M216.9 836.0h9.6" stroke="#555" stroke-width="1.2" fill="none"/>
<g fill="#000"><path d="M211.5 816.1h7l-3.5 6z"/><path d="M211.5 823.6h7l-3.5 6z"/><path d="M217.8 822.4h7l-3.5 6z"/><path d="M224.5 822.4h7l-3.5 6z"/><path d="M211.5 832.7h7l-3.5 6z"/><path d="M217.8 829.9h7l-3.5 6z"/><path d="M224.5 831.2h7l-3.5 6z"/></g>
<path d="M211.2 829.6h21" stroke="#111" stroke-width="1.4"/>
<path d="M251.3 827.4V843.0M246.5 827.4h9.6M246.5 843.0h9.6" stroke="#555" stroke-width="1.2" fill="none"/>
<g fill="#000"><path d="M249.6 818.9l3.6 3.6l-3.6 3.6l-3.6-3.6z"/><path d="M250.6 831.7l3.6 3.6l-3.6 3.6l-3.6-3.6z"/><path d="M245.0 832.1l3.6 3.6l-3.6 3.6l-3.6-3.6z"/><path d="M253.4 835.8l3.6 3.6l-3.6 3.6l-3.6-3.6z"/><path d="M258.0 834.4l3.6 3.6l-3.6 3.6l-3.6-3.6z"/><path d="M247.7 841.1l3.6 3.6l-3.6 3.6l-3.6-3.6z"/></g>
<path d="M240.8 835.3h21" stroke="#111" stroke-width="1.4"/>
<text x="166.7" y="769.8" font-size="17.5" font-weight="bold" text-anchor="middle">ns</text>
<text x="195.0" y="791.2" font-size="17.5" font-weight="bold" text-anchor="middle" style="stroke-width:0">**</text>
<text x="222.7" y="811.2" font-size="17.5" font-weight="bold" text-anchor="middle" style="stroke-width:0">**</text>
<text x="254.0" y="811.2" font-size="17.5" font-weight="bold" text-anchor="middle" style="stroke-width:0">**</text>
<text x="346.0" y="759.3" font-size="43" font-weight="bold">C</text>
<path d="M424.5 749.5V881.5M424.5 893.5V907.5" stroke="#000" stroke-width="1.35" fill="none"/>
<path d="M420.0 877.7l8.7 8.5M420.0 887.3l8.7 8.5" stroke="#111" stroke-width="1.2"/>
<path d="M423.9 907.5H582.7" stroke="#000" stroke-width="1.35"/>
<path d="M424.5 749.5h-7M424.5 782.5h-7M424.5 815.5h-7M424.5 848.5h-7M424.5 907.5h-7M443.3 907.5v6.5M473.0 907.5v6.5M502.3 907.5v6.5M531.7 907.5v6.5M561.7 907.5v6.5" stroke="#000" stroke-width="1.35"/>
<text x="415.1" y="753.5" font-size="11.7" font-weight="bold" text-anchor="end">90</text>
<text x="415.1" y="786.5" font-size="11.7" font-weight="bold" text-anchor="end">85</text>
<text x="415.1" y="819.5" font-size="11.7" font-weight="bold" text-anchor="end">80</text>
<text x="415.1" y="852.5" font-size="11.7" font-weight="bold" text-anchor="end">75</text>
<text x="415.1" y="885.5" font-size="11.7" font-weight="bold" text-anchor="end">70</text>
<text x="415.1" y="896.5" font-size="11.7" font-weight="bold" text-anchor="end">20</text>
<text x="415.1" y="911.5" font-size="11.7" font-weight="bold" text-anchor="end">0</text>
<text transform="translate(446.0 924.4) rotate(-45)" font-size="12.0" font-weight="bold" text-anchor="end">Vehicle</text>
<text transform="translate(475.7 924.4) rotate(-45)" font-size="12.0" font-weight="bold" text-anchor="end">Paeoniflorin 200μM</text>
<text transform="translate(505.0 924.4) rotate(-45)" font-size="12.0" font-weight="bold" text-anchor="end">QNZ 2 nM</text>
<text transform="translate(534.4 924.4) rotate(-45)" font-size="12.0" font-weight="bold" text-anchor="end">QNZ 10 nM</text>
<text transform="translate(564.4 924.4) rotate(-45)" font-size="12.0" font-weight="bold" text-anchor="end">QNZ 50 nM</text>
<text transform="translate(394.5 827.5) rotate(-90)" font-size="13.2" font-weight="bold" text-anchor="middle"><tspan dy="0.0">CD19</tspan><tspan font-size="8.5" dy="-5.5">+</tspan><tspan dy="5.5">MHC-II</tspan><tspan font-size="8.5" dy="-5.5">+</tspan><tspan dy="5.5"> B-cells %</tspan></text>
<path d="M443.3 765.0V800.0M438.5 765.0h9.6M438.5 800.0h9.6" stroke="#555" stroke-width="1.2" fill="none"/>
<g fill="#000"><circle cx="436.7" cy="763.0" r="3.25"/><circle cx="443.7" cy="769.5" r="3.25"/><circle cx="443.7" cy="787.0" r="3.25"/><circle cx="450.3" cy="785.5" r="3.25"/><circle cx="443.7" cy="808.3" r="3.25"/></g>
<path d="M432.8 782.5h21" stroke="#111" stroke-width="1.4"/>
<path d="M473.0 790.0V859.0M468.2 790.0h9.6M468.2 859.0h9.6" stroke="#555" stroke-width="1.2" fill="none"/>
<g fill="#000"><rect x="469.9" y="776.0" width="6.3" height="6.3"/><rect x="469.9" y="795.1" width="6.3" height="6.3"/><rect x="469.9" y="834.2" width="6.3" height="6.3"/><rect x="469.9" y="845.9" width="6.3" height="6.3"/><rect x="469.9" y="855.9" width="6.3" height="6.3"/></g>
<path d="M462.5 824.4h21" stroke="#111" stroke-width="1.4"/>
<path d="M502.3 784.0V822.0M497.5 784.0h9.6M497.5 822.0h9.6" stroke="#555" stroke-width="1.2" fill="none"/>
<g fill="#000"><path d="M502.4 779.7l3.5 6h-7z"/><path d="M502.4 790.5l3.5 6h-7z"/><path d="M509.6 790.0l3.5 6h-7z"/><path d="M502.4 813.0l3.5 6h-7z"/><path d="M502.4 827.1l3.5 6h-7z"/></g>
<path d="M491.8 803.0h21" stroke="#111" stroke-width="1.4"/>
<path d="M531.7 800.3V833.2M526.9 800.3h9.6M526.9 833.2h9.6" stroke="#555" stroke-width="1.2" fill="none"/>
<g fill="#000"><path d="M521.7 791.0h7l-3.5 6z"/><path d="M535.5 795.7h7l-3.5 6z"/><path d="M521.7 819.3h7l-3.5 6z"/><path d="M528.4 823.1h7l-3.5 6z"/><path d="M535.5 824.8h7l-3.5 6z"/><path d="M521.7 829.0h7l-3.5 6z"/></g>
<path d="M521.2 816.6h21" stroke="#111" stroke-width="1.4"/>
<path d="M561.7 833.7V864.0M556.9 833.7h9.6M556.9 864.0h9.6" stroke="#555" stroke-width="1.2" fill="none"/>
<g fill="#000"><path d="M561.5 828.0l3.6 3.6l-3.6 3.6l-3.6-3.6z"/><path d="M568.2 827.1l3.6 3.6l-3.6 3.6l-3.6-3.6z"/><path d="M554.5 847.1l3.6 3.6l-3.6 3.6l-3.6-3.6z"/><path d="M568.2 849.9l3.6 3.6l-3.6 3.6l-3.6-3.6z"/><path d="M561.5 854.6l3.6 3.6l-3.6 3.6l-3.6-3.6z"/><path d="M561.5 865.4l3.6 3.6l-3.6 3.6l-3.6-3.6z"/></g>
<path d="M551.2 848.7h21" stroke="#111" stroke-width="1.4"/>
<text x="472.5" y="775.6" font-size="17.5" font-weight="bold" text-anchor="middle" style="stroke-width:0">*</text>
<text x="503.2" y="776.4" font-size="17.5" font-weight="bold" text-anchor="middle">ns</text>
<text x="531.2" y="789.8" font-size="17.5" font-weight="bold" text-anchor="middle" style="stroke-width:0">*</text>
<text x="562.7" y="828.1" font-size="17.5" font-weight="bold" text-anchor="middle" style="stroke-width:0">**</text>
<text x="646.0" y="759.3" font-size="43" font-weight="bold">D</text>
<path d="M733.5 749.5V880.5M733.5 893.5V907.5" stroke="#000" stroke-width="1.35" fill="none"/>
<path d="M729.0 876.7l8.7 8.5M729.0 887.3l8.7 8.5" stroke="#111" stroke-width="1.2"/>
<path d="M732.9 907.5H892.3" stroke="#000" stroke-width="1.35"/>
<path d="M733.5 749.5h-7M733.5 771.5h-7M733.5 792.5h-7M733.5 814.5h-7M733.5 836.5h-7M733.5 858.5h-7M733.5 907.5h-7M753.7 907.5v6.5M783.1 907.5v6.5M812.5 907.5v6.5M841.9 907.5v6.5M871.6 907.5v6.5" stroke="#000" stroke-width="1.35"/>
<text x="724.1" y="753.5" font-size="11.7" font-weight="bold" text-anchor="end">100</text>
<text x="724.1" y="775.5" font-size="11.7" font-weight="bold" text-anchor="end">90</text>
<text x="724.1" y="796.5" font-size="11.7" font-weight="bold" text-anchor="end">80</text>
<text x="724.1" y="818.5" font-size="11.7" font-weight="bold" text-anchor="end">70</text>
<text x="724.1" y="840.5" font-size="11.7" font-weight="bold" text-anchor="end">60</text>
<text x="724.1" y="862.5" font-size="11.7" font-weight="bold" text-anchor="end">50</text>
<text x="724.1" y="884.5" font-size="11.7" font-weight="bold" text-anchor="end">40</text>
<text x="724.1" y="896.5" font-size="11.7" font-weight="bold" text-anchor="end">20</text>
<text x="724.1" y="911.5" font-size="11.7" font-weight="bold" text-anchor="end">0</text>
<text transform="translate(756.4 924.4) rotate(-45)" font-size="12.0" font-weight="bold" text-anchor="end">Vehicle</text>
<text transform="translate(785.8 924.4) rotate(-45)" font-size="12.0" font-weight="bold" text-anchor="end">Paeoniflorin 200μM</text>
<text transform="translate(815.2 924.4) rotate(-45)" font-size="12.0" font-weight="bold" text-anchor="end">QNZ 2 nM</text>
<text transform="translate(844.6 924.4) rotate(-45)" font-size="12.0" font-weight="bold" text-anchor="end">QNZ 10 nM</text>
<text transform="translate(874.3 924.4) rotate(-45)" font-size="12.0" font-weight="bold" text-anchor="end">QNZ 50 nM</text>
<text transform="translate(698.0 827.7) rotate(-90)" font-size="13.2" font-weight="bold" text-anchor="middle"><tspan dy="0.0">CD19</tspan><tspan font-size="8.5" dy="-5.5">+</tspan><tspan dy="5.5">CD86</tspan><tspan font-size="8.5" dy="-5.5">+</tspan><tspan dy="5.5"> B-cells %</tspan></text>
<path d="M753.7 773.5V786.8M748.9 773.5h9.6M748.9 786.8h9.6" stroke="#555" stroke-width="1.2" fill="none"/>
<g fill="#000"><circle cx="746.3" cy="771.1" r="3.25"/><circle cx="754.4" cy="773.5" r="3.25"/><circle cx="761.4" cy="772.8" r="3.25"/><circle cx="746.3" cy="788.5" r="3.25"/><circle cx="754.4" cy="785.2" r="3.25"/><circle cx="761.4" cy="785.2" r="3.25"/></g>
<path d="M743.2 780.1h21" stroke="#111" stroke-width="1.4"/>
<path d="M783.1 796.2V809.5M778.3 796.2h9.6M778.3 809.5h9.6" stroke="#555" stroke-width="1.2" fill="none"/>
<g fill="#000"><rect x="772.9" y="791.1" width="6.3" height="6.3"/><rect x="786.6" y="791.1" width="6.3" height="6.3"/><rect x="772.9" y="805.4" width="6.3" height="6.3"/><rect x="780.0" y="805.4" width="6.3" height="6.3"/><rect x="786.6" y="805.4" width="6.3" height="6.3"/></g>
<path d="M772.6 802.9h21" stroke="#111" stroke-width="1.4"/>
<path d="M812.5 782.8V807.5M807.7 782.8h9.6M807.7 807.5h9.6" stroke="#555" stroke-width="1.2" fill="none"/>
<g fill="#000"><path d="M805.5 778.2l3.5 6h-7z"/><path d="M812.8 783.2l3.5 6h-7z"/><path d="M805.5 788.2l3.5 6h-7z"/><path d="M819.8 786.6l3.5 6h-7z"/><path d="M812.8 791.6l3.5 6h-7z"/><path d="M805.5 811.6l3.5 6h-7z"/><path d="M819.8 807.3l3.5 6h-7z"/></g>
<path d="M802.0 795.2h21" stroke="#111" stroke-width="1.4"/>
<path d="M841.9 796.2V830.3M837.1 796.2h9.6M837.1 830.3h9.6" stroke="#555" stroke-width="1.2" fill="none"/>
<g fill="#000"><path d="M832.1 791.6h7l-3.5 6z"/><path d="M843.1 791.6h7l-3.5 6z"/><path d="M837.1 796.9h7l-3.5 6z"/><path d="M845.4 797.6h7l-3.5 6z"/><path d="M837.1 817.6h7l-3.5 6z"/><path d="M832.1 827.7h7l-3.5 6z"/><path d="M838.7 836.0h7l-3.5 6z"/></g>
<path d="M831.4 812.9h21" stroke="#111" stroke-width="1.4"/>
<path d="M871.6 802.9V843.0M866.8 802.9h9.6M866.8 843.0h9.6" stroke="#555" stroke-width="1.2" fill="none"/>
<g fill="#000"><path d="M872.3 789.2l3.6 3.6l-3.6 3.6l-3.6-3.6z"/><path d="M864.0 805.9l3.6 3.6l-3.6 3.6l-3.6-3.6z"/><path d="M879.0 811.6l3.6 3.6l-3.6 3.6l-3.6-3.6z"/><path d="M871.6 816.0l3.6 3.6l-3.6 3.6l-3.6-3.6z"/><path d="M864.0 829.3l3.6 3.6l-3.6 3.6l-3.6-3.6z"/><path d="M879.0 829.3l3.6 3.6l-3.6 3.6l-3.6-3.6z"/><path d="M872.3 851.7l3.6 3.6l-3.6 3.6l-3.6-3.6z"/></g>
<path d="M861.1 822.6h21" stroke="#111" stroke-width="1.4"/>
<text x="783.1" y="789.6" font-size="17.5" font-weight="bold" text-anchor="middle" style="stroke-width:0">*</text>
<text x="812.5" y="774.2" font-size="17.5" font-weight="bold" text-anchor="middle">ns</text>
<text x="841.9" y="790.5" font-size="17.5" font-weight="bold" text-anchor="middle" style="stroke-width:0">**</text>
<text x="871.6" y="790.5" font-size="17.5" font-weight="bold" text-anchor="middle" style="stroke-width:0">**</text>
<text x="3.0" y="1065.0" font-size="43" font-weight="bold">E</text>
<path d="M119.5 1064.5V1222.5" stroke="#000" stroke-width="1.35"/>
<path d="M118.9 1222.5H277.4" stroke="#000" stroke-width="1.35"/>
<path d="M119.5 1064.5h-7M119.5 1096.5h-7M119.5 1128.5h-7M119.5 1159.5h-7M119.5 1191.5h-7M119.5 1222.5h-7M139.2 1222.5v6.5M168.8 1222.5v6.5M198.1 1222.5v6.5M227.8 1222.5v6.5M257.1 1222.5v6.5" stroke="#000" stroke-width="1.35"/>
<text x="110.1" y="1068.5" font-size="11.7" font-weight="bold" text-anchor="end">100</text>
<text x="110.1" y="1100.5" font-size="11.7" font-weight="bold" text-anchor="end">80</text>
<text x="110.1" y="1132.5" font-size="11.7" font-weight="bold" text-anchor="end">60</text>
<text x="110.1" y="1163.5" font-size="11.7" font-weight="bold" text-anchor="end">40</text>
<text x="110.1" y="1195.5" font-size="11.7" font-weight="bold" text-anchor="end">20</text>
<text x="110.1" y="1226.5" font-size="11.7" font-weight="bold" text-anchor="end">0</text>
<text transform="translate(141.9 1239.4) rotate(-45)" font-size="12.0" font-weight="bold" text-anchor="end">Vehicle</text>
<text transform="translate(171.5 1239.4) rotate(-45)" font-size="12.0" font-weight="bold" text-anchor="end">Paeoniflorin 200μM</text>
<text transform="translate(200.8 1239.4) rotate(-45)" font-size="12.0" font-weight="bold" text-anchor="end">QNZ 2 nM</text>
<text transform="translate(230.5 1239.4) rotate(-45)" font-size="12.0" font-weight="bold" text-anchor="end">QNZ 10 nM</text>
<text transform="translate(259.8 1239.4) rotate(-45)" font-size="12.0" font-weight="bold" text-anchor="end">QNZ 50 nM</text>
<text transform="translate(82.7 1143.3) rotate(-90)" font-size="13.2" font-weight="bold" text-anchor="middle"><tspan dy="0.0">CD19</tspan><tspan font-size="8.5" dy="-5.5">+</tspan><tspan dy="5.5">CD40</tspan><tspan font-size="8.5" dy="-5.5">+</tspan><tspan dy="5.5"> B-cells %</tspan></text>
<path d="M139.2 1096.7V1127.7M134.4 1096.7h9.6M134.4 1127.7h9.6" stroke="#555" stroke-width="1.2" fill="none"/>
<g fill="#000"><circle cx="139.2" cy="1091.6" r="3.25"/><circle cx="139.2" cy="1098.3" r="3.25"/><circle cx="132.5" cy="1111.6" r="3.25"/><circle cx="145.9" cy="1109.2" r="3.25"/><circle cx="139.2" cy="1116.6" r="3.25"/><circle cx="145.9" cy="1116.6" r="3.25"/><circle cx="132.5" cy="1117.0" r="3.25"/><circle cx="139.2" cy="1141.6" r="3.25"/></g>
<path d="M128.7 1112.3h21" stroke="#111" stroke-width="1.4"/>
<path d="M168.8 1110.0V1133.3M164.0 1110.0h9.6M164.0 1133.3h9.6" stroke="#555" stroke-width="1.2" fill="none"/>
<g fill="#000"><rect x="158.3" y="1105.0" width="6.3" height="6.3"/><rect x="165.7" y="1105.0" width="6.3" height="6.3"/><rect x="158.3" y="1116.0" width="6.3" height="6.3"/><rect x="171.7" y="1120.8" width="6.3" height="6.3"/><rect x="165.7" y="1126.8" width="6.3" height="6.3"/><rect x="165.7" y="1135.0" width="6.3" height="6.3"/></g>
<path d="M158.3 1120.0h21" stroke="#111" stroke-width="1.4"/>
<path d="M198.1 1156.7V1193.3M193.3 1156.7h9.6M193.3 1193.3h9.6" stroke="#555" stroke-width="1.2" fill="none"/>
<g fill="#000"><path d="M198.1 1138.9l3.5 6h-7z"/><path d="M198.1 1152.3l3.5 6h-7z"/><path d="M191.5 1175.6l3.5 6h-7z"/><path d="M198.1 1168.9l3.5 6h-7z"/><path d="M205.5 1178.9l3.5 6h-7z"/><path d="M191.5 1187.9l3.5 6h-7z"/><path d="M198.1 1187.9l3.5 6h-7z"/><path d="M205.5 1187.9l3.5 6h-7z"/></g>
<path d="M187.6 1174.3h21" stroke="#111" stroke-width="1.4"/>
<path d="M227.8 1179.3V1204.3M223.0 1179.3h9.6M223.0 1204.3h9.6" stroke="#555" stroke-width="1.2" fill="none"/>
<g fill="#000"><path d="M224.3 1165.6h7l-3.5 6z"/><path d="M216.9 1178.9h7l-3.5 6z"/><path d="M231.3 1178.9h7l-3.5 6z"/><path d="M224.3 1187.9h7l-3.5 6z"/><path d="M216.9 1192.2h7l-3.5 6z"/><path d="M231.3 1192.2h7l-3.5 6z"/><path d="M224.3 1199.9h7l-3.5 6z"/><path d="M216.9 1205.5h7l-3.5 6z"/></g>
<path d="M217.3 1191.0h21" stroke="#111" stroke-width="1.4"/>
<path d="M257.1 1179.0V1207.7M252.3 1179.0h9.6M252.3 1207.7h9.6" stroke="#555" stroke-width="1.2" fill="none"/>
<g fill="#000"><path d="M257.1 1166.3l3.6 3.6l-3.6 3.6l-3.6-3.6z"/><path d="M255.0 1166.3l3.6 3.6l-3.6 3.6l-3.6-3.6z"/><path d="M253.1 1196.2l3.6 3.6l-3.6 3.6l-3.6-3.6z"/><path d="M261.4 1196.2l3.6 3.6l-3.6 3.6l-3.6-3.6z"/><path d="M257.1 1198.9l3.6 3.6l-3.6 3.6l-3.6-3.6z"/><path d="M249.1 1197.9l3.6 3.6l-3.6 3.6l-3.6-3.6z"/><path d="M264.7 1197.9l3.6 3.6l-3.6 3.6l-3.6-3.6z"/></g>
<path d="M246.6 1193.3h21" stroke="#111" stroke-width="1.4"/>
<text x="168.8" y="1096.5" font-size="17.5" font-weight="bold" text-anchor="middle">ns</text>
<text x="198.1" y="1132.8" font-size="17.5" font-weight="bold" text-anchor="middle" style="stroke-width:0">**</text>
<text x="227.8" y="1156.2" font-size="17.5" font-weight="bold" text-anchor="middle" style="stroke-width:0">**</text>
<text x="257.1" y="1157.8" font-size="17.5" font-weight="bold" text-anchor="middle" style="stroke-width:0">**</text>
<text x="346.0" y="1064.3" font-size="43" font-weight="bold">F</text>
<path d="M424.5 1064.5V1196.5M424.5 1210.5V1222.5" stroke="#000" stroke-width="1.35" fill="none"/>
<path d="M420.0 1192.7l8.7 8.5M420.0 1204.3l8.7 8.5" stroke="#111" stroke-width="1.2"/>
<path d="M423.9 1222.5H582.7" stroke="#000" stroke-width="1.35"/>
<path d="M424.5 1064.5h-7M424.5 1091.5h-7M424.5 1117.5h-7M424.5 1143.5h-7M424.5 1170.5h-7M424.5 1222.5h-7M444.0 1222.5v6.5M473.7 1222.5v6.5M503.3 1222.5v6.5M532.3 1222.5v6.5M562.3 1222.5v6.5" stroke="#000" stroke-width="1.35"/>
<text x="415.1" y="1068.5" font-size="11.7" font-weight="bold" text-anchor="end">90</text>
<text x="415.1" y="1095.5" font-size="11.7" font-weight="bold" text-anchor="end">80</text>
<text x="415.1" y="1121.5" font-size="11.7" font-weight="bold" text-anchor="end">70</text>
<text x="415.1" y="1147.5" font-size="11.7" font-weight="bold" text-anchor="end">60</text>
<text x="415.1" y="1174.5" font-size="11.7" font-weight="bold" text-anchor="end">50</text>
<text x="415.1" y="1200.5" font-size="11.7" font-weight="bold" text-anchor="end">40</text>
<text x="415.1" y="1213.5" font-size="11.7" font-weight="bold" text-anchor="end">10</text>
<text x="415.1" y="1226.5" font-size="11.7" font-weight="bold" text-anchor="end">0</text>
<text transform="translate(446.7 1239.4) rotate(-45)" font-size="12.0" font-weight="bold" text-anchor="end">Vehicle</text>
<text transform="translate(476.4 1239.4) rotate(-45)" font-size="12.0" font-weight="bold" text-anchor="end">Paeoniflorin 200μM</text>
<text transform="translate(506.0 1239.4) rotate(-45)" font-size="12.0" font-weight="bold" text-anchor="end">QNZ 2 nM</text>
<text transform="translate(535.0 1239.4) rotate(-45)" font-size="12.0" font-weight="bold" text-anchor="end">QNZ 10 nM</text>
<text transform="translate(565.0 1239.4) rotate(-45)" font-size="12.0" font-weight="bold" text-anchor="end">QNZ 50 nM</text>
<text transform="translate(394.5 1143.3) rotate(-90)" font-size="13.2" font-weight="bold" text-anchor="middle"><tspan dy="0.0">CD19</tspan><tspan font-size="8.5" dy="-5.5">+</tspan><tspan dy="5.5">CD80</tspan><tspan font-size="8.5" dy="-5.5">+</tspan><tspan dy="5.5"> B-cells %</tspan></text>
<path d="M444.0 1082.7V1090.0M439.2 1082.7h9.6M439.2 1090.0h9.6" stroke="#555" stroke-width="1.2" fill="none"/>
<g fill="#000"><circle cx="445.9" cy="1075.9" r="3.25"/><circle cx="441.5" cy="1079.9" r="3.25"/><circle cx="448.2" cy="1083.3" r="3.25"/><circle cx="439.9" cy="1089.9" r="3.25"/><circle cx="448.2" cy="1089.9" r="3.25"/><circle cx="451.5" cy="1091.6" r="3.25"/><circle cx="441.5" cy="1092.6" r="3.25"/></g>
<path d="M433.5 1086.7h21" stroke="#111" stroke-width="1.4"/>
<path d="M473.7 1102.7V1121.7M468.9 1102.7h9.6M468.9 1121.7h9.6" stroke="#555" stroke-width="1.2" fill="none"/>
<g fill="#000"><rect x="476.7" y="1100.1" width="6.3" height="6.3"/><rect x="469.4" y="1102.4" width="6.3" height="6.3"/><rect x="476.7" y="1109.4" width="6.3" height="6.3"/><rect x="469.4" y="1111.8" width="6.3" height="6.3"/><rect x="469.4" y="1124.0" width="6.3" height="6.3"/></g>
<path d="M463.2 1112.7h21" stroke="#111" stroke-width="1.4"/>
<path d="M503.3 1099.3V1130.0M498.5 1099.3h9.6M498.5 1130.0h9.6" stroke="#555" stroke-width="1.2" fill="none"/>
<g fill="#000"><path d="M496.5 1087.0l3.5 6h-7z"/><path d="M503.1 1091.3l3.5 6h-7z"/><path d="M503.1 1111.3l3.5 6h-7z"/><path d="M496.5 1116.3l3.5 6h-7z"/><path d="M496.5 1126.3l3.5 6h-7z"/><path d="M509.8 1126.3l3.5 6h-7z"/><path d="M503.1 1126.3l3.5 6h-7z"/></g>
<path d="M492.8 1115.0h21" stroke="#111" stroke-width="1.4"/>
<path d="M532.3 1125.3V1155.0M527.5 1125.3h9.6M527.5 1155.0h9.6" stroke="#555" stroke-width="1.2" fill="none"/>
<g fill="#000"><path d="M528.6 1111.3h7l-3.5 6z"/><path d="M521.9 1123.0h7l-3.5 6z"/><path d="M535.3 1124.6h7l-3.5 6z"/><path d="M528.6 1132.3h7l-3.5 6z"/><path d="M521.9 1142.3h7l-3.5 6z"/><path d="M535.3 1142.3h7l-3.5 6z"/><path d="M521.9 1154.9h7l-3.5 6z"/><path d="M535.3 1154.9h7l-3.5 6z"/></g>
<path d="M521.8 1139.3h21" stroke="#111" stroke-width="1.4"/>
<path d="M562.3 1142.7V1173.7M557.5 1142.7h9.6M557.5 1173.7h9.6" stroke="#555" stroke-width="1.2" fill="none"/>
<g fill="#000"><path d="M562.1 1127.3l3.6 3.6l-3.6 3.6l-3.6-3.6z"/><path d="M554.7 1141.3l3.6 3.6l-3.6 3.6l-3.6-3.6z"/><path d="M562.1 1151.3l3.6 3.6l-3.6 3.6l-3.6-3.6z"/><path d="M569.7 1151.3l3.6 3.6l-3.6 3.6l-3.6-3.6z"/><path d="M569.7 1157.9l3.6 3.6l-3.6 3.6l-3.6-3.6z"/><path d="M554.7 1157.9l3.6 3.6l-3.6 3.6l-3.6-3.6z"/><path d="M569.7 1171.6l3.6 3.6l-3.6 3.6l-3.6-3.6z"/><path d="M554.7 1175.6l3.6 3.6l-3.6 3.6l-3.6-3.6z"/></g>
<path d="M551.8 1157.7h21" stroke="#111" stroke-width="1.4"/>
<text x="473.7" y="1100.5" font-size="17.5" font-weight="bold" text-anchor="middle" style="stroke-width:0">**</text>
<text x="503.3" y="1085.5" font-size="17.5" font-weight="bold" text-anchor="middle" style="stroke-width:0">**</text>
<text x="532.3" y="1110.5" font-size="17.5" font-weight="bold" text-anchor="middle" style="stroke-width:0">**</text>
<text x="562.3" y="1129.5" font-size="17.5" font-weight="bold" text-anchor="middle" style="stroke-width:0">**</text>
<text x="2.0" y="1350.0" font-size="43" font-weight="bold">G</text>
<text x="169.2" y="1353.3" font-size="13.4" font-weight="bold" text-anchor="middle">CD83 MFI</text>
<path d="M98.5 1371.5V1514.5" stroke="#000" stroke-width="1.35"/>
<path d="M97.9 1514.5H240.5" stroke="#000" stroke-width="1.35"/>
<path d="M98.5 1371.5h-7M98.5 1407.5h-7M98.5 1442.5h-7M98.5 1478.5h-7M98.5 1514.5h-7M115.6 1514.5v6.5M142.2 1514.5v6.5M168.9 1514.5v6.5M195.5 1514.5v6.5M222.5 1514.5v6.5" stroke="#000" stroke-width="1.35"/>
<text x="90.1" y="1375.5" font-size="10.4" font-weight="bold" text-anchor="end">0.20</text>
<text x="90.1" y="1411.5" font-size="10.4" font-weight="bold" text-anchor="end">0.18</text>
<text x="90.1" y="1446.5" font-size="10.4" font-weight="bold" text-anchor="end">0.16</text>
<text x="90.1" y="1482.5" font-size="10.4" font-weight="bold" text-anchor="end">0.14</text>
<text x="90.1" y="1518.5" font-size="10.4" font-weight="bold" text-anchor="end">0.12</text>
<text transform="translate(117.8 1530.5) rotate(-45)" font-size="10.7" font-weight="bold" text-anchor="end">Vehicle</text>
<text transform="translate(144.4 1530.5) rotate(-45)" font-size="10.7" font-weight="bold" text-anchor="end">Paeoniflorin 200μM</text>
<text transform="translate(171.1 1530.5) rotate(-45)" font-size="10.7" font-weight="bold" text-anchor="end">QNZ 2 nM</text>
<text transform="translate(197.7 1530.5) rotate(-45)" font-size="10.7" font-weight="bold" text-anchor="end">QNZ 10 nM</text>
<text transform="translate(224.7 1530.5) rotate(-45)" font-size="10.7" font-weight="bold" text-anchor="end">QNZ 50 nM</text>
<path d="M115.6 1417.1V1444.6M110.8 1417.1h9.6M110.8 1444.6h9.6" stroke="#555" stroke-width="1.2" fill="none"/>
<g fill="#000"><circle cx="115.8" cy="1409.0" r="3.25"/><circle cx="115.8" cy="1418.5" r="3.25"/><circle cx="115.8" cy="1436.6" r="3.25"/><circle cx="122.0" cy="1434.8" r="3.25"/><circle cx="122.0" cy="1440.8" r="3.25"/><circle cx="109.6" cy="1445.5" r="3.25"/></g>
<path d="M105.1 1431.0h21" stroke="#111" stroke-width="1.4"/>
<path d="M142.2 1452.3V1472.3M137.4 1452.3h9.6M137.4 1472.3h9.6" stroke="#555" stroke-width="1.2" fill="none"/>
<g fill="#000"><rect x="132.8" y="1446.0" width="6.3" height="6.3"/><rect x="139.3" y="1444.0" width="6.3" height="6.3"/><rect x="139.3" y="1452.3" width="6.3" height="6.3"/><rect x="145.8" y="1467.3" width="6.3" height="6.3"/><rect x="132.8" y="1472.3" width="6.3" height="6.3"/></g>
<path d="M131.7 1460.0h21" stroke="#111" stroke-width="1.4"/>
<path d="M168.9 1432.3V1476.7M164.1 1432.3h9.6M164.1 1476.7h9.6" stroke="#555" stroke-width="1.2" fill="none"/>
<g fill="#000"><path d="M163.2 1426.9l3.5 6h-7z"/><path d="M169.8 1430.3l3.5 6h-7z"/><path d="M163.2 1462.9l3.5 6h-7z"/><path d="M175.8 1466.9l3.5 6h-7z"/><path d="M169.2 1480.2l3.5 6h-7z"/></g>
<path d="M158.4 1454.3h21" stroke="#111" stroke-width="1.4"/>
<path d="M195.5 1465.7V1489.0M190.7 1465.7h9.6M190.7 1489.0h9.6" stroke="#555" stroke-width="1.2" fill="none"/>
<g fill="#000"><path d="M192.0 1456.3h7l-3.5 6z"/><path d="M198.0 1465.6h7l-3.5 6z"/><path d="M185.6 1467.4h7l-3.5 6z"/><path d="M192.0 1473.4h7l-3.5 6z"/><path d="M185.6 1486.6h7l-3.5 6z"/><path d="M198.0 1486.6h7l-3.5 6z"/></g>
<path d="M185.0 1476.7h21" stroke="#111" stroke-width="1.4"/>
<path d="M222.5 1486.0V1494.0M217.7 1486.0h9.6M217.7 1494.0h9.6" stroke="#555" stroke-width="1.2" fill="none"/>
<g fill="#000"><path d="M215.5 1483.4l3.6 3.6l-3.6 3.6l-3.6-3.6z"/><path d="M222.5 1482.4l3.6 3.6l-3.6 3.6l-3.6-3.6z"/><path d="M229.0 1483.9l3.6 3.6l-3.6 3.6l-3.6-3.6z"/><path d="M218.0 1488.4l3.6 3.6l-3.6 3.6l-3.6-3.6z"/><path d="M226.0 1488.9l3.6 3.6l-3.6 3.6l-3.6-3.6z"/><path d="M222.5 1491.9l3.6 3.6l-3.6 3.6l-3.6-3.6z"/></g>
<path d="M212.0 1490.0h21" stroke="#111" stroke-width="1.4"/>
<text x="142.2" y="1431.2" font-size="17.5" font-weight="bold" text-anchor="middle" style="stroke-width:0">**</text>
<text x="168.9" y="1418.8" font-size="17.5" font-weight="bold" text-anchor="middle" style="stroke-width:0">*</text>
<text x="195.5" y="1447.8" font-size="17.5" font-weight="bold" text-anchor="middle" style="stroke-width:0">**</text>
<text x="222.5" y="1467.8" font-size="17.5" font-weight="bold" text-anchor="middle" style="stroke-width:0">**</text>
<text x="346.0" y="1350.0" font-size="43" font-weight="bold">H</text>
<text x="481.0" y="1353.3" font-size="13.4" font-weight="bold" text-anchor="middle">MHC-II MFI</text>
<path d="M409.5 1371.5V1514.5" stroke="#000" stroke-width="1.35"/>
<path d="M408.9 1514.5H552.3" stroke="#000" stroke-width="1.35"/>
<path d="M409.5 1371.5h-7M409.5 1419.5h-7M409.5 1466.5h-7M409.5 1514.5h-7M426.7 1514.5v6.5M453.7 1514.5v6.5M480.3 1514.5v6.5M507.0 1514.5v6.5M534.0 1514.5v6.5" stroke="#000" stroke-width="1.35"/>
<text x="401.1" y="1375.5" font-size="10.4" font-weight="bold" text-anchor="end">0.25</text>
<text x="401.1" y="1423.5" font-size="10.4" font-weight="bold" text-anchor="end">0.20</text>
<text x="401.1" y="1470.5" font-size="10.4" font-weight="bold" text-anchor="end">0.15</text>
<text x="401.1" y="1518.5" font-size="10.4" font-weight="bold" text-anchor="end">0.10</text>
<text transform="translate(428.9 1530.5) rotate(-45)" font-size="10.7" font-weight="bold" text-anchor="end">Vehicle</text>
<text transform="translate(455.9 1530.5) rotate(-45)" font-size="10.7" font-weight="bold" text-anchor="end">Paeoniflorin 200μM</text>
<text transform="translate(482.5 1530.5) rotate(-45)" font-size="10.7" font-weight="bold" text-anchor="end">QNZ 2 nM</text>
<text transform="translate(509.2 1530.5) rotate(-45)" font-size="10.7" font-weight="bold" text-anchor="end">QNZ 10 nM</text>
<text transform="translate(536.2 1530.5) rotate(-45)" font-size="10.7" font-weight="bold" text-anchor="end">QNZ 50 nM</text>
<path d="M426.7 1405.0V1433.3M421.9 1405.0h9.6M421.9 1433.3h9.6" stroke="#555" stroke-width="1.2" fill="none"/>
<g fill="#000"><circle cx="420.5" cy="1407.2" r="3.25"/><circle cx="427.2" cy="1411.6" r="3.25"/><circle cx="433.2" cy="1411.6" r="3.25"/><circle cx="427.2" cy="1418.9" r="3.25"/><circle cx="426.5" cy="1443.9" r="3.25"/></g>
<path d="M416.2 1419.0h21" stroke="#111" stroke-width="1.4"/>
<path d="M453.7 1441.0V1461.7M448.9 1441.0h9.6M448.9 1461.7h9.6" stroke="#555" stroke-width="1.2" fill="none"/>
<g fill="#000"><rect x="450.4" y="1430.0" width="6.3" height="6.3"/><rect x="450.4" y="1445.0" width="6.3" height="6.3"/><rect x="444.1" y="1457.3" width="6.3" height="6.3"/><rect x="450.4" y="1455.0" width="6.3" height="6.3"/><rect x="456.7" y="1456.0" width="6.3" height="6.3"/></g>
<path d="M443.2 1451.7h21" stroke="#111" stroke-width="1.4"/>
<path d="M480.3 1450.0V1470.7M475.5 1450.0h9.6M475.5 1470.7h9.6" stroke="#555" stroke-width="1.2" fill="none"/>
<g fill="#000"><path d="M480.2 1445.6l3.5 6h-7z"/><path d="M473.8 1448.9l3.5 6h-7z"/><path d="M480.2 1457.9l3.5 6h-7z"/><path d="M486.5 1458.9l3.5 6h-7z"/><path d="M480.2 1471.9l3.5 6h-7z"/></g>
<path d="M469.8 1460.0h21" stroke="#111" stroke-width="1.4"/>
<path d="M507.0 1463.3V1480.7M502.2 1463.3h9.6M502.2 1480.7h9.6" stroke="#555" stroke-width="1.2" fill="none"/>
<g fill="#000"><path d="M509.6 1457.9h7l-3.5 6z"/><path d="M497.0 1462.2h7l-3.5 6z"/><path d="M503.5 1470.9h7l-3.5 6z"/><path d="M509.6 1471.4h7l-3.5 6z"/><path d="M503.5 1483.9h7l-3.5 6z"/></g>
<path d="M496.5 1472.3h21" stroke="#111" stroke-width="1.4"/>
<path d="M534.0 1479.0V1492.7M529.2 1479.0h9.6M529.2 1492.7h9.6" stroke="#555" stroke-width="1.2" fill="none"/>
<g fill="#000"><path d="M539.8 1474.6l3.6 3.6l-3.6 3.6l-3.6-3.6z"/><path d="M533.1 1476.2l3.6 3.6l-3.6 3.6l-3.6-3.6z"/><path d="M527.1 1481.2l3.6 3.6l-3.6 3.6l-3.6-3.6z"/><path d="M539.8 1481.2l3.6 3.6l-3.6 3.6l-3.6-3.6z"/><path d="M534.1 1492.2l3.6 3.6l-3.6 3.6l-3.6-3.6z"/></g>
<path d="M523.5 1485.0h21" stroke="#111" stroke-width="1.4"/>
<text x="453.7" y="1422.2" font-size="17.5" font-weight="bold" text-anchor="middle" style="stroke-width:0">**</text>
<text x="480.3" y="1437.8" font-size="17.5" font-weight="bold" text-anchor="middle" style="stroke-width:0">**</text>
<text x="507.0" y="1447.8" font-size="17.5" font-weight="bold" text-anchor="middle" style="stroke-width:0">**</text>
<text x="534.0" y="1467.2" font-size="17.5" font-weight="bold" text-anchor="middle" style="stroke-width:0">**</text>
<text x="646.0" y="1349.1" font-size="43" font-weight="bold">I</text>
<text x="783.8" y="1353.3" font-size="13.4" font-weight="bold" text-anchor="middle">CD86 MFI</text>
<path d="M712.5 1371.5V1513.5" stroke="#000" stroke-width="1.35"/>
<path d="M711.9 1513.5H855.6" stroke="#000" stroke-width="1.35"/>
<path d="M712.5 1371.5h-7M712.5 1418.5h-7M712.5 1466.5h-7M712.5 1513.5h-7M730.3 1513.5v6.5M757.0 1513.5v6.5M783.8 1513.5v6.5M810.5 1513.5v6.5M837.2 1513.5v6.5" stroke="#000" stroke-width="1.35"/>
<text x="704.1" y="1375.5" font-size="10.4" font-weight="bold" text-anchor="end">0.3</text>
<text x="704.1" y="1422.5" font-size="10.4" font-weight="bold" text-anchor="end">0.2</text>
<text x="704.1" y="1470.5" font-size="10.4" font-weight="bold" text-anchor="end">0.1</text>
<text x="704.1" y="1517.5" font-size="10.4" font-weight="bold" text-anchor="end">0.0</text>
<text transform="translate(732.5 1529.5) rotate(-45)" font-size="10.7" font-weight="bold" text-anchor="end">Vehicle</text>
<text transform="translate(759.2 1529.5) rotate(-45)" font-size="10.7" font-weight="bold" text-anchor="end">Paeoniflorin 200μM</text>
<text transform="translate(786.0 1529.5) rotate(-45)" font-size="10.7" font-weight="bold" text-anchor="end">QNZ 2 nM</text>
<text transform="translate(812.7 1529.5) rotate(-45)" font-size="10.7" font-weight="bold" text-anchor="end">QNZ 10 nM</text>
<text transform="translate(839.4 1529.5) rotate(-45)" font-size="10.7" font-weight="bold" text-anchor="end">QNZ 50 nM</text>
<path d="M730.3 1405.9V1432.0M725.5 1405.9h9.6M725.5 1432.0h9.6" stroke="#555" stroke-width="1.2" fill="none"/>
<g fill="#000"><circle cx="730.3" cy="1399.5" r="3.25"/><circle cx="736.3" cy="1417.6" r="3.25"/><circle cx="724.3" cy="1417.6" r="3.25"/><circle cx="730.3" cy="1423.6" r="3.25"/><circle cx="730.3" cy="1437.0" r="3.25"/></g>
<path d="M719.8 1418.6h21" stroke="#111" stroke-width="1.4"/>
<path d="M757.0 1433.0V1441.0M752.2 1433.0h9.6M752.2 1441.0h9.6" stroke="#555" stroke-width="1.2" fill="none"/>
<g fill="#000"><rect x="747.2" y="1429.8" width="6.3" height="6.3"/><rect x="753.9" y="1432.1" width="6.3" height="6.3"/><rect x="759.6" y="1433.8" width="6.3" height="6.3"/><rect x="747.2" y="1436.4" width="6.3" height="6.3"/><rect x="753.9" y="1435.4" width="6.3" height="6.3"/></g>
<path d="M746.5 1437.0h21" stroke="#111" stroke-width="1.4"/>
<path d="M783.8 1435.3V1463.0M779.0 1435.3h9.6M779.0 1463.0h9.6" stroke="#555" stroke-width="1.2" fill="none"/>
<g fill="#000"><path d="M783.8 1426.0l3.5 6h-7z"/><path d="M783.8 1437.4l3.5 6h-7z"/><path d="M790.0 1447.4l3.5 6h-7z"/><path d="M777.1 1459.4l3.5 6h-7z"/><path d="M790.4 1459.4l3.5 6h-7z"/></g>
<path d="M773.3 1448.7h21" stroke="#111" stroke-width="1.4"/>
<path d="M810.5 1443.6V1469.4M805.7 1443.6h9.6M805.7 1469.4h9.6" stroke="#555" stroke-width="1.2" fill="none"/>
<g fill="#000"><path d="M807.0 1437.0h7l-3.5 6z"/><path d="M801.0 1443.7h7l-3.5 6z"/><path d="M807.0 1451.1h7l-3.5 6z"/><path d="M801.0 1468.8h7l-3.5 6z"/><path d="M813.7 1462.8h7l-3.5 6z"/></g>
<path d="M800.0 1456.0h21" stroke="#111" stroke-width="1.4"/>
<path d="M837.2 1451.0V1473.0M832.4 1451.0h9.6M832.4 1473.0h9.6" stroke="#555" stroke-width="1.2" fill="none"/>
<g fill="#000"><path d="M837.2 1446.1l3.6 3.6l-3.6 3.6l-3.6-3.6z"/><path d="M830.5 1446.7l3.6 3.6l-3.6 3.6l-3.6-3.6z"/><path d="M837.2 1459.4l3.6 3.6l-3.6 3.6l-3.6-3.6z"/><path d="M843.9 1460.8l3.6 3.6l-3.6 3.6l-3.6-3.6z"/><path d="M837.2 1470.8l3.6 3.6l-3.6 3.6l-3.6-3.6z"/></g>
<path d="M826.7 1461.0h21" stroke="#111" stroke-width="1.4"/>
<text x="760.4" y="1420.0" font-size="17.5" font-weight="bold" text-anchor="middle">ns</text>
<text x="783.8" y="1421.4" font-size="17.5" font-weight="bold" text-anchor="middle" style="stroke-width:0">**</text>
<text x="810.5" y="1430.5" font-size="17.5" font-weight="bold" text-anchor="middle" style="stroke-width:0">**</text>
<text x="837.2" y="1442.5" font-size="17.5" font-weight="bold" text-anchor="middle" style="stroke-width:0">**</text>
<text x="2.0" y="1659.3" font-size="43" font-weight="bold">J</text>
<text x="169.2" y="1658.3" font-size="13.4" font-weight="bold" text-anchor="middle">CD40 MFI</text>
<path d="M98.5 1676.5V1819.5" stroke="#000" stroke-width="1.35"/>
<path d="M97.9 1819.5H240.7" stroke="#000" stroke-width="1.35"/>
<path d="M98.5 1676.5h-7M98.5 1704.5h-7M98.5 1733.5h-7M98.5 1761.5h-7M98.5 1790.5h-7M98.5 1819.5h-7M115.7 1819.5v6.5M142.7 1819.5v6.5M169.3 1819.5v6.5M196.0 1819.5v6.5M222.7 1819.5v6.5" stroke="#000" stroke-width="1.35"/>
<text x="90.1" y="1680.5" font-size="10.4" font-weight="bold" text-anchor="end">0.25</text>
<text x="90.1" y="1708.5" font-size="10.4" font-weight="bold" text-anchor="end">0.20</text>
<text x="90.1" y="1737.5" font-size="10.4" font-weight="bold" text-anchor="end">0.15</text>
<text x="90.1" y="1765.5" font-size="10.4" font-weight="bold" text-anchor="end">0.10</text>
<text x="90.1" y="1794.5" font-size="10.4" font-weight="bold" text-anchor="end">0.05</text>
<text x="90.1" y="1823.5" font-size="10.4" font-weight="bold" text-anchor="end">0.00</text>
<text transform="translate(117.9 1835.5) rotate(-45)" font-size="10.7" font-weight="bold" text-anchor="end">Vehicle</text>
<text transform="translate(144.9 1835.5) rotate(-45)" font-size="10.7" font-weight="bold" text-anchor="end">Paeoniflorin 200μM</text>
<text transform="translate(171.5 1835.5) rotate(-45)" font-size="10.7" font-weight="bold" text-anchor="end">QNZ 2 nM</text>
<text transform="translate(198.2 1835.5) rotate(-45)" font-size="10.7" font-weight="bold" text-anchor="end">QNZ 10 nM</text>
<text transform="translate(224.9 1835.5) rotate(-45)" font-size="10.7" font-weight="bold" text-anchor="end">QNZ 50 nM</text>
<path d="M115.7 1695.7V1713.3M110.9 1695.7h9.6M110.9 1713.3h9.6" stroke="#555" stroke-width="1.2" fill="none"/>
<g fill="#000"><circle cx="109.2" cy="1694.2" r="3.25"/><circle cx="115.6" cy="1699.9" r="3.25"/><circle cx="109.2" cy="1704.2" r="3.25"/><circle cx="122.2" cy="1705.9" r="3.25"/><circle cx="115.6" cy="1718.2" r="3.25"/></g>
<path d="M105.2 1704.0h21" stroke="#111" stroke-width="1.4"/>
<path d="M142.7 1733.3V1744.3M137.9 1733.3h9.6M137.9 1744.3h9.6" stroke="#555" stroke-width="1.2" fill="none"/>
<g fill="#000"><rect x="133.3" y="1728.3" width="6.3" height="6.3"/><rect x="145.0" y="1731.8" width="6.3" height="6.3"/><rect x="139.3" y="1736.8" width="6.3" height="6.3"/><rect x="145.0" y="1740.8" width="6.3" height="6.3"/><rect x="133.3" y="1743.3" width="6.3" height="6.3"/></g>
<path d="M132.2 1739.3h21" stroke="#111" stroke-width="1.4"/>
<path d="M169.3 1744.0V1756.7M164.5 1744.0h9.6M164.5 1756.7h9.6" stroke="#555" stroke-width="1.2" fill="none"/>
<g fill="#000"><path d="M169.2 1737.9l3.5 6h-7z"/><path d="M162.5 1744.6l3.5 6h-7z"/><path d="M174.8 1746.3l3.5 6h-7z"/><path d="M169.2 1748.9l3.5 6h-7z"/><path d="M169.2 1755.6l3.5 6h-7z"/></g>
<path d="M158.8 1751.7h21" stroke="#111" stroke-width="1.4"/>
<path d="M196.0 1751.7V1765.0M191.2 1751.7h9.6M191.2 1765.0h9.6" stroke="#555" stroke-width="1.2" fill="none"/>
<g fill="#000"><path d="M186.3 1746.6h7l-3.5 6z"/><path d="M193.0 1748.9h7l-3.5 6z"/><path d="M199.0 1753.9h7l-3.5 6z"/><path d="M193.0 1760.6h7l-3.5 6z"/><path d="M193.0 1766.6h7l-3.5 6z"/></g>
<path d="M185.5 1758.3h21" stroke="#111" stroke-width="1.4"/>
<path d="M222.7 1756.0V1762.0M217.9 1756.0h9.6M217.9 1762.0h9.6" stroke="#555" stroke-width="1.2" fill="none"/>
<g fill="#000"><path d="M216.5 1750.3l3.6 3.6l-3.6 3.6l-3.6-3.6z"/><path d="M222.5 1754.6l3.6 3.6l-3.6 3.6l-3.6-3.6z"/><path d="M216.5 1756.3l3.6 3.6l-3.6 3.6l-3.6-3.6z"/><path d="M228.1 1756.3l3.6 3.6l-3.6 3.6l-3.6-3.6z"/><path d="M222.5 1757.2l3.6 3.6l-3.6 3.6l-3.6-3.6z"/></g>
<path d="M212.2 1759.2h21" stroke="#111" stroke-width="1.4"/>
<text x="142.7" y="1722.8" font-size="17.5" font-weight="bold" text-anchor="middle" style="stroke-width:0">**</text>
<text x="169.3" y="1734.5" font-size="17.5" font-weight="bold" text-anchor="middle" style="stroke-width:0">**</text>
<text x="196.0" y="1742.8" font-size="17.5" font-weight="bold" text-anchor="middle" style="stroke-width:0">**</text>
<text x="222.7" y="1747.8" font-size="17.5" font-weight="bold" text-anchor="middle" style="stroke-width:0">**</text>
<text x="346.0" y="1658.3" font-size="43" font-weight="bold">K</text>
<text x="493.3" y="1658.3" font-size="13.4" font-weight="bold" text-anchor="middle">CD80 MFI</text>
<path d="M422.5 1676.5V1819.5" stroke="#000" stroke-width="1.35"/>
<path d="M421.9 1819.5H565.7" stroke="#000" stroke-width="1.35"/>
<path d="M422.5 1676.5h-7M422.5 1704.5h-7M422.5 1733.5h-7M422.5 1761.5h-7M422.5 1790.5h-7M422.5 1819.5h-7M440.0 1819.5v6.5M466.7 1819.5v6.5M493.3 1819.5v6.5M520.7 1819.5v6.5M547.3 1819.5v6.5" stroke="#000" stroke-width="1.35"/>
<text x="414.1" y="1680.5" font-size="10.4" font-weight="bold" text-anchor="end">0.25</text>
<text x="414.1" y="1708.5" font-size="10.4" font-weight="bold" text-anchor="end">0.20</text>
<text x="414.1" y="1737.5" font-size="10.4" font-weight="bold" text-anchor="end">0.15</text>
<text x="414.1" y="1765.5" font-size="10.4" font-weight="bold" text-anchor="end">0.10</text>
<text x="414.1" y="1794.5" font-size="10.4" font-weight="bold" text-anchor="end">0.05</text>
<text x="414.1" y="1823.5" font-size="10.4" font-weight="bold" text-anchor="end">0.00</text>
<text transform="translate(442.2 1835.5) rotate(-45)" font-size="10.7" font-weight="bold" text-anchor="end">Vehicle</text>
<text transform="translate(468.9 1835.5) rotate(-45)" font-size="10.7" font-weight="bold" text-anchor="end">Paeoniflorin 200μM</text>
<text transform="translate(495.5 1835.5) rotate(-45)" font-size="10.7" font-weight="bold" text-anchor="end">QNZ 2 nM</text>
<text transform="translate(522.9 1835.5) rotate(-45)" font-size="10.7" font-weight="bold" text-anchor="end">QNZ 10 nM</text>
<text transform="translate(549.5 1835.5) rotate(-45)" font-size="10.7" font-weight="bold" text-anchor="end">QNZ 50 nM</text>
<path d="M440.0 1710.0V1736.7M435.2 1710.0h9.6M435.2 1736.7h9.6" stroke="#555" stroke-width="1.2" fill="none"/>
<g fill="#000"><circle cx="446.5" cy="1709.2" r="3.25"/><circle cx="439.9" cy="1711.6" r="3.25"/><circle cx="439.9" cy="1718.2" r="3.25"/><circle cx="439.9" cy="1725.9" r="3.25"/><circle cx="439.9" cy="1734.9" r="3.25"/><circle cx="439.9" cy="1744.2" r="3.25"/></g>
<path d="M429.5 1724.0h21" stroke="#111" stroke-width="1.4"/>
<path d="M466.7 1728.0V1734.0M461.9 1728.0h9.6M461.9 1734.0h9.6" stroke="#555" stroke-width="1.2" fill="none"/>
<g fill="#000"><rect x="457.4" y="1723.3" width="6.3" height="6.3"/><rect x="463.4" y="1725.0" width="6.3" height="6.3"/><rect x="469.4" y="1727.3" width="6.3" height="6.3"/><rect x="457.4" y="1729.3" width="6.3" height="6.3"/><rect x="463.4" y="1729.3" width="6.3" height="6.3"/><rect x="469.4" y="1729.3" width="6.3" height="6.3"/></g>
<path d="M456.2 1731.0h21" stroke="#111" stroke-width="1.4"/>
<path d="M493.3 1722.7V1749.3M488.5 1722.7h9.6M488.5 1749.3h9.6" stroke="#555" stroke-width="1.2" fill="none"/>
<g fill="#000"><path d="M499.8 1716.9l3.5 6h-7z"/><path d="M493.1 1722.3l3.5 6h-7z"/><path d="M486.5 1730.3l3.5 6h-7z"/><path d="M499.8 1726.9l3.5 6h-7z"/><path d="M493.1 1742.9l3.5 6h-7z"/><path d="M493.1 1754.6l3.5 6h-7z"/></g>
<path d="M482.8 1736.0h21" stroke="#111" stroke-width="1.4"/>
<path d="M520.7 1739.0V1759.3M515.9 1739.0h9.6M515.9 1759.3h9.6" stroke="#555" stroke-width="1.2" fill="none"/>
<g fill="#000"><path d="M516.9 1732.3h7l-3.5 6z"/><path d="M510.3 1740.6h7l-3.5 6z"/><path d="M522.9 1743.3h7l-3.5 6z"/><path d="M516.9 1745.6h7l-3.5 6z"/><path d="M510.3 1746.6h7l-3.5 6z"/><path d="M516.9 1762.2h7l-3.5 6z"/></g>
<path d="M510.2 1749.0h21" stroke="#111" stroke-width="1.4"/>
<path d="M547.3 1741.7V1764.0M542.5 1741.7h9.6M542.5 1764.0h9.6" stroke="#555" stroke-width="1.2" fill="none"/>
<g fill="#000"><path d="M547.1 1735.6l3.6 3.6l-3.6 3.6l-3.6-3.6z"/><path d="M540.4 1740.6l3.6 3.6l-3.6 3.6l-3.6-3.6z"/><path d="M547.1 1748.9l3.6 3.6l-3.6 3.6l-3.6-3.6z"/><path d="M540.4 1761.2l3.6 3.6l-3.6 3.6l-3.6-3.6z"/><path d="M553.7 1761.2l3.6 3.6l-3.6 3.6l-3.6-3.6z"/></g>
<path d="M536.8 1752.7h21" stroke="#111" stroke-width="1.4"/>
<text x="466.7" y="1712.1" font-size="17.5" font-weight="bold" text-anchor="middle">ns</text>
<text x="493.3" y="1712.1" font-size="17.5" font-weight="bold" text-anchor="middle">ns</text>
<text x="520.7" y="1732.8" font-size="17.5" font-weight="bold" text-anchor="middle" style="stroke-width:0">**</text>
<text x="547.3" y="1732.8" font-size="17.5" font-weight="bold" text-anchor="middle" style="stroke-width:0">**</text></svg>
</body></html>
